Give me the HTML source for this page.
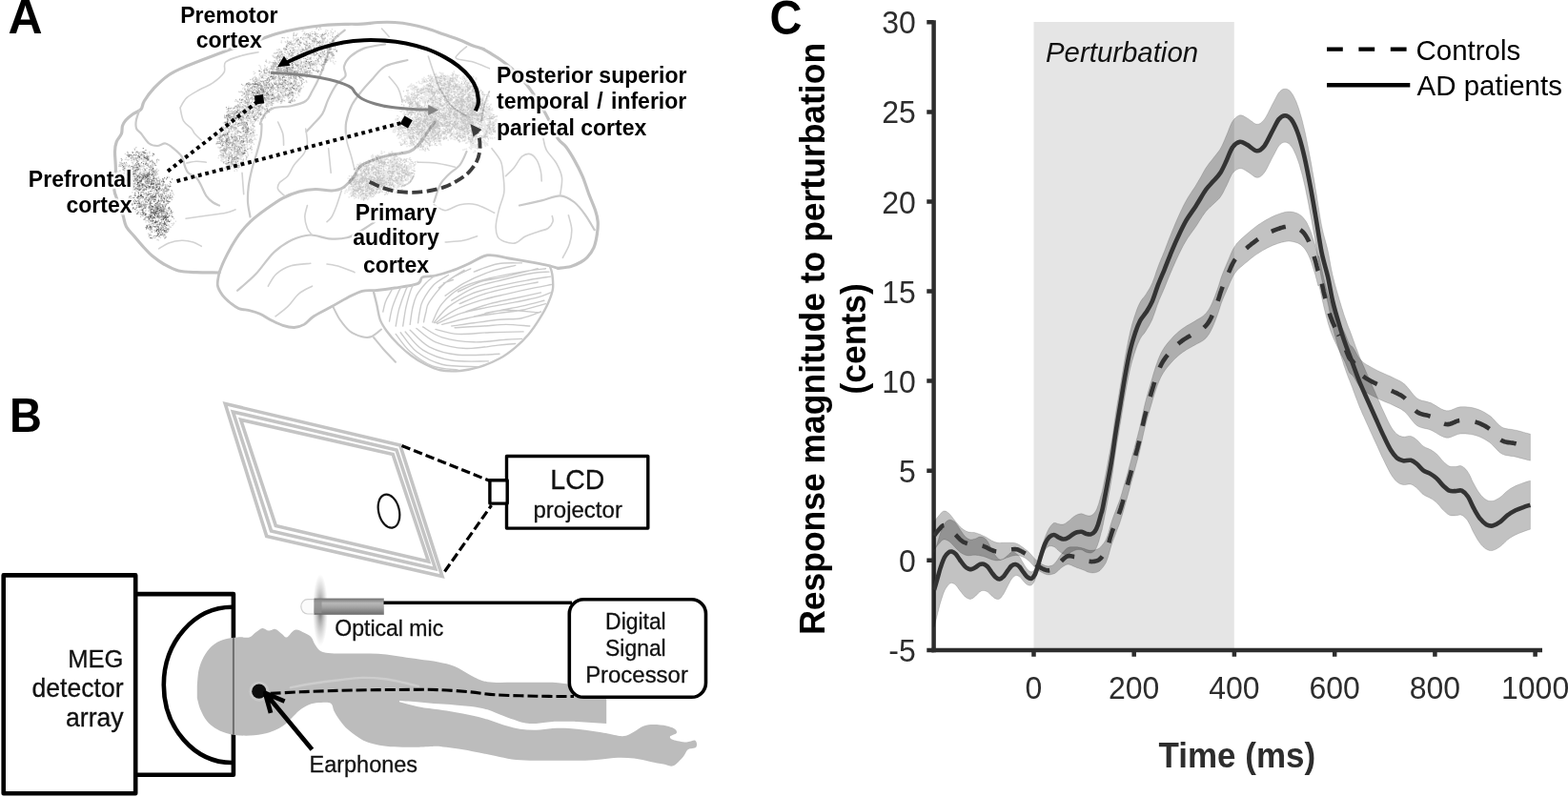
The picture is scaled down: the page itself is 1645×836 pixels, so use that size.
<!DOCTYPE html>
<html lang="en"><head><meta charset="utf-8"><title>Figure</title>
<style>html,body{margin:0;padding:0;background:#fff}body{width:1645px;height:836px;overflow:hidden}svg{display:block}</style></head>
<body>
<svg width="1645" height="836" viewBox="0 0 1645 836">
<rect width="1645" height="836" fill="#fff"/>
<g id="panelA">
<g fill="none" stroke-linecap="round" stroke-linejoin="round">
<path d="M230 286C226 285.9 213.1 286 206 285.7C198.9 285.4 192.9 285.4 187.2 284C181.5 282.6 176.4 279.6 171.8 277C167.2 274.4 163.3 271.4 159.9 268.6C156.5 265.8 154.5 263.4 151.3 260C148.2 256.6 144.1 251.7 141 248C137.9 244.3 134.5 241.5 132.5 237.8C130.5 234.1 130.4 230.1 129 225.8C127.6 221.5 125.5 216.6 124 212C122.5 207.4 120.1 204.1 119.7 198.4C119.3 192.7 121.3 184.6 121.4 178C121.5 171.4 120.4 163.9 120.5 159C120.6 154.1 121 151.9 122.2 148.8C123.4 145.7 126.4 143.1 127.4 140.3C128.5 137.5 127.7 134.4 128.5 132C129.3 129.6 130.2 128.1 132 126C133.8 124 136.7 121.6 139.3 119.7C142 117.8 145.9 116.9 147.9 114.6C149.9 112.3 149 109.7 151.3 106C153.6 102.3 157.3 97 161.6 92.4C165.9 87.9 171.3 82.6 177 78.7C182.7 74.8 188.7 72.4 195.8 69.3C202.9 66.2 211.4 63 219.7 59.9C228 56.8 236.8 53.5 245.4 50.5C254 47.5 263.3 44.5 271 41.9C278.7 39.3 284.5 37 291.6 35C298.7 33 305.8 31.4 313.8 30C321.8 28.6 331 27.3 339.5 26.5C348 25.7 358.2 25.5 365 25.3C371.8 25.1 374.7 25.5 380 25.2C385.3 24.9 391.3 23.8 397 23.5C402.7 23.2 408.3 23.1 414 23.5C419.7 23.9 425.3 24.6 431 25.7C436.7 26.8 442.6 28.3 448.4 30C454.1 31.7 459.8 34 465.5 36C471.2 38 477.5 40 482.6 42C487.7 44 492.3 46.5 496.3 48C500.3 49.5 503.2 49.8 506.6 51.3C510 52.8 513.4 55.2 516.8 57.3C520.2 59.4 522.7 60.7 527 64C531.3 67.3 537.8 72.3 542.5 77C547.2 81.7 550.9 86.5 555 92C559.1 97.5 563.3 104 567 110C570.7 116 574 122.1 577 128C580 133.9 582.5 141.1 585.3 145.4C588.1 149.7 590.9 150.3 593.8 154C596.6 157.7 599.5 162.5 602.4 167.6C605.3 172.7 608.4 178.7 611 184.7C613.6 190.7 615.5 197.6 617.8 203.6C620.1 209.6 623 215.9 624.6 220.7C626.2 225.5 626.9 228.3 627.2 232.6C627.5 236.9 627 241.8 626.3 246.3C625.6 250.9 624.6 255.9 622.9 259.9C621.2 263.8 618.3 267.5 616 270C613.7 272.5 612 273.4 609.2 275C606.4 276.6 603 278.4 599 279.5C595 280.6 587.6 281.1 585.3 281.4" stroke="#c1c1c1" stroke-width="3.2"/>
<path d="M585.3 281.4C583.9 281 581 279.8 576.7 278.8C572.4 277.8 566.7 276.7 559.6 275.4C552.5 274.1 542 272.3 534 271C526 269.7 518.9 266.7 511.7 267.7C504.5 268.7 497.3 274.3 491 277C484.7 279.7 479.7 282 474 284C468.3 286 462.1 287.9 457 289C451.9 290.1 446.5 289.4 443.3 290.8C440.1 292.2 442.9 295.7 438 297.6C433.1 299.5 421.3 300.9 414.2 302C407.1 303.1 401.1 303.9 395.4 304.5C389.7 305.1 385.1 304.1 380 305.3C374.9 306.6 370.3 309.3 365 312C359.7 314.7 354 318.3 348 321.6C342 324.9 334 328.7 329.2 331.8C324.4 334.9 322.4 338.4 319 340.4C315.6 342.3 312.4 343.4 308.7 343.5C305 343.6 300.7 342.6 296.7 341.3C292.7 340.1 288.7 338 284.7 336C280.7 334 276.5 331 272.8 329.3C269.1 327.6 266.2 326.8 262.5 325.9C258.8 324.9 253.9 324.9 250.5 323.6C247.1 322.3 244.8 320.3 242 318C239.2 315.7 235.7 312.7 233.4 309.6C231.1 306.5 228.9 303.2 228.3 299.3C227.7 295.4 229.7 288.2 230 286" stroke="#c2c2c2" stroke-width="2.8"/>
<path d="M230 286C230.8 283.9 233 278 235 273.7C237 269.4 239.4 264.6 242 260C244.6 255.4 247.1 250.9 250.5 246.3C253.9 241.7 257.6 237.2 262.5 232.6C267.4 228 273.9 223.1 279.6 219C285.3 214.9 291 210.8 296.7 207.8C302.4 204.8 308.1 202.6 313.8 201C319.5 199.4 325.3 198.6 331 198.4C336.7 198.2 343.2 200.3 348 200C352.8 199.7 356.3 199 360 196.7C363.7 194.4 367 190.3 370.3 186.4C373.6 182.5 374.1 176.8 380 173C385.9 169.2 397.4 165.7 405.7 163.4C414 161.1 423.9 161.2 429.6 159C435.3 156.8 436.8 153.9 439.9 150.5C443 147.1 445.7 142.3 448.4 138.6C451.1 134.8 454.7 129.8 456 128" stroke="#c2c2c2" stroke-width="3"/>
<path d="M392 306.2C392.6 308.5 394.3 315.1 395.4 320C396.5 324.9 397.1 330.8 398.8 335.3C400.5 339.8 402.6 342.9 405.7 347.2C408.8 351.5 413.3 356.7 417.6 361C421.9 365.3 426.7 369.6 431.3 373C435.9 376.4 439.9 378.9 445 381.5C450.1 384.1 455.7 387.1 462 388.3C468.3 389.6 475.7 389.6 482.6 389C489.5 388.4 496.3 387 503.2 384.9C510.1 382.8 517.4 379.7 523.7 376.3C530 372.9 535.7 368.6 540.8 364.3C545.9 360 550.2 355.8 554.5 350.7C558.8 345.6 563.1 339.1 566.5 333.6C569.9 328.2 572.8 323.1 575 318C577.2 312.9 579.3 307.9 580 302.8C580.7 297.7 579.8 291.4 579.3 287.4C578.8 283.4 577.1 280.2 576.7 278.8" stroke="#c6c6c6" stroke-width="2.4"/>
<path d="M349.7 322.4C350.9 324.5 353.8 331.2 356.6 335.3C359.5 339.4 362.9 344.2 366.8 347.2C370.7 350.2 376.1 352.2 380 353.2C383.9 354.2 386.7 354.3 390 353C393.3 351.7 398.3 346.8 400 345.5" stroke="#c8c8c8" stroke-width="2"/>
<path d="M392 354C393.7 356 398.2 361.7 402 366C405.8 370.3 412.8 377.4 415 379.7" stroke="#c8c8c8" stroke-width="2"/>
<path d="M274.5 130C274.4 132.3 274.5 138.6 273.6 143.7C272.7 148.8 270.9 155.1 269.3 160.8C267.7 166.5 265.6 172.2 264.2 177.9C262.8 183.6 261.5 189.3 260.8 195C260.1 200.7 259.7 206.6 260 212C260.3 217.4 262.1 224.9 262.5 227.5M272.8 130C273.7 128.3 275.5 122.5 278 119.7C280.5 116.9 283.4 114.4 288 113C292.6 111.6 299.9 112.4 305.3 111.2C310.8 110 317 108.6 320.7 106C324.4 103.4 324.9 100.3 327.5 95.8C330.1 91.2 333.4 84.7 336 78.7C338.6 72.7 340.7 65.9 343 59.9C345.3 53.9 346.6 47.5 349.7 42.8C352.8 38.1 359.7 33.5 361.7 31.6M489.5 159C488.4 161.3 485.7 168.8 482.6 172.8C479.5 176.8 474.1 179.6 470.7 183C467.3 186.4 464.6 188.5 462 193.3C459.4 198.1 456.4 208.9 455.3 212M545 215.5C548.9 214.7 561.1 212.1 568.2 210.4C575.3 208.7 582.1 205 587.8 205.3C593.5 205.6 598 208.6 602.4 212C606.8 215.4 610.8 220.9 614.3 225.8C617.8 230.7 622.1 238.6 623.7 241.2M249.1 304.8C252.3 301.9 261.9 294.3 268.3 287.6C274.7 280.9 281 270.6 287.4 264.6C293.8 258.6 300.2 254.6 306.6 251.6C313 248.6 319.3 246.7 325.7 246.5C332.1 246.3 338.4 249.8 344.8 250.3C351.2 250.8 358.2 250.7 364 249.3C369.8 247.9 374.5 244.4 379.3 241.7C384.1 239 390.5 234.4 392.7 233M146 116C145.5 117.8 143.3 123.4 142.8 126.6C142.3 129.8 142.3 132.8 143.2 135C144.1 137.2 145.8 137.4 148 140C150.2 142.6 153.6 148.3 156.4 150.5C159.2 152.7 162.1 153 165 153C167.9 153 170.8 150.1 173.6 150.5C176.4 150.9 179.2 153.4 182 155.7C184.8 158 188.7 161.1 190.7 164.2C192.7 167.3 192.9 171.7 194 174.5C195.1 177.3 195.5 179.3 197.5 181.3C199.5 183.3 203.7 184.1 206 186.4C208.3 188.7 209.5 191.8 211.2 195C212.9 198.2 214.3 202.5 216.3 205.3C218.3 208.1 220.7 210.3 223 212C225.3 213.7 228.8 214.9 230 215.5M404 46.3C400.4 47 388.2 48.4 382.1 50.6C376 52.8 371 56.2 367.5 59.4C364 62.6 361.9 66.2 361 69.6C360.1 73 363.7 76.6 362.4 79.8C361.1 83 356 84.5 353 88.6C350 92.7 346.6 99.5 344.2 104.6C341.8 109.7 341.1 114.8 338.4 119.2C335.7 123.6 330.9 127.8 328.1 130.9C325.3 134 322.6 136.8 321.5 138M427.4 63C423.5 64.1 410.1 66.3 404 69.6C397.9 72.9 395 78.3 390.9 82.7C386.8 87.1 382.8 91.3 379.2 95.9C375.6 100.5 371.7 105.2 369 110.5C366.3 115.8 364.2 123.1 363.2 128C362.2 132.9 362.9 138 362.8 140" stroke="#c9c9c9" stroke-width="2.2"/>
<path d="M189 113C190.1 111.3 192.4 105.8 195.8 102.6C199.2 99.4 205 96.6 209.5 94C214 91.4 218.8 90.2 223 87.2C227.2 84.2 232.7 79.7 235 76C237.3 72.3 233.6 68 236.8 65C240 62 248.3 59.9 254 58.2C259.7 56.5 268.2 55.3 271 54.7M189 113C189.6 115.3 190.4 122.9 192.4 126.6C194.4 130.3 199 132.7 201 135C203 137.3 202.6 138.3 204.3 140.3C206 142.3 210 145.9 211.2 147M291.6 128C292.5 130.1 295.7 136.3 296.7 140.3C297.7 144.3 297.5 150.2 297.6 152.2M195.8 171C197.5 170.7 202.6 169.4 206 169.3C209.4 169.2 214.6 170 216.3 170.2M195 229.2C199.1 228.6 212.7 226.8 219.7 225.8C226.7 224.8 232.2 224.2 236.8 223.2C241.4 222.2 245.3 220.4 247 219.8M166.7 260.9C168.4 259.9 173 256.3 177 254.9C181 253.5 186.4 252.5 190.7 252.3C195 252.2 199.2 253 202.6 254C206 255 209.8 257.6 211.2 258.3M254 181.3L255.7 203.6M344.6 155.7L347.2 181.3M320.7 135C321 137.6 322.7 146.2 322.4 150.5C322.1 154.8 321.3 157.1 319 160.8C316.7 164.5 311.6 168.8 308.7 172.8C305.8 176.8 304.4 181.6 301.8 184.7C299.2 187.8 295 189.3 293.3 191.6C291.6 193.9 290.8 196.1 291.6 198.4C292.5 200.7 297.3 204.2 298.4 205.3M362.8 140C363.1 141.7 363.3 146 364.3 150C365.3 154 367.3 159.5 368.6 164.2C369.9 168.9 371.4 175.7 372 178M322.4 215.5C322 217.5 319.8 223.5 319.8 227.5C319.8 231.5 321.2 236.4 322.4 239.5C323.6 242.6 326.2 244.9 327 246M358.3 200C357.4 202.6 354.9 210.9 353.2 215.5C351.5 220.1 349.7 224.7 348 227.5C346.3 230.3 343.8 231.8 343 232.6M400.5 30L408.2 38.5M408.2 80.4C409.8 82.4 415.3 88.1 417.6 92.4C419.9 96.7 421.3 103.7 422 106M449.3 59C450.3 62 453.2 71.2 455.3 77C457.4 82.8 459.1 88.6 462 94C464.9 99.4 469 105.5 472.4 109.5C475.8 113.5 479.2 115.7 482.6 118C486 120.3 491.3 122.3 493 123.2M489.5 48.8C488.1 50.1 482.7 54.3 481 56.4C479.3 58.5 476.6 60.2 479.2 61.6C481.8 63 490.6 63.3 496.3 65C502 66.7 510.5 70.7 513.4 71.8M513.4 95.8C512.5 98.1 509.7 104.4 508.3 109.5C506.9 114.6 505.5 123.8 504.9 126.6M438.2 170.2C441.3 170.3 450.4 170.2 457 171C463.6 171.8 474.1 174.6 477.5 175.3M516 155.7C517.6 158 523.4 164.5 525.4 169.3C527.4 174.1 527.4 179.3 528 184.7C528.6 190.1 529.5 196.1 528.8 201.8C528.1 207.5 525.1 213.3 523.7 219C522.3 224.7 520.6 231.2 520.3 236C520 240.8 520.6 245.1 522 248C523.4 250.9 525.7 252 528.8 253.2C531.9 254.3 537.1 255.8 540.8 254.9C544.5 254 547 250 551 248C555 246 560.7 244.3 564.7 242.9C568.7 241.5 572.5 241.2 575 239.5C577.5 237.8 579.3 234.8 580 232.6C580.7 230.4 579.4 227.6 579.3 226.6M530.5 184.7C531.9 183.3 536.1 179.6 539 176.2C541.9 172.8 544.7 166.6 547.6 164.2C550.5 161.8 553.6 161 556.2 161.6C558.8 162.2 561.1 164.6 563 167.6C564.9 170.6 566.4 175.9 567.3 179.6C568.2 183.3 568.1 188.3 568.2 190M570 145.4C570.5 147.4 571 153.1 573.3 157.4C575.6 161.7 580.9 166.2 583.6 171C586.3 175.8 588.8 181 589.5 186.4C590.2 191.8 588.1 200.7 587.8 203.6M596.4 225.8C597 228.4 599.7 236.1 599.8 241.2C599.9 246.3 598.8 251.8 597.2 256.6C595.6 261.5 591.5 268 590.4 270.3M455.3 214.7C457.3 215.7 462.6 220.7 467.2 220.7C471.8 220.7 477.2 215.7 482.6 214.7C488 213.7 493.7 213.3 499.7 214.7C505.7 216.1 515.5 221.8 518.6 223.2M467.2 254C470.3 253.7 480.4 253.4 486 252.3C491.6 251.2 498.2 248.5 500.6 247.7M422 195C423.3 194.4 427.6 193.3 429.6 191.6C431.6 189.9 433.3 185.8 434 184.7M281.3 300.2C282.7 298.1 285.9 291 289.9 287.4C293.9 283.8 299.3 280.6 305.3 278.8C311.3 277 322.4 276.7 325.8 276.3M289 331.8C291.1 330.1 297.7 325.6 301.8 321.6C305.9 317.6 309.5 311.5 313.8 307.9C318.1 304.3 325.2 301.5 327.5 300.2M343 277C345.3 277.4 351.8 278.2 356.6 279.7C361.4 281.1 369.4 284.7 372 285.7" stroke="#d2d2d2" stroke-width="1.6"/>
<clipPath id="cbc"><path d="M392 306.2C392.6 308.5 394.3 315.1 395.4 320C396.5 324.9 397.1 330.8 398.8 335.3C400.5 339.8 402.6 342.9 405.7 347.2C408.8 351.5 413.3 356.7 417.6 361C421.9 365.3 426.7 369.6 431.3 373C435.9 376.4 439.9 378.9 445 381.5C450.1 384.1 455.7 387.1 462 388.3C468.3 389.6 475.7 389.6 482.6 389C489.5 388.4 496.3 387 503.2 384.9C510.1 382.8 517.4 379.7 523.7 376.3C530 372.9 535.7 368.6 540.8 364.3C545.9 360 550.2 355.8 554.5 350.7C558.8 345.6 563.1 339.1 566.5 333.6C569.9 328.2 572.8 323.1 575 318C577.2 312.9 579.3 307.9 580 302.8C580.7 297.7 579.8 291.4 579.3 287.4C578.8 283.4 577.1 280.2 576.7 278.8L576.7 278.8C573.9 278.2 566.7 276.7 559.6 275.4C552.5 274.1 542 272.3 534 271C526 269.7 518.9 266.7 511.7 267.7C504.5 268.7 497.3 274.3 491 277C484.7 279.7 479.7 282 474 284C468.3 286 462.1 287.9 457 289C451.9 290.1 446.5 289.4 443.3 290.8C440.1 292.2 442.9 295.7 438 297.6C433.1 299.5 421.3 300.9 414.2 302C407.1 303.1 399.1 303.8 395.4 304.5C391.7 305.2 392.6 305.9 392 306.2Z"/></clipPath>
<path d="M401.8 327C402.2 325.3 403.2 320 404.3 316.9C405.4 313.9 406.9 311.3 408.5 308.6C410 305.8 412.6 301.6 413.5 300.2M408.5 337C409 334.5 410.1 327.2 411.8 321.9C413.5 316.6 416.6 309.4 418.5 305.2C420.5 301 422.7 298.2 423.5 296.8M415.2 342C415.8 339 417 330 418.8 323.6C420.7 317.2 423.9 308.6 426 303.5C428.2 298.5 430.9 295.2 431.9 293.5M422.7 342C423.3 338.7 424.5 328.6 426 321.9C427.6 315.2 429.8 306.9 431.9 301.9C434 296.8 437.5 293.5 438.6 291.8M430.2 340.4C430.6 337.6 431.6 328.6 432.7 323.6C433.9 318.6 434.6 314.7 436.9 310.2C439.3 305.8 443.6 300.5 447 296.8C450.3 293.2 455.3 289.9 457 288.5M438.6 338.7C438.9 336.7 439.4 330.9 440.3 327C441.1 323.1 441.1 320 443.6 315.2C446.1 310.5 450.9 303 455.3 298.5C459.8 294 467.9 290.1 470.4 288.5M444.5 337.9C444.9 336 446 330.5 447 327C447.9 323.5 447 321.9 450.3 316.9C453.7 311.9 460.9 302.4 467.1 296.8C473.2 291.3 483.8 285.7 487.1 283.4M453.7 337.9C455.3 334.6 458.7 324.6 463.7 318.6C468.7 312.6 475.4 306.3 483.8 301.9C492.2 297.4 503.3 294.6 513.9 291.8C524.5 289 537.7 286.8 547.4 285.1C557.2 283.4 568.3 282.3 572.5 281.8M455.3 338.4C457.9 335.6 464 326.9 470.4 321.9C476.8 317 485.2 312.2 493.8 308.6C502.5 304.9 512 302.7 522.3 300.2C532.6 297.7 546.6 295.2 555.8 293.5C565 291.8 573.9 290.7 577.6 290.1M457 338.7C460.4 336.5 469.3 329.2 477.1 325.3C484.9 321.4 495 318 503.9 315.2C512.8 312.5 521.2 310.8 530.7 308.6C540.2 306.3 552.9 303.5 560.8 301.9C568.8 300.2 575.5 299.1 578.4 298.5M458.7 339.5C462.9 337.7 474.6 331.6 483.8 328.6C493 325.7 504.4 323.9 513.9 321.9C523.4 320 532.4 318.6 540.7 316.9C549.1 315.2 558 313.6 564.2 311.9C570.3 310.2 575.3 307.7 577.6 306.9M463.7 340.4C468.2 339.2 480.7 335.6 490.5 333.7C500.3 331.7 512.8 330 522.3 328.6C531.8 327.2 539 327 547.4 325.3C555.8 323.6 568.3 319.7 572.5 318.6M473.8 342C477.7 341.5 488.8 339.8 497.2 338.7C505.6 337.6 515.6 336.2 524 335.3C532.4 334.5 540.2 335.1 547.4 333.7C554.7 332.3 564.2 328.1 567.5 327M477.1 343.7C482.1 343.4 498.3 342.6 507.2 342C516.2 341.5 522.6 340.4 530.7 340.4C538.8 340.4 551.6 341.8 555.8 342M465.4 296.8L475.4 293.5M480.5 306C484.6 304.2 497.2 297.8 505.6 295.2C513.9 292.5 520.9 292.4 530.7 290.1C540.4 287.9 558.6 283.2 564.2 281.8M508.9 328.6C512.5 328.1 521.5 325.4 530.7 325.3C539.9 325.2 558.6 327.4 564.2 327.8M497.2 285.1C501.4 283.7 513.9 278.3 522.3 276.7C530.7 275.2 543.2 276 547.4 275.9M467.1 310.2C470.4 308 479.3 301 487.1 296.8C495 292.6 505 288.2 513.9 285.1C522.9 282 536.3 279.5 540.7 278.4M473.8 315.2C477.7 313 488.3 305.5 497.2 301.9C506.1 298.2 517.3 296 527.3 293.5C537.4 291 549.4 288.2 557.5 286.8C565.6 285.4 572.8 285.4 575.9 285.1M482.1 318.6C486.3 316.9 498.6 311.3 507.2 308.6C515.9 305.8 524.5 303.9 534 301.9C543.5 299.8 559.1 297 564.2 296M488.8 327C493 325.6 505.3 321 513.9 318.6C522.6 316.2 531.8 314.7 540.7 312.7C549.7 310.8 563 307.9 567.5 306.9M497.2 332C501.4 331 513.9 327.9 522.3 326.1C530.7 324.3 539.3 322.9 547.4 321.1C555.5 319.3 567 316.2 570.9 315.2M460.4 301.9C462.6 300.2 468.2 295.2 473.8 291.8C479.3 288.5 490.5 283.4 493.8 281.8M457 345.4C460.9 346.2 471 349.8 480.5 350.4C489.9 351 502.5 349.2 513.9 348.7C525.4 348.3 543.2 348 549.1 347.9M443.6 342.9C447 344.7 454.8 351.1 463.7 353.8C472.6 356.4 486 358.4 497.2 358.8C508.4 359.2 522.3 356.8 530.7 356.3C539 355.7 544.6 355.6 547.4 355.4M436.9 344.5C440.3 346.9 448.4 355.3 457 358.8C465.7 362.3 477.9 364.9 488.8 365.5C499.7 366 513.7 363 522.3 362.1C531 361.3 537.7 360.7 540.7 360.5M430.2 346.2C433.6 349.2 441.9 359.5 450.3 363.8C458.7 368.1 468.2 370.9 480.5 372.2C492.7 373.4 516.7 371.5 524 371.3M425.2 347.9C428.3 351.1 435.5 362.1 443.6 367.1C451.7 372.2 462.3 376.1 473.8 378C485.2 380 505.8 378.7 512.3 378.9M420.2 348.7C423 352.1 429.7 363.2 436.9 368.8C444.2 374.4 453.1 379.6 463.7 382.2C474.3 384.9 494.4 384.3 500.5 384.7M415.2 350.4C417.7 353.5 423.8 363.2 430.2 368.8C436.6 374.4 445.3 380.7 453.7 383.9C462 387.1 476 387.4 480.5 388.1" stroke="#cbcbcb" stroke-width="1.4" clip-path="url(#cbc)"/>
</g>
<defs><filter id="sb" x="-5%" y="-5%" width="110%" height="110%"><feGaussianBlur stdDeviation="0.55"/></filter><filter id="sb2" x="-5%" y="-5%" width="110%" height="110%"><feGaussianBlur stdDeviation="0.4"/></filter></defs>
<g fill="none" stroke-linecap="round">
<g filter="url(#sb2)"><path d="M153 194.7h.1M153.5 193.7h.1M155.2 195h.1M135.1 188.4h.1M134.7 188.4h.1M135.4 190.2h.1M156.2 207.9h.1M153.4 206h.1M153.2 206.8h.1M142.1 180.9h.1M137.5 178.7h.1M138.5 180.7h.1M168 239.8h.1M169.9 238.6h.1M167 241.7h.1M169.6 227.5h.1M167 226.7h.1M166.5 228.5h.1M152.4 183.9h.1M152.2 182h.1M151.5 184.9h.1M143.7 197.5h.1M145.7 198h.1M145.2 197.9h.1M142.5 167.5h.1M141.1 167.5h.1M140.6 167.4h.1M148.3 194.9h.1M150.1 196.1h.1M148.2 195.3h.1M165.7 191.4h.1M165.4 190.8h.1M164.8 189.7h.1M150.3 198.1h.1M150.1 197.2h.1M149.6 196.2h.1M160.2 236.4h.1M162.4 235h.1M161.1 237.1h.1M147.4 206h.1M150.1 206.7h.1M148.6 204.1h.1M163.4 220.8h.1M163.7 219.8h.1M165.1 219.7h.1M160.7 219.8h.1M160.7 218.8h.1M161.7 218.8h.1M137.7 164.6h.1M138.9 166.6h.1M137.9 165.8h.1M164.2 213.8h.1M164.7 214.5h.1M166 216.1h.1M159 192.9h.1M160.8 192.3h.1M158.8 192.4h.1M169.7 239.9h.1M169.5 240.2h.1M171 240.7h.1M134.9 179.1h.1M136.7 177h.1M136.7 176.6h.1M172.1 208.2h.1M173.1 207.9h.1M170.9 206.7h.1M157.5 240.9h.1M158.6 239.2h.1M159.4 239.2h.1M163.6 208.4h.1M165.9 210.5h.1M163.9 207.2h.1M141.4 184.8h.1M141.5 185.3h.1M140.7 185.7h.1M147.1 177.5h.1M145.8 176.8h.1M147 176.1h.1M159.3 178.4h.1M158 179.8h.1M159.5 179.2h.1M157.9 214.4h.1M156.8 216.4h.1M157.8 214.9h.1M168.2 219.2h.1M168.9 220.2h.1M168.1 221.3h.1M156 233h.1M155.6 232.5h.1M156 231.4h.1M144.7 190.7h.1M145.9 189.8h.1M146.3 189.5h.1M149.1 173.9h.1M148.4 175.1h.1M150.9 176.5h.1M149.3 201h.1M151 200.2h.1M150.5 200.1h.1M148.1 212.5h.1M148.6 215.8h.1M150.2 214.1h.1M164.8 193h.1M166.5 193.6h.1M164.9 193.6h.1M147.5 202h.1M147.3 199.9h.1M147.8 202.3h.1M161.8 206.5h.1M163.9 206.2h.1M162.3 208.8h.1M142.8 167.3h.1M140.9 167.9h.1M140.1 165.6h.1M169.6 246.2h.1M167.8 244.1h.1M169 242.8h.1M139.4 170.4h.1M138.2 170.4h.1M139.5 170.1h.1M165 228.3h.1M164 226.9h.1M163.9 227.8h.1M164.1 215.2h.1M164.7 214.8h.1M166.4 214.6h.1M169.2 208.4h.1M169.1 207.3h.1M168.6 208.3h.1M146.1 189.5h.1M146.6 189.2h.1M148.1 188.5h.1M145.1 208.4h.1M146.4 209.5h.1M146.9 210.8h.1M143.8 199.1h.1M142.4 198h.1M142.5 200.2h.1M170.8 205.1h.1M170.4 208.8h.1M170.3 205.6h.1M160 234.1h.1M160.8 232.6h.1M159.4 234.5h.1M145.8 224.1h.1M147.3 222.9h.1M145.8 221.9h.1M148.4 163.6h.1M149.9 163.7h.1M146.4 165.2h.1M144.1 198.9h.1M143.2 197.9h.1M143.4 197.5h.1M135.9 180.8h.1M138.9 180h.1M137.9 180.1h.1M156 181.9h.1M157.1 180.1h.1M156.2 180.8h.1M178.6 194.3h.1M177.8 192.6h.1M178.4 193.7h.1M173.2 227.2h.1M174.8 228.6h.1M173.9 230.2h.1M130.2 175.1h.1M131.3 176h.1M130.6 176.6h.1M146.1 164h.1M145.7 162.2h.1M145.3 164h.1M130.4 182.8h.1M129.6 181.8h.1M129.9 184.5h.1M141.2 199.5h.1M139.5 199.1h.1M138.8 201.8h.1M181.9 228.7h.1M180.6 227.5h.1M182.5 229.4h.1M145.8 173.6h.1M145.6 173.2h.1M145.8 172.1h.1M139.3 181.3h.1M139.9 179.9h.1M140.5 182.3h.1M166.2 252h.1M165.4 251.4h.1M164.8 251.6h.1M163.5 217.9h.1M164.2 217.3h.1M162.9 216.2h.1M128.9 185.7h.1M127.2 186.3h.1M127.6 185h.1M171.1 215.2h.1M172.9 215.6h.1M172.8 216.9h.1M169.2 228.2h.1M171.1 227.4h.1M169.8 227.2h.1M146.6 196.8h.1M146.6 198.2h.1M148 197.3h.1M138.2 176.5h.1M137.7 174.5h.1M139.1 174.6h.1M150.9 182.4h.1M151.9 182.3h.1M150.9 185h.1M141.1 188h.1M141.3 184.6h.1M142.9 187.2h.1M159.1 175.9h.1M159.2 178.2h.1M158.9 178.2h.1M125.7 170.3h.1M129.5 172.5h.1M127.2 170.1h.1M171.2 190.2h.1M171.6 187.9h.1M171 189.3h.1M181.1 207.2h.1M180.2 207.2h.1M179.2 207.6h.1M161.6 211h.1M163 209.6h.1M161.3 208.7h.1M145.5 196.5h.1M145 197h.1M143.1 196.5h.1M143.1 187.5h.1M143.9 189.6h.1M142.5 186.8h.1M148.5 207.3h.1M149.8 206.3h.1M150.2 206.1h.1M133 179.7h.1M132.7 181.5h.1M131.9 179h.1M162.6 178.4h.1M160.7 177.8h.1M161.3 178.2h.1M161.3 180.8h.1M159.7 180.9h.1M156.7 181.5h.1M150.7 196.3h.1M149.7 195.3h.1M149.9 197.4h.1M133.9 163.3h.1M131.3 161.4h.1M134.3 161.9h.1M159.3 230.1h.1M162.3 229.4h.1M160 229.6h.1M148.1 180.6h.1M149.3 177.8h.1M150.2 179.3h.1M163.9 199.5h.1M164.4 196.4h.1M163.8 197h.1M158.6 203.1h.1M160.6 203.9h.1M158.2 206.4h.1M141.8 197.7h.1M142.9 198.4h.1M142.5 198h.1M148 196.6h.1M144.6 196.8h.1M144.9 196.1h.1M158.8 242.6h.1M158.3 243.1h.1M158.4 240.8h.1M146.7 185.3h.1M147.1 185h.1M146.4 186h.1M145 194.7h.1M146.7 197.8h.1M145.9 197.3h.1M146.5 183.1h.1M146.1 182h.1M145.3 182.8h.1M154 182.8h.1M153.4 181.3h.1M153 182.5h.1M140.2 204.9h.1M141.5 205.7h.1M141.7 203.4h.1M173.8 230.4h.1M175 228.6h.1M173.8 231.2h.1M165.4 234h.1M166 231.6h.1M165.6 232.4h.1M160.9 173.8h.1M161 171.3h.1M161.3 171.3h.1M125.7 179.3h.1M126.1 179.3h.1M123.9 180h.1M130.2 181.4h.1M130.7 181.9h.1M132.1 181.2h.1M141 189.1h.1M139.3 188h.1M140.4 189.6h.1M156.8 160.9h.1M156.5 159.9h.1M156.9 159.3h.1M176.7 221.1h.1M176.6 220.9h.1M177.4 220.8h.1M174.3 206.7h.1M173.9 205.8h.1M174.5 206.6h.1M153.6 220.1h.1M152.4 223.4h.1M150.6 222.7h.1M134.4 176.3h.1M132.7 176.4h.1M134.5 175.2h.1M160.1 173.2h.1M159.4 172.8h.1M159.9 173.3h.1M150.6 183.5h.1M148.7 182.8h.1M150.4 182.7h.1M161.2 189.8h.1M160.6 186.7h.1M161 189.4h.1M162.5 222h.1M163.7 222.7h.1M161.7 222.1h.1M133 186.3h.1M131.6 189.6h.1M134.1 188.6h.1M156 171.9h.1M152.8 172.5h.1M155.9 171.8h.1M167.8 200.5h.1M171.3 198.7h.1M170 200h.1M173.9 244.3h.1M174 243.9h.1M174 241.6h.1M156.1 187.6h.1M157.4 185.6h.1M158.4 186h.1M144.5 198.8h.1M144 197.4h.1M143.7 200.4h.1M154.4 212.1h.1M157.6 213.3h.1M155.7 211.2h.1M159.3 230.7h.1M161.8 234h.1M160 233.3h.1M182.4 234.2h.1M184.3 232.1h.1M181.9 235h.1M161 172.6h.1M161.1 170.8h.1M159.8 172.2h.1M165.4 182.7h.1M164.7 181.9h.1M163.6 184.4h.1M160.5 197.4h.1M161.2 199.5h.1M161.2 201.5h.1M138.4 168.1h.1M137.7 168.4h.1M138.1 168.6h.1M169 210.8h.1M164.8 212.5h.1M166.6 211.3h.1M143 217.5h.1M143 218.2h.1M143.3 218.1h.1M157.2 207.6h.1M156.9 208.7h.1M158.6 207.1h.1M157.4 221.8h.1M158.1 217.8h.1M156.7 219.6h.1M162.2 249.4h.1M163.5 249.3h.1M161 249.7h.1M139.3 213.4h.1M138.8 211.8h.1M138.1 212.9h.1M156.5 230h.1M158.8 231.7h.1M156.8 233.5h.1M152.9 188.3h.1M154.6 187.6h.1M155 187.2h.1M153.2 231.4h.1M151.1 229.9h.1M153 232.9h.1M170.3 221.7h.1M171 221.6h.1M171.9 219.5h.1M147 166.2h.1M146.4 165.4h.1M145.9 165.2h.1M149.6 181.6h.1M152.6 178.9h.1M151.6 177.9h.1M146 217h.1M149.1 220.5h.1M148.9 217.9h.1M138.6 185.6h.1M137.4 186.4h.1M138.4 185.8h.1M171.6 229.3h.1M172.8 231.8h.1M172.3 232.7h.1M150.2 165.1h.1M150.6 164.6h.1M152 165.4h.1M154.7 204.5h.1M152.1 204.9h.1M153.8 204.4h.1M165.6 235.8h.1M163.1 234.4h.1M165.7 231.9h.1M180.9 236.5h.1M179.2 238.2h.1M181 236.3h.1M166.2 245.1h.1M166.5 245.1h.1M166.1 243.2h.1M158.5 190.3h.1M156 192.4h.1M158.5 189h.1M169.8 207.9h.1M171.8 207h.1M171.3 206.7h.1M134.4 178.6h.1M134.5 179.4h.1M135 178.8h.1M176.4 200.3h.1M176.7 199.2h.1M175.8 198.1h.1M150.1 219.6h.1M150.7 218.4h.1M149 217.2h.1M176.2 221.6h.1M176.3 219h.1M175.7 220.7h.1M168.2 213h.1M169 211.7h.1M167.8 213.5h.1M142.4 160.5h.1M140.9 162.5h.1M142.6 161.2h.1M137.1 166.6h.1M134.2 168.1h.1M135.1 167.3h.1M151.5 179.2h.1M150.2 180.1h.1M153 179.2h.1M160.4 227.5h.1M157.8 227.5h.1M159.6 226.3h.1M159.2 230h.1M160.3 230.1h.1M159.4 229.4h.1M151.8 169.5h.1M152.4 171.3h.1M152 169.8h.1M146.4 211.1h.1M146.7 213.5h.1M147.9 214h.1M180.1 222.1h.1M179.8 220.4h.1M181.3 222.4h.1M148.6 183h.1M150.5 184.8h.1M147.6 185h.1M180.2 225h.1M178.6 224.5h.1M177.5 226.1h.1M166 228.1h.1M162.5 228.9h.1M162.3 228.8h.1M150.4 212.4h.1M148.4 213.4h.1M150.4 213.8h.1M147 185.8h.1M146.2 186.6h.1M145.8 187.6h.1M159.7 228h.1M159.5 228.5h.1M159.9 227.7h.1M163.4 227.4h.1M164.4 227.4h.1M164.1 228.4h.1M125.6 170.8h.1M125.8 170.6h.1M126.4 172.9h.1M132 174.3h.1M132.9 171.2h.1M130 173.3h.1M140.8 169.1h.1M144 168.8h.1M142.7 168.1h.1M152.1 218.2h.1M151.3 218.1h.1M153.1 217.8h.1M159.1 225.9h.1M158 225.6h.1M158.5 227.8h.1M160.1 191.6h.1M160.4 191.7h.1M160.1 192.4h.1M148 173.4h.1M146 176.8h.1M147.3 178.4h.1M168.4 207.2h.1M170.2 208.4h.1M170.7 208.4h.1M177.5 196.3h.1M176.9 195.1h.1M177.1 195.3h.1M145 201.4h.1M144.5 201.4h.1M145.1 199h.1M160.4 169.8h.1M159.5 170.7h.1M160.8 171h.1M182.4 204.1h.1M181.3 202.3h.1M181.2 203h.1M154.5 164.6h.1M157.5 163.4h.1M155.5 164.6h.1M137.2 184.2h.1M137.4 182h.1M137.9 183h.1M165.5 219.5h.1M166.5 218.5h.1M168.2 219.7h.1M162 203h.1M162.8 200h.1M162.6 200.5h.1M144.5 191.7h.1M145.4 195.5h.1M146.7 193h.1M142 210.6h.1M142.6 211.4h.1M143.4 211.3h.1M162.9 224.2h.1M162.5 223.6h.1M161.2 223.2h.1M137.6 179.7h.1M139.9 180.7h.1M139.9 181.3h.1M131.9 177.1h.1M130.3 176.9h.1M130.6 175.5h.1M161 199h.1M158.7 198.5h.1M160.6 195.8h.1M174.6 215.2h.1M174.7 214.4h.1M172.9 214.8h.1M173.4 215.9h.1M173.2 216.2h.1M171.5 215h.1M164.6 169.6h.1M164.4 169h.1M164.4 170.7h.1M164.1 241.8h.1M169 242.1h.1M164.5 242h.1M170.3 210.4h.1M172 212.9h.1M172.3 211.8h.1M155.5 173.7h.1M153.5 173.4h.1M154.7 173.2h.1M134.5 164.1h.1M133.6 163.4h.1M135.1 164.1h.1M175.4 232.8h.1M175.6 231.3h.1M174.1 230.2h.1M163.8 187.1h.1M163.8 186.9h.1M163.5 188h.1M173.7 207.2h.1M172.3 207.9h.1M172.7 209.4h.1M139.2 170.6h.1M139.1 171.7h.1M139.7 171.9h.1M173.6 197.5h.1M177 194.9h.1M173.8 195.1h.1M164.6 177.2h.1M164.2 178h.1M164.6 181h.1M153.8 209.9h.1M154.2 212.4h.1M152.4 212h.1M132.9 167.4h.1M131.3 167.2h.1M132.5 165.5h.1M154.7 180.9h.1M154.2 180.2h.1M152.2 181.3h.1M145.4 173.4h.1M145.1 174.4h.1M145.8 174.7h.1M153.1 189.8h.1M154.4 189.6h.1M152.5 192.1h.1M132.3 186.9h.1M131.5 186.4h.1M129.9 186.3h.1M168.2 238.2h.1M167.4 240.9h.1M169.4 238.1h.1M144 188.3h.1M141.7 189.3h.1M140.9 187.3h.1M157.3 225.8h.1M159.1 222.9h.1M159.4 224.6h.1M144.2 180.9h.1M144.2 179.8h.1M142.8 180.1h.1M152.7 192.7h.1M151.8 193.8h.1M152.5 191.5h.1M173.2 225.6h.1M172.1 224h.1M171.4 223.4h.1M148.2 189.7h.1M149 189.1h.1M147.4 189.3h.1M168.6 244.1h.1M168 246.6h.1M165.8 242.9h.1M171.9 220.3h.1M174.2 219.1h.1M173.6 219.4h.1M165.6 217.3h.1M165.3 217.9h.1M166.5 220.3h.1M150.6 194.9h.1M152.5 195.4h.1M153.7 195.2h.1M160.2 193.1h.1M157.5 195.8h.1M160.6 193.1h.1M145.7 173.4h.1M141.8 173.6h.1M143.3 173.9h.1M160.8 180h.1M159.9 180.6h.1M162.6 180.1h.1M165.9 192.6h.1M169.8 191h.1M167.3 189h.1M168.1 228.5h.1M171.2 226.8h.1M169.8 227.6h.1M148.2 174.1h.1M150.6 172.9h.1M149.3 174.7h.1M151.6 181h.1M150.4 182.3h.1M151.3 180.4h.1M152.3 215.1h.1M151.2 215.7h.1M153.8 215.8h.1M158.7 207.6h.1M156.1 211.1h.1M157.7 207.5h.1M132.9 191.8h.1M131.2 190.2h.1M133.3 190.2h.1M174.7 220.7h.1M174.3 219.2h.1M173.8 219h.1M132.4 183h.1M132.3 183.7h.1M135.3 182.1h.1M140.4 196.7h.1M140.7 195.5h.1M139.5 196.9h.1M169.7 226.6h.1M168.2 226.8h.1M169.9 225.9h.1M146.9 180.1h.1M144.2 178.4h.1M145 176.3h.1M142.5 167.6h.1M142.8 165.8h.1M141.2 166.4h.1M155 196h.1M153.4 198.7h.1M154.1 196.7h.1M144.8 212.2h.1M145.4 212.5h.1M146 211.6h.1M169.1 230h.1M170.6 228.7h.1M171.9 228.5h.1M145.2 185.6h.1M143.4 188.3h.1M145.9 187.9h.1M142.5 219.5h.1M143.2 220.5h.1M144.4 220.7h.1M149.9 161.5h.1M147.6 163.1h.1M148.6 161.2h.1M158.4 168.9h.1M156.3 166.5h.1M156.4 164.7h.1M143.1 165.8h.1M143.4 165.5h.1M140.2 165.1h.1M169.8 237.8h.1M169.4 239.9h.1M170.2 241.2h.1M133.7 173.2h.1M134.1 176.5h.1M133.2 173.9h.1M152.7 187.7h.1M150.7 187h.1M149.5 187.2h.1M161.2 176.8h.1M159.6 174.1h.1M159.9 176h.1M159.6 222.6h.1M161.1 224.6h.1M161.3 224.3h.1M136.8 181h.1M138.5 182.7h.1M138 183.2h.1M150.2 162.3h.1M151.2 163.2h.1M150.2 163.8h.1M140.3 207.3h.1M137.3 206.2h.1M141.1 207.4h.1M163.3 183.7h.1M162 182.5h.1M162 184.5h.1M152 193.7h.1M152.1 193.8h.1M152.1 190.5h.1M150.8 163h.1M150.3 162.8h.1M148.6 162.8h.1M145.8 208.4h.1M146 209.2h.1M145.5 209.6h.1M163.4 226.6h.1M165.1 224.3h.1M164 224.1h.1M176.8 241.2h.1M175.8 241.3h.1M174.8 241.7h.1M160 177h.1M159.9 178.8h.1M159.6 178.7h.1M144 223.8h.1M142.2 221.9h.1M143.9 223.7h.1M130.5 190.6h.1M128.6 189.1h.1M132 189.4h.1M149.5 197.3h.1M146.9 196.4h.1M147.8 198.4h.1M147.9 191.1h.1M145.4 189.4h.1M145.6 191.9h.1M146.6 177.2h.1M146.7 175.8h.1M146.4 176h.1M141 189.5h.1M142.8 186.5h.1M142.8 187.9h.1M152.2 190.5h.1M147.8 189.5h.1M152.8 187.9h.1M175.2 185.9h.1M177.6 186h.1M176 185.1h.1M180 234.4h.1M182.2 233.9h.1M179.2 231h.1M168.2 249.4h.1M166.9 248.4h.1M167.8 247.5h.1M147.9 166.3h.1M148.1 167.6h.1M147.7 166.3h.1M168.9 198.3h.1M167.7 200.1h.1M169 199.2h.1M173 226.8h.1M170.5 224.8h.1M170.6 226.6h.1M157.9 220.7h.1M158.6 219.3h.1M158.8 220.8h.1M161.4 183.2h.1M159.5 183.1h.1M159.7 181.4h.1M129.7 177.3h.1M130 176.8h.1M129 177.4h.1M166.9 229h.1M167.8 232.1h.1M167.3 229.4h.1M176.7 205h.1M174.8 202.9h.1M175.4 206.4h.1M174.9 196.5h.1M175.2 193.4h.1M173.5 194.1h.1M133.3 184.1h.1M134.7 183.7h.1M133.1 184.1h.1M171.3 224.2h.1M171.4 223.3h.1M172.5 221h.1M153.8 224.4h.1M153.2 225h.1M153.1 224.3h.1M172.1 214.8h.1M171.2 217h.1M171.1 216.3h.1M150.5 196.1h.1M150.9 193.3h.1M151.1 194.9h.1M176.5 236.2h.1M176.9 236.9h.1M176.8 235.8h.1M155 172.5h.1M153.8 172.1h.1M154.6 172.4h.1M173.5 222.7h.1M174.5 221.2h.1M173 223.1h.1M134.6 182.3h.1M134.5 183.1h.1M136.4 182.7h.1M162.3 181.6h.1M162.3 179.1h.1M162.9 180.8h.1M177.1 224.7h.1M177.8 223.4h.1M175.3 222.1h.1M157.5 239.7h.1M158 240h.1M157 238.4h.1M162.4 216.8h.1M162.4 217.8h.1M162.2 215h.1M145.2 173.6h.1M147.2 174.5h.1M145.3 175.3h.1M144.5 172.1h.1M143.4 175h.1M146.5 176.4h.1M151.8 195.6h.1M153.4 195.9h.1M152.9 195.7h.1M142.4 160.3h.1M143 159.4h.1M143.1 158.8h.1M176.8 226.6h.1M175 228.7h.1M175 230.7h.1M162.3 205.8h.1M163.4 204.1h.1M160.7 207.4h.1M167.3 194.9h.1M167.4 195.9h.1M168.6 198.4h.1M153.5 210.9h.1M153.1 210.5h.1M154.7 209.3h.1M153.3 186.4h.1M152.3 186.1h.1M152.8 188h.1M159.9 219h.1M161.7 222.1h.1M160.5 224h.1M151.3 225.1h.1M149.8 221.8h.1M151 226.1h.1M172.7 214.4h.1M173.3 214.1h.1M173.4 216.8h.1M175 195.3h.1M173.6 195.8h.1M174.9 194.7h.1M144.6 177.1h.1M144.5 177h.1M145.8 178.3h.1M168.9 194.3h.1M168.3 194.7h.1M169.7 195.1h.1M180.1 222.5h.1M178.2 224.6h.1M178.7 223.2h.1M150.6 161.9h.1M150.5 159.8h.1M150.9 160.4h.1M161.1 224.2h.1M160.3 224.4h.1M160.5 224h.1M138 206.1h.1M136.4 206.9h.1M137.5 207.7h.1M161.2 217h.1M159.9 216.1h.1M160.3 216.8h.1M166.8 223.9h.1M167.6 223.4h.1M165.7 222.3h.1M174.9 240.6h.1M176.9 240.4h.1M176.7 242.2h.1M151.1 198.4h.1M153.5 198.6h.1M152.2 198.1h.1M175.5 210.7h.1M176 212.7h.1M175.8 211.8h.1M150.4 185.4h.1M150.6 186.9h.1M149.5 186.9h.1M140.4 174.2h.1M141.4 174.9h.1M140.1 173.4h.1M132 187.8h.1M131.5 187.7h.1M130.3 188h.1M159.9 228h.1M158.8 227.8h.1M159.6 228.9h.1M169.3 204.5h.1M168.2 205.2h.1M170.3 203.7h.1M175.1 234.8h.1M174.4 233h.1M176.3 232.4h.1M157.4 168.9h.1M158.3 168.8h.1M157.1 170h.1M168.3 226.9h.1M168.5 227.9h.1M168.9 226.9h.1M178.9 205.9h.1M178 206.6h.1M179.4 207.9h.1M146.5 160h.1M148.1 159.5h.1M146.9 159.7h.1M165.3 215.7h.1M167.2 217h.1M165.9 215.4h.1M157.8 218.2h.1M156.4 215.9h.1M158.9 218.5h.1M151.6 174.5h.1M150.5 174.3h.1M150.4 174.7h.1M154.9 238.5h.1M155.1 236.8h.1M154.8 237.3h.1M158.7 221.5h.1M159.9 222.9h.1M157 219.9h.1M143.4 172.7h.1M147.4 171.9h.1M144.9 173h.1M164.1 198h.1M163.4 198.4h.1M166.2 197.7h.1M154.5 188.4h.1M155.3 189.1h.1M154.5 191.8h.1M171.1 243.9h.1M170.7 244.2h.1M172.7 243h.1M156.7 222h.1M157.2 220.2h.1M155.6 221.4h.1M164.2 237.9h.1M166.3 239.2h.1M167.8 240.5h.1M166.8 227.4h.1M165 226.7h.1M166.7 226.6h.1M168.2 207.4h.1M167.1 206.1h.1M166.2 208h.1M170.5 244.6h.1M172.5 246.2h.1M172.7 246h.1M162.5 228.4h.1M160.3 227.8h.1M160 228.5h.1M149.4 167h.1M146 168.1h.1M148.4 165.8h.1M166.7 211.7h.1M168.1 213.3h.1M166.7 211.5h.1M129.1 175.3h.1M129 177.3h.1M130.4 178.6h.1M167.5 211.7h.1M167.9 211.2h.1M168.3 213h.1M157.8 186.2h.1M161 187.3h.1M158.5 185.6h.1M171.2 219.8h.1M173.4 221.6h.1M171.4 220h.1M161.5 203h.1M163.8 203h.1M162 204.7h.1M172.8 243h.1M169.7 244.7h.1M172.7 242.7h.1M157.3 203.4h.1M156.4 202.9h.1M157.9 205h.1M155.8 231.6h.1M156.2 230.9h.1M154.7 231.4h.1M163.9 205.5h.1M163.9 204.3h.1M161.5 206.1h.1M153.1 183.1h.1M153.5 182.8h.1M153.4 182.2h.1M164.2 182.9h.1M166.4 178.8h.1M165.2 179.6h.1M168.7 205.5h.1M170.1 210.1h.1M169.2 209.1h.1M142.3 155h.1M143 154.5h.1M141 155.9h.1M131.4 177.1h.1M129.9 176.1h.1M130.2 177h.1M156.2 189.5h.1M156.2 188h.1M155.3 189.7h.1M161.6 228.3h.1M163.4 230h.1M162 228.2h.1M164.7 196.6h.1M164.9 196.5h.1M164.5 195.6h.1M158.6 238.6h.1M158.4 238.9h.1M156.9 237.3h.1M174.3 203h.1M174.4 200h.1M173.8 201.1h.1M152 215.4h.1M151.4 216.2h.1M150.4 215h.1M144.9 198.3h.1M145.7 197.2h.1M146.3 199.9h.1M176.4 212.3h.1M176.4 208.9h.1M175.8 211.2h.1M177.7 217.3h.1M178.9 219.1h.1M177.9 218.3h.1M155.3 190.1h.1M155.8 191.9h.1M154.1 190.3h.1M140.2 167.3h.1M138.6 167.9h.1M137.4 165.7h.1M161 170.7h.1M163.1 173.1h.1M162.4 171.5h.1M131.3 174.4h.1M131.1 171.7h.1M130.3 171h.1M144 184h.1M143.1 186.5h.1M145.2 185.4h.1M157.1 220.7h.1M156.2 220.4h.1M158.9 219.6h.1M154.3 163h.1M155.9 163.7h.1M153.9 162.7h.1M147.4 187.4h.1M147.8 188.2h.1M148.7 189.2h.1M157.9 219.4h.1M158.3 218.6h.1M158.2 220.4h.1M147.2 191.8h.1M146.8 194.5h.1M149.9 192.5h.1M171.8 205.7h.1M170.7 206.5h.1M172.2 206.4h.1M159.2 193.4h.1M157.7 194.6h.1M156.1 193.1h.1M178.6 238.2h.1M177.1 236.3h.1M177.9 238h.1M174.8 225h.1M173.3 223.8h.1M172.5 222.9h.1M166.4 186.6h.1M166.8 187.5h.1M166.4 185.7h.1M171.8 228.1h.1M170.1 226.9h.1M171.6 227h.1M158.4 243.5h.1M157.7 245.4h.1M159.7 242.1h.1M146.8 220.3h.1M148.8 219.3h.1M147.8 220.2h.1M156.2 236.7h.1M157.2 239.9h.1M157.8 238.5h.1M151.2 199.3h.1M151.6 199.8h.1M152.2 198.5h.1M166.7 201.3h.1M166.9 203.6h.1M165.7 202.6h.1M156.8 170.1h.1M159.5 168h.1M160.4 169.2h.1M175.1 206.5h.1M177.9 207.7h.1M178.2 206.3h.1M140.6 218.5h.1M140 218.2h.1M140.4 217.8h.1M174 204.3h.1M172.4 202.8h.1M175.1 200.7h.1M152.5 212.9h.1M153.6 207.3h.1M152.2 208.6h.1M156.8 236.8h.1M155.9 236.6h.1M156.8 237h.1M156.7 229.4h.1M158.1 228.7h.1M158.9 227.8h.1M159.1 174.9h.1M160.4 174.6h.1M158 173.8h.1M156.8 216.2h.1M153.5 215.2h.1M153.6 217.2h.1M162.7 222.9h.1M162.5 226h.1M162.3 225.5h.1M154.1 207.6h.1M154.4 206.6h.1M154.5 207.5h.1M156.6 188.6h.1M155.6 189.6h.1M157.6 186.7h.1M152.3 168h.1M153.8 165.8h.1M154.3 165.5h.1M152.6 193.9h.1M153 191.6h.1M151.7 190.8h.1M145.3 167.9h.1M144.6 169.2h.1M146.2 167.4h.1M148.8 184.1h.1M151.1 182.9h.1M151.2 185h.1" stroke="#000" stroke-opacity="0.16" stroke-width="1.4"/>
<path d="M150.8 203.9h.1M150.1 201.5h.1M152.9 202.3h.1M158.2 247h.1M158.3 246.9h.1M157 246.7h.1M159.3 240.7h.1M159.7 243.6h.1M157.4 241.1h.1M164.4 241.2h.1M164.8 240.4h.1M164.6 241.2h.1M170.3 218.1h.1M170.5 214.9h.1M168.7 217.1h.1M160.2 232.1h.1M159.1 232.4h.1M160.4 232h.1M135.2 183.7h.1M136.4 183.3h.1M135.4 181.3h.1M171.9 219.8h.1M172.5 219.5h.1M171.4 218.6h.1M163.1 182h.1M162.8 182.9h.1M163.9 180.3h.1M153.4 189.9h.1M152.6 191.2h.1M156 190.7h.1M161.7 227.1h.1M160.4 227.7h.1M158.6 228h.1M166.6 167.9h.1M164.4 167.8h.1M165.2 167.1h.1M176.4 240h.1M175.9 239.8h.1M176.6 240.2h.1M150.3 185h.1M150.9 186.8h.1M151.6 183.8h.1M147.6 227.3h.1M149.3 223.9h.1M148 225.4h.1M149.8 184.9h.1M147.9 182.9h.1M150.4 182.2h.1M164.4 225.2h.1M162.9 226.2h.1M163.3 224h.1M149.5 196.4h.1M151.7 197.9h.1M148.3 197.8h.1M155 182.7h.1M155.2 181.4h.1M154.8 181.6h.1M155.8 188.1h.1M156.7 187.7h.1M155 186.7h.1M127.6 168.3h.1M127.2 166.5h.1M128 167.3h.1M155.4 239.3h.1M156 240h.1M158.2 237.2h.1M151.7 165.2h.1M155.8 167.4h.1M154.5 164.2h.1M162.1 222.4h.1M163 222.6h.1M162.8 221h.1M145.7 215.4h.1M144.8 214.9h.1M148.9 214.6h.1M147.1 215.5h.1M146.6 214.5h.1M148.1 215.5h.1M174.4 198.4h.1M175.1 199.3h.1M172.7 197.2h.1M154.3 164.8h.1M152.1 165.1h.1M151.2 163.5h.1M159.4 209.1h.1M160.6 208.6h.1M157.9 208.1h.1M158.2 193.5h.1M159.1 192.8h.1M158.9 193.4h.1M146.6 165.4h.1M144.9 166h.1M146.1 164.4h.1M170.8 228.8h.1M169 230.4h.1M172.5 229.1h.1M164.7 193.7h.1M163.3 194h.1M162.1 190.9h.1M177 239.9h.1M174.1 239.5h.1M176.2 240.5h.1M178.5 204.5h.1M179.1 204.3h.1M178.2 205.9h.1M152.4 178.5h.1M151.8 177.1h.1M152.6 178h.1M171.9 222.3h.1M172.1 222.5h.1M171 222.9h.1M156.5 175.4h.1M157.9 174.7h.1M158 174.1h.1M172.9 246.3h.1M172.6 249.9h.1M173.6 249.5h.1M143.3 162.5h.1M145.4 164.5h.1M145.8 161.8h.1M146.5 213.1h.1M146.1 213.7h.1M145.6 211.4h.1M139.7 162.4h.1M139.5 163.8h.1M142.3 163.2h.1M151.9 229h.1M150.9 230.3h.1M152.2 230h.1M160.9 220.4h.1M160.7 220.4h.1M161.2 220.7h.1M160.9 248h.1M162.3 247.4h.1M163.6 247.7h.1M150.1 194.6h.1M150.2 193.3h.1M151.1 194.1h.1M173.1 227.5h.1M170.9 230.6h.1M171.1 229.7h.1M163.2 192.7h.1M161.7 194.9h.1M161 192.2h.1M166.7 225.9h.1M168 227.7h.1M169.2 224.1h.1M156.1 185.8h.1M156.7 184.7h.1M154.4 185h.1M167.1 218.5h.1M167.2 218.6h.1M164.8 216.7h.1M156.5 191.3h.1M154.2 192.6h.1M153.5 192.3h.1M157.5 228.4h.1M157.4 225.3h.1M157.6 226.9h.1M171.5 191.8h.1M170.5 193h.1M173.1 193.8h.1M164.9 195h.1M167.1 192.4h.1M165.7 192.4h.1M162.8 233.7h.1M163.4 232.1h.1M164.6 233h.1M159.9 180.1h.1M160 181.8h.1M161.6 179.6h.1M171.5 240.5h.1M171.2 240.9h.1M172 239.7h.1M167 239.8h.1M169.6 239.5h.1M169.7 239.4h.1M163.3 221.5h.1M163.9 219.4h.1M162.7 220.7h.1M166.8 199.2h.1M164.2 202.6h.1M166.4 204.5h.1M164.9 213.9h.1M165.9 214.8h.1M168.1 215.9h.1M127.2 172.1h.1M127 171.1h.1M128.5 171.4h.1M136.9 180h.1M137.7 178.5h.1M137.5 177.4h.1M149.3 214.8h.1M149 216.5h.1M147.6 214.2h.1M143.3 189.4h.1M143.1 189.5h.1M143.8 186.6h.1M162.2 171.3h.1M162.6 173h.1M163.6 173.6h.1M171.9 211.6h.1M172.6 208.9h.1M171.2 210.6h.1M146.1 184.6h.1M144.1 185.1h.1M145.1 184.7h.1M144.2 175.8h.1M143.3 175.4h.1M144.6 175.7h.1M180.2 209.3h.1M180.7 206h.1M178.6 207.6h.1M157.8 169.5h.1M160.7 170.2h.1M159.4 169h.1M167.1 234.9h.1M165.2 235.4h.1M167.6 235h.1M162.6 217.8h.1M163 218.9h.1M164 218.6h.1M140.6 184.3h.1M139 183.5h.1M138.6 183h.1M173.6 196.2h.1M174.6 197.5h.1M173.6 197.1h.1M152.3 185.4h.1M151.4 183.7h.1M150.7 186.3h.1M141.2 213h.1M140.6 211.7h.1M140.9 213.8h.1M140.6 178.7h.1M141.6 180h.1M140.7 179.9h.1M138.1 178.9h.1M138.1 177.6h.1M139.3 177.5h.1M162 190.9h.1M164.9 186.8h.1M163.4 187.3h.1M172.6 245.8h.1M172.9 247.8h.1M174.1 248.5h.1M156.6 184.9h.1M156.6 183.8h.1M156.5 182h.1M146.3 199.2h.1M145.4 202h.1M145.8 199.7h.1M170.8 241.5h.1M172.7 242.5h.1M169.6 241.3h.1M171.8 199.1h.1M170.5 198.2h.1M173.1 197.6h.1M163.8 221.6h.1M165.4 221.2h.1M163.2 222.3h.1M133.2 162.5h.1M133.8 159.4h.1M134.1 160.6h.1M153.5 203.6h.1M153.6 202.4h.1M151.9 203.2h.1M159.1 196.5h.1M162.3 197.1h.1M160.7 196.1h.1M163.7 223h.1M165 222.8h.1M164.8 224.2h.1M138.2 183.4h.1M137.5 182.8h.1M135.6 183h.1M144.2 171.9h.1M144.9 169.7h.1M142.4 171.5h.1M165.6 247.2h.1M166.4 242.8h.1M165.5 246.1h.1M138.6 163.9h.1M139.1 165.4h.1M140.1 162.6h.1M138.4 174.6h.1M137.5 174.9h.1M142.5 175.5h.1M155.5 191.8h.1M156.1 192.5h.1M154.8 194.5h.1M174.5 242.6h.1M175.6 243.5h.1M174.6 243.7h.1M167.5 228.2h.1M165.9 228.3h.1M165.8 227.7h.1M166.4 237.4h.1M163.5 238.1h.1M164.1 239.9h.1M141.4 162.4h.1M144.8 159.4h.1M143.3 159.5h.1M159.2 188.2h.1M159.3 188.3h.1M160.6 187.3h.1M178.5 232.1h.1M177.8 232.6h.1M177.7 232.7h.1M146.8 182h.1M147.1 180.9h.1M146.9 181.6h.1M160.2 204h.1M160.1 204.5h.1M159.5 205.9h.1M131 179.1h.1M129.2 178.3h.1M131.2 177h.1M147.3 190h.1M145.3 191.6h.1M145.8 193.4h.1M130.5 176.6h.1M130.9 176.6h.1M129.1 177.8h.1M150.7 202.1h.1M147.8 202.8h.1M148.7 201.5h.1M172.3 203h.1M169.3 199.4h.1M172.3 201h.1M151.9 218.2h.1M152.7 221.2h.1M149.4 224.2h.1M133.7 188.3h.1M136.4 189.1h.1M137.2 188.6h.1M160.2 179.4h.1M158.9 178.6h.1M163.3 179.1h.1M151.8 230.2h.1M153.1 228.3h.1M152.7 227.9h.1M162.5 205.6h.1M163.6 206.3h.1M163.2 204.1h.1M156.6 185.1h.1M155.9 184.3h.1M156.5 185.6h.1M146.7 217.6h.1M142.9 218.1h.1M147.2 217.2h.1M156.7 238.6h.1M154.5 238.4h.1M157.3 237.2h.1M171.4 238.8h.1M168.8 239h.1M171.5 241.8h.1M169.2 219.1h.1M167.3 218.6h.1M168.9 218.4h.1M148.5 193.6h.1M147.1 191.9h.1M148.5 192.6h.1M135.6 186.2h.1M135.6 188.7h.1M137.2 185h.1M169.3 208.5h.1M169.3 207h.1M169.1 208.6h.1M149.3 226h.1M147.4 224.1h.1M150.1 226.1h.1M171.7 210.6h.1M172.1 212.2h.1M172.8 211h.1M141.6 187.8h.1M142.7 187.6h.1M141.8 185.8h.1M173 196.5h.1M174.1 198.1h.1M170.5 197.9h.1M173.4 224.8h.1M171.4 222.8h.1M173 224.8h.1M133.6 187.9h.1M131.9 189.4h.1M132.6 188.4h.1M167.2 189.9h.1M164.4 188.1h.1M168.1 188.8h.1M149.2 192.7h.1M148.4 190.7h.1M149.6 193.7h.1M142.4 182h.1M142.4 181.6h.1M140.1 180.2h.1M171.3 194.3h.1M171.4 193.2h.1M170.5 194.5h.1M162 241.5h.1M163.5 242.4h.1M162.5 243.1h.1M170 215h.1M170.2 215h.1M168.4 214.2h.1M175.1 239.8h.1M175.4 240.4h.1M173.4 239.7h.1M149.7 220.2h.1M150.7 218.3h.1M148.8 220.4h.1M158.5 238.2h.1M158.4 239.7h.1M159 237.7h.1M164.6 220.9h.1M163.3 221.8h.1M161.3 223.2h.1M145.7 212.1h.1M143.4 211.6h.1M143.7 213.5h.1M173.2 217.8h.1M171.7 218.6h.1M172.1 221.7h.1M158.7 209.9h.1M158.4 210.8h.1M161.7 211.2h.1M163.7 216h.1M163.2 217.2h.1M163.4 218.3h.1M155.1 190.8h.1M154.5 192.1h.1M154.9 192.7h.1M169.4 221.3h.1M167.5 222.9h.1M168.6 222.6h.1M154 214.3h.1M155.2 214.1h.1M154.3 212.3h.1M144.5 206.3h.1M147.8 205.4h.1M147.8 207.8h.1M167.2 215h.1M166.8 216.6h.1M167.6 215.7h.1M125 174.6h.1M126.8 174.3h.1M125.1 173h.1M172.3 218.5h.1M170.6 220.4h.1M171.5 217.3h.1M155.5 210.6h.1M156.1 207.2h.1M155.1 209.4h.1M142.1 172.9h.1M141.5 173.2h.1M143.3 173.2h.1M143.4 184.2h.1M144.1 187.4h.1M144.3 184.4h.1M170.3 219.7h.1M169.4 218.8h.1M171.4 220h.1M163.6 210.8h.1M165.8 213.4h.1M165 212.7h.1M164.6 225.5h.1M162.7 224.5h.1M163.7 223.5h.1M135.3 207.3h.1M136.9 208.3h.1M138.8 208h.1M167.1 220.9h.1M167 222.1h.1M166.9 220.7h.1M164.1 221.9h.1M164.2 223h.1M164.3 222h.1M159 219.5h.1M158.5 219.7h.1M158.4 219.5h.1M159.3 231.4h.1M157.1 229.9h.1M158 231.2h.1M151.7 213.9h.1M151.2 216.6h.1M151.1 214.3h.1M157.9 192.1h.1M160.1 192.7h.1M158.1 191h.1M143.3 215.7h.1M144.1 217.1h.1M146.5 217h.1M163.8 193.4h.1M163.9 196.1h.1M162.7 196.1h.1M140.5 182.9h.1M140.8 178.9h.1M138 182.5h.1M158.7 217.6h.1M158.4 215.5h.1M158.4 216.5h.1M173.2 242.2h.1M173.6 243.5h.1M172 241.6h.1M146 204.8h.1M148.1 204.3h.1M147.5 205h.1M152.9 198.4h.1M153.8 198.2h.1M154.1 196.7h.1M142.6 197.1h.1M140.8 196h.1M142.4 196.8h.1M158.5 188.3h.1M161.5 189.8h.1M159.9 190.4h.1M134.8 163h.1M136.8 162.9h.1M134.5 163.9h.1M157.9 195.8h.1M156.3 197.2h.1M155.8 197h.1M153.3 199.1h.1M150.6 199.1h.1M149.4 199.4h.1M164.7 199.9h.1M164.8 199.7h.1M163.3 198.1h.1M166.6 235.2h.1M171.1 236.6h.1M167.3 236h.1M155.1 181.8h.1M156.9 182.4h.1M155.6 183.1h.1M151.5 218.2h.1M152.6 218.5h.1M152.4 218h.1M166.1 189.7h.1M164.8 189.7h.1M164.5 188.4h.1M156.8 177.7h.1M154 176.5h.1M156.5 178.6h.1M157.2 197.3h.1M156 195.7h.1M158.5 195.6h.1M174.9 200.8h.1M173.7 200.4h.1M175.8 199.5h.1M163.2 202.3h.1M164.8 202.5h.1M166.2 202.7h.1M145.4 210.3h.1M141.3 209.4h.1M144.4 210.4h.1M170.8 246.5h.1M171.4 247.8h.1M171.3 246.1h.1M162.1 219.8h.1M161.3 221.6h.1M162 220.2h.1M156.2 228.8h.1M156.7 227.4h.1M156.1 225.2h.1M164 235.9h.1M164.7 235.8h.1M164.4 235.3h.1M137 205.3h.1M136 206.7h.1M135.7 206.1h.1M144.6 160h.1M141.4 157h.1M144.1 159.1h.1M151.1 183.7h.1M151.4 186.1h.1M151.4 182.3h.1M147.5 192.2h.1M150.6 193.2h.1M151.4 194.3h.1M156.8 195.9h.1M157.2 196.2h.1M155.3 194.6h.1M165.8 224.8h.1M166.1 223.4h.1M165.6 226.7h.1M151.8 210.1h.1M149.9 211h.1M148.6 211.8h.1M168 221.7h.1M168.6 219.5h.1M165.2 219.7h.1M168.3 217.7h.1M168.3 219.2h.1M165.4 218.3h.1M141.9 179.3h.1M141.7 178.5h.1M141.2 178.2h.1M160.2 234.4h.1M160.9 235.2h.1M160.8 235h.1M164.7 218.8h.1M165.2 219.2h.1M165.2 218.5h.1M131.3 185.2h.1M130 185.4h.1M132.5 186.4h.1M164.1 203h.1M165.9 201.2h.1M165.4 203h.1M144.2 165.1h.1M141.5 162.6h.1M145.5 164.4h.1M157.1 188.3h.1M155.8 185.7h.1M157.2 186.9h.1M148.1 186.2h.1M148.6 186.8h.1M146 184.2h.1M148.5 183.4h.1M149.2 183.3h.1M148.1 185.6h.1M166.1 197.4h.1M165.7 195.3h.1M164.5 196h.1M156 218.6h.1M157.3 218.2h.1M157.7 220h.1M166.6 227h.1M167.5 227.8h.1M167.2 226h.1M170 236.9h.1M171 234.3h.1M169.7 233.8h.1M158.6 183.6h.1M156.6 181.2h.1M159 182.2h.1M147.6 207.6h.1M146.7 208.3h.1M149.7 208.2h.1M140.1 194.9h.1M141.3 192.4h.1M140.1 192.9h.1M162.6 198.7h.1M161.9 197.3h.1M162.8 196.1h.1M165.7 216.3h.1M167.4 213.6h.1M166.9 215.3h.1M160.6 185.1h.1M161.4 184.7h.1M158.8 183.5h.1M138.5 192.8h.1M140.6 193h.1M140.4 190.5h.1M166.2 240.8h.1M166.8 241.9h.1M168.2 241.3h.1M145.8 205h.1M145.7 205.3h.1M146.7 206.4h.1M156.1 198h.1M157.5 196.3h.1M157.3 196.8h.1M137.3 165.8h.1M135.5 164.3h.1M138.4 163.6h.1M155.8 174.7h.1M155.2 173.1h.1M154.9 173.5h.1M146.6 216.6h.1M146.2 215h.1M146 216.4h.1M170.9 202.1h.1M170.6 204.4h.1M171.7 201.9h.1M165.4 219.8h.1M167.7 222.1h.1M167 220.5h.1M164.3 217.6h.1M162.9 215.7h.1M164.2 216.4h.1M152.6 214.9h.1M151.5 214.9h.1M150.6 215h.1M143.9 168.8h.1M143.8 168.3h.1M143.3 166.9h.1M138.3 183.1h.1M138.7 185.2h.1M134.3 183.5h.1M134.6 187.3h.1M134.9 186.6h.1M136.5 187.1h.1M158.3 178h.1M156.5 180.2h.1M157 177.6h.1M157.7 175.9h.1M157.8 174h.1M158.6 175.8h.1M166.2 228.6h.1M166 231.9h.1M166.2 230.8h.1M144.2 194h.1M142.1 193.8h.1M144.4 193.2h.1M172.4 198.6h.1M171.2 200.2h.1M172.1 199.9h.1M153.5 211.7h.1M152.9 214.3h.1M152.5 211.7h.1M167.5 215.9h.1M166.8 218.1h.1M168.8 217.3h.1M174.3 238.7h.1M172.1 236.9h.1M172 239.6h.1M147.2 185.5h.1M146.7 182.4h.1M147.5 182.7h.1M173.7 235h.1M173.1 234h.1M173 237.3h.1M155.4 205.2h.1M156.9 203.7h.1M154.3 205h.1M156.9 226.9h.1M155.5 228.5h.1M155.3 226.9h.1M152.1 189.8h.1M151.7 188.2h.1M154.3 188.1h.1M179 207.7h.1M177.6 207.8h.1M177.9 208.2h.1M158.2 207.1h.1M161 206.1h.1M160.5 209.7h.1M155.6 165.1h.1M153.9 164.1h.1M155.1 163.9h.1M144.1 191.8h.1M143.9 190.2h.1M146.5 189.3h.1M134.1 188.9h.1M134.4 187.2h.1M133.9 188.4h.1M161.8 196.8h.1M158.9 196.7h.1M160.4 195.6h.1M162.4 189.3h.1M161 188.9h.1M163.7 191.1h.1M148.2 197.8h.1M146.9 195.6h.1M145.9 196.8h.1M132.3 170.3h.1M130.3 170.9h.1M131.9 172.9h.1M178.8 202.5h.1M180 199.6h.1M180.2 200.5h.1M152.6 160h.1M154.1 160.9h.1M151 160.5h.1M158.9 190.2h.1M157.2 190.4h.1M155.4 192h.1M180.4 227.6h.1M180 226.4h.1M181.4 227.3h.1M148.1 217h.1M150.2 219.1h.1M149.3 219.9h.1M135.7 178h.1M134.7 178.2h.1M132.6 178.4h.1M169.5 225.1h.1M169.4 225.4h.1M170 227.3h.1M177.1 199.1h.1M175.9 198.3h.1M176.9 198.3h.1M163.5 213.6h.1M164.8 214.2h.1M163.1 215h.1M142.3 190h.1M142.6 189.2h.1M142.9 189.3h.1M172.7 228.7h.1M173.7 226.7h.1M173.6 228.5h.1M175.2 232.5h.1M175 232.7h.1M174.2 231.2h.1M135.7 173.5h.1M135.1 174.7h.1M136.1 175.3h.1M167.7 215.7h.1M169 214.6h.1M167.1 216.8h.1M141 182h.1M142.6 183.6h.1M142.7 182.7h.1M172.5 235.5h.1M173.2 233.7h.1M172.1 236.6h.1M155.8 196.7h.1M156.8 197.4h.1M156.2 195.6h.1M142.9 166.6h.1M142 165.5h.1M140.3 167.1h.1M159.2 238.5h.1M158.2 235.2h.1M156.3 235.5h.1M163.8 192.1h.1M163.5 191.5h.1M165.9 193.3h.1M140.2 189.5h.1M141.9 192h.1M141.9 192.6h.1M152.2 217.5h.1M150.8 215.6h.1M152.9 216.5h.1M145.8 160.7h.1M148.1 161.7h.1M147.2 162.9h.1M156.3 247.9h.1M156.6 246.4h.1M155.8 245.1h.1M152.3 225.1h.1M152.4 223.9h.1M150.3 223.9h.1M166.8 222h.1M168.2 221h.1M166.6 222.8h.1M162.1 225.7h.1M161.7 222.4h.1M160 222.5h.1M166.5 205.4h.1M166.4 204.4h.1M166.2 205h.1M134.7 184.2h.1M133.2 182.9h.1M135.7 184h.1M139.9 176.3h.1M141.3 176h.1M140.3 176h.1M176.3 204.7h.1M175.9 206.9h.1M176.9 206.4h.1M141.6 213.3h.1M142 213.2h.1M139.9 210.5h.1M169.6 210.9h.1M168.3 210.2h.1M170.4 209.9h.1M148.8 162.5h.1M148.5 166.3h.1M151.3 163.4h.1M162.1 209.9h.1M162.3 206.3h.1M163.6 207.1h.1M173.6 238h.1M174.4 235.7h.1M175.3 236.6h.1M159.4 228.6h.1M159.9 229.7h.1M160.1 229.7h.1M159.6 200.2h.1M159.6 198h.1M158.3 200.4h.1M143.4 207.1h.1M144.6 207.9h.1M144.8 208.2h.1M149.9 185.4h.1M149.2 183.5h.1M150.2 184.5h.1M164.4 218.2h.1M165.8 218.5h.1M166.3 216.3h.1M160.7 219.9h.1M160.4 217.1h.1M160.4 217.7h.1M169.2 205.9h.1M169.7 203.6h.1M169.2 206.9h.1M149.4 187.7h.1M150.5 188.2h.1M150.1 185.9h.1M166.8 193.6h.1M170.3 194.9h.1M167.2 196h.1M158.5 220.7h.1M158.4 221.2h.1M159 222.7h.1M159.2 189.1h.1M159.3 190.4h.1M159.9 190h.1" stroke="#000" stroke-opacity="0.3" stroke-width="1.3"/>
<path d="M169.1 246.3h.1M168.3 246.2h.1M166.9 247.8h.1M135.4 162.4h.1M135.7 163.9h.1M137.1 162.3h.1M160 189.2h.1M161.8 187.7h.1M160.1 189.1h.1M152.9 157.5h.1M152.1 161h.1M151.9 160.5h.1M144 207.5h.1M147.5 205.2h.1M145 206.6h.1M132 190.2h.1M134.7 189.9h.1M133.7 189.4h.1M154.5 165.8h.1M155.2 166.7h.1M153.1 164.9h.1M175.9 228.4h.1M177.7 226.3h.1M176.2 227.4h.1M172.8 234.1h.1M173.3 235.1h.1M171.1 234.9h.1M159.1 191.3h.1M161.7 193.1h.1M161.3 192.4h.1M139.8 182.4h.1M140.9 182.3h.1M140.5 182.3h.1M148.7 188.4h.1M146.1 186.7h.1M148.4 189.7h.1M144.3 188.7h.1M142 187.9h.1M144.1 188.8h.1M146.1 194.3h.1M144.7 192.3h.1M144.2 195.3h.1M147.2 198.7h.1M146.1 199.1h.1M151 199.2h.1M154.3 184.4h.1M153.3 185.1h.1M154.1 183.6h.1M163.9 221.3h.1M165 221.3h.1M165.8 219.2h.1M157.7 226.2h.1M159.2 225.7h.1M158.3 226.8h.1M153.6 185.8h.1M152.6 185.3h.1M153 183.5h.1M151.1 164.9h.1M150.9 167h.1M151.9 165.6h.1M160.5 216.7h.1M159.7 216.8h.1M164.9 217.7h.1M154.3 183.4h.1M157.1 182.9h.1M155.1 184.1h.1M174 228.4h.1M173 228.2h.1M176.2 230.7h.1M158.2 193.1h.1M159 192.5h.1M158.4 193.7h.1M156.4 183.2h.1M155.5 184.5h.1M155.1 182.6h.1M144.9 163.5h.1M146.6 164.5h.1M145.1 163.5h.1M159.2 216.1h.1M160 216.6h.1M157.4 215h.1M161.3 206.7h.1M162.5 207h.1M163.4 204.8h.1M167.1 197.9h.1M165.9 198.8h.1M166.3 198.4h.1M149.8 159.4h.1M151.1 159.2h.1M150.2 155.6h.1M174.3 229.9h.1M174.3 229.4h.1M173.7 230.5h.1M150.1 222.1h.1M149.3 222.4h.1M149.7 220.4h.1M171.4 190.3h.1M171.1 188.9h.1M172.3 191h.1M143.8 193.5h.1M145.9 191.2h.1M144.4 191.5h.1M143 197.8h.1M141.1 198.3h.1M144.7 198.2h.1M166.4 245.3h.1M165.3 244.5h.1M167.3 243.9h.1M148.5 170.7h.1M150.1 169h.1M150.4 171.7h.1M163 237.7h.1M164.9 237.2h.1M162.3 237.9h.1M158.9 213.1h.1M157.8 211.9h.1M159.1 213.4h.1M156.4 208.9h.1M155.7 210.2h.1M159 207.8h.1M165.5 226.3h.1M165 227.2h.1M166.4 224.6h.1M163.2 213.3h.1M161.8 211.6h.1M165.2 212.2h.1M160.1 163.2h.1M161.6 161.9h.1M160.6 161.2h.1M169.7 232.1h.1M172.4 234.1h.1M172.2 235.1h.1M173.6 227.1h.1M174 227.4h.1M172.4 226.5h.1M162.6 209.3h.1M161.9 209.1h.1M163.1 209.5h.1M156.6 195.6h.1M156.6 195.8h.1M156.9 196.2h.1M147.7 204.3h.1M149.6 206.2h.1M148.4 205.8h.1M164.4 199.9h.1M164.9 200.8h.1M163.9 198.8h.1M147.9 190h.1M145 191.8h.1M146.8 190.4h.1M152.3 225.4h.1M152.4 225.7h.1M153.1 224.7h.1M142.6 179.2h.1M144 175.7h.1M145.2 177.4h.1M139.3 209.8h.1M137.4 208.7h.1M140 207.6h.1M157.1 214.6h.1M157.1 213.4h.1M156.3 216.9h.1M141.5 204.7h.1M141.8 202.4h.1M145.3 202.9h.1M161.9 224.1h.1M162.4 225.5h.1M161.8 224h.1M174.3 223.2h.1M175.4 223.4h.1M175.8 224.1h.1M160.9 197.2h.1M163.9 194.2h.1M164.5 196.4h.1M142.5 205h.1M145 205.7h.1M145.8 206.6h.1M158.6 205.9h.1M159.9 205.5h.1M157.8 205.9h.1M150.4 206.9h.1M148.3 204.6h.1M149.3 206.4h.1M129.6 189.1h.1M130.2 188h.1M127.9 186.7h.1M171.6 212.1h.1M172.2 208.5h.1M174.6 209.1h.1M177.1 217.6h.1M177.9 219.2h.1M176.8 218.6h.1M174.3 214h.1M173.4 216.1h.1M176 213.3h.1M156.1 217.7h.1M159.9 217h.1M157.1 217h.1M161 185h.1M161.9 186.3h.1M161.3 187h.1M170.9 238.1h.1M174.4 236.5h.1M169.4 236.1h.1M144.2 223.8h.1M145 222.6h.1M143.7 224.5h.1M147.7 189.9h.1M148.4 189.1h.1M148.3 188.8h.1M161.1 228.7h.1M161.5 227.9h.1M162.1 228.4h.1M156.3 229.3h.1M157.8 231.9h.1M155.9 230h.1M155.5 203.9h.1M155.8 201.4h.1M155.1 203.7h.1M146.3 213h.1M144.7 213.5h.1M146 213.3h.1M162.9 232.6h.1M160.4 231.5h.1M160.9 231.4h.1M141.5 219.6h.1M139.7 217.9h.1M139.5 219h.1M159.2 219.4h.1M159.8 216.9h.1M162 215h.1M143.8 170.3h.1M145.2 171.7h.1M145.7 172.1h.1M178 195.7h.1M178.8 195.5h.1M176.3 195h.1M158.2 203h.1M156.2 203.6h.1M157.8 200.7h.1M153 208.9h.1M153.1 207.4h.1M151.6 209h.1M171.6 227.4h.1M170.9 226.2h.1M169.3 227h.1M170.6 245.1h.1M168.7 245.9h.1M169.2 243.1h.1M161.6 180.6h.1M160.1 177.7h.1M160.5 176.4h.1M165.4 240.6h.1M165.6 238.1h.1M166.1 238.4h.1M177.1 211.6h.1M178 211.6h.1M175.9 211h.1M168.8 217.7h.1M170.6 216.2h.1M170.9 216.8h.1M153.7 227.1h.1M154.7 228h.1M155.6 227.6h.1M145.6 194.9h.1M146.8 194.3h.1M146.2 195.2h.1M152.3 195.2h.1M153.6 196.8h.1M153.4 196.1h.1M149.3 187h.1M151.9 184.4h.1M153.3 185.2h.1M136.9 178h.1M139.6 175.2h.1M138.9 177.2h.1M170.7 221.7h.1M171.7 221.1h.1M169.5 221.5h.1M153.8 239.3h.1M154.4 237.3h.1M154.1 236.3h.1M166.1 211.1h.1M166.6 210.7h.1M166.3 209.9h.1M153.7 171.6h.1M152.3 172.1h.1M153.8 171.5h.1M153.5 240h.1M154 237h.1M153.1 238.4h.1M167.7 191.1h.1M167.2 193h.1M168 193.2h.1M136.4 191h.1M137.4 192.7h.1M135.7 192h.1M159.1 183.8h.1M159.7 183.4h.1M160.5 182.6h.1M174 241.7h.1M172.3 241.5h.1M172.3 242.8h.1M149.1 193.9h.1M149.1 194.8h.1M149.5 193.5h.1M142.3 210.8h.1M141.5 213.4h.1M140.1 210.8h.1M172.1 190.7h.1M170.7 187.6h.1M169.7 190.2h.1M144.6 178.1h.1M142.6 178.6h.1M143.2 177.8h.1M160.6 197.5h.1M160.2 193.4h.1M160.4 195.9h.1M167.9 197.3h.1M167.4 196.8h.1M167.4 198.1h.1M136.4 180.2h.1M133.9 179h.1M136.6 177.1h.1M166.5 240h.1M165.3 240.8h.1M168.5 240.7h.1M176.3 227.8h.1M175.3 227.7h.1M174.6 226.8h.1M154.1 168.1h.1M153 166.4h.1M153.8 166.6h.1M163.5 233.4h.1M162.5 233.5h.1M163.8 232.2h.1M145 184.2h.1M146.3 185.9h.1M144.2 185.7h.1M169.1 221.9h.1M169.8 223.6h.1M169.3 222.1h.1M162.2 233.4h.1M164.9 232.8h.1M163.2 231.9h.1M157.5 249.6h.1M159.3 249.8h.1M158.6 249.6h.1M169.8 230.1h.1M172.1 228.7h.1M171.6 229.5h.1M157.4 227.6h.1M159.1 226.6h.1M158.1 226.8h.1M167.4 220.4h.1M169.1 220.1h.1M169.6 220.3h.1M153.5 170h.1M155.8 168.1h.1M154.9 167.6h.1M145.9 217.6h.1M147.1 216.6h.1M145.8 217.2h.1M165 219.2h.1M163.4 223.6h.1M165.1 218.9h.1M146.1 173.7h.1M143.1 177h.1M146.6 174.2h.1M171.9 207.5h.1M175.3 207.6h.1M173.9 205.7h.1M172.6 186.7h.1M175.6 186.4h.1M174.5 187.8h.1M164.5 247.3h.1M166.3 245.4h.1M165.5 246.2h.1M151.2 223.1h.1M150.3 224.3h.1M150.6 224.2h.1M168.7 233.9h.1M167.9 235.2h.1M167.8 233.7h.1M128.3 173.3h.1M129.8 174.5h.1M129.1 175h.1M160.2 206.4h.1M162.3 206h.1M160.1 207.4h.1M179.3 221.1h.1M180 223.2h.1M179.4 221.7h.1M174.1 225.5h.1M175.6 225h.1M174.3 227.2h.1M135.8 184.7h.1M135.6 182.7h.1M136.4 184.5h.1M167.2 206.2h.1M169.7 206.1h.1M168.2 203.9h.1M138.8 214.9h.1M138.7 214.1h.1M137.8 213.9h.1M174.6 210.8h.1M176.5 211.1h.1M175.2 210.9h.1M139.3 160.2h.1M139 159.6h.1M137.3 162.7h.1M161.3 224.1h.1M162.3 223h.1M163.2 223h.1M158.3 222.3h.1M158.9 223.7h.1M157.9 223.9h.1M157.6 213.2h.1M157 209.8h.1M157.3 211.8h.1M164.3 242.8h.1M164.4 241.7h.1M166.5 242.2h.1M150 184.8h.1M150.2 186.4h.1M152.7 187.1h.1M154.6 189h.1M154.2 190.3h.1M156.4 189.8h.1M173 235h.1M171.4 230.6h.1M172.4 232.8h.1M155.1 187.5h.1M153.3 186.5h.1M154.6 185.6h.1M161.2 220.9h.1M160 223.1h.1M160.6 222.8h.1M179.2 191.3h.1M178.6 190.4h.1M180.6 187.9h.1M176.8 231.9h.1M177.4 232.4h.1M176.1 230.8h.1M161.1 237.6h.1M157.6 237.6h.1M157.6 238.7h.1M134.4 191.1h.1M135.6 190.6h.1M133.6 189.4h.1" stroke="#000" stroke-opacity="0.52" stroke-width="1.2"/></g>
<g filter="url(#sb)"><path d="M261 106.7h.1M261.6 108.1h.1M260.7 107.8h.1M236.1 147h.1M235.7 148.5h.1M236.9 145.3h.1M236.7 135.2h.1M240.6 135h.1M237.1 132.9h.1M260.3 94.7h.1M258.7 96.1h.1M259.4 93.4h.1M251.8 111.6h.1M252 112.8h.1M248.5 112.8h.1M254.3 164.2h.1M251.8 162.6h.1M253 164.9h.1M292 83.2h.1M292 83.5h.1M293.2 82.9h.1M277.5 72.6h.1M277.7 71.6h.1M280.4 70.6h.1M288.1 69.2h.1M288 69.3h.1M288.4 70.6h.1M240.2 126.6h.1M240 125.7h.1M238 127.3h.1M344.2 37.4h.1M343.4 36.4h.1M343.6 37.9h.1M248.6 122.5h.1M249 122.1h.1M248.4 120.7h.1M286.5 65.8h.1M288.8 65.3h.1M286.2 66.1h.1M244.1 170.4h.1M242.1 172h.1M244.6 171.8h.1M278.3 123.6h.1M276.3 121.9h.1M276.5 124h.1M238.9 126.8h.1M239.3 127.5h.1M239.6 127.3h.1M251 123.5h.1M251 123.3h.1M250.6 124.2h.1M260.5 88.5h.1M262.8 88.4h.1M261.6 89.6h.1M257.8 139.5h.1M257.5 140h.1M257.5 138.6h.1M296.7 96.3h.1M298.1 95.9h.1M297.9 96.9h.1M296.7 95.1h.1M296.7 93.4h.1M299.7 94.7h.1M248.1 139.6h.1M247.9 137.9h.1M246.5 137.9h.1M322.8 55.1h.1M322 52.7h.1M322.2 53.7h.1M304.7 72.6h.1M303.4 75.2h.1M303.4 74.1h.1M311.8 92.9h.1M311.4 90.3h.1M312.5 94h.1M326.6 57.1h.1M328.1 57.1h.1M328 57h.1M298 77.2h.1M295.7 77.4h.1M298.3 79.6h.1M253.4 126.3h.1M253.7 125.3h.1M253.9 126.5h.1M234.2 145.8h.1M233.2 148.6h.1M233.1 148.5h.1M305.6 92.9h.1M305.6 92.4h.1M304.2 91.2h.1M333.2 61.9h.1M334.2 60.2h.1M334.9 60.7h.1M329.9 43h.1M330 40.6h.1M331 41.9h.1M327.1 37.4h.1M325.8 37.4h.1M324.8 37.3h.1M313.9 59.5h.1M311.2 59.9h.1M315.1 59h.1M267.7 116.1h.1M267.8 113.5h.1M266.8 114.5h.1M268.2 94h.1M269.9 94.6h.1M271.3 94.1h.1M255.1 162.4h.1M253.2 163.3h.1M255.3 161.9h.1M286 79.7h.1M285.8 80.8h.1M287.2 80.4h.1M267.5 116.5h.1M265.5 115.9h.1M269.6 114.9h.1M292.8 60.9h.1M290.5 60.5h.1M293.1 60.6h.1M283.4 108.6h.1M280.2 108.5h.1M283.2 108.7h.1M279.4 90.2h.1M279.8 88h.1M278.8 88.8h.1M254.8 133.5h.1M254.1 134h.1M255.5 132.7h.1M281 92.4h.1M280.2 92.7h.1M281.7 92.9h.1M259.2 145.6h.1M259.3 148.8h.1M259.1 144.9h.1M269.8 124.3h.1M270.5 122.1h.1M271.1 123.7h.1M257.3 130.3h.1M254 128.8h.1M256.5 128.4h.1M262.7 103.2h.1M260.5 102.6h.1M258 103.4h.1M257.1 137.5h.1M258.4 138.4h.1M257.7 138.8h.1M306.5 57.4h.1M305 60h.1M306.2 57.1h.1M265.2 129.7h.1M263.2 126.7h.1M264.7 131.6h.1M310.4 76.9h.1M309.3 79.9h.1M310.4 79.7h.1M278.4 96.6h.1M278.4 96.8h.1M276.2 97.7h.1M334.2 63.1h.1M332.5 66.4h.1M333.3 63.6h.1M232.6 164.4h.1M233.6 163.8h.1M231.6 164.7h.1M256 99.3h.1M256 98.5h.1M256.2 98.2h.1M320.8 51.6h.1M320.8 50.8h.1M321.3 52.4h.1M247.8 156.3h.1M246 153.8h.1M247.3 154.7h.1M265.4 127.2h.1M264.8 129.5h.1M268.1 125.9h.1M240.3 151.9h.1M240.2 152.2h.1M238.1 152.9h.1M262.3 126.9h.1M266.7 128.1h.1M262.4 129.8h.1M296.4 96.4h.1M296 94.6h.1M292.5 95.6h.1M257.2 132.6h.1M257.7 131.2h.1M259.3 129.2h.1M237.2 169.1h.1M237.9 172.2h.1M237.2 168.6h.1M323.4 67.4h.1M323.9 65.6h.1M323.5 67.9h.1M316.5 78.1h.1M313.4 78.2h.1M316.4 80h.1M262.3 145.5h.1M260.9 143.7h.1M260.3 144h.1M265.2 100.7h.1M264.5 102.3h.1M264 104.1h.1M295.9 54.1h.1M294.7 54.1h.1M294.4 54.8h.1M313.9 100.3h.1M312.4 97.8h.1M313 99.1h.1M312.5 74.8h.1M312.2 75.2h.1M312.4 75.6h.1M334.9 39.3h.1M332.1 40.4h.1M333.7 38.3h.1M295.9 66.3h.1M298.2 64.5h.1M296.6 64.5h.1M249.2 118.1h.1M249.1 116.1h.1M249.5 114.9h.1M307.2 61.4h.1M308 60.6h.1M305.4 59h.1M320.1 73.6h.1M318.3 70h.1M320.7 72.3h.1M310.8 76.4h.1M309.2 74.2h.1M311.9 74.7h.1M254.3 100.1h.1M255.1 98.6h.1M255.5 98.9h.1M286.5 104.5h.1M285 104.8h.1M285.6 105.1h.1M320 65.8h.1M319 64h.1M318 65.1h.1M295.2 62.3h.1M293.6 61.3h.1M293.7 61.8h.1M240.4 121.3h.1M242.2 119.4h.1M240.2 122.3h.1M303.4 82.4h.1M304.7 80.6h.1M302.8 81.6h.1M245.9 144.5h.1M243 146h.1M242.5 146.1h.1M295.5 92.1h.1M297 92.2h.1M295.3 91.9h.1M299.3 55.2h.1M304.3 55.5h.1M300.7 56.6h.1M244.4 154.2h.1M246.8 153.8h.1M246.1 154.3h.1M230.9 158.1h.1M233 158.6h.1M230.9 156h.1M303.9 56.4h.1M301.9 56h.1M302.9 56.7h.1M324.3 36.8h.1M324.3 36.9h.1M325.6 35.4h.1M272 83.2h.1M272.5 82.3h.1M274.1 81.4h.1M237.1 164.7h.1M235 165.8h.1M237 163.7h.1M253.5 107.4h.1M251.7 103.6h.1M251.3 104.9h.1M299.3 74.9h.1M299.4 72.7h.1M302 73.7h.1M292.6 60.5h.1M293 63.4h.1M293.4 61.5h.1M274.2 124.2h.1M273.4 125.1h.1M275.8 124.1h.1M302.2 48h.1M301.6 46.9h.1M301.3 49.6h.1M284.8 109.8h.1M284.8 109.4h.1M285.1 108.2h.1M309 53.3h.1M307.8 55.4h.1M306.3 56.5h.1M257.3 157h.1M256.9 158.1h.1M256.2 157.2h.1M293.1 87.4h.1M293.9 88.6h.1M294.1 88.9h.1M260.3 162.4h.1M258 163.4h.1M257.5 163.3h.1M308.6 82.1h.1M308.8 83.2h.1M308.6 82.7h.1M259.6 156.2h.1M260.5 156.1h.1M262.6 155.9h.1M271.6 120.2h.1M270.4 119h.1M272.1 119.3h.1M244.5 128.9h.1M244.1 129.3h.1M244.4 128h.1M287.5 104.8h.1M289 105.9h.1M291 105.4h.1M307.3 64.4h.1M306 66.8h.1M306.8 66h.1M242.7 158h.1M245.1 158.6h.1M243.3 158.3h.1M328 48.6h.1M332 46.4h.1M329.5 47.7h.1M234.9 137h.1M236.6 135.4h.1M234.8 136.1h.1M311.6 71.6h.1M310.8 75.3h.1M312.8 74.6h.1M329.7 43.3h.1M330.8 41.4h.1M328.9 42.9h.1M316 76.5h.1M314.9 75.2h.1M312.8 78.7h.1M309.4 86.6h.1M310.2 86.4h.1M307.7 86.9h.1M267 136.5h.1M266.5 139.4h.1M267.5 136.7h.1M255.1 116.5h.1M255.6 114.5h.1M254.3 114.2h.1M296.5 100.2h.1M297.7 101.7h.1M296.2 103.6h.1M265.9 90.2h.1M266.5 89.1h.1M268.3 88.8h.1M264.8 120.7h.1M264.4 120.4h.1M264.4 120h.1M279.8 74h.1M280.5 74.7h.1M282.1 75.5h.1M231.7 162.5h.1M229.5 163.4h.1M230.7 162.6h.1M337.8 36.8h.1M338.8 38h.1M336.8 38.2h.1M301.7 71h.1M300.9 71.2h.1M301.4 72.5h.1M310.9 93.9h.1M313.6 95.7h.1M313.1 95.2h.1M255.8 116.4h.1M257.3 117.3h.1M257.7 118.9h.1M290.5 72.6h.1M290.5 72.5h.1M291.1 73h.1M259.3 113.7h.1M257.5 111.6h.1M258.2 114.1h.1M316.1 81.5h.1M316.4 81.9h.1M316.7 79.5h.1M310.9 74.4h.1M313.2 74.6h.1M312.3 76.8h.1M306.2 90.8h.1M303.2 91h.1M305 91.9h.1M235.8 157.8h.1M235.7 156.3h.1M234.3 158.9h.1M321.7 36.8h.1M322.8 35.3h.1M323.2 37.3h.1M237.8 157.4h.1M237.5 157.8h.1M236.8 156.7h.1M233.3 152h.1M233.3 151.9h.1M233.1 149.4h.1M321.7 74.6h.1M320.1 76.6h.1M320.8 76h.1M262.4 141.7h.1M262.5 142.2h.1M261.4 143.8h.1M302.6 44h.1M301.8 44.9h.1M304.2 45.7h.1M300.1 99.9h.1M299.2 100.1h.1M299.3 100.2h.1M240.4 131.5h.1M239.2 131.2h.1M241.8 130.9h.1M284.3 77.9h.1M286.6 75.7h.1M286.5 78h.1M323.3 48.5h.1M322.5 47.3h.1M323.2 46h.1M324.7 49.9h.1M325.7 46.6h.1M325.5 48.6h.1M292 99.5h.1M291.4 98.6h.1M291.6 99.3h.1M329.1 44.8h.1M328.1 43.4h.1M330.3 42.8h.1M266.5 77.4h.1M266.1 75.3h.1M267.7 76.5h.1M248.7 140.5h.1M249.5 139.8h.1M247.2 141.3h.1M296.6 76.7h.1M298.1 75.2h.1M299 75.4h.1M270.7 126.8h.1M271.2 124.3h.1M270.6 126.7h.1M261.5 146.9h.1M262.4 148.5h.1M261.3 149h.1M240.5 160.3h.1M241.3 160.8h.1M240.3 161.9h.1M271.6 105.7h.1M270.2 105.2h.1M271.8 105h.1M313.1 94.2h.1M312.5 91.9h.1M314.5 94.2h.1M254.4 147.7h.1M255.3 148.7h.1M255 148.1h.1M321.1 64.1h.1M321.8 62.5h.1M320 64.2h.1M324.3 74.6h.1M325.4 73.2h.1M324 74.2h.1M263.2 117.3h.1M265.7 117.8h.1M266.1 118.3h.1M248.4 130.9h.1M249.5 131.8h.1M249.8 132.4h.1M279 98.9h.1M277.8 96.6h.1M278 96.3h.1M328 49.1h.1M327.9 48.4h.1M328.2 47.5h.1M299.8 48.4h.1M302.8 47.7h.1M302.8 51.4h.1M258.5 139.3h.1M257.4 140.9h.1M258.4 139.2h.1M268.1 83.4h.1M269 83.3h.1M269.8 82.9h.1M241.4 150.6h.1M240.3 146.8h.1M241.4 147.9h.1M288.6 81.8h.1M289.6 81h.1M289.5 80.2h.1M325.2 73.8h.1M325.1 75.6h.1M323.9 75.6h.1M335.7 43h.1M336.5 42.8h.1M335 43.4h.1M236 158.6h.1M234.8 157.8h.1M235.1 158.9h.1M336.6 30.6h.1M335.5 29.2h.1M335.9 28.6h.1M294.8 74h.1M296.2 75.6h.1M294.3 73.4h.1M238.3 148.3h.1M238.8 148.9h.1M236.2 148.7h.1M243.5 167.5h.1M241.1 166.5h.1M242.1 166.1h.1M246.2 154.4h.1M246.2 155.4h.1M247 154.3h.1M318.9 72.5h.1M320.8 73.3h.1M321.9 72h.1M271.5 112h.1M270.2 113.3h.1M270.4 111.7h.1M273 69.7h.1M273.4 71.2h.1M271.9 68.6h.1M260 141.1h.1M256.5 141.2h.1M259.9 141.7h.1M313.1 41.1h.1M313.1 40.1h.1M312.6 40h.1M264.1 127.7h.1M263.1 128.3h.1M262.6 128.1h.1M262.2 124.3h.1M263.6 125.7h.1M264.1 123.5h.1M231.1 139.7h.1M231.1 142.1h.1M231.1 140.2h.1M245.2 165.9h.1M245.4 169.5h.1M244.6 169.5h.1M240.7 147.4h.1M240.2 147.6h.1M239.2 149.7h.1M246.6 144h.1M247.5 143.7h.1M247.1 142.7h.1M322 68.2h.1M321.7 67.2h.1M321.6 69.9h.1M270.5 99.3h.1M271.1 100.6h.1M271.9 98.4h.1M305 87.8h.1M304.2 86h.1M305.2 86.9h.1M274.4 92.9h.1M274.3 95.7h.1M274.3 94.7h.1M312.9 86.4h.1M316.7 87.6h.1M313.1 86.6h.1M335.4 51.1h.1M335.1 51h.1M333.5 50.2h.1M294.8 96.1h.1M294.9 95.1h.1M295 97h.1M239.3 128.6h.1M238.6 126.1h.1M238.6 127.1h.1M337.2 65.9h.1M339.9 66h.1M337.8 67.6h.1M258.4 122.1h.1M259.8 121.4h.1M260.5 121h.1M279.3 82.8h.1M280.5 82.5h.1M283.8 80.4h.1M324.4 75.3h.1M323.5 73.3h.1M322.8 76.5h.1M257 90.4h.1M254.6 93.1h.1M256.1 92h.1M316.2 53.6h.1M318.5 54.1h.1M315.9 53h.1M247 167.3h.1M248.1 167.3h.1M247.5 167.1h.1M254.4 169.8h.1M255.2 169.3h.1M254.3 169.7h.1M284.1 98.7h.1M285.9 95.2h.1M283.3 96.7h.1M294.4 87.8h.1M294.6 90.8h.1M295.6 88.8h.1M235.8 153.2h.1M235.2 153.9h.1M235.5 153.5h.1M275 120.6h.1M274.7 119.8h.1M273.2 119.2h.1M341.8 44h.1M341.3 44.8h.1M343.4 42h.1M268.7 92.4h.1M268.5 93.1h.1M268.2 90.7h.1M267.7 80.2h.1M266.1 81.3h.1M266.9 81.4h.1M250.4 167.1h.1M247.4 167.4h.1M248.6 166.3h.1M281.3 111.4h.1M278.2 111.1h.1M279.3 110.7h.1M340.2 53.8h.1M338.3 51.5h.1M339.7 50.5h.1M271.5 95.5h.1M272.3 97.3h.1M272.3 95.5h.1M249.2 168.2h.1M248.8 169.7h.1M250.2 171.6h.1M291.4 81.4h.1M289.9 80.3h.1M292.1 79.6h.1M257.4 147.5h.1M259.1 147.7h.1M257.8 148.3h.1M254.5 105.3h.1M254.9 105.9h.1M257.5 106.5h.1M258.4 132.7h.1M255 130.7h.1M255.6 130.6h.1M284.5 109.9h.1M283.8 106.6h.1M283.4 108.7h.1M247.1 145.6h.1M246.6 145.3h.1M248.8 146.5h.1M321 40.1h.1M318.4 41.1h.1M320.5 39.4h.1M242.3 125.1h.1M241.7 123.9h.1M242.7 124h.1M237.6 150h.1M238 149.6h.1M237.3 150.9h.1M254.2 172.9h.1M256.2 173.6h.1M254.1 172.5h.1M236.5 140.5h.1M238.8 139.7h.1M238.2 141h.1M296.3 56.8h.1M298.3 57.4h.1M298.7 57.9h.1M237.9 146.3h.1M238 147.8h.1M238.9 145.9h.1M245.8 125.9h.1M246 125.1h.1M246.9 123.2h.1M298.2 87.7h.1M299.4 86.4h.1M297.9 84.5h.1M296.8 96.7h.1M296.2 97.7h.1M297.8 95.5h.1M311.8 65.7h.1M310.1 67.2h.1M312.6 67.3h.1M294.6 65.1h.1M294.4 65.8h.1M294.1 64.4h.1M326.4 62.6h.1M325.4 61.7h.1M324.8 61.1h.1M325.7 54.1h.1M323.2 54.7h.1M323.1 56.3h.1M267.2 114h.1M264.7 113.4h.1M265.1 116.1h.1M232.3 167.1h.1M234.7 165.4h.1M235.7 165.7h.1M341.4 33.2h.1M340.1 34.9h.1M343.6 32.4h.1M324.7 74.4h.1M323.5 73.4h.1M327.6 76.7h.1M307.1 89.2h.1M308.1 89.1h.1M306.9 88.1h.1M285.3 110.8h.1M284.7 112.9h.1M283.9 113.2h.1M340.9 56.7h.1M338 57.5h.1M340.2 56.7h.1M257.1 114.4h.1M254.9 115.4h.1M260.3 114.6h.1M298.4 75.6h.1M300.1 72.6h.1M297.3 72h.1M277.7 94.2h.1M278.6 93.7h.1M280.2 93.5h.1M290.3 72.7h.1M289.6 75.3h.1M290.3 73.6h.1M294.4 106.7h.1M294.1 106.3h.1M292.3 104.7h.1M277.2 120.1h.1M276.7 121.5h.1M278.1 122h.1M244.2 148.8h.1M247.9 148.2h.1M246.1 146.8h.1M244.1 162.2h.1M246.6 163.5h.1M243.4 162.8h.1M341.9 56.2h.1M341.3 58h.1M342.7 55.6h.1M337.4 72.7h.1M339.8 71.8h.1M339.4 73.5h.1M322.3 77.3h.1M321.1 75.6h.1M321.7 76.7h.1M254.1 156.9h.1M251.1 156.2h.1M249.1 157.7h.1M279.4 98.9h.1M275.8 97.8h.1M277.4 98.7h.1M312.8 49.8h.1M313.6 51.1h.1M312.1 48.5h.1M342 44.4h.1M343 44.1h.1M343.3 44.2h.1M245.3 131.1h.1M243.7 131.8h.1M243.2 132.3h.1M317.4 70.3h.1M318.5 70.1h.1M320.1 70h.1M300.8 73.2h.1M300 71.2h.1M301.1 73.2h.1M306.5 74.8h.1M307.4 72.3h.1M306.8 72.2h.1M319.2 68.2h.1M318.8 67.6h.1M319.5 69.4h.1M276.9 95.3h.1M276.4 97.7h.1M277.2 96.8h.1M314.1 82.6h.1M314.1 81.1h.1M314.6 83.7h.1M298.9 86.7h.1M297.6 83.9h.1M297.2 85.4h.1M255.5 123.3h.1M259.6 122.1h.1M259.3 123.8h.1M231.1 144.9h.1M232.2 146.1h.1M232.2 146.2h.1M271.6 105h.1M271.8 108.1h.1M271.2 105.3h.1M302.6 82.5h.1M302.5 79.8h.1M303.8 81.6h.1M299.3 71.4h.1M297.5 70.8h.1M300.1 73.1h.1M320.9 46h.1M318.7 45h.1M319.5 46.8h.1M274 114.9h.1M275.2 114.5h.1M273.5 114.9h.1M300.9 92.9h.1M301.8 92.8h.1M301.8 94.5h.1M327.9 64.7h.1M330.2 66.8h.1M326.4 67.3h.1M282.1 79.5h.1M279.5 80.3h.1M278.7 79.6h.1M306.1 72.3h.1M305.5 70.6h.1M304.1 70.2h.1M329.3 58.5h.1M330 57.8h.1M330.9 57.4h.1M237 172.4h.1M236.4 169.3h.1M237.4 169.9h.1M308.4 83.6h.1M309.5 82h.1M308.8 84.3h.1M329 64.5h.1M326.5 64.7h.1M327.7 64.1h.1M282.3 83.4h.1M282.9 84.4h.1M283.9 83.9h.1M303.2 46.1h.1M301.8 45.4h.1M304.2 46.2h.1M227.6 150.5h.1M229.2 150.6h.1M229 150.5h.1M303.7 81.6h.1M305.7 80.7h.1M305.2 82.2h.1M330.3 44h.1M329.1 44.1h.1M329.6 45.7h.1M323.6 52.3h.1M323.8 53.9h.1M326.1 50.6h.1M249.3 160h.1M247.9 163.1h.1M247.7 159h.1M277.5 91.7h.1M275.7 91.5h.1M276.3 94.4h.1M263.5 122.6h.1M264.9 118.6h.1M261.6 122.3h.1M248.2 117.2h.1M248.7 117.6h.1M247 116.1h.1M247.6 118.9h.1M247.9 117.2h.1M245.4 118.5h.1M237 143.2h.1M237.6 144.4h.1M237.8 141.9h.1M301.5 39.3h.1M302.3 39.8h.1M301.5 42.5h.1M306.4 57h.1M303.9 57.7h.1M304.5 58.7h.1M257.7 155.8h.1M256.8 154.2h.1M255.9 153.5h.1M265.9 118.8h.1M264.7 120h.1M266.3 119.3h.1M266.7 115.6h.1M266.3 114.6h.1M265.2 115h.1M267.2 125.2h.1M267.4 127.6h.1M269.3 124.9h.1M326.1 61.3h.1M329.3 60.9h.1M326.4 60.5h.1M341.2 62.3h.1M340.1 62.7h.1M340.9 61.8h.1M273.2 118.6h.1M278.2 118.5h.1M273.8 117.5h.1M238 121h.1M237.9 122.2h.1M238 120.4h.1M262 155.9h.1M262.8 153.9h.1M259.4 154h.1M238.8 147.2h.1M236.9 148.3h.1M238.7 149.2h.1M234.7 155.3h.1M236.2 158.4h.1M232.9 157.1h.1M247 123.6h.1M247.1 121.7h.1M245.2 122.7h.1M314.7 68.7h.1M316.3 67.1h.1M315.7 69h.1M239.7 160h.1M241.2 162.6h.1M240.2 161.8h.1M252.4 143.3h.1M251.2 143.6h.1M255.2 145h.1M327.6 68.9h.1M329 70.9h.1M324.2 71.5h.1M285 90.6h.1M286.2 90.8h.1M285.9 90.7h.1M314.6 96.6h.1M315.1 94.4h.1M315 95.8h.1M317.9 51.1h.1M313.7 52.3h.1M317.2 51.6h.1M254.7 150.7h.1M253.4 152h.1M256.9 151.7h.1M260 161.2h.1M264 160.1h.1M259.6 160.1h.1M259.5 108.6h.1M258.7 108.1h.1M259.4 108.4h.1M308.7 63.2h.1M309 63.8h.1M309.4 61.8h.1M341.4 65h.1M340.7 67.6h.1M343.6 63.7h.1M349.1 39.8h.1M350.1 40.1h.1M348.7 38.2h.1M248.3 165.5h.1M247.3 166.5h.1M247.2 166.2h.1M246.5 158.1h.1M247.3 158.9h.1M246.6 157.4h.1M278.4 90.2h.1M279.3 92.4h.1M277.4 90.4h.1M246.1 143.3h.1M243.4 143.4h.1M244.4 145.8h.1M303.4 59h.1M304.6 61h.1M305 58.1h.1M236.4 129.7h.1M237.2 129h.1M237.3 129.1h.1M261.7 122.8h.1M261.4 121.6h.1M263.2 121.7h.1M250 153.8h.1M248.9 153.7h.1M251.8 153.2h.1M302.9 73.1h.1M303.4 72.7h.1M303.6 73.1h.1M238.8 125.2h.1M237.9 128.7h.1M239 124.8h.1M305.2 78.3h.1M309.5 77.5h.1M307.6 80.5h.1M304.4 95.7h.1M306.7 97.6h.1M306.7 96h.1M232.5 158.2h.1M233.1 156.7h.1M232.9 157.8h.1M280.5 98.5h.1M279.8 98.8h.1M280.6 98h.1M304.2 77.7h.1M304.3 77.9h.1M302 77.9h.1M348.2 46.8h.1M347.6 46.2h.1M348.6 46.7h.1M293.6 87.2h.1M294.9 86.9h.1M297.6 86.9h.1M292.4 105h.1M292.6 103.9h.1M291.9 103.6h.1M310.3 87.9h.1M309.1 88h.1M310.9 89.2h.1M305.3 43.1h.1M305.8 43.7h.1M304.9 44.5h.1M262.8 133h.1M264.8 131.6h.1M263.9 129h.1M237.1 133.1h.1M237.3 134.1h.1M238.8 133h.1M347.8 43.9h.1M348.2 42.9h.1M348.6 46.7h.1M236.5 149.2h.1M237.2 148.9h.1M237.4 150.4h.1M329.8 73.7h.1M328.9 73.4h.1M328.5 72.2h.1M236.8 124.1h.1M238.7 125.2h.1M238.4 123.5h.1M249.4 146.6h.1M247.6 145.1h.1M249.3 148.7h.1M237.5 129.1h.1M239.2 129.9h.1M237.5 129.1h.1M247.7 119.5h.1M245.8 119.7h.1M247.4 119.2h.1M281.7 100h.1M281.2 100.5h.1M281.6 99.3h.1M275.5 100.2h.1M276.6 101.6h.1M274.2 101.1h.1M267.4 121.4h.1M266.9 124h.1M266.3 122.4h.1M294.1 89.2h.1M296.5 91.6h.1M294.6 90.4h.1M285.9 71.9h.1M287.4 70.7h.1M285.5 71h.1M301 46.9h.1M304.3 45.8h.1M303 47.9h.1M315.1 66.5h.1M314.7 67.2h.1M315.5 66.5h.1M255.6 146.9h.1M255.7 145.4h.1M256.3 148.2h.1M289.9 73.8h.1M291.9 72.8h.1M290.8 74.1h.1M246.1 126.3h.1M246.3 125.6h.1M247 126.6h.1M257.8 154.2h.1M258.1 151.5h.1M256.2 151.2h.1M285.3 92h.1M285.5 91.6h.1M284.8 92.7h.1M242.4 172.9h.1M240.1 172.3h.1M242.1 172.8h.1M281.7 92.9h.1M280.4 93.4h.1M281.6 96h.1M284.1 104.2h.1M282.6 104.1h.1M284 103.8h.1M305.9 98.2h.1M307.6 97.3h.1M307.8 98.6h.1M310.5 79.3h.1M311.4 79.1h.1M309.7 78.4h.1M272.7 107.7h.1M272.8 103.4h.1M271.8 105.4h.1M265.6 88.1h.1M266.6 91.5h.1M265.7 89.5h.1M290.5 72.9h.1M289.3 73.1h.1M290.9 74.7h.1M242.8 169h.1M242.9 170.5h.1M240.3 169.5h.1M309.5 90.1h.1M307.2 89.6h.1M307.2 89.4h.1M270.7 84.1h.1M271.2 84.5h.1M270.4 84.3h.1M244.4 119.5h.1M245.1 121.6h.1M244.6 122.6h.1M247.7 111.8h.1M246.2 112.7h.1M247.6 112.8h.1M279.8 101.9h.1M280.7 101.8h.1M280 104h.1M267.1 111.2h.1M266 109.4h.1M264.6 110.3h.1M292.7 67.1h.1M292.3 67.4h.1M291.7 65.3h.1M259.7 117.2h.1M257.6 116.1h.1M259.1 120.1h.1M253.3 134.7h.1M255.1 136.6h.1M255.7 134.7h.1M231.9 138.6h.1M231.2 139.9h.1M231.2 138h.1M307.6 60.3h.1M308 60.9h.1M308 61.2h.1M278.1 89.5h.1M279.4 91.2h.1M277.5 89.3h.1M303.3 50.5h.1M305.2 50.6h.1M303.4 50.4h.1M248.7 147.8h.1M249.2 148.5h.1M248.8 149.4h.1M337.4 40.5h.1M339.8 42h.1M338.9 43h.1M299.7 78.2h.1M297.2 77h.1M296.1 79.6h.1M338.1 38.5h.1M336.8 38.6h.1M337.1 38.5h.1M257 117.9h.1M256.9 116.3h.1M258.7 117.8h.1M335.8 55.7h.1M336.6 56h.1M337.3 56.7h.1M255.4 126.6h.1M256 127.5h.1M256.6 130.4h.1M296.9 98h.1M295.3 97h.1M297.9 95.9h.1M269.8 85.2h.1M267.8 86.9h.1M271.9 86.6h.1M264.2 135.7h.1M265.7 138.5h.1M265.7 136.5h.1M292.5 92.7h.1M291.5 90.8h.1M290.9 89h.1M289.8 87h.1M289.8 88.4h.1M288.4 86.8h.1M330.3 43.4h.1M330.5 42.7h.1M330.7 40.3h.1M243.1 133.3h.1M242.7 132h.1M243.5 132.3h.1M291.7 91.7h.1M295.4 92.1h.1M292.3 93.7h.1M271.6 86.3h.1M271.4 88.6h.1M272.7 89.2h.1M244.8 114.6h.1M249.7 118.2h.1M248.1 114h.1M277.2 79.3h.1M276.3 79h.1M276.4 78.4h.1M295.4 101.4h.1M296 102.8h.1M293.6 101.4h.1M244.1 127.8h.1M246.2 126h.1M246.2 124.2h.1M273.8 75.2h.1M272.6 75.2h.1M271.9 73.5h.1M294.5 67.8h.1M294.5 67.7h.1M295.1 67.3h.1M243 113.1h.1M244.3 114h.1M241.9 114.1h.1M257.7 132.7h.1M256.4 134.6h.1M255.5 133.6h.1M280 75.9h.1M277.7 73.2h.1M276.7 73.8h.1M254.5 149.4h.1M253.7 148.5h.1M253.4 148.2h.1M268.8 115h.1M269.8 115.4h.1M266.8 116.5h.1M239.8 170.6h.1M238.7 170.6h.1M239.3 170.7h.1M337.7 59.7h.1M338.1 58.1h.1M335.5 60.2h.1M229.1 165.7h.1M234 167.4h.1M233 165.4h.1M338.7 56.8h.1M336.9 55.6h.1M339.6 57.4h.1M294.5 69.2h.1M292.3 72.1h.1M294.5 70.3h.1M291.9 71.2h.1M292 68h.1M294.9 69h.1M250 122.9h.1M251 123.6h.1M249.9 124.3h.1M316.2 84.3h.1M316.7 82.5h.1M315.2 84.3h.1M337.8 58.3h.1M335.7 57.6h.1M335.2 58.5h.1M251.6 148.5h.1M251.4 149.2h.1M253 149.7h.1M248.7 163.8h.1M250 162h.1M248.6 161.4h.1M247.8 170.1h.1M248.9 169.8h.1M247.3 168.7h.1M290.5 73.2h.1M291.3 71.5h.1M290.7 74.5h.1M312.9 42.6h.1M310.7 43.7h.1M310.3 44.2h.1M243.2 113.5h.1M243.9 113.8h.1M245.4 112.9h.1M353.7 37h.1M354.5 35h.1M355.1 38.4h.1M255.3 152.3h.1M254.4 152.4h.1M252.5 149.3h.1M269 97.8h.1M271.5 98.4h.1M271.2 99.8h.1M251.2 161.1h.1M252.7 159.1h.1M249.9 161.6h.1M338.5 64.3h.1M337.1 62.9h.1M337.2 61.9h.1M302.2 72.2h.1M302.3 72h.1M303.2 73.4h.1M269.6 91.1h.1M271.7 91.3h.1M268.1 92.5h.1M254.1 154.1h.1M256.7 152.4h.1M256 153.4h.1M239 173.5h.1M237 174.8h.1M236.8 176h.1M299.3 71.5h.1M300.1 71.6h.1M299.6 70.1h.1M252.8 124.8h.1M249.7 125.7h.1M251.6 128.2h.1M276.5 113.6h.1M277.4 113.6h.1M274.6 113.4h.1M240 134.8h.1M242.8 134.6h.1M239.6 134.8h.1M309.7 89.5h.1M310.6 89.2h.1M309.7 90.8h.1M287.8 92.3h.1M286.9 91.6h.1M283.8 91.6h.1M259.5 107.3h.1M259.2 104.6h.1M257.1 106.2h.1M283.4 96.2h.1M286.5 96.4h.1M285.1 97.4h.1M240.1 150.3h.1M242 149.4h.1M241.9 150.7h.1M250.5 165.9h.1M251.7 166.3h.1M251.6 163.3h.1M247.9 137.5h.1M248.5 136.9h.1M248.7 138.4h.1M247.2 127.6h.1M247.8 128.5h.1M249 129h.1M297.4 91.2h.1M297.6 89.4h.1M297.6 88.6h.1M258.5 135.3h.1M254.9 137.8h.1M255.2 134.6h.1M307.9 70.7h.1M307.7 67.8h.1M308 69.2h.1M257.3 116.8h.1M257.2 113.8h.1M258.5 114.1h.1M228.5 144h.1M232.3 146.4h.1M229.8 145.2h.1M253.9 148.1h.1M254.2 145.6h.1M253.6 148.5h.1M315.6 45.3h.1M316.3 44.3h.1M315.4 45.4h.1M304.7 67.8h.1M302.8 70.6h.1M301.3 70.5h.1M291.1 106.9h.1M290 104.4h.1M291.7 106.9h.1M294.7 73.7h.1M293.3 74.8h.1M295.9 74.4h.1M259 164.5h.1M258.5 165.8h.1M260.2 163.2h.1M279.3 97.3h.1M280.1 94.6h.1M277.6 95.2h.1M290.6 70.5h.1M289.8 70.3h.1M287.3 70.8h.1M263.2 150.4h.1M263.3 149h.1M262.5 149.4h.1M244.3 143.6h.1M244.4 143.9h.1M243.6 144.9h.1M266.7 101.6h.1M264.5 100.3h.1M265 102.5h.1M278.8 78.9h.1M279.6 80.2h.1M277.9 81.9h.1M264.2 92.4h.1M266.3 92h.1M265.6 95.2h.1M325.7 48.1h.1M326.2 50.8h.1M326 49.3h.1M247.7 168.4h.1M247.4 167.9h.1M246.8 169.2h.1M346.1 61.3h.1M345.5 59.8h.1M344.8 61.7h.1M229.5 144.9h.1M230.4 146.8h.1M231.7 145.3h.1M228.4 142.7h.1M229.8 142.4h.1M230.2 140.9h.1M237.2 155.6h.1M235.2 155.9h.1M234.8 156.9h.1M311.4 53.9h.1M307.9 54h.1M306.8 51.1h.1M285.5 70.7h.1M285.6 71.3h.1M284.7 70.7h.1M300.9 61h.1M298.7 63h.1M297.1 61.7h.1M267.7 87.8h.1M267.4 83.6h.1M266.1 84.4h.1M244.4 173.1h.1M241.4 172.8h.1M241 174.1h.1M243.1 172.4h.1M240.5 175.3h.1M244 173.5h.1M238.8 141.7h.1M235.9 142.1h.1M238.8 143h.1M270 106.4h.1M270.7 105.9h.1M268.5 106.4h.1M317.1 32.7h.1M318.1 32.1h.1M317.8 31.9h.1M268.4 81.4h.1M266.7 84.2h.1M265.4 82.2h.1M271.5 93.3h.1M271.8 92.9h.1M269.8 93.8h.1M272.7 98.2h.1M273.9 98.5h.1M272 98.5h.1M284.1 90.6h.1M280.6 92.5h.1M285.4 90.6h.1M307.7 45.8h.1M307.8 42.9h.1M308.3 42.1h.1M340.9 46.3h.1M341.5 44.7h.1M338.2 44.1h.1M262 98.3h.1M260.6 98.3h.1M261.6 97.1h.1M312.4 56.4h.1M309.5 53.9h.1M312.8 56.5h.1M307.9 53.2h.1M309.1 51.4h.1M309.6 52.5h.1M249.4 131.3h.1M250.5 130.9h.1M249.4 132.4h.1M327.2 53.5h.1M330.6 53.7h.1M328.4 52.9h.1M343.8 31.9h.1M342 31.5h.1M342 33.8h.1M314.3 63.6h.1M315.8 62.7h.1M315.8 64.6h.1M291.8 74.8h.1M293 73.3h.1M292 72.4h.1M336.7 47.6h.1M338.3 49.5h.1M336.2 47.5h.1M265.7 96.4h.1M265.1 96.9h.1M265.9 94.1h.1M238.7 154.6h.1M237.4 154.1h.1M237.9 153.7h.1M302.1 90.4h.1M302.4 90.9h.1M302 88.8h.1M237.3 121.4h.1M239.3 119.9h.1M237.6 121.4h.1M248.6 179h.1M246 179.2h.1M247.7 177.2h.1M346.9 64.4h.1M346.3 62.7h.1M346.9 63.7h.1M289.4 61.5h.1M290.2 61.2h.1M290.2 62.9h.1M271.3 112.9h.1M269.9 114.9h.1M270.8 113.6h.1M333.1 65.4h.1M330.7 66.3h.1M330.9 64.1h.1M300 79.2h.1M301.9 76.1h.1M299.8 77h.1M307.8 86.9h.1M308.8 85.1h.1M308.3 84.2h.1M296.7 96.3h.1M297.2 92.8h.1M298.4 93.5h.1M249.8 153.8h.1M249.9 152.3h.1M248.4 151.7h.1M317.6 79.6h.1M315.6 80.8h.1M315.5 78.3h.1M246.2 124.7h.1M245.4 125.5h.1M245.6 126.2h.1M290.8 70.3h.1M291 70h.1M290.8 67.2h.1M261.2 123.5h.1M260.4 122.4h.1M262.1 123.6h.1M294.5 82.6h.1M293 81h.1M295 80.3h.1M307.6 89.1h.1M307.1 91.7h.1M306.8 92.2h.1M233.3 151.5h.1M233.3 152.3h.1M234.1 149.7h.1M306.2 49.8h.1M306.5 51h.1M307.4 50.6h.1M246.7 130.9h.1M245.8 131h.1M247.2 130.5h.1M297.5 88.1h.1M296.9 88.5h.1M299.7 87.9h.1M318.3 90.9h.1M316.5 92.6h.1M315.4 92.2h.1M292.2 56.3h.1M293.1 55.4h.1M291.2 55.1h.1M268.1 120.4h.1M270.4 117.9h.1M268.7 117.9h.1M322.8 37.4h.1M323.1 35.6h.1M324.4 36.5h.1M239.4 123.6h.1M242 123.3h.1M242.3 123.3h.1M349.4 49.3h.1M348.8 48.1h.1M348.1 49.1h.1M331.2 37.9h.1M331 36.6h.1M331.1 35.6h.1M321.4 48.3h.1M323.1 48.2h.1M323.6 49.7h.1M257.6 131.2h.1M257.4 132.7h.1M257.2 133.1h.1M310.2 41.8h.1M309.2 41.6h.1M310.7 41h.1M325.8 60.2h.1M324.9 60.5h.1M326.3 60.1h.1M236.2 176.2h.1M234.8 176.4h.1M238.1 179.3h.1M276.6 96.9h.1M277.1 97h.1M275 97.6h.1M250.4 117.1h.1M249.3 117.6h.1M250 116h.1M325.3 68.9h.1M325.8 68.8h.1M325.8 67.9h.1M269.1 112.7h.1M266.4 112.6h.1M268.7 113.2h.1M304.1 94h.1M306.8 92.7h.1M303.7 96.5h.1M288.3 83h.1M287.7 83.2h.1M287.4 84.2h.1M260.5 119.8h.1M260.9 120.8h.1M260.7 122.2h.1M284.3 108.6h.1M284 109.2h.1M283 108.8h.1M282.1 88.6h.1M282.1 88.8h.1M285 87.8h.1M285.4 73.1h.1M285.4 73h.1M288 72.2h.1M245.2 135.7h.1M244.2 134.6h.1M245.3 135.7h.1M266.3 142.3h.1M264.5 142.1h.1M264.1 142h.1M328.8 67.5h.1M325.3 68.7h.1M329.7 68.7h.1M301.2 67.7h.1M302.9 66.2h.1M300.6 64.5h.1M280.5 105.9h.1M279.7 102h.1M278.2 105h.1M246 156h.1M244.3 155.2h.1M245.6 158.2h.1M229.7 142.3h.1M228.6 146.2h.1M227.9 145.4h.1M335.3 57.8h.1M333.6 56.6h.1M334.4 58.6h.1M344.1 52.4h.1M343.8 51.7h.1M344.2 51.8h.1M250 136.1h.1M248.9 137.4h.1M248.3 136.5h.1M270.7 101.2h.1M272.7 102.7h.1M270.1 101.9h.1M256.5 140.6h.1M253.2 139.4h.1M255.7 140.6h.1M272 122.5h.1M270.8 123h.1M270.3 122.4h.1M248.5 174.6h.1M250.2 175.3h.1M249.8 175.4h.1M260.6 113.9h.1M261.5 116.7h.1M262.7 116.5h.1M264.7 135.3h.1M264.7 137.1h.1M265.4 136.1h.1M264.5 109.4h.1M267.1 111h.1M267.6 110h.1M271.4 94.4h.1M271.3 94h.1M271.8 92.3h.1M247.4 151.4h.1M245.8 153h.1M247.2 149.7h.1M268.4 105.8h.1M266.2 107.2h.1M265.8 105h.1M232.4 163.6h.1M232.4 165.1h.1M232 165h.1M243.4 165.4h.1M244.6 163.1h.1M240.6 162.3h.1M264.1 140.1h.1M262.4 141.3h.1M263.8 142.6h.1M259.6 143.9h.1M261 141.7h.1M261.6 143.2h.1M237 136.8h.1M236 138h.1M234.8 135.6h.1M284.2 68.9h.1M282.6 72.2h.1M285.7 73.5h.1M327.8 38.2h.1M326 37.8h.1M327.2 38.2h.1M280.7 105.1h.1M281.8 104h.1M280.8 103.2h.1M329.4 43.2h.1M328.2 42.4h.1M328.8 42h.1M298 63.2h.1M299.4 61h.1M298.4 61.4h.1M234.5 171.1h.1M238.6 171.6h.1M236.3 171.5h.1M340.5 60.5h.1M342 63.2h.1M342 62.7h.1M303.9 62.8h.1M301.9 63.2h.1M302.3 63.1h.1M296.9 78.3h.1M295.7 78.5h.1M295.9 77h.1M321.5 74.1h.1M319.8 74.6h.1M321.1 74.4h.1M278 76.6h.1M277.2 75h.1M279.8 76.3h.1M348.4 30.8h.1M346.9 32.5h.1M347.7 33.3h.1M233.1 143.7h.1M233.3 142.6h.1M235.3 142.2h.1M331 65.3h.1M330.8 65.2h.1M331 65.6h.1M290.6 67.1h.1M288.9 66.5h.1M290.9 65.2h.1M300.3 95.1h.1M301 93.8h.1M299.3 93.4h.1M264.8 149.8h.1M263.8 148h.1M263 148.6h.1M241.9 122.8h.1M242 123.2h.1M243 121.3h.1M261.5 113.7h.1M260.3 112.4h.1M259.9 112.5h.1M264.4 139.5h.1M265.8 137.1h.1M265.4 136.4h.1M318.4 67.4h.1M317.2 69.3h.1M319.3 67.1h.1M268.2 99.3h.1M265.9 100.6h.1M265.3 99h.1M321.4 69.3h.1M321.5 66.7h.1M322.4 69.3h.1M284.9 98.2h.1M285.3 97.2h.1M284.3 99.1h.1M242.4 152.8h.1M244.3 151.7h.1M240.8 150.4h.1M256 142.7h.1M258 143.8h.1M257.3 143.5h.1M240.4 122.6h.1M241.7 123.6h.1M243.8 124h.1M315.8 84.9h.1M313.9 86.9h.1M311.9 86.9h.1M250 119.1h.1M247.9 119.6h.1M247.9 118.8h.1M295.5 107.8h.1M294.8 108.5h.1M294.4 108.6h.1M247.7 160.9h.1M247.8 163.4h.1M247.1 162h.1M270.7 83.5h.1M270.9 82.9h.1M272 83.7h.1M290.1 82.3h.1M288.9 79.8h.1M289.1 83h.1M279.2 106.7h.1M276.1 106h.1M278.1 104.3h.1M266.4 103.5h.1M266.1 103.4h.1M264.9 103.3h.1M240.7 147.2h.1M239.5 145h.1M240.5 147.5h.1M272 112.5h.1M272.4 108.7h.1M270.8 113h.1M274.1 110.3h.1M272.4 113.9h.1M272.8 111.2h.1M280.9 105.1h.1M280.2 106.8h.1M281.7 107.3h.1M272.7 103.9h.1M272.9 103h.1M271.7 102.2h.1M308.3 75.5h.1M305 73.6h.1M306.3 73.2h.1M317.8 76.2h.1M315.8 76.1h.1M314.1 75.6h.1M250.3 116.5h.1M249.3 114.2h.1M248 115.9h.1M270.7 106.3h.1M271.1 107.3h.1M271 106.9h.1M314 70.6h.1M313.4 71.7h.1M312.8 71.2h.1M278 69.5h.1M278 69.4h.1M278.7 72h.1M264 91.4h.1M263.6 89.3h.1M263.3 91.8h.1M299.3 85.7h.1M302.1 85.7h.1M301.1 86.6h.1M268.9 96.1h.1M270.9 98.8h.1M271 97h.1M266 123.5h.1M265.7 122.8h.1M265.2 121.8h.1M328.6 53.8h.1M332 56.4h.1M332.2 56.9h.1M243.6 141.4h.1M242.8 144.1h.1M241.9 142.9h.1M238.9 154.1h.1M237.3 151.2h.1M237.9 153.7h.1M259.2 126.7h.1M257.8 125.2h.1M256.3 124.6h.1M236.3 144.5h.1M236.9 143.5h.1M238.5 143.4h.1M315.6 90h.1M316.2 89.3h.1M314.4 89.3h.1M268.4 84.9h.1M266.5 84.7h.1M268.3 85.6h.1M256.4 115.1h.1M255.6 117h.1M254.9 115.9h.1M323 51h.1M321.9 50.7h.1M320.8 49h.1M260.8 112.1h.1M259.6 109.5h.1M259.4 111.5h.1M248.5 151.1h.1M251.3 151.2h.1M250.1 150.3h.1M254.6 115.1h.1M255.6 116.7h.1M253.2 116.9h.1M255.6 134.8h.1M253.6 134.4h.1M251.8 138.4h.1M287.3 56.1h.1M287.2 60.1h.1M286.4 59.2h.1M277.7 89.4h.1M276.7 88.9h.1M278.5 89h.1M320.9 80.4h.1M323.4 75.1h.1M321.7 75.6h.1M259.3 137.6h.1M258 138.4h.1M259.7 136.4h.1M283.1 74.2h.1M285.5 74.2h.1M285.3 75.7h.1M250.4 119.9h.1M252 117.7h.1M252.5 117.7h.1M258.3 149.1h.1M257.3 148.6h.1M260.1 149.1h.1M294.5 53.2h.1M294.7 53.1h.1M294.2 54h.1M286.7 103.5h.1M284.6 104.5h.1M285 101.8h.1M332.1 72.9h.1M331.9 71.1h.1M332.5 70.3h.1M276.4 104.1h.1M278.7 106h.1M275.3 105.4h.1M254.2 121.6h.1M255.3 120.9h.1M256.1 120.9h.1M280.6 87.6h.1M282.1 84.4h.1M282 87.3h.1M338.3 48.9h.1M337.1 49h.1M335.6 45.7h.1M257.9 118.2h.1M256.2 117.5h.1M257.2 117.5h.1M280.2 88.5h.1M278.1 86.3h.1M281.6 86.2h.1M287 58.4h.1M285.9 58.3h.1M287.3 59.6h.1M289.5 87.5h.1M289.3 88.6h.1M290.5 88.4h.1M343.8 46.9h.1M344.6 47.3h.1M345 49.2h.1M245.9 150.9h.1M249 148.9h.1M247.1 150.5h.1M305.5 107.9h.1M304.8 107.6h.1M305.7 106.3h.1M244.6 131.3h.1M244.6 130.3h.1M244.7 130.8h.1M290.9 102.6h.1M289.2 102.1h.1M292.1 99.6h.1M326.6 68.8h.1M331.2 69h.1M329.1 68h.1M259.8 123.8h.1M259 124.3h.1M258.3 123.3h.1M345.8 55.4h.1M347.1 52.3h.1M347.4 54.6h.1M304.2 100.8h.1M304.5 102.2h.1M306.3 99.4h.1M271.7 98.3h.1M274 96.8h.1M274.6 99.6h.1M325.1 56.7h.1M326.4 56.2h.1M324.7 57.3h.1M253.6 171.5h.1M252.9 170.7h.1M250.4 172.7h.1M322.8 60.2h.1M325.7 60.6h.1M324.7 60.7h.1M341.3 62.4h.1M341 62.5h.1M341.5 63h.1M301.5 85.5h.1M302.2 83.9h.1M298.3 85.6h.1M277.8 105.5h.1M278 105.7h.1M277.7 103.8h.1M293.9 56.1h.1M292.1 53.2h.1M292.2 55.7h.1M277.2 73.4h.1M276.8 74h.1M274.2 73h.1M236.9 154.4h.1M237.1 153.3h.1M236.1 151.7h.1M287 93.7h.1M286.2 93.5h.1M286 94.5h.1M321.2 47.3h.1M321.8 46.8h.1M321.8 46.6h.1M346.1 51.4h.1M345.8 48.7h.1M345.6 48.9h.1M245.7 147.8h.1M245.6 147.6h.1M246.6 146.1h.1M240.9 159.1h.1M241.8 161.2h.1M242.6 161.1h.1M260.1 144h.1M259.4 145.7h.1M258.7 145.6h.1M253.3 143.3h.1M251.1 142.2h.1M252 143.2h.1M289.9 77.5h.1M289.3 76.6h.1M289 76.7h.1M265.8 134.5h.1M263.1 133.7h.1M263.6 135.3h.1M297.6 72.9h.1M299.6 73.5h.1M297.5 70.5h.1M238.6 173.6h.1M237.5 175.1h.1M239.1 174.3h.1M275 78.1h.1M276.3 79h.1M276.9 78h.1M246.1 154.6h.1M247 153.3h.1M247 153.9h.1M243.6 151.9h.1M246.7 153.5h.1M244.3 150.7h.1M298.6 71.1h.1M299.8 70.5h.1M300.3 68.6h.1M299.7 68.6h.1M298.4 69.4h.1M299.6 71h.1M326.8 68.5h.1M324.4 67.9h.1M325.3 70.8h.1M269.7 114h.1M266.3 111.2h.1M270 115.7h.1M270.5 116.5h.1M270.5 117.3h.1M271.9 115.6h.1M245.5 131h.1M243.2 132h.1M245.9 132h.1M248.2 135.9h.1M250 138.1h.1M251.2 137.7h.1M247.7 142.8h.1M248.7 143.9h.1M247.7 142.8h.1M324.5 41.3h.1M322.3 41.1h.1M322.4 43.2h.1M239.4 133.6h.1M240.4 132.4h.1M240.5 132.7h.1M277.7 107.2h.1M275.7 108.1h.1M277.1 107.6h.1M338.1 68.5h.1M337.7 69.5h.1M338.3 70.1h.1M291.4 93.3h.1M290.4 94.7h.1M293 96h.1M276 94.5h.1M272.9 93.2h.1M275.5 93.6h.1M235.6 176.5h.1M236.4 177.8h.1M236.6 175.4h.1M251.1 166.9h.1M250.1 165.6h.1M250 166.7h.1M300.4 61.4h.1M302.4 63h.1M302.3 62.2h.1M337.9 50.5h.1M337.1 50.7h.1M337.3 51.1h.1M308.8 60.6h.1M307.8 60.8h.1M304.7 61.6h.1M265.9 98.8h.1M264.1 101h.1M265.4 101.8h.1M301.1 71.8h.1M301 72h.1M301.4 71.4h.1M302 82.9h.1M304.1 81.7h.1M303.6 81.3h.1M253.7 155.1h.1M252 154.3h.1M251.3 155.2h.1M319 41.9h.1M320 40.3h.1M321 42.5h.1M291.2 64.9h.1M289.5 66.2h.1M291 65.6h.1M255.3 135.8h.1M254.1 138h.1M256.1 136.2h.1M248.2 168.5h.1M249.9 168.2h.1M248.5 167.7h.1M341.3 61.4h.1M341 62.2h.1M338.7 59.7h.1M265.2 121.3h.1M265.4 122.1h.1M264.4 120.9h.1M314.7 80.1h.1M315.3 81.5h.1M316 79.9h.1M311.4 71.3h.1M311 71h.1M313.2 70h.1M318 37.1h.1M320.2 35.9h.1M322.1 39.3h.1M273.9 105.9h.1M274.7 104.9h.1M274.4 105.4h.1M250 129.5h.1M250.7 129.8h.1M251 130.4h.1M308.4 83.9h.1M309.3 86.1h.1M311 83h.1M264.4 156.7h.1M263.3 155.2h.1M263.2 155.2h.1M287.7 86.3h.1M288.3 88h.1M287 86.3h.1M296.5 102.6h.1M297.5 100.7h.1M298.5 101h.1M278.4 115.1h.1M277.6 116.9h.1M278.6 116.1h.1M277.4 74.6h.1M277 73.6h.1M277.2 76h.1M264.2 120.3h.1M263.8 121.3h.1M262.7 119.1h.1M350.6 58h.1M349.8 58.7h.1M349 58.1h.1M283.1 79h.1M282.9 83.5h.1M284 80.5h.1M267.8 116.1h.1M266.5 117.1h.1M267.9 116.1h.1M327.3 67.6h.1M328.5 66.8h.1M330.1 66.6h.1M297.4 73.7h.1M298.1 71.9h.1M297.7 72.8h.1M245.3 156.9h.1M243.8 155.9h.1M244.6 156.7h.1M282.2 99h.1M281.7 99h.1M283 101.2h.1M234.4 163.6h.1M236.3 160.8h.1M235.6 159.7h.1M299.2 43.7h.1M299.8 44.6h.1M299.2 43.7h.1M300.3 100.8h.1M297.4 102.1h.1M298.8 102.8h.1M298.5 99.7h.1M297.4 99.2h.1M297.3 96.1h.1M281 72.8h.1M278.1 71.5h.1M277.7 68.4h.1M246.4 145h.1M244.1 145.7h.1M246.6 146.8h.1M286.5 79.9h.1M283.9 80.6h.1M286.1 79.8h.1M300.7 72.9h.1M300.1 74.1h.1M299.8 72h.1M253.8 104.4h.1M254.1 104.8h.1M254.6 104.2h.1M257.7 116.3h.1M260.2 118.5h.1M259.2 115.8h.1M276.2 112.6h.1M274.4 110h.1M275.9 112.1h.1M249.8 160h.1M250.4 161.5h.1M249.7 159.5h.1M265.5 89.3h.1M265 88.3h.1M266.4 87.9h.1M313.5 87.2h.1M312.6 87.3h.1M313 86.8h.1M311 74.4h.1M313.1 73.9h.1M311.1 74.2h.1M248.5 149h.1M248.1 150h.1M248.6 148.9h.1M259.8 136.2h.1M263.9 135h.1M262 135.8h.1M254 117.2h.1M256.2 118.6h.1M256.4 117.2h.1M268.5 92.8h.1M267.5 90.5h.1M268.6 92h.1M252.1 120.4h.1M251.7 121h.1M254.1 122.8h.1M249.6 125.9h.1M249.2 126.1h.1M249.7 125.3h.1M288.1 98.8h.1M288.8 101.2h.1M286.2 100.9h.1M256.1 130.2h.1M255.5 130.9h.1M257.9 129.4h.1M298.4 64.6h.1M300.3 63.5h.1M302.4 65.3h.1M322.8 80.2h.1M321.8 81.2h.1M321.4 80.2h.1M283.9 94.5h.1M282.7 91.4h.1M283 92.7h.1M295.7 55.4h.1M293.8 57.3h.1M296.8 56.9h.1M302.6 84.1h.1M302.3 83.4h.1M304.3 84.7h.1M295.2 64.3h.1M292.3 65.1h.1M295.1 66.4h.1M347.3 61h.1M348.4 59.4h.1M347.6 60.4h.1M292.5 80.9h.1M292.2 79.9h.1M292.6 79.8h.1M256.9 132.3h.1M258 131.7h.1M255.9 131.4h.1M301.8 102.1h.1M303.4 99.6h.1M302.8 100.3h.1M322.1 71h.1M321.6 70h.1M321.7 70h.1M248.6 156h.1M249.6 154.7h.1M248.2 154.2h.1M324.3 55.5h.1M324.6 56.8h.1M324.3 57h.1M295.2 64.4h.1M298.7 66.6h.1M293.6 66.4h.1M315.2 67.7h.1M316.2 65.5h.1M314.2 68.7h.1M316.1 71.8h.1M315.7 70.8h.1M317.5 70h.1M330.1 68.6h.1M329.4 65.6h.1M331 68.7h.1M313.5 58h.1M311.1 57.4h.1M311.6 56.2h.1M283.2 96.3h.1M284.2 96.1h.1M284.2 97.8h.1M252.5 111.1h.1M252.4 111.1h.1M250.4 111.2h.1M348.5 57.7h.1M348.3 58.7h.1M348.3 59.7h.1M343.5 51h.1M343.3 50.7h.1M342 52.2h.1M266.6 111.1h.1M269.3 111.3h.1M267.8 110.4h.1M241.6 129.6h.1M240.3 129.1h.1M240.8 129h.1M337.5 49.6h.1M337.2 49.9h.1M337.6 48.2h.1M260.6 135.2h.1M259.2 134.7h.1M260.3 132.7h.1M328.4 43.4h.1M328 42.5h.1M328.6 42.7h.1M292.9 59.5h.1M291.9 57.9h.1M290.5 62.2h.1M248.3 134.5h.1M246.7 134.1h.1M248 135.4h.1M288.9 73.3h.1M288.8 73.4h.1M289.6 73.3h.1M227.7 140.1h.1M231 142.1h.1M230.1 139.2h.1M260.4 140.9h.1M259.8 140.1h.1M258.5 139.4h.1M294.3 90.2h.1M292.2 89h.1M291.9 90.9h.1M265.5 142.1h.1M266.1 143h.1M266.1 141h.1M311.7 41.2h.1M311.2 39.7h.1M309.8 40.8h.1M307 53.5h.1M309.7 53.8h.1M309.5 54h.1M288.1 97.7h.1M290.7 96.8h.1M289.8 97.3h.1M280.3 86.8h.1M282 84.1h.1M282.2 85.8h.1M309.4 72.4h.1M311.9 71.7h.1M312.5 70.9h.1M254.6 121.3h.1M255 120.3h.1M257.3 119.7h.1M256.4 161.6h.1M255.8 160.1h.1M256 161.4h.1M300.4 59.1h.1M302.5 58.7h.1M302.7 59.7h.1M332.3 55.5h.1M332.2 57.1h.1M331.7 55.3h.1M303.6 98.8h.1M307.1 97.6h.1M307.1 98.8h.1M239.8 155.6h.1M239.8 157.9h.1M240.1 153.6h.1M348.8 57.6h.1M349.8 60.7h.1M349.5 57.1h.1M328.3 47.3h.1M325.3 45.8h.1M327.6 45.7h.1M291.6 63.6h.1M293.3 63.3h.1M293.5 63.6h.1M269.1 116h.1M271.7 114.4h.1M273.5 115.5h.1M318.7 70.1h.1M319.7 69.3h.1M317.2 70.4h.1M261 112.9h.1M260.5 110.5h.1M262.3 109.1h.1M292.6 93.5h.1M293.5 93.2h.1M292.9 93.2h.1M267.2 121.7h.1M265.6 122.9h.1M266.6 121.1h.1M274.3 104.4h.1M276.6 104.4h.1M278 103.1h.1M266.2 129.5h.1M265.8 131.4h.1M266.9 133.1h.1M240.8 114h.1M237.8 114.2h.1M239.9 111.8h.1M301.4 73.7h.1M300.2 72.6h.1M299.8 72.8h.1M338.2 51.7h.1M339.4 49.8h.1M338.2 51.1h.1M299 92.7h.1M297 92.9h.1M296.8 91.9h.1M264.9 102.9h.1M263.1 102.6h.1M264.4 103.6h.1M244.8 126.4h.1M243 126.3h.1M241.5 126h.1M233.3 164.2h.1M233.4 161.9h.1M235.9 165.4h.1M253.6 113.8h.1M252.4 117.3h.1M251.1 116.1h.1M251.9 166.5h.1M251.9 164.1h.1M251.9 166h.1M316.2 81.5h.1M315 82h.1M316.4 81.6h.1M312.3 42.6h.1M312.2 42.8h.1M310.9 44.7h.1M282 78.9h.1M282 79.1h.1M282.5 77.9h.1M332.5 72.7h.1M331.6 74.6h.1M334.3 73.7h.1M280.9 110.1h.1M281.6 110.4h.1M281 109h.1M254.6 118.2h.1M252.6 117.3h.1M255.9 119.3h.1M296.6 58.4h.1M295.6 56h.1M300.6 56.5h.1M274.8 85.6h.1M277.5 85.6h.1M276.4 86.5h.1M323.3 76.2h.1M322.6 75.2h.1M323.3 74.9h.1M314.9 62.3h.1M313.6 63.7h.1M314.8 63.3h.1M326.5 56.8h.1M326.7 57.8h.1M327.2 56.3h.1M340.7 39h.1M339.6 40.9h.1M339.2 39.9h.1M308.6 76.4h.1M310.9 76.8h.1M309.5 77.3h.1M251.9 96.7h.1M254.3 97.3h.1M255 97h.1M243.2 172.2h.1M241.7 173.3h.1M242.1 170.3h.1M237.2 167.2h.1M237 166.3h.1M236.8 165.4h.1M256.2 130.5h.1M256.9 131.2h.1M259.4 130.7h.1M271.1 93.7h.1M273.7 93h.1M270.6 93.9h.1M303.5 63.8h.1M303.8 65.5h.1M302.8 66.8h.1M343.9 59.3h.1M343.5 57.8h.1M341.4 59.9h.1M283.4 102.6h.1M283.6 103.9h.1M283.6 103.9h.1M266.2 136.8h.1M265 137h.1M266.8 138.6h.1M277.3 97.5h.1M275.8 98.3h.1M277.7 98.8h.1M278.8 115.1h.1M282.5 114.7h.1M280.2 114.8h.1M295.3 44.8h.1M295 44.6h.1M295.2 43.1h.1M267.3 145h.1M268.5 146.2h.1M266.6 146.2h.1M243.6 165.7h.1M240.4 167.6h.1M242.2 164.8h.1M305.1 80h.1M302.2 79.7h.1M303.7 78.9h.1M311 66.6h.1M313 63.9h.1M313.7 65.5h.1M311 36.8h.1M311.4 36.1h.1M311.8 35.3h.1M232.3 158.5h.1M234.3 158.8h.1M230.7 158.6h.1M253.3 160h.1M254.9 160.3h.1M251.8 159.7h.1M262.5 126h.1M263.3 126.9h.1M264.7 127.8h.1M297.6 68.5h.1M296.9 67.5h.1M297.7 68.9h.1M323.3 35.5h.1M324.9 39.7h.1M324 37.5h.1M239.4 116.3h.1M240.4 117.8h.1M239.8 116.7h.1M263.3 135.1h.1M264 135.9h.1M263.1 135.4h.1M328.2 44.3h.1M325.6 47.2h.1M326.9 46.1h.1M243.7 118.2h.1M242 117.5h.1M245.5 118.8h.1M246.6 161.9h.1M248.5 163.6h.1M245.8 162h.1M270.5 97.5h.1M270.5 95.8h.1M273.2 96.3h.1M273.7 92.2h.1M274.3 90.7h.1M274.3 91.7h.1M315.7 70.7h.1M318.1 71.4h.1M319.1 68.7h.1M287.7 105.9h.1M286.6 105.6h.1M289.5 105.9h.1M272.9 100.2h.1M274.8 100.5h.1M274.6 101.4h.1M267.3 88.1h.1M267.9 86.1h.1M267.9 86h.1M308 78.3h.1M306.8 78.9h.1M305.7 77.8h.1M315.3 54.7h.1M315.9 54h.1M313.3 55.9h.1M297.1 88.9h.1M296.3 87.9h.1M298.7 89.3h.1M310 98.5h.1M309.3 96.9h.1M309.8 97.6h.1M347.1 34.6h.1M348.8 36.4h.1M346.7 37.1h.1M284.3 65.4h.1M286.4 67h.1M286.2 65.9h.1M281.6 99.1h.1M285.9 102.8h.1M283.2 102.2h.1M325.7 66.9h.1M324.5 66.6h.1M325.6 65.9h.1M275.2 84.5h.1M276.3 86.2h.1M276.9 85h.1M285.4 79.7h.1M284.9 80.4h.1M285.3 82.4h.1M256.4 155h.1M254.9 154.6h.1M256.5 154h.1M312.1 52.5h.1M312.8 54.6h.1M311.5 52.2h.1M266.2 139.1h.1M269.5 141.4h.1M267.5 141.9h.1M255.8 119.1h.1M256.4 117.3h.1M256 119h.1M257.9 136.4h.1M259.9 133.4h.1M257.7 134h.1M325.7 57.5h.1M325.9 57.6h.1M327.8 57.5h.1M292.8 70.7h.1M291.9 71.2h.1M292.7 71.5h.1M231.5 135.5h.1M233 135.2h.1M234.4 133.6h.1M260.2 122.8h.1M259.1 123.6h.1M259.8 121.4h.1M244.8 157.4h.1M244.5 157.7h.1M246.6 156.6h.1M279.8 90.7h.1M281.2 89.5h.1M282 87.8h.1M267.3 104.6h.1M267.4 105.4h.1M265.3 104.1h.1M314.4 53.1h.1M311.7 53.3h.1M315.7 53h.1M250 162.1h.1M251.5 162.7h.1M251.4 163.5h.1M300.2 61h.1M298.4 61h.1M302.3 59.8h.1M281.1 110.8h.1M280.1 111.9h.1M281.7 111.7h.1M261.4 151.7h.1M259.2 149.9h.1M259.3 151.9h.1M334 43.4h.1M333 43.4h.1M333.3 45.3h.1M352 64.5h.1M350.9 67h.1M349.7 65.7h.1M275.7 80.5h.1M271.9 81.2h.1M275.4 81.4h.1M296.4 106.2h.1M294.7 106.3h.1M298.7 106.1h.1M285 103.4h.1M284.6 103.4h.1M284.6 105h.1M237.4 139.6h.1M237.4 138.1h.1M236.6 141.1h.1M319.7 34h.1M319.3 35.1h.1M321.7 35.7h.1M233.1 169.2h.1M231.9 168.5h.1M233.7 167.2h.1M249.2 124.2h.1M248.6 123.3h.1M248.1 123.4h.1M299.4 99.2h.1M299.1 100.3h.1M297.5 99.6h.1M314.3 90.4h.1M313.6 89.7h.1M314.6 91.7h.1M262.7 111.4h.1M264.4 111.4h.1M263 112h.1M233.4 160.4h.1M235 157.6h.1M234.7 158.5h.1M301 73.7h.1M302.6 73.6h.1M300.3 73h.1M240.3 160.5h.1M241.3 161.3h.1M239.5 160.9h.1M287 93.3h.1M287.7 92h.1M286.7 91.6h.1M312.6 79.7h.1M312.6 80.5h.1M310.6 80.9h.1M328.5 66.5h.1M326.1 65.4h.1M327.5 67.6h.1M236.1 131h.1M234.2 129h.1M236.8 131.5h.1M264.6 96.7h.1M261.9 96.1h.1M261.6 95.3h.1M275.2 106.8h.1M276.2 104.9h.1M277.2 104.9h.1M339.6 59.2h.1M339.2 58.4h.1M338.9 58.1h.1M277.4 103.3h.1M277.1 104.5h.1M276.7 102.5h.1M259.3 115.3h.1M257.8 112.9h.1M260.8 114.9h.1M325.4 34.6h.1M327.2 33.2h.1M325.7 35.9h.1M273.9 118.1h.1M273.4 120.1h.1M275 116.3h.1M349.1 63.9h.1M349.2 61.1h.1M350.5 61.1h.1M278.3 86.1h.1M279 85.9h.1M279.2 85.2h.1M282.4 78.9h.1M278.9 79.4h.1M281.2 78.4h.1M281.1 110.1h.1M283.7 106.9h.1M283.7 110.6h.1M299.2 87.4h.1M297 86.9h.1M299.5 85h.1M240.9 134.9h.1M242.6 135h.1M244.6 137.4h.1M302.8 77.3h.1M301.8 77.7h.1M302.7 78.5h.1M304.5 74.1h.1M305.6 75.5h.1M303.6 77h.1M287.7 78.2h.1M288.8 77.6h.1M287.2 79.9h.1M305.3 49.3h.1M304.8 49.3h.1M309.2 49.2h.1M303.1 91.3h.1M305.1 89.4h.1M306.2 91.1h.1M248.7 159.4h.1M249.6 157.8h.1M250 158.8h.1M289.2 91.6h.1M286 91h.1M290.8 90.6h.1M293.3 86h.1M294.1 82.3h.1M294.7 82.4h.1M246.7 140.6h.1M244.2 140.2h.1M247.7 141h.1M256.6 141.7h.1M258 141.8h.1M256.5 143.3h.1M263.5 120.9h.1M262.1 121.5h.1M264.5 122.1h.1M285.5 89.4h.1M282.7 91.9h.1M283.3 92.1h.1M229.2 146h.1M228.8 148.4h.1M231 147.6h.1M319.5 74.5h.1M320.9 75.5h.1M321.1 73.5h.1M257.5 95.2h.1M255.3 96.9h.1M256.9 94.2h.1M263.6 123.4h.1M261 123.8h.1M263.2 123.2h.1M289 76.7h.1M287.7 76.5h.1M289.6 76.2h.1M244.2 173.3h.1M245.8 172.6h.1M244.8 174.3h.1M313.1 96.4h.1M314.3 95h.1M313.1 94.2h.1M277.1 84.8h.1M279.2 85h.1M278.4 85h.1M247.4 148.2h.1M247.3 146.3h.1M246.3 147.5h.1M342.5 62h.1M342.9 58.3h.1M344.7 60.2h.1M308.2 60.5h.1M309.1 60.4h.1M311.4 62.1h.1M320 76.2h.1M319.8 77.2h.1M319.4 77.7h.1M323.4 39.5h.1M325.7 38.3h.1M324 38.6h.1M315.3 39.9h.1M317.3 40h.1M316.1 38.9h.1M345.6 47.7h.1M344.3 49.1h.1M343.2 47.2h.1M314.9 77.1h.1M313.5 73.2h.1M313.4 74.8h.1M251.6 150.6h.1M249.2 148.1h.1M252.1 149.1h.1M252 160.7h.1M251.6 159.5h.1M254.1 156.2h.1M233.6 158.1h.1M231.5 159.8h.1M232.3 160.4h.1M236.9 128.8h.1M235.9 128.9h.1M238.5 128.8h.1M300.8 67.9h.1M303.6 65.2h.1M300.8 67.8h.1M250.2 166.4h.1M246.9 168h.1M248.5 169.5h.1M291.2 78.4h.1M293.6 76.8h.1M291.7 79.9h.1M303.4 77.8h.1M307.1 75.4h.1M304.9 76.7h.1M310.8 84.7h.1M310.4 82h.1M311.1 82.6h.1M341.7 49.6h.1M343.6 48.5h.1M341.9 50h.1M291.1 100.1h.1M292.3 100.9h.1M291.7 100.3h.1M262.1 145.8h.1M263.6 145h.1M262.7 145.2h.1M238.4 119.8h.1M239.2 119.3h.1M240.7 119h.1M281.5 106.9h.1M279.9 105.1h.1M280.2 104.7h.1M250 138.9h.1M247.9 139.1h.1M247.9 137.8h.1M314.6 48.2h.1M315.3 44.9h.1M314.6 47.1h.1M275.7 94.1h.1M274.2 95.1h.1M276.6 97.4h.1M314.6 49.1h.1M316 51.4h.1M316.7 49.4h.1M338.5 42.9h.1M337.7 43.4h.1M336.8 44.4h.1M306.8 72.9h.1M305 72.2h.1M305.3 72.5h.1M238.8 149.9h.1M241.2 148.7h.1M241.7 148.7h.1M334.4 66.9h.1M336.4 68.5h.1M335.6 67.5h.1M279.9 99.8h.1M279 99.6h.1M281.9 101.3h.1M286.3 73.5h.1M286.9 72.8h.1M286 73.7h.1M281.3 88.7h.1M282.2 90h.1M279.5 86.6h.1M245.9 159h.1M246.1 160.1h.1M246.4 159.8h.1M255.1 111.8h.1M254.2 114.4h.1M254.5 111.8h.1M296.8 56.8h.1M294.1 58.2h.1M296.6 58.6h.1M245.1 154.2h.1M246.2 152.9h.1M246.8 153.2h.1M328.9 40.3h.1M329.3 40.6h.1M327.8 42.7h.1M282.8 65.3h.1M282.1 66.3h.1M282.9 64.4h.1M312.7 90.3h.1M313.9 92.1h.1M312.2 91.3h.1M307.6 69.2h.1M304.7 70.9h.1M306.8 71.8h.1M252.5 121.1h.1M250.9 119.2h.1M254.7 119.4h.1M300.8 74.3h.1M301.5 76.8h.1M300.5 75.6h.1M228.9 154.2h.1M230.6 154.9h.1M229.2 155h.1M322.4 76.1h.1M321 75.2h.1M320.3 73.9h.1M263.8 143.3h.1M262.8 146h.1M264.4 143.7h.1M293.6 103.2h.1M294.3 102.5h.1M295.8 103.9h.1M333.6 35.4h.1M336.8 37.3h.1M335.9 36.8h.1M295.2 96.4h.1M293.5 94.9h.1M296.2 94.8h.1M274.9 108.8h.1M273.6 109.1h.1M273.8 108.6h.1M266.4 151.2h.1M265.1 149.7h.1M264.2 154.6h.1M345.8 41h.1M347.2 40.7h.1M349.9 42.7h.1M265.6 87.8h.1M265 88.4h.1M266.9 88.1h.1M258.4 141.9h.1M255.3 140.8h.1M254.6 140.9h.1M255.2 143.1h.1M254.7 145.5h.1M255.3 142.7h.1M284.3 109.2h.1M281.4 110.1h.1M284.6 107.2h.1M293.9 92h.1M294.5 94.6h.1M295.9 93.2h.1M253.1 162h.1M254.7 164.1h.1M252.7 162.7h.1M289.6 103.2h.1M288.1 102h.1M288.4 104h.1M272.7 85h.1M271.2 89.1h.1M272.7 87.9h.1M289 67.7h.1M290.1 72h.1M287.7 67.7h.1M304.5 74.9h.1M301.6 74.6h.1M300.8 76.5h.1M343.9 43.1h.1M340.4 42.7h.1M339.3 43.5h.1M287.2 73.8h.1M287.3 72.7h.1M283.9 72.1h.1M321.2 61.5h.1M320.8 63.9h.1M320.1 66h.1M260.5 113.8h.1M259.1 115h.1M258.3 113h.1" stroke="#000" stroke-opacity="0.13" stroke-width="1.5"/>
<path d="M294.3 96.6h.1M296.1 99.6h.1M295.4 98h.1M245.5 133.4h.1M247 135.2h.1M250 132.4h.1M246.8 106.1h.1M248.7 106h.1M247.5 104.6h.1M233.7 152.6h.1M233.4 153.2h.1M235.4 155.6h.1M280.3 95.9h.1M279.8 97.1h.1M281.3 96.6h.1M257.4 107.3h.1M257.9 106.8h.1M258.7 107.7h.1M243.4 149.3h.1M243 150.7h.1M244.4 149.3h.1M247.5 125h.1M245.4 126.2h.1M245.6 125h.1M253 167.2h.1M254.9 168.1h.1M253.8 169.6h.1M306 96.8h.1M304.9 94.2h.1M305.1 96.2h.1M253 112.3h.1M254.9 112.6h.1M254.7 109.7h.1M261 135.1h.1M259.5 134.4h.1M260.4 134h.1M241.1 128.4h.1M236.1 127.9h.1M236.7 128.8h.1M257.2 93.4h.1M259.5 94.4h.1M256.8 93.5h.1M259.9 100.8h.1M259.5 101.1h.1M260.5 100.9h.1M304.6 81.8h.1M307 82.7h.1M305.4 82.1h.1M265.8 97.1h.1M267.1 97.3h.1M265.8 97.6h.1M291.3 101.2h.1M290.7 100.9h.1M291.7 102.5h.1M297.4 65h.1M297.6 66.2h.1M297.7 67.5h.1M299.7 87.3h.1M301.4 89h.1M302 88.3h.1M292.2 100.9h.1M293.9 104.1h.1M293.8 101.2h.1M329.6 54.1h.1M329 57.3h.1M328.9 54.1h.1M325.4 71.4h.1M323.7 71.6h.1M325.5 68.6h.1M282.7 89.5h.1M281.6 91.9h.1M282.8 90h.1M314.6 47.5h.1M315.5 44.7h.1M315.8 45h.1M231.9 154.4h.1M231 154.8h.1M232.9 157.4h.1M308.5 92.7h.1M309.3 93.9h.1M310.1 92.6h.1M317.8 70.5h.1M316.5 72.6h.1M316.4 72.1h.1M266.9 87.9h.1M267.8 87.4h.1M269.2 85.6h.1M260.7 96.5h.1M258.7 96.2h.1M260.3 95h.1M272.3 108h.1M272.5 105.1h.1M275.5 108.4h.1M243.7 144.4h.1M243.9 144.4h.1M245.1 146.4h.1M242.8 162.9h.1M242 159.9h.1M242.1 160.5h.1M251.9 161.8h.1M254 162.3h.1M253.3 159.8h.1M300.4 71.6h.1M298.7 74.1h.1M297.5 73.5h.1M275 96.6h.1M274.8 98.1h.1M276.8 100.1h.1M327.6 42.5h.1M327.7 43.4h.1M326.1 41.6h.1M251.6 138.3h.1M252.4 139.2h.1M252.2 138.4h.1M297 80.5h.1M293.7 83.4h.1M296.8 81h.1M259.7 106.8h.1M257.5 108.3h.1M256.6 105.6h.1M260.4 102.3h.1M260.4 102.5h.1M259.1 101.2h.1M263 118.3h.1M260.8 118h.1M261.4 118.4h.1M272.2 78.8h.1M276.4 82.1h.1M274.6 81.7h.1M284.7 69.9h.1M286.6 68.7h.1M285.3 69.5h.1M308.1 64.7h.1M307.7 65.2h.1M306.2 66.5h.1M258.6 143.8h.1M257.2 144.8h.1M255.7 145.3h.1M335.3 48.8h.1M333.9 50.3h.1M336.6 49.6h.1M236.9 147.4h.1M241 146.6h.1M237.4 145.3h.1M266.2 122.6h.1M265.9 123.1h.1M267 124.8h.1M278.3 105.1h.1M277.2 103.6h.1M279.4 104.9h.1M303.3 70.2h.1M303.9 71.6h.1M302.6 72.2h.1M242 163.9h.1M239.2 164.8h.1M238.6 163.8h.1M332.2 67.7h.1M330.7 67h.1M329.1 67.6h.1M301.8 98.1h.1M301.4 99.7h.1M302.2 101.2h.1M333.1 63.9h.1M334.4 64.8h.1M334.6 64.4h.1M272.6 110.4h.1M274.2 109.1h.1M276.4 107.9h.1M347.6 51.5h.1M349.8 51.8h.1M347.2 50.9h.1M253.9 96.2h.1M252.9 95.9h.1M250.8 96.2h.1M301.2 71.9h.1M300.6 69.9h.1M300.6 71.4h.1M288.1 67.7h.1M286.2 69.7h.1M286.1 68h.1M329.5 42.6h.1M330.9 41.6h.1M330.5 40.2h.1M241.9 124h.1M242 124h.1M240.9 123.8h.1M288.1 66.4h.1M289.5 69.3h.1M287 66.2h.1M273.4 79.8h.1M275.1 79.6h.1M274.2 80.1h.1M337.6 46.2h.1M338.4 46.8h.1M338.1 46.7h.1M275.5 113.3h.1M277.1 114.8h.1M277.8 114.7h.1M325 40.5h.1M324.2 37.1h.1M325.5 37h.1M305.9 67.7h.1M307.5 70.3h.1M306.5 68.9h.1M243.3 126.6h.1M245.6 124.8h.1M243.6 125.1h.1M269.6 99.1h.1M268.6 101h.1M270.4 101.7h.1M280 97.1h.1M280.3 96.7h.1M280.4 98h.1M315.2 59.8h.1M313.5 61.3h.1M313.5 59.2h.1M261.3 88.7h.1M261.1 90.4h.1M259.3 89.1h.1M237.9 156.1h.1M237.4 157.7h.1M237.9 156.4h.1M268.9 118.6h.1M269.2 120.2h.1M267.7 119.8h.1M333.6 75.9h.1M333.5 75.1h.1M331.4 74.4h.1M287.5 69.4h.1M287.5 66h.1M289.1 68.1h.1M273 112.8h.1M272 111h.1M272.3 111.9h.1M255.7 123.2h.1M257 119.5h.1M257.1 120.9h.1M317.1 79.6h.1M316.9 79.8h.1M317 78.2h.1M326.5 76.6h.1M325.3 74.7h.1M324.4 75.9h.1M246.3 165.7h.1M247 167h.1M245 165.1h.1M294.2 84.3h.1M294 84.4h.1M292.2 84.4h.1M252.3 170.2h.1M252.6 171.1h.1M253.9 170.5h.1M309.8 76.2h.1M308.6 77.6h.1M310.1 75.9h.1M324.6 65.6h.1M325.2 68.3h.1M325.1 67.4h.1M266.4 107.4h.1M269.1 108.2h.1M267.4 108.1h.1M252.9 131.7h.1M253.1 131.6h.1M254.4 134.6h.1M265 91.9h.1M264.7 91h.1M265.7 90.4h.1M251.1 156.7h.1M252.2 158h.1M252.8 154.3h.1M310 82.9h.1M308.3 85.3h.1M310.3 85.6h.1M289 65.5h.1M288 63.6h.1M286.2 65.3h.1M234.5 161.7h.1M232 162.5h.1M235 163.4h.1M331.3 34.9h.1M332.6 35.8h.1M331.9 37.9h.1M275.4 107.8h.1M273.9 106.5h.1M276.1 107.3h.1M276.2 93.9h.1M275.2 92.3h.1M273.9 91.6h.1M348.3 43.2h.1M349.1 46.3h.1M349.1 43.2h.1M244.3 152.5h.1M243.6 151.7h.1M245.4 150.4h.1M310.9 78.1h.1M311.7 77.8h.1M311.4 79.4h.1M262.7 146.8h.1M263.9 146.4h.1M264.9 147.4h.1M259.9 112.5h.1M261.7 116h.1M260.7 115.8h.1M277.5 92h.1M274.5 93.2h.1M274.2 91.9h.1M262.7 83.5h.1M264.9 83.5h.1M264.9 82.9h.1M309.6 67.3h.1M309.1 65.3h.1M308.4 65.1h.1M306.5 92h.1M307.8 90h.1M309.6 94.1h.1M294.4 97.3h.1M292.3 98.4h.1M293.9 99.9h.1M293.8 76.3h.1M293.4 75.4h.1M290.6 75.5h.1M246.7 130.6h.1M247.3 128.8h.1M247.1 129.7h.1M306.7 100.5h.1M303.4 102.5h.1M301.9 100.1h.1M263.2 95.8h.1M261 94.1h.1M262.3 93.6h.1M259.2 136.7h.1M261.6 137.8h.1M260.3 136.7h.1M308.9 79.8h.1M307.4 80.8h.1M309.8 82.3h.1M311.3 76.5h.1M310.9 75h.1M310.2 74.3h.1M268.6 109.9h.1M269.9 114.3h.1M268.9 110.7h.1M258 143.7h.1M258.4 143h.1M259.2 146.3h.1M281.7 103.2h.1M282.2 103.2h.1M282.1 104.3h.1M248.1 144.1h.1M245.3 143.3h.1M245.9 144.8h.1M288.9 93.8h.1M287.9 92.8h.1M286.4 94.1h.1M343.8 48.1h.1M345.1 49.5h.1M345.2 47.2h.1M249.2 159.8h.1M250.4 159.6h.1M248.7 158.9h.1M331.8 30.1h.1M332.3 29.6h.1M334.4 31.2h.1M259.6 107.5h.1M255.9 107.1h.1M257.1 108.4h.1M237.8 171.8h.1M237.1 171.5h.1M239.2 171.7h.1M259 137.8h.1M259.5 138.3h.1M257.7 136.7h.1M282.3 117.7h.1M280.5 115.3h.1M280.2 116.4h.1M252.7 148h.1M253.1 148.7h.1M251.4 146.7h.1M274.9 90.3h.1M276 92.6h.1M275.9 90.3h.1M291.5 95.9h.1M291.4 94.9h.1M289.3 94.6h.1M263.2 100h.1M263.6 98.3h.1M264.3 97.7h.1M296.8 80.4h.1M296.5 81.3h.1M296.4 82h.1M234.8 157.8h.1M238.5 156h.1M234.6 156.2h.1M253 130.2h.1M253.7 129.1h.1M253.8 128.7h.1M331.2 63.5h.1M332.1 61.1h.1M331.4 63.6h.1M328.8 41h.1M330.1 39.6h.1M328.5 40.1h.1M265.5 90.9h.1M262.4 88.2h.1M262.1 92.2h.1M306.8 65.9h.1M309.4 66.2h.1M306.9 64.4h.1M284.5 100.3h.1M283.4 99.5h.1M285 99.7h.1M242.2 149.3h.1M241.2 150.2h.1M240.4 149.2h.1M275.7 94.4h.1M275 91.7h.1M275.9 95.2h.1M286.6 82.6h.1M287.1 79h.1M286.3 80.9h.1M269.1 124.4h.1M270.5 123.2h.1M269.2 122.3h.1M252.6 149.1h.1M249.9 147.9h.1M250.1 147.6h.1M332.6 45.3h.1M332.7 44.7h.1M332.1 47.4h.1M255 117.2h.1M255.8 115.4h.1M253.6 116.4h.1M271.8 116.5h.1M270.6 118h.1M272.2 115.5h.1M248 158.5h.1M248.5 156.8h.1M249.5 157.4h.1M315.3 72h.1M316 74.3h.1M315.8 73.3h.1M288.6 88.3h.1M290.2 87.4h.1M286.4 90.3h.1M305.6 96.2h.1M303.5 98.3h.1M303.1 95.5h.1M299.9 95.3h.1M298.8 95.6h.1M299.4 95.2h.1M317 53.9h.1M316 54.8h.1M315.7 54.2h.1M305.4 81.2h.1M303 81.6h.1M303.8 83.3h.1M239.7 115.6h.1M239.9 116.2h.1M238.7 117.1h.1M299.4 99.7h.1M301.1 99.6h.1M299.2 97.5h.1M334.6 61.4h.1M333.3 62.5h.1M333.4 64.2h.1M358.4 45.4h.1M358.7 46.4h.1M358.6 47.1h.1M243 162.5h.1M240.1 162.5h.1M240.4 163.7h.1M348.6 56.9h.1M349 58.6h.1M350.2 58.1h.1M267.1 103.6h.1M266.3 103.7h.1M267.7 104.7h.1M320.3 49.2h.1M319.6 53.1h.1M318.8 52.2h.1M334.3 47.9h.1M335.4 47.4h.1M335.6 47.8h.1M304.8 44.4h.1M305.3 46.8h.1M303.6 46.4h.1M260.6 126.6h.1M260.1 126.5h.1M261.8 124.5h.1M268.9 125.8h.1M267.9 124.6h.1M268.1 126.5h.1M327.9 67.5h.1M325.5 69.4h.1M326.3 71.1h.1M283.5 89.2h.1M284.4 87h.1M285.3 88.3h.1M270.8 97.8h.1M269.2 97h.1M270 96.9h.1M234.7 170.4h.1M234.9 169.5h.1M234.5 170.5h.1M306.2 55.3h.1M302.2 54.9h.1M305.7 55.4h.1M248.8 120.9h.1M251.2 119.5h.1M251.8 116.9h.1M292.7 89h.1M292.7 87.1h.1M293.6 88h.1M306.1 46.7h.1M305.7 45.7h.1M304.1 44.8h.1M348.9 57.2h.1M349.3 56.4h.1M348.6 56.6h.1M326.7 66.7h.1M328.3 66.8h.1M328 68.1h.1M307.1 105.3h.1M302.6 103.6h.1M305.6 104.7h.1M240.8 113.7h.1M241.9 113.6h.1M242.1 116.4h.1M271.5 119.1h.1M271.7 113.7h.1M270.9 115.3h.1M276.2 107.5h.1M276.2 103h.1M275.7 105.2h.1M262 114.5h.1M260.7 115.8h.1M261.1 116.3h.1M301.8 70.1h.1M302.3 70.2h.1M303.1 70.8h.1M284.6 71.6h.1M284 72.2h.1M285.8 72.4h.1M272.6 89.2h.1M272.5 89.5h.1M272 87.9h.1M257.5 100.8h.1M256.7 97.5h.1M257.9 99.1h.1M243.7 133.1h.1M245 133.8h.1M242.7 133.1h.1M282.7 100.4h.1M281.3 102.9h.1M281.7 102.1h.1M263 139.3h.1M265.7 139.8h.1M262.2 140.4h.1M305.3 74.1h.1M305.2 72.8h.1M306 75.4h.1M337.2 52.4h.1M335 51.2h.1M336.3 52.1h.1M270.7 88.5h.1M273.4 87.4h.1M273.9 89h.1M261 107.1h.1M263.3 107.6h.1M260.7 108h.1M303.2 57.5h.1M301.6 53.9h.1M303.5 56.2h.1M247.6 121.4h.1M246.2 123h.1M248.5 123.6h.1M242.9 168.5h.1M242.8 170.9h.1M243.7 169.7h.1M310.9 68h.1M311 69.6h.1M311.3 68.8h.1M316.3 73.5h.1M316.2 72.8h.1M314.6 72.6h.1M293 102.2h.1M292.5 100h.1M297 100.9h.1M248.1 117.4h.1M246.5 118.1h.1M246.4 118.9h.1M303 68h.1M302.6 67.1h.1M301.9 68.1h.1M298.7 86.2h.1M299.3 87h.1M298.3 85.8h.1M243.1 143.2h.1M245.9 142.2h.1M243.2 143.1h.1M307.8 40h.1M307.7 37.8h.1M307.8 36.1h.1M250.5 157.5h.1M251.2 158.3h.1M249.7 155.9h.1M340 41h.1M341.4 40h.1M340.8 40.5h.1M298.6 64.7h.1M298.6 67.2h.1M297.8 64.5h.1M302 79.7h.1M300.6 79.1h.1M299.4 79.3h.1M234.8 164.2h.1M233.9 163.2h.1M234.4 160.8h.1M277.4 76.8h.1M278.6 77h.1M279.7 77h.1M336.1 48.5h.1M336.2 49.6h.1M335.6 49.8h.1M302 75.2h.1M303.5 76.2h.1M300 73.9h.1M265 116.7h.1M262.9 114h.1M261.7 115.3h.1M249.7 109.7h.1M249 110.8h.1M247.6 111.3h.1M267.7 101.3h.1M269.2 103.4h.1M269.3 100.1h.1M320.9 75.8h.1M322.1 76.5h.1M322.1 78.1h.1M347.9 55h.1M348.1 55.9h.1M346.4 55.5h.1M307 55.4h.1M307.3 57.1h.1M309.1 55.2h.1M257.3 134h.1M258.3 134.2h.1M258.2 136.5h.1M333 56.2h.1M336.2 55.7h.1M334.2 52.4h.1M306.4 74.4h.1M306.9 73.4h.1M309.4 75.5h.1M258.9 97.9h.1M256.3 98.5h.1M257.7 95.8h.1M291.4 72.8h.1M294.1 74.8h.1M291.5 74.1h.1M309.6 62.3h.1M309.6 60.8h.1M308.1 62h.1M295.2 74.3h.1M297 77.6h.1M298 74.6h.1M243.8 172.5h.1M242.5 174.7h.1M241.5 174.8h.1M232.9 152.9h.1M232.5 152.6h.1M232.9 153.2h.1M273.1 87.2h.1M273.4 89h.1M272.4 88.7h.1M276.7 93.5h.1M275.9 95h.1M276.3 95.9h.1M258.7 129.4h.1M257.5 128.2h.1M255 128.7h.1M280.3 87.1h.1M282.2 85.3h.1M282.7 87.8h.1M259.9 87.5h.1M262.3 89.2h.1M261.7 87h.1M253.7 144.9h.1M252.4 143.7h.1M253.5 143.1h.1M241.8 132.4h.1M243.9 132.5h.1M242.4 132.5h.1M312.4 75.4h.1M314.9 75.8h.1M312.5 73.3h.1M292.8 51.6h.1M293.3 54.3h.1M290.5 55.1h.1M261.9 115.8h.1M260.9 113.4h.1M262.4 115.7h.1M254.8 89.3h.1M257.3 89.2h.1M253.5 88.5h.1M314.7 42.9h.1M312.9 42h.1M312.8 42.3h.1M296.5 68.2h.1M296.4 67.3h.1M296.4 68h.1M255 122.2h.1M253.7 125.5h.1M253.2 124.9h.1M313.6 80.4h.1M313.7 79.2h.1M314.5 78.4h.1M260.7 134.7h.1M259.3 136.6h.1M259.2 135.6h.1M291 72.4h.1M290.8 71h.1M290 73h.1M267.4 112.9h.1M265.2 113h.1M268.5 113.3h.1M258.3 133.2h.1M257.7 132.3h.1M257.8 133.4h.1M270.9 95.6h.1M272.2 96.2h.1M272.1 95.5h.1M235.1 157.4h.1M236.3 156.5h.1M235.2 158h.1M251.6 131.5h.1M252.6 129.4h.1M249.4 130.4h.1M276.3 99h.1M276.4 99.8h.1M275.7 100.3h.1M311.7 89h.1M313.7 89.9h.1M312.8 90.5h.1M282.1 108.1h.1M282.1 106.1h.1M282.1 106.6h.1M311.7 83.6h.1M309.1 84.4h.1M310 82.4h.1M309.3 105.5h.1M308.8 106.1h.1M306.5 103.6h.1M293.4 60.3h.1M292.7 59.6h.1M294.4 62.8h.1M249.3 158.5h.1M249.7 160.5h.1M248.9 159.4h.1M291.9 57.6h.1M295.1 59.7h.1M291.9 58.6h.1M297.6 90.3h.1M299.2 93h.1M297.2 92.7h.1M232.5 143h.1M230.5 145.8h.1M233.7 145.3h.1M245.7 150.8h.1M244.6 149.5h.1M244.3 149.9h.1M334.9 44.4h.1M334.9 45.5h.1M334.1 45.2h.1M322.3 74.7h.1M322 75.3h.1M321.6 75.3h.1M287.8 77.5h.1M289.2 76.6h.1M289.2 76.7h.1M244.1 119.2h.1M242.2 118.8h.1M244.4 117.7h.1M343.1 51.3h.1M343.7 50.7h.1M341.6 50h.1M254 162.1h.1M255.9 161.5h.1M254 162.2h.1M245.7 148.2h.1M246.6 147h.1M245.9 147.9h.1M298 80.4h.1M297 81.3h.1M294.7 79.1h.1M262 104.2h.1M260.8 103.6h.1M260.9 104h.1M272.5 119.1h.1M273.3 118.2h.1M271.9 120.7h.1M306.9 99.7h.1M311 102.1h.1M307.9 101h.1M351.7 51.7h.1M351.5 49.3h.1M351.7 48h.1M295 71.9h.1M294.8 72h.1M294.3 71h.1M231.8 150h.1M233.4 151.7h.1M231.3 149.3h.1M251.3 112.5h.1M250.4 111.3h.1M254.1 111.9h.1M266.2 112.4h.1M268.5 113.1h.1M266.9 112.3h.1M279.9 103h.1M278.6 104.6h.1M278.9 104.7h.1M259.5 116.8h.1M258.1 118.3h.1M257.3 115.2h.1M288 82.8h.1M286.8 83h.1M287.4 81.5h.1M246.2 158.9h.1M245.4 160.6h.1M246.3 156.7h.1M301.3 61.4h.1M300.3 63.1h.1M299.9 61.1h.1M321.7 35.6h.1M318.9 35.3h.1M320.2 36.9h.1M263.3 92.3h.1M264.4 93.6h.1M263.8 92.5h.1M300.4 88.3h.1M301.9 85.7h.1M303 87.5h.1M349 38.6h.1M351.5 38.5h.1M353.1 37.3h.1M254.4 130.8h.1M255.8 131.6h.1M255.3 129.3h.1M294.1 73.7h.1M295.1 72.3h.1M296.1 71.4h.1M236.2 157.3h.1M235.5 158.5h.1M236.4 160h.1M240.5 146.9h.1M238.6 146.2h.1M241.1 149.4h.1M292 104.7h.1M290 101.9h.1M288.8 102.5h.1M330.7 52.9h.1M331.6 49.8h.1M330.9 53.4h.1M272.4 102.2h.1M270.5 100.9h.1M273 102.8h.1M260.5 109.7h.1M260.7 112.9h.1M259.3 109.1h.1M240 137.2h.1M239.7 137.7h.1M241 138h.1M297.3 66.3h.1M298.5 68.1h.1M299.9 66.5h.1M258.3 102.4h.1M258.7 103.2h.1M259.5 105.1h.1M307.4 58.6h.1M306.9 62.9h.1M305.2 58.6h.1M289.9 75.5h.1M289.1 77h.1M290.6 77.7h.1M284.1 76.1h.1M285.3 75.1h.1M286.8 75h.1M278.9 99.5h.1M275.6 98.2h.1M278.5 100.1h.1M312.9 44.1h.1M315.2 44.9h.1M314.8 45.1h.1M305.3 87.5h.1M306.4 87.9h.1M303.8 86.9h.1M264.2 148.9h.1M262.4 147h.1M259.5 149h.1M330.6 41.3h.1M330.6 43.8h.1M329.3 43.6h.1M313.3 68h.1M312.2 69h.1M313.4 71.1h.1M255.2 161.2h.1M254.8 160.6h.1M254.6 160h.1M290.6 76.5h.1M292.2 76.2h.1M293 76.6h.1M316.7 85.2h.1M316.4 85.3h.1M316 84.6h.1M277.5 89.3h.1M279.5 88.9h.1M278 87.6h.1M285.3 108h.1M284.3 107.2h.1M285.7 106.4h.1M249.5 137.2h.1M250.4 137.7h.1M249.2 138.8h.1M257.3 111.2h.1M255.9 110.5h.1M258.7 112.7h.1M298.1 52h.1M299.2 52.5h.1M298.8 54.7h.1M305.9 62.9h.1M303.7 61.9h.1M306.6 63.8h.1M331.6 42.8h.1M332.6 43.5h.1M331.9 41.2h.1M302.1 94h.1M301.1 92.5h.1M299.4 93.1h.1M306.7 47.1h.1M306.8 46.2h.1M308.1 47.3h.1M264.7 104.1h.1M264 102.5h.1M263 103.1h.1M277.1 75.8h.1M277.6 75.6h.1M276.7 74h.1M280.2 114.8h.1M280.5 114h.1M281.1 116.1h.1M262.7 114.6h.1M262.8 118.2h.1M262.1 117.6h.1M305.4 70.9h.1M306.3 71.1h.1M307 70.7h.1M309.3 71.5h.1M308.9 74.6h.1M310.5 75h.1M252.2 107.3h.1M253.5 107.7h.1M251.9 109.3h.1M239 176.6h.1M239 177.2h.1M238.9 177.1h.1M271.1 89.9h.1M270.1 90.4h.1M269.2 91.1h.1M284 95.5h.1M286.6 92h.1M284 96.2h.1M286.6 106.1h.1M285.4 110.1h.1M286.7 108.7h.1M270.5 101.1h.1M268.9 102.7h.1M268.9 102.9h.1M232.8 142.7h.1M233.1 142.7h.1M231.7 142.2h.1M289.6 76.6h.1M290.5 72.3h.1M291.8 74.3h.1M306.8 106.4h.1M306.3 104.5h.1M305.8 105.5h.1M321.1 84.9h.1M319 86.3h.1M321.8 86.1h.1M243.9 171.4h.1M246.6 170.1h.1M244.3 169.1h.1M277.1 103.6h.1M274 108.3h.1M274.1 105.1h.1M259.2 119.4h.1M261.4 119.3h.1M258.7 119.3h.1M232.9 141.9h.1M235.8 143.4h.1M233.9 141.4h.1M310.7 64.8h.1M311.1 63.3h.1M312.2 64.8h.1M305.1 78.1h.1M305 79.5h.1M304.3 78.9h.1M337.7 37.4h.1M337.9 36.8h.1M338.2 35.3h.1M246.1 167.3h.1M244.2 166.5h.1M242.6 164.1h.1M266.2 95.6h.1M266.7 94.4h.1M266.9 93.5h.1M304.1 74.9h.1M303.8 73.1h.1M302.9 77.1h.1M317.9 78.2h.1M317.7 76.9h.1M317.8 76.8h.1M279.4 111.5h.1M279.1 109.2h.1M279.9 109.2h.1M274.4 106.3h.1M274.2 105.4h.1M274.8 106h.1M310.3 87.2h.1M309.5 88.6h.1M310.5 85.7h.1M258.7 136.6h.1M259.2 135.6h.1M257.7 133.4h.1M288.4 81.9h.1M288.8 81.1h.1M289 80.8h.1M252.5 123.3h.1M253.9 121.7h.1M253.4 122.7h.1M350.1 42.8h.1M352.8 45.8h.1M350.4 44.7h.1M281.2 99.6h.1M281.4 98.7h.1M281.1 99.7h.1M260.9 94.6h.1M264.3 94.8h.1M263.8 95.3h.1M270.1 95.9h.1M269.7 92.4h.1M269.5 96.2h.1M254.9 104.2h.1M257.3 105.3h.1M256 102.1h.1M285 77.3h.1M285.6 80.2h.1M284.7 80.4h.1M233.8 157.5h.1M231.6 157.8h.1M231.4 154.6h.1M278.5 89.1h.1M278.4 91.6h.1M277 87.5h.1M340.5 54.7h.1M343.7 55h.1M343.4 53.1h.1M275 112h.1M271.3 111.2h.1M274.7 112.6h.1M337.7 39.4h.1M338.4 40.6h.1M336.9 38.6h.1M236.8 129.5h.1M238.6 129.3h.1M236.9 129.3h.1M276.7 102.3h.1M276.7 102.7h.1M276.8 103.8h.1M338.3 41.8h.1M338.7 44.2h.1M339.1 45.2h.1M260.6 99.4h.1M259.7 99.4h.1M258.8 99.5h.1M335.4 59.3h.1M336.6 61h.1M336.8 59.5h.1M304.5 72.2h.1M304.1 72.5h.1M302 74.3h.1M291.2 76.1h.1M292.4 74.1h.1M290.8 73.6h.1M317.6 68.8h.1M315.2 69.4h.1M315.6 69.4h.1M247.9 170.9h.1M246.9 171.7h.1M247.7 170.5h.1M306 105.7h.1M308.8 104.6h.1M307.1 102.7h.1M272 86.6h.1M270.5 86.7h.1M267.7 85.7h.1M302 78.5h.1M305.3 79.7h.1M302.8 77.8h.1M264.2 87.6h.1M261.6 88.6h.1M263.8 88.4h.1M254.8 158.1h.1M256.2 155.7h.1M257.4 158.4h.1M294 83.3h.1M291.9 84.2h.1M294.9 83.7h.1M287.1 80.7h.1M289.4 80.4h.1M288.7 81.2h.1M244.6 151.9h.1M244.3 147.8h.1M244.9 150.6h.1M329.6 50.4h.1M327.1 52.5h.1M326 51.6h.1M271.7 100.7h.1M271.8 97.1h.1M272.8 97.2h.1M254.5 123.3h.1M255.3 123.4h.1M254.3 122.9h.1M281.9 75.6h.1M281.9 76.1h.1M284.3 76.9h.1M337.8 73.8h.1M335.8 75.1h.1M334.5 74.5h.1M259 97.5h.1M260.4 99.1h.1M258.3 97.2h.1M239.9 130.2h.1M238.5 132.3h.1M238.4 134.6h.1M256.1 152h.1M252.8 151.1h.1M252.9 151.1h.1M316.5 86.3h.1M317.3 87.7h.1M316.4 88.6h.1M237.1 161.1h.1M236.8 159.2h.1M238.4 162h.1M304.2 99.1h.1M304.6 98.6h.1M302.6 101.1h.1M324.5 48.7h.1M324.5 47.7h.1M322.1 47.7h.1M230.1 145h.1M230.9 146.5h.1M230.5 146.3h.1M262.4 155.3h.1M263.5 153.1h.1M263.8 157.1h.1M237.4 155.7h.1M236.9 158.1h.1M237.8 156.7h.1M318.8 65.6h.1M316 66.1h.1M316.2 64.9h.1M239.1 154.9h.1M241.1 156h.1M240.1 154.6h.1M248.8 111h.1M250 109.8h.1M248.9 112.3h.1M277.3 99.6h.1M277.5 100.3h.1M276.5 101.8h.1M240.2 135.9h.1M243.2 137.9h.1M242.4 136.1h.1M282.4 83.7h.1M282.9 84.7h.1M280.4 83.1h.1M232.5 146.7h.1M232.1 147.4h.1M232.8 147.7h.1M321.4 44h.1M318.7 45.9h.1M319.7 46.4h.1M261.7 94.4h.1M261.7 94.5h.1M260.8 95.6h.1M268.6 103.2h.1M268.5 102.1h.1M268.3 101.4h.1M246.2 151.2h.1M246.4 155.9h.1M246.9 152.4h.1M245.5 120.7h.1M246.4 120.2h.1M243.5 118.8h.1M270.2 103.6h.1M268.1 101.9h.1M272.4 101.5h.1M267.4 86.5h.1M265.7 85.3h.1M265.9 84.9h.1M292.6 85.8h.1M292.4 88.5h.1M292.2 87.3h.1M309.3 77.4h.1M311.5 78.2h.1M312.2 76.4h.1M284.5 104.3h.1M285.7 103.4h.1M284.7 103.4h.1M260.3 96.7h.1M258.8 98.7h.1M260.3 96.5h.1M269.3 102.9h.1M271 102.3h.1M272.6 102.3h.1M230.9 143.8h.1M231.2 144h.1M232.4 144.2h.1M242.2 134.9h.1M242.6 133.7h.1M241.8 133.9h.1M301.4 75.4h.1M304.1 75.9h.1M303 77.6h.1M249.9 106.6h.1M249.9 107.1h.1M251.7 108h.1M255 128.7h.1M256 130h.1M256.8 128.2h.1M307.5 97.3h.1M307 96.7h.1M306.7 96.5h.1M298.4 83.8h.1M299.2 84.1h.1M297.4 86h.1M325.7 61h.1M325.1 61.6h.1M325.8 60.9h.1M233.8 133.1h.1M231.3 135.4h.1M233.1 134.1h.1M254 122.7h.1M253.5 121.8h.1M252.1 123.9h.1M289.1 85.9h.1M289.8 84.7h.1M289.2 88.5h.1M274.7 102.5h.1M277.5 103.9h.1M276.1 103h.1M242.2 171.2h.1M242.7 169.5h.1M242.3 170.2h.1M258.5 158.3h.1M257.2 157.6h.1M258.5 158.5h.1M325.6 54.5h.1M322.1 54h.1M324.3 55.1h.1M309.8 78.9h.1M311.1 77.3h.1M312.2 78.4h.1M247.7 133.4h.1M247.7 134.4h.1M245.7 134.5h.1M277.7 73.6h.1M279.7 73.5h.1M277.4 73.9h.1M239.1 139.6h.1M236.6 140.1h.1M239.7 141.7h.1M270.4 93.3h.1M274.6 93.1h.1M271.5 92.4h.1M273.4 111.5h.1M271.6 112h.1M273.6 110h.1M268.1 83h.1M268.9 81.8h.1M269.4 84.2h.1M352.3 44.6h.1M354.8 44.5h.1M351.3 45.4h.1M278.5 95.5h.1M280.5 97.7h.1M277.4 96.9h.1M343.9 62.3h.1M343.7 63.3h.1M343.6 59.9h.1M347.6 55.9h.1M347.7 57h.1M348.9 54.6h.1M251.7 114.2h.1M249.8 113.6h.1M250.8 115.4h.1M296 57h.1M295.2 54.5h.1M297 59.1h.1M258.4 135.7h.1M260.6 137.5h.1M260.7 138h.1M245.7 141.9h.1M246.9 143.5h.1M246.5 140h.1M253.7 155.7h.1M251.6 155.7h.1M251.1 157.3h.1M238.7 145.8h.1M239.1 144.8h.1M237.4 147.2h.1M239.1 145.9h.1M238 146.1h.1M236.9 147.6h.1M299.7 83.4h.1M300.6 81.6h.1M299 81.6h.1M339.4 36.8h.1M342.2 35.1h.1M344.7 35h.1M324.6 52.5h.1M322.6 51.5h.1M324.8 48.7h.1M254.9 124.2h.1M255.1 125.3h.1M252.4 124.7h.1M228 148.6h.1M227.8 150.7h.1M227.2 150.2h.1M310.3 80.8h.1M310.8 81h.1M309.1 79.8h.1M250.2 154.2h.1M248.4 153.3h.1M251.8 155.3h.1M245.9 154.4h.1M248.2 153.4h.1M246.8 153h.1M294.1 72.8h.1M292.9 70.9h.1M292.4 71.8h.1M344.4 48.9h.1M345.8 51.1h.1M345 50.5h.1M270.2 91.4h.1M269.1 88.8h.1M267.8 88.6h.1M240.8 144.9h.1M240.1 143.8h.1M240 145.7h.1M265.9 122.1h.1M267.7 121.4h.1M266.7 122.6h.1M280.4 98.9h.1M279.4 98.4h.1M280.4 97.7h.1M250.4 125.4h.1M251.8 126.3h.1M253.3 126.6h.1M260.9 123.9h.1M258 123.9h.1M259.7 125.1h.1M300.6 74.5h.1M299.9 74.2h.1M301.2 73.5h.1M241.3 155.3h.1M240.7 156.3h.1M237.8 154h.1M292.9 79.5h.1M292.2 78.3h.1M292.3 76.9h.1M312 46.2h.1M312.9 46.1h.1M310.2 49.1h.1M314.1 93.9h.1M314.7 94h.1M315.8 93h.1M280.3 73.6h.1M279.7 71.8h.1M279.5 73h.1M235.6 122.5h.1M236.4 123.3h.1M235.5 123.7h.1M285.2 92.5h.1M283.1 94.5h.1M282.4 94.6h.1M254.3 128.2h.1M253.9 127.9h.1M254.6 128.6h.1M258.8 146.8h.1M258.9 145.6h.1M258.9 147.4h.1M341.8 65.7h.1M342.6 65.2h.1M341 63.8h.1M331.9 51.9h.1M329.9 49.7h.1M329.5 51.6h.1M238.6 130h.1M238 128.4h.1M239.2 126.8h.1M273.7 93.9h.1M272.9 92h.1M273.9 94h.1M288.5 65.1h.1M289.1 67h.1M289.1 69.3h.1M293.7 60.1h.1M295.8 56.8h.1M295.1 57.7h.1M234.3 161.4h.1M234.5 162.2h.1M234.4 161.3h.1M262.3 95.1h.1M258.8 95.8h.1M260.7 94.2h.1M296.7 92.3h.1M294.1 91.8h.1M291.3 92.8h.1M323.6 64.5h.1M322.1 65h.1M324.9 62.3h.1M325.3 76.9h.1M324.8 78.5h.1M324.5 77.9h.1M248.5 145.4h.1M245.3 146.6h.1M248.8 145.8h.1M338.8 55.1h.1M340.3 57.4h.1M339.4 55.9h.1M317.4 74.9h.1M318.9 73.2h.1M319.1 75.2h.1M278.5 93.5h.1M279.9 90.9h.1M279.7 92.3h.1M285.9 99.8h.1M285.7 98.4h.1M286 98.6h.1M248.2 145.9h.1M248.7 144.7h.1M248 145.6h.1M261.6 105.9h.1M263.4 108.1h.1M261 105.2h.1M243.7 152.3h.1M245.9 155.4h.1M246.2 155.5h.1M253.7 100.3h.1M257.2 101.4h.1M256.7 101.9h.1M252.2 150.6h.1M253.8 152.3h.1M254.3 152.8h.1M310.4 82.3h.1M311.7 83.3h.1M310.6 80.4h.1M322.8 59.7h.1M322.5 62.4h.1M323.1 62.2h.1M260.7 86.6h.1M258.8 88.9h.1M261.1 87.8h.1M261.1 105.3h.1M264.5 106.2h.1M260.9 105h.1M286.8 70.6h.1M287 71.3h.1M286.4 70.1h.1M244.6 127.2h.1M244.2 127.1h.1M245 125.5h.1M312.3 67.9h.1M311.8 67.8h.1M311.9 68.1h.1M249.5 142.3h.1M251 142.4h.1M249.2 145.6h.1M263.7 111.5h.1M264.8 113.3h.1M264.4 113.1h.1M296.6 104.9h.1M295.3 104.8h.1M298 105.3h.1M313.3 95.4h.1M313.9 96.2h.1M310.3 94.6h.1M253.8 160.7h.1M257.4 160.5h.1M256.4 160.1h.1M296.8 39.3h.1M298.3 39.8h.1M296 39.6h.1M309.9 77.6h.1M308.5 76.3h.1M309 79h.1M247.4 169.8h.1M246 166.6h.1M245 168.1h.1M289.1 59.9h.1M288.2 60.3h.1M290.4 59.3h.1M235.1 141.6h.1M235.2 140.9h.1M233.9 141h.1M294.1 81.9h.1M292.7 82.4h.1M295.2 83.4h.1M269.6 97.4h.1M270.9 96.6h.1M272.2 98.7h.1M324.3 66.5h.1M325.8 64.5h.1M322.9 66.2h.1M331.3 57.3h.1M332 55.5h.1M330.2 58.3h.1M296.9 69h.1M297 69.9h.1M298.5 70.2h.1M320.8 67.7h.1M324.2 66h.1M320.7 66.4h.1M346.4 44.5h.1M347 46.5h.1M345.7 44.5h.1M303.1 105.9h.1M302.7 107.4h.1M304 107h.1M340.1 65h.1M341.1 62.4h.1M343.2 62.7h.1M237.1 162h.1M237.1 164.9h.1M240 165.6h.1M276.8 88.3h.1M276.1 87.3h.1M276.3 86.3h.1M318.7 39.3h.1M317.5 41.1h.1M315.5 39.5h.1M295.4 106.1h.1M295.1 106.5h.1M295 106.5h.1M258.5 140.9h.1M257 138.9h.1M259.2 140.4h.1M261.5 99.2h.1M258 100.1h.1M259.8 98.9h.1M258.2 138.6h.1M259.9 136.4h.1M260.3 138.9h.1M305.7 97h.1M305.8 99.9h.1M307.6 100h.1M325 49.8h.1M320.9 47.4h.1M324.3 50.2h.1M287.9 67.8h.1M287.6 66.4h.1M288 66.3h.1M291.4 102.9h.1M292.5 104.3h.1M292 103.4h.1M339.4 67.5h.1M337.6 68.6h.1M338.4 67.4h.1M277.8 114.3h.1M279.7 116.8h.1M279.8 113.6h.1M247.1 111.1h.1M246.3 111.8h.1M247.1 111.3h.1M257.5 110.9h.1M257 111.2h.1M259 111.1h.1M300.7 76.8h.1M302.5 79.2h.1M302.2 78.1h.1M258.5 104.5h.1M257.2 106.2h.1M258.1 107.8h.1M349.1 34.8h.1M351.5 32.8h.1M349.5 34.6h.1M332.1 37.4h.1M333.4 38.4h.1M330.6 36.2h.1M252.8 171.9h.1M254.6 172.3h.1M254.8 172.8h.1M254.9 147.4h.1M255 148.2h.1M254.1 149.2h.1M303.6 44h.1M302.3 45.4h.1M301.5 43.6h.1M259.3 130.7h.1M259.4 131.1h.1M257.1 130.8h.1M284.2 83.2h.1M285.4 83.1h.1M285.5 82.7h.1M242.2 122.3h.1M245.4 121.8h.1M246.4 124h.1M342.1 64.3h.1M342 62.9h.1M342.8 62.8h.1M340.3 53.2h.1M337.7 52.7h.1M338.6 54.2h.1M234.1 148.6h.1M233.7 146.9h.1M237 147.3h.1M245 119.8h.1M244.8 123h.1M244.6 123.7h.1M255.6 147.3h.1M255.1 147.1h.1M255.9 148.3h.1M346.7 54.6h.1M347 55.1h.1M347.1 57.1h.1M248.4 164h.1M250.3 161.9h.1M248.8 162h.1M324.5 54.6h.1M326 53.6h.1M324.9 54.5h.1M290.7 60.2h.1M291.1 58.9h.1M291.1 61.5h.1M259.4 129.1h.1M257.4 130.8h.1M258.2 129.4h.1M239.3 120.5h.1M238 117.8h.1M240 119.7h.1M251.6 143.1h.1M253.8 144.3h.1M251.2 144.5h.1M261.7 148.8h.1M263 146.5h.1M261.2 147.5h.1M287.2 100.2h.1M287.4 101.5h.1M286.5 98h.1M288.1 102.5h.1M288.2 102.4h.1M287.7 103.6h.1M228.3 149.9h.1M226.8 150.9h.1M229.9 150.1h.1M303.1 89.2h.1M303 88.9h.1M302.7 87.1h.1M307.3 56h.1M306.5 59h.1M305.9 57.6h.1M250.8 110.9h.1M249.6 112.4h.1M249.8 110.2h.1M325.1 48.8h.1M326.3 51.5h.1M323.2 49.6h.1M274.3 75.7h.1M275.4 81h.1M274.2 80.2h.1M257.5 130.9h.1M256 132.3h.1M253.9 130.1h.1M271.5 97.9h.1M272.7 97.7h.1M273.1 99.7h.1M240.4 138.9h.1M238.5 140.2h.1M239.2 139.9h.1M305.7 86.7h.1M309.8 82.5h.1M308.7 85.8h.1M253.7 144.1h.1M256.1 141.7h.1M254.7 142.7h.1M292.8 80.5h.1M293.1 82.5h.1M292.9 81h.1M247.5 134.8h.1M245 133.6h.1M244.8 133.4h.1M255.4 128.1h.1M256.6 128.6h.1M254.9 128.5h.1M236.7 133.9h.1M237.6 133h.1M238.9 134.3h.1M251.1 175.2h.1M250.9 173.4h.1M249.9 176.1h.1M248.4 146h.1M247.3 143.7h.1M247.3 147.8h.1M352.5 46.1h.1M352.3 46.9h.1M352.3 46.5h.1M237.2 148.5h.1M238.1 147.5h.1M237.9 147.4h.1M311.1 92.4h.1M310.6 95h.1M310.9 94h.1M246.2 136.2h.1M246.5 136.1h.1M246.3 133.7h.1M293.3 51.8h.1M290.9 52.1h.1M293 51.9h.1M344 55.8h.1M345.3 55.3h.1M343.5 53.9h.1M348.8 41.9h.1M349.5 42h.1M349.1 41.5h.1M279.7 65.1h.1M279.2 63.1h.1M278.8 64.4h.1M320.4 75.3h.1M319.2 77.1h.1M320 76.6h.1M338.2 54.8h.1M338 54h.1M338.7 55.6h.1M298.8 73h.1M296 73.8h.1M295.7 73.3h.1M278.4 103.4h.1M278.8 102.3h.1M280.4 102.9h.1M269.7 88h.1M269.5 87.6h.1M270.8 88h.1M351 52h.1M352 51.7h.1M353.5 52.8h.1M301.5 100.6h.1M299.6 99.9h.1M301.4 100.6h.1M298.9 75.2h.1M298.5 77.2h.1M297 78.6h.1M290.1 105.8h.1M294.5 106.4h.1M292.6 104.6h.1M308.8 81.7h.1M308.5 81.4h.1M308.6 80.7h.1M256.6 116h.1M258.5 115.9h.1M255.9 113.2h.1M253.7 126.8h.1M255.7 128.8h.1M253.2 128.1h.1M240.2 121.2h.1M241.7 119.9h.1M241.7 124h.1M303 63.3h.1M302.1 64.8h.1M300.6 65.9h.1M301 49h.1M301 47.2h.1M300.7 48.5h.1M320.9 64.7h.1M318.5 61.4h.1M321.2 63.1h.1M266.7 132.5h.1M265.1 132.1h.1M264.9 130.8h.1M290 55.6h.1M289.6 55.9h.1M288.3 55.9h.1M290.5 66.8h.1M290.9 67.2h.1M292.5 65.3h.1M324.6 38.9h.1M323.6 36h.1M323.2 39.2h.1" stroke="#000" stroke-opacity="0.24" stroke-width="1.3"/>
<path d="M290.8 75.5h.1M291.6 76.7h.1M289.6 76.2h.1M307.8 52.5h.1M307.7 50.1h.1M307.9 52h.1M239.1 114.5h.1M237.4 112.6h.1M239.5 113.6h.1M240 120.8h.1M239.6 122.5h.1M240 120.9h.1M322.2 45h.1M324.5 45.2h.1M321.1 43.8h.1M308 74.7h.1M307.9 79.1h.1M308.8 75.6h.1M259.3 130.7h.1M258.5 128.8h.1M258.6 128.4h.1M298.4 61.3h.1M300.5 65.1h.1M299 65.1h.1M317.2 51.7h.1M317.7 52.9h.1M318.1 52h.1M248.5 165.9h.1M245.1 167.5h.1M246.1 164.8h.1M312.9 58.4h.1M312.6 56.7h.1M312.5 58.8h.1M259.2 87.5h.1M258.7 88.6h.1M258.4 87.9h.1M310.3 37.1h.1M308.2 34.7h.1M308.5 37h.1M308.1 89.6h.1M306.2 91.5h.1M307.9 90.2h.1M266.2 123.1h.1M267.7 125.6h.1M266.3 125.3h.1M239.8 166.4h.1M240 165.6h.1M240.9 164.4h.1M320.2 61.4h.1M317.4 58.6h.1M321.4 64.4h.1M248.8 116.9h.1M249.5 115.6h.1M248.3 117.4h.1M302.4 99.4h.1M299.9 98.7h.1M303.2 97.8h.1M239.1 168.1h.1M240.2 166.5h.1M239.7 168.4h.1M232.8 148.1h.1M232.3 148.3h.1M235.1 148.7h.1M251.6 104.3h.1M253.7 104.4h.1M253.1 105.6h.1M253.2 118.5h.1M252.1 118.1h.1M251.3 118.3h.1M305.1 97.7h.1M304 97.3h.1M306.6 97.2h.1M304.6 105.8h.1M304.2 107h.1M304.1 107.7h.1M255.8 137.2h.1M257.8 138.9h.1M255.2 138.1h.1M250.1 129.5h.1M250.6 129.4h.1M251.1 129.3h.1M246.7 116.2h.1M243.8 116.2h.1M245.7 113.4h.1M279.6 86.7h.1M282.1 88.2h.1M281.2 86.2h.1M333 74.7h.1M333.2 75.3h.1M333.1 74.1h.1M242.6 140.9h.1M243.4 144.7h.1M242.8 143.1h.1M247.9 123.1h.1M247.8 124.7h.1M248.4 123.5h.1M285.7 100.1h.1M285.4 99.6h.1M286.2 99.4h.1M273.7 93.7h.1M273.5 93.4h.1M275.2 93.8h.1M270.9 109.3h.1M269.9 110h.1M271 111.2h.1M280.1 83.2h.1M281 82.1h.1M282.2 82.8h.1M238.1 151.5h.1M237.6 152h.1M238.8 151.3h.1M336.2 44.6h.1M334.2 44.5h.1M335.3 43.2h.1M247.2 164.7h.1M247 164.4h.1M245.2 165.7h.1M238.3 127.4h.1M236 128.4h.1M238.5 125.7h.1M267.3 97.3h.1M269.5 97.7h.1M267.4 97.8h.1M321.5 52h.1M320.8 50.6h.1M320.2 52.3h.1M307 70.6h.1M307.2 71.3h.1M307.2 71.6h.1M277.5 102.5h.1M279.9 100.7h.1M279.7 100.5h.1M252.3 117.3h.1M248.9 118.7h.1M250.5 118.7h.1M240.7 151h.1M237.5 148.1h.1M239.2 149.6h.1M304.5 52.9h.1M304.5 53.4h.1M305.9 54.8h.1M268.6 95.4h.1M264.5 96.4h.1M266.9 97.5h.1M332.9 53h.1M331.2 51.9h.1M333.8 51.5h.1M274.2 94.9h.1M275.9 96.3h.1M276.2 94.4h.1M231.1 143.8h.1M231 143.1h.1M229.9 144.4h.1M243.4 164.1h.1M243.7 165.8h.1M243.4 167.3h.1M240.9 123.3h.1M240.5 123.2h.1M237.8 121.4h.1M298.6 84h.1M300.1 84.6h.1M299.5 84.4h.1M263.1 140.1h.1M265.2 138.6h.1M263.3 136.8h.1M243.5 124.2h.1M241.3 121.4h.1M243.1 122.5h.1M300.5 93.3h.1M299.2 89.8h.1M301 92.4h.1M240.6 129.6h.1M241.4 129.9h.1M243.8 128h.1M297.2 80h.1M296.4 81.6h.1M298.1 81.1h.1M250.5 174h.1M249.5 173.7h.1M248.2 172.4h.1M285.9 81.5h.1M286.6 82.4h.1M284.9 80.2h.1M266.1 88.6h.1M265.4 87.8h.1M267.6 88.4h.1M237.6 121.1h.1M239.1 121h.1M238.7 121.3h.1M318.3 83.6h.1M317.7 82.8h.1M317.8 83h.1M297.2 59.5h.1M293.9 58.7h.1M291.5 59h.1M265.1 117.9h.1M264.5 118.7h.1M265.2 116.7h.1M304.6 65.2h.1M305.3 63.3h.1M304.4 63.2h.1M240.3 170.3h.1M239.4 170.5h.1M240.7 170.6h.1M239.6 152.5h.1M241.2 154.5h.1M243.5 153h.1M310.6 62.1h.1M311.4 60.3h.1M312.9 61.2h.1M239.2 125.1h.1M238.4 127.8h.1M238.4 124.2h.1M283.4 80.9h.1M281.7 81.4h.1M284.3 79.9h.1M234 150.2h.1M234.1 150.3h.1M234 152.6h.1M301.6 74.6h.1M301.2 72.4h.1M300.9 71.3h.1M341.1 35.4h.1M340.1 36.5h.1M338.3 36.3h.1M237.4 121.8h.1M238 123.1h.1M235.6 121h.1M329.5 53.1h.1M329.6 50.4h.1M331.2 50.9h.1M296.6 83.9h.1M296 86.2h.1M296.4 84.3h.1M295.1 88.2h.1M295.8 88.9h.1M296.4 87.9h.1M308.2 93.6h.1M307.5 92.2h.1M308.4 92.7h.1M330 35.7h.1M327.9 35.4h.1M330.1 33.8h.1M258.8 165h.1M255.3 167h.1M258.2 167h.1M303.4 94.2h.1M305.1 93.9h.1M304.1 92.4h.1M243 154.6h.1M243 157.2h.1M242.6 156.6h.1M292 91.3h.1M294.2 88.2h.1M291.4 89.7h.1M352.7 53.5h.1M353.3 53.7h.1M353.2 54.1h.1M312.9 41.5h.1M314.5 44.1h.1M313.5 46.2h.1M314.6 81.4h.1M315.9 81.7h.1M314 80.5h.1M284.2 75.4h.1M282.3 74.7h.1M282.7 76.4h.1M292.8 73.2h.1M292 71.8h.1M290.7 70.8h.1M236.5 141.2h.1M238.5 140.9h.1M237.7 141.8h.1M255.4 134.7h.1M254.1 135.3h.1M254.9 133.4h.1M267.4 110h.1M269.6 108.4h.1M270.6 107.5h.1M237.7 146.8h.1M239 147.9h.1M238.4 145.7h.1M290.6 91h.1M290.3 89h.1M292.1 91.7h.1M280.6 84.2h.1M279.7 84.7h.1M278.2 84.5h.1M329.2 55.6h.1M329.5 56.4h.1M328.1 55.5h.1M273.9 89.7h.1M274.7 89.7h.1M273.7 90.6h.1M270.2 96.7h.1M270.4 97.3h.1M271.1 94.8h.1M305.7 87.7h.1M304.5 88.3h.1M304.9 87.8h.1M253.1 154.7h.1M250.8 154.1h.1M251.8 156.2h.1M307.3 67.7h.1M306.6 68.7h.1M306.4 66.5h.1M284.1 91.4h.1M284.1 93.4h.1M284.9 91.9h.1M332.6 49.8h.1M333.7 52.4h.1M333.3 51.2h.1M297.7 50.9h.1M300.4 52.1h.1M299.8 51.6h.1M256.2 158.7h.1M259.8 156.5h.1M256.8 157.5h.1M247.1 123.8h.1M243.6 125.3h.1M247.5 124.2h.1M312.3 69h.1M310.4 68.3h.1M312.1 68.8h.1M231.5 151h.1M230.1 150.4h.1M230.1 148.5h.1M276.6 96.6h.1M276.9 95.5h.1M275.7 95.8h.1M259.5 136.5h.1M260.3 134.9h.1M259.7 138.3h.1M281.6 98.9h.1M280.3 97.8h.1M279.9 97.7h.1M271.8 74.6h.1M272.8 77.5h.1M272.5 74.2h.1M260.4 121.5h.1M259.6 121.4h.1M258.7 122.9h.1M269.8 108.4h.1M268.5 109h.1M268.4 109.2h.1M232.3 133.2h.1M235 134.3h.1M232.4 134.8h.1M238.2 148.1h.1M237.6 150h.1M236.3 149.9h.1M249.5 169.3h.1M249.9 166.5h.1M249.7 165.6h.1M252.6 125.6h.1M250.8 124.7h.1M251.4 124.2h.1M268.3 99.1h.1M266.7 99.5h.1M266.6 100.2h.1M250.9 119.5h.1M251.3 119.2h.1M251.6 120h.1M297.2 90.8h.1M296.4 90.2h.1M298.6 91.3h.1M300.5 49.1h.1M299 50.5h.1M300.8 51.2h.1M288.2 88.2h.1M287.9 87.2h.1M287.8 87.4h.1M260.2 92h.1M259.4 90.8h.1M260.7 88.5h.1M309.3 45.9h.1M311.3 43h.1M311.3 42.5h.1M286 103.6h.1M285.7 103.4h.1M287.1 102.9h.1M255.3 160.7h.1M256.5 160.4h.1M254.9 161.6h.1M265.3 97.5h.1M265.4 97.4h.1M265.4 99.6h.1M268.6 87.8h.1M268.7 88.2h.1M268.5 87.7h.1M249.1 117.2h.1M245.4 117h.1M246.9 118.4h.1M286.8 89.2h.1M286 89.1h.1M285.9 90.8h.1M245.3 173.4h.1M246.2 174.5h.1M246.2 172.2h.1M320.2 70.1h.1M320.4 69.3h.1M323.6 71.5h.1M324.7 65.3h.1M326.4 64.5h.1M324.7 65.2h.1M255.2 149.5h.1M253.5 147.5h.1M255.5 148.5h.1M273.4 85.1h.1M274.4 85.8h.1M276 85.4h.1M235.5 142.1h.1M235.7 142h.1M234.4 141.7h.1M280.9 91.5h.1M281.4 92.3h.1M279.6 89.2h.1M249.9 148h.1M247.7 147.1h.1M251.6 145.4h.1M239.1 138.8h.1M239.6 143.8h.1M238.5 140h.1M273.3 104.1h.1M274.8 105.4h.1M272.5 104.3h.1M247.9 174h.1M248.9 173.4h.1M247.2 175.4h.1M328.2 73.5h.1M329.2 74h.1M327.4 72h.1M234.9 139.7h.1M233.8 142h.1M234.3 141.3h.1M335 58.7h.1M336.2 59.6h.1M334.5 58h.1M270.6 89.3h.1M271.1 89.8h.1M269.9 88.4h.1M273.6 120.6h.1M273.4 120.7h.1M273.8 119.8h.1M267.4 91.4h.1M268.5 88h.1M267.1 90.6h.1M293.4 62.9h.1M295.9 63.2h.1M296 60.2h.1" stroke="#000" stroke-opacity="0.4" stroke-width="1.1"/></g>
<g filter="url(#sb)"><path d="M462.4 126.3h.1M466 125.1h.1M465.4 127.1h.1M435.6 139.7h.1M433.6 139.6h.1M435.2 139.7h.1M496.1 108.7h.1M496.2 107.6h.1M498.5 108.2h.1M490.1 102.3h.1M491.5 102.4h.1M490.3 99.6h.1M444.7 125.2h.1M446.5 123.2h.1M445.6 124.5h.1M448.6 95.6h.1M448.3 94.6h.1M449.8 93.7h.1M494.8 119.3h.1M495.4 124.2h.1M494.1 122.5h.1M481.7 88.7h.1M480.4 88.6h.1M477.9 89.3h.1M475.5 90.6h.1M477.9 89.7h.1M478.6 91h.1M485.3 95.7h.1M485.7 96.5h.1M485.4 96.8h.1M491.1 114h.1M492.4 113.8h.1M492 115.5h.1M444.2 104.7h.1M442.5 102.8h.1M444 105.5h.1M490.6 127.4h.1M493 125.9h.1M492.1 127.6h.1M446 121.1h.1M446.2 119.4h.1M444.9 122.3h.1M427.9 130.8h.1M425.6 129.9h.1M426.8 129.3h.1M465.9 121.2h.1M465.2 120.4h.1M463.5 120.6h.1M503.4 127.1h.1M504.6 126.7h.1M503.7 125.7h.1M458 108h.1M457.6 109.1h.1M459.5 109.3h.1M486.2 138.9h.1M486.8 139.8h.1M485.8 139.5h.1M470.2 120.1h.1M472 120.2h.1M470.5 120.2h.1M468.3 101.3h.1M470 102.7h.1M469.9 101.8h.1M513.3 132.7h.1M512 131.8h.1M513.7 134h.1M506 126.5h.1M506.4 125.1h.1M504.4 128.4h.1M473.6 120h.1M475.9 118.9h.1M475.8 119.6h.1M459.1 132.6h.1M460.7 130.4h.1M461.5 132.6h.1M444.2 94h.1M447.8 93.7h.1M445 91.2h.1M470.7 116.7h.1M470.2 118.4h.1M471.4 116.1h.1M447.2 117.9h.1M443.2 119.3h.1M445.7 118.1h.1M455.1 99.6h.1M455.5 98.8h.1M454.9 99.2h.1M486.9 107.2h.1M487.5 103.6h.1M486 105.3h.1M479.5 91.1h.1M479.6 89.3h.1M480 87.9h.1M491.3 100.5h.1M493.2 97.1h.1M493.8 97.8h.1M483.8 106.1h.1M485.9 107.5h.1M484.1 106.9h.1M503.4 122.2h.1M504.8 124.1h.1M506.5 124.1h.1M451.9 94h.1M452.5 92.7h.1M454.3 94h.1M509.9 137.8h.1M511.1 138.5h.1M510.1 137.7h.1M482.2 140h.1M480.6 138.1h.1M479.8 139.8h.1M434.7 91.4h.1M437.7 91.4h.1M437.2 91.2h.1M439.5 138.6h.1M440.1 138.9h.1M440.9 138.2h.1M475.9 87.4h.1M476.8 91.7h.1M475.2 89.2h.1M491.5 104.8h.1M489.3 109.2h.1M490.9 107.9h.1M493.6 84.1h.1M496.3 81.8h.1M496.6 80.4h.1M504.8 118.9h.1M505.2 121.4h.1M503.7 118.8h.1M442 152.3h.1M442.8 152.7h.1M441.3 154.1h.1M450.1 124.4h.1M451.7 121.2h.1M453.2 123.7h.1M481.1 118.6h.1M479.4 116.7h.1M482.9 116.3h.1M504.3 104.6h.1M502 103.5h.1M502.6 108h.1M431.3 135.2h.1M432.1 134.4h.1M429.7 132.3h.1M465.3 114h.1M463.8 111.6h.1M464.2 111.3h.1M458.3 108.6h.1M459.4 108.6h.1M457.7 107.7h.1M511.5 113h.1M509.7 113.5h.1M512.4 112.6h.1M494.3 122.5h.1M492.4 122.6h.1M491.7 120.4h.1M470.3 96.2h.1M467.7 98.6h.1M468.9 98h.1M420.9 135h.1M421.9 134h.1M423.4 134.4h.1M466.1 116.8h.1M465.7 115.9h.1M467.2 113.2h.1M453.8 136.8h.1M452.5 138.2h.1M454.6 135.9h.1M497.6 117.4h.1M497.2 117.3h.1M497.3 118.5h.1M477.1 126.2h.1M477.3 128.2h.1M476.7 128.1h.1M415.8 125.4h.1M415.1 125.2h.1M415.1 125.9h.1M453.4 120.7h.1M452.5 121.6h.1M450.8 121.3h.1M453.2 83.8h.1M454.1 82.5h.1M455.3 83.2h.1M446.3 122.6h.1M446.3 123.2h.1M447.7 124.6h.1M463.3 79.8h.1M463.2 78.2h.1M464.2 79h.1M503.7 99.6h.1M503.2 101h.1M502.6 99h.1M494.7 137.4h.1M491.4 138h.1M492.9 138.4h.1M481.6 138.6h.1M480.6 139h.1M480.7 139.2h.1M510 139.2h.1M508.8 135.2h.1M508.9 139.4h.1M482.4 125.8h.1M480.2 124.4h.1M481.2 125.2h.1M509.9 118.5h.1M509.5 120.2h.1M509.8 121.3h.1M450.8 121.1h.1M448.7 122.9h.1M449.6 121.8h.1M502.8 118.1h.1M503.4 118.2h.1M503.6 117.6h.1M448.4 112.7h.1M450.3 113.7h.1M448.4 113.5h.1M438.1 99.9h.1M437.2 96.7h.1M439.2 99h.1M472.5 94h.1M474.2 93.3h.1M473.8 92.1h.1M423.3 129.8h.1M420.8 128.1h.1M422.7 128.6h.1M459.4 91.6h.1M459.2 89.7h.1M458.7 89.4h.1M483.7 133.5h.1M480.5 132.3h.1M481.2 132.1h.1M448.5 127.4h.1M446.1 126.1h.1M449.9 126.6h.1M471 115.8h.1M473.3 118.3h.1M473.8 118.2h.1M475.4 123.8h.1M477.1 125.4h.1M475.4 124.4h.1M458.3 108h.1M457.3 107h.1M456.8 108.5h.1M444.9 107.7h.1M443.7 107.7h.1M443.1 105.2h.1M438.7 132h.1M442.1 133.5h.1M435.4 134.5h.1M477.8 131h.1M480.2 129.6h.1M479.8 128.2h.1M473.4 134.8h.1M471 133.7h.1M472.7 133.3h.1M488.1 114.4h.1M490.9 117.4h.1M490.3 116.3h.1M497 128h.1M498.6 126.6h.1M498.4 129h.1M498.1 146.3h.1M497.8 147.4h.1M497.2 148.8h.1M450.1 100.9h.1M449.8 103.3h.1M447.3 102.8h.1M436.5 121.8h.1M435.8 123.8h.1M436.9 124.4h.1M463.2 92.9h.1M462.8 92.1h.1M463.4 92.1h.1M426.9 142.5h.1M425 141.2h.1M426.5 142.3h.1M501.3 107.3h.1M503.6 110.3h.1M501.6 108h.1M482.1 141.8h.1M481.1 140.5h.1M481.7 141.2h.1M497.7 131.7h.1M498.9 132.2h.1M496.5 129.7h.1M498.6 120.7h.1M497 120.7h.1M498.8 119h.1M461.8 132.8h.1M461.5 134h.1M459.9 130.4h.1M456 116h.1M456.8 116.6h.1M455.7 117.4h.1M456.7 126.9h.1M456.3 127.2h.1M457.8 128.1h.1M452.6 85.3h.1M453.7 86.2h.1M451.6 84.3h.1M501.6 138.2h.1M501.9 137.7h.1M502.5 139h.1M448.9 125.8h.1M447 127.4h.1M448.1 128.5h.1M431.4 114.5h.1M431.8 114.9h.1M431.3 116.1h.1M482.3 127.1h.1M483.3 129h.1M482.5 128h.1M444.6 152.6h.1M448.1 153.9h.1M443.8 153.3h.1M486.3 106.4h.1M487.1 106.6h.1M486.9 106.5h.1M479 129.1h.1M479.8 128.2h.1M479.8 130.6h.1M503.9 119.9h.1M504.3 122.2h.1M503.5 121.6h.1M414 134.1h.1M413.4 132.7h.1M412.1 132.1h.1M433.3 135.7h.1M432.6 135.5h.1M434.3 135.2h.1M465.7 130.9h.1M464.2 129.1h.1M463.4 131.7h.1M437.2 137.2h.1M438.1 135.3h.1M438.1 136.7h.1M478.2 88h.1M478.1 91.4h.1M477.5 90.6h.1M500.6 143.1h.1M501.4 143.9h.1M499.5 143.7h.1M498.6 152.9h.1M500.2 153.3h.1M500.2 153.2h.1M465.8 87.7h.1M463.7 89.2h.1M464.9 88.1h.1M483.5 116.2h.1M483.1 118.4h.1M482.9 117.1h.1M476.4 123.5h.1M475.2 122.5h.1M476.8 122.8h.1M454.3 127h.1M454.9 127.8h.1M454.6 127.9h.1M443.1 82.9h.1M445.6 85.2h.1M444.9 81.3h.1M494.9 113.5h.1M495.5 115.4h.1M495.9 115.2h.1M429.5 141.4h.1M429.2 140.6h.1M428.3 141.9h.1M496.9 106.9h.1M495.4 105.7h.1M498.4 106.4h.1M487.9 87.1h.1M485.3 88.7h.1M488 85.5h.1M518.3 131.1h.1M517.7 132.3h.1M516.9 131.2h.1M442.2 136.9h.1M443.2 138.8h.1M445.7 137.5h.1M471.6 123.3h.1M468.9 122.8h.1M471.2 122.1h.1M501.9 124.9h.1M502.3 123h.1M502.7 121.4h.1M460.4 109.5h.1M458.6 109.1h.1M458 111h.1M479.3 116.2h.1M481.4 115.4h.1M482.3 116.4h.1M468.7 144.4h.1M468.2 144.8h.1M466.2 145.3h.1M481 141.5h.1M482.2 140.5h.1M480.9 142.6h.1M485.9 114.8h.1M485.1 116.5h.1M484.3 116.1h.1M511 141.3h.1M510.2 143.4h.1M509.2 140.4h.1M432.9 150.3h.1M431 147.7h.1M432.2 148.4h.1M481.3 134h.1M482.3 135.8h.1M483.6 133.6h.1M453 121.4h.1M452.2 119.1h.1M452.7 120.1h.1M486 122.3h.1M485.9 125.2h.1M486.4 125.8h.1M466.6 114.1h.1M466.1 110h.1M466.3 113.2h.1M428.3 140.9h.1M429.1 141h.1M429.4 143.5h.1M459.5 147.5h.1M461.6 148.8h.1M459.4 148.4h.1M461 113.2h.1M459.8 111.4h.1M461.7 109.8h.1M436.5 122h.1M436.2 123.3h.1M436.3 123.1h.1M498.4 154.8h.1M498.2 152.9h.1M498.4 153.4h.1M452.8 125.8h.1M454.1 125.2h.1M453 125.2h.1M482.8 98.2h.1M483.5 96.7h.1M485.3 98h.1M474.2 101.3h.1M475.6 102.7h.1M476.5 102.4h.1M492.6 108.3h.1M492.7 108.4h.1M491.8 109.3h.1M467.4 95.9h.1M466.8 95.2h.1M467.7 95.7h.1M438.5 137.6h.1M435.9 139h.1M436.9 138.3h.1M444.2 107.7h.1M445 106.1h.1M445.9 105.3h.1M450.5 107.2h.1M451.3 105.1h.1M449.2 106.4h.1M507.3 129h.1M509.3 130.3h.1M507.2 131.1h.1M442.7 105.1h.1M443.4 106.4h.1M441.5 102.9h.1M497 143h.1M495 141.9h.1M496 141h.1M486.9 137.4h.1M487 140h.1M488.2 140.5h.1M485.8 137h.1M485 135.5h.1M485.6 136.2h.1M489.7 133.7h.1M491.6 130.6h.1M489.3 131.5h.1M457.5 134h.1M458.3 133.1h.1M459.8 134.2h.1M495.5 125h.1M496.3 124.5h.1M495.1 125.1h.1M477 109.7h.1M477.2 110.1h.1M475.6 110h.1M456 113.4h.1M457.4 113.6h.1M457 114.7h.1M475 114.3h.1M475.9 113.9h.1M475.2 113.4h.1M469.4 110.2h.1M467.9 110h.1M471 108.8h.1M446.8 123.7h.1M446.3 122h.1M445.5 123.8h.1M450 93.8h.1M451.4 93.6h.1M449.9 93.7h.1M495.6 118.5h.1M495.1 119.6h.1M495.5 117.2h.1M464.3 94.5h.1M463.9 95.7h.1M462.6 94.8h.1M502.1 126.6h.1M501.3 125.2h.1M503 127h.1M421.8 140.5h.1M421.1 141.4h.1M420.6 141.2h.1M505.6 122.5h.1M503.4 120.7h.1M505.1 123.7h.1M498.9 104.3h.1M499.7 103.8h.1M499.4 103.6h.1M494 106.5h.1M493.2 106.7h.1M493.7 108.3h.1M518.6 128.8h.1M519.6 130.2h.1M517.8 129.4h.1M474.8 94.3h.1M474.4 93.6h.1M473.5 92.6h.1M496.7 123.2h.1M496.6 123.6h.1M498.5 124.4h.1M507.3 110.4h.1M507.3 111.8h.1M509 111.5h.1M487 131.3h.1M488.4 132.6h.1M487.7 132.4h.1M439.3 120.3h.1M440.2 124.3h.1M440.2 122.8h.1M463.7 124.2h.1M461.4 122.9h.1M461.8 124.3h.1M479.3 123.7h.1M480.5 125.6h.1M479.1 124.5h.1M443.6 128.7h.1M445.4 126.9h.1M444.1 128.5h.1M432.2 94h.1M432.3 97.1h.1M433 94.3h.1M432.6 149.9h.1M432.9 150h.1M433.9 149.3h.1M505 106.2h.1M501.9 105h.1M502.8 105.5h.1M438.9 113.5h.1M439.9 113.5h.1M437.2 112.4h.1M464.8 130.5h.1M465.6 129.7h.1M465.4 128.4h.1M449.1 96.1h.1M450.2 95.7h.1M449 95.8h.1M441.9 150.9h.1M443.4 146.4h.1M444.2 147.9h.1M432.2 114.4h.1M431.4 111.2h.1M431.1 113h.1M444 133.4h.1M441.7 131.4h.1M443.9 131.7h.1M500.1 114h.1M499 115.4h.1M502.7 113.6h.1M451.8 142.9h.1M452.1 142.8h.1M452 140.5h.1M477.9 105.2h.1M477.5 107.7h.1M476.4 106.7h.1M468.1 115.1h.1M466 112.7h.1M468.1 112.1h.1M504.9 121.9h.1M509.1 122.6h.1M510.6 122.2h.1M431.5 98.3h.1M431.5 98.9h.1M431.2 98.7h.1M428.6 129.1h.1M427.6 129h.1M427.7 128.8h.1M461.9 120.8h.1M462.7 121.9h.1M462.4 119.8h.1M446.3 135.3h.1M447.1 133.2h.1M447.5 130.7h.1M473.4 106.7h.1M472.6 106h.1M471.6 105.9h.1M505.6 143h.1M505.8 145.3h.1M503.6 145.8h.1M455.6 105.4h.1M456 104.6h.1M455.2 104.6h.1M458.4 129.6h.1M459.4 130.2h.1M459 129.5h.1M432.2 118.4h.1M430.1 118.2h.1M431 118.4h.1M457.4 137.9h.1M454.7 139.3h.1M456.5 137.1h.1M458.3 100.8h.1M458.2 101.5h.1M457.6 100.8h.1M486.5 128.3h.1M487.3 128.2h.1M487.5 129.6h.1M472.7 82.3h.1M469.8 80.3h.1M470.6 83.9h.1M510 120.5h.1M510.7 119.5h.1M514.5 119.8h.1M488.2 111.6h.1M488.2 112h.1M489.6 111.3h.1M442 136.3h.1M442.7 139.3h.1M444 137.8h.1M499.6 110.4h.1M500.9 111.3h.1M501.6 110.4h.1M504.8 129.9h.1M505.9 130h.1M504.4 131h.1M492 117.9h.1M490.9 117.3h.1M491.7 118.6h.1M427.6 136.1h.1M430.7 135.6h.1M431.4 136.4h.1M480.1 100.3h.1M482.1 99.3h.1M479.7 100.9h.1M500.2 137.8h.1M500.7 136.7h.1M498.6 138.1h.1M453.4 152.2h.1M451.7 152.3h.1M450.6 152.5h.1M444.3 137.7h.1M446 138.1h.1M443.9 140.7h.1M478.7 138.7h.1M475.9 139h.1M479.3 138.4h.1M460.6 82.6h.1M460.4 84h.1M458.7 85.1h.1M463.7 119h.1M463.6 120.6h.1M465.1 121h.1M418 133.6h.1M418.6 133.4h.1M420.1 133.9h.1M451.4 118.3h.1M454.2 119.7h.1M451.8 119.3h.1M429.4 127.7h.1M428 125.5h.1M427.2 128h.1M506.8 105.5h.1M506.3 102.2h.1M505.7 103.5h.1M461.9 130.9h.1M463.3 130.4h.1M461.9 130.2h.1M436.5 125.9h.1M438.2 126.6h.1M438.2 125.5h.1M470.2 137.6h.1M471.1 138.2h.1M469.4 137.9h.1M478.2 118.4h.1M476.2 117.8h.1M477.6 117.1h.1M436.2 99.8h.1M437.5 102h.1M437 101.3h.1M516.1 129h.1M516.5 130.1h.1M516.4 127.8h.1M430.4 89.7h.1M428.8 90.8h.1M427.9 91.3h.1M509.3 142.6h.1M508.5 140.5h.1M509 141.5h.1M473.7 97.4h.1M471 96.5h.1M473.2 94.8h.1M440.9 143h.1M442.4 146.2h.1M441.1 145.5h.1M482.1 92h.1M483.1 89.9h.1M482 92.8h.1M452.6 127.1h.1M453 129.1h.1M452.5 130.2h.1M447.6 119.4h.1M451 118.8h.1M448.7 118h.1M426.7 113.3h.1M428.9 115.3h.1M428.7 113.6h.1M483.6 107h.1M485.9 106.7h.1M485.9 106.5h.1M516.6 123.9h.1M515 123.3h.1M516.9 124.1h.1M501.9 109.9h.1M504.5 109.2h.1M504.8 109h.1M438.8 129.6h.1M438.8 131.4h.1M438.8 128.8h.1M497.4 120.4h.1M494.7 118.7h.1M495.4 118h.1M492.6 128.9h.1M492.3 127.1h.1M493.4 128.5h.1M480.3 125.8h.1M482.7 124.2h.1M483.4 124h.1M481.1 94.2h.1M480.8 93.3h.1M480 95.7h.1M492.9 109.8h.1M496.5 110.1h.1M493.6 111.7h.1M450.4 98.5h.1M450.2 99.5h.1M451.1 99.5h.1M476.1 137.3h.1M479.7 136.6h.1M475.4 134.7h.1M502.8 113h.1M501.7 113.2h.1M502.7 113.4h.1M459.5 128.1h.1M460.2 128.9h.1M459.9 130.2h.1M448 127h.1M447.6 130.2h.1M447.4 128.2h.1M498.3 116.8h.1M497.7 119.5h.1M499.3 120.1h.1M487.7 136.8h.1M487.2 138.6h.1M486.5 137.7h.1M487.4 107.4h.1M487.3 107.5h.1M486.9 105.5h.1M468.3 115.8h.1M469.4 117h.1M468.3 115.6h.1M452.8 129.5h.1M451.8 131.1h.1M452.4 130.2h.1M433.1 111.4h.1M434.6 113.7h.1M435.2 113.1h.1M459.8 137h.1M461.1 139.9h.1M459.5 139.8h.1M501.1 95.1h.1M499.6 96.3h.1M500.3 93.4h.1M503.2 123.2h.1M502.9 121.4h.1M503.4 122.3h.1M456.2 144.7h.1M455.3 144.5h.1M455.7 142.4h.1M492.5 114.2h.1M492.3 113.9h.1M491.3 114.5h.1M506.9 136.4h.1M508 135.3h.1M506.6 135.9h.1M501.8 121.3h.1M502 122.6h.1M502.5 122.2h.1M467.9 128.4h.1M470.1 128.9h.1M469.6 128.2h.1M449.8 139.2h.1M452.1 137.8h.1M449.6 139.8h.1M511 124.8h.1M512.7 126.2h.1M510 123.6h.1M444.9 85.8h.1M443.5 84.5h.1M444.6 83.2h.1M453.4 130.7h.1M452.4 128.3h.1M456.3 129.6h.1M450.3 92.6h.1M450.9 92.9h.1M451.7 91.2h.1M480.6 112h.1M480.6 112.5h.1M479 112.9h.1M431.4 140.1h.1M431.6 139.6h.1M430.3 139.6h.1M486.3 119.4h.1M484.9 118.4h.1M486.5 120.9h.1M509.5 118.7h.1M509.5 116.3h.1M511 118.9h.1M458.9 109.4h.1M458.8 112.3h.1M458.3 109.1h.1M499.2 119h.1M497.6 119.5h.1M498.6 118.1h.1M438.5 109.1h.1M439.6 107.9h.1M436.8 110.9h.1M470.3 137.5h.1M469.7 138.2h.1M470.1 138.3h.1M448.7 91.1h.1M449.7 92.2h.1M449.4 91.4h.1M485.7 128.9h.1M485.7 129.8h.1M486 129.9h.1M482 102.7h.1M480.8 101.6h.1M480.4 102h.1M432.3 145h.1M430.4 145.7h.1M430.5 145.2h.1M502.9 102.6h.1M500.7 103.4h.1M501.1 102.9h.1M436.9 127.7h.1M438.4 129.3h.1M440.5 126.4h.1M451.6 123.4h.1M450.4 126.1h.1M448.7 121.9h.1M445 125.6h.1M444.3 126.3h.1M445.5 126.8h.1M509.2 150.7h.1M509.5 149.4h.1M510.3 151.7h.1M450.3 101.5h.1M451.1 101.8h.1M451.4 102.4h.1M491.1 130.5h.1M494.2 130.8h.1M492.7 129.4h.1M444.7 132.2h.1M443 137.1h.1M443.2 134.4h.1M490.7 125.7h.1M488.4 125.5h.1M492.6 125.6h.1M450.9 132.9h.1M450.4 131.4h.1M451.6 134.6h.1M482.8 132.9h.1M482.1 131.7h.1M480.8 131.2h.1M443 116.5h.1M441.9 115.5h.1M442.5 117.5h.1M488.1 114.2h.1M488.2 111.4h.1M490 112.3h.1M469.9 125.6h.1M470.6 129.3h.1M470.9 127.9h.1M472.2 106.2h.1M473.4 106.9h.1M472.2 103.4h.1M454.7 114.4h.1M457.3 115h.1M455.8 115h.1M498.1 158.1h.1M499 159h.1M497 159.8h.1M458.8 114.9h.1M461.9 115h.1M460.6 115.1h.1M443.8 95.4h.1M442 98.5h.1M443.4 97h.1M438.3 145.4h.1M439.8 143.4h.1M439.6 143.6h.1M439.9 127.4h.1M441 127.4h.1M441.6 126.6h.1M489.9 93.8h.1M492.2 91.4h.1M490.5 95.4h.1M512.5 131.7h.1M508.4 133.9h.1M511 131.8h.1M485.7 120h.1M485.2 120.5h.1M483.5 121.3h.1M490.2 123h.1M492.4 123.1h.1M492.1 121.8h.1M446.5 147.6h.1M448 147.6h.1M449 149.7h.1M447.9 135.3h.1M449.7 137.9h.1M450.5 136.6h.1M497.3 114.7h.1M497 116.3h.1M497.9 115.2h.1M508.8 114.5h.1M509.4 114.3h.1M509 116.1h.1M488.5 128.7h.1M487.2 129.1h.1M487 128.6h.1M506.7 102.1h.1M504.3 102.5h.1M507.8 101.2h.1M417.7 134.9h.1M415.7 135.6h.1M417 134.4h.1M432.9 124.9h.1M434.4 126.9h.1M432.7 128.4h.1M459.1 88.8h.1M457.8 86h.1M457.4 88.1h.1M498.5 108.9h.1M499.7 108.4h.1M499 106.6h.1M502.6 106.8h.1M499.4 106.1h.1M500.8 107.1h.1M432.7 99.1h.1M432.7 100.4h.1M432.8 99.9h.1M496.8 150.1h.1M495.6 150.5h.1M495.9 147.7h.1M515.1 109.3h.1M514.7 109.8h.1M513.5 112h.1M462.7 130.8h.1M465.6 130.8h.1M464.1 129.6h.1M492.6 148.3h.1M493.4 146.8h.1M492 146.5h.1M498.8 99.7h.1M499.2 97.9h.1M500.5 100.1h.1M488.6 128.2h.1M488.7 127.9h.1M488.1 128.2h.1M514.6 145.1h.1M516.3 144.4h.1M514.2 144.2h.1M446.9 113h.1M447.5 114.6h.1M448.5 112.5h.1M458.7 131.6h.1M457 132.3h.1M458.4 129.8h.1M485.8 107.2h.1M486.7 104.6h.1M485.6 107h.1M456.5 102.2h.1M458.5 104.6h.1M459.8 102.2h.1M491.6 112.4h.1M490.2 112.2h.1M490.6 114.4h.1M480.2 128.7h.1M481.4 127.4h.1M480.4 127.8h.1M421.7 116.1h.1M420.9 117.3h.1M422.8 116h.1M479.8 100.3h.1M480 102.5h.1M477.9 97h.1M444.8 121.1h.1M445.5 123.6h.1M445.5 122.1h.1M440.8 144.9h.1M442.3 142.8h.1M442.1 142.9h.1M450 147.3h.1M451 149.9h.1M451.3 147.8h.1M487.4 121.6h.1M487 122.3h.1M487.1 122.6h.1M476.3 74.9h.1M476.3 77h.1M474.7 76.5h.1M414.9 137.8h.1M413.9 138.7h.1M412.4 138.4h.1M496.4 144.5h.1M497.6 143.7h.1M498.7 144.3h.1M463.2 122.2h.1M462.4 121.2h.1M465.4 120.8h.1M475.7 116.1h.1M478.2 118.5h.1M476.8 117.7h.1M495.2 110h.1M494.5 111.3h.1M495.5 109.8h.1M454.4 120h.1M454.4 119.3h.1M452.9 117.8h.1M479.7 127.3h.1M480.4 127.6h.1M478 126.7h.1M420.9 133.2h.1M418.8 134.3h.1M420.1 132.9h.1M457.9 135.2h.1M458.3 135.8h.1M458.8 134.5h.1M471.1 124.7h.1M470.3 124.9h.1M468.2 125.2h.1M460.5 139.7h.1M461 135.6h.1M461 137.3h.1M504.9 134h.1M503 133.5h.1M506 132.3h.1M486.3 120h.1M488.1 119.3h.1M486.1 120.2h.1M424.1 117.7h.1M423.3 119.7h.1M419.8 116.4h.1M450.1 135.1h.1M448.4 133.5h.1M450 134.7h.1M417.5 140.3h.1M419.8 137.8h.1M419.1 137.8h.1M471.5 129.8h.1M472.7 132.6h.1M471.9 132h.1M492.1 115.8h.1M494.9 116.2h.1M495 114.2h.1M421.6 139.7h.1M421.8 136.8h.1M423.3 137.3h.1M455.5 136.1h.1M454 135.2h.1M453.1 134.2h.1M497.5 95.4h.1M498.8 96.5h.1M495.3 97.7h.1M472.8 115.4h.1M472.4 116.5h.1M471.8 117.4h.1M469.7 129.1h.1M471.6 130.4h.1M470.8 129h.1M450 120.9h.1M450.2 121.2h.1M450 122.5h.1M459.5 107h.1M460.5 107.3h.1M460.3 105.4h.1M453.6 106.1h.1M455.4 104.4h.1M453.2 104.4h.1M465.3 120.1h.1M465.6 119.6h.1M465.1 119.1h.1M465.1 91.4h.1M463.7 91.8h.1M464.9 90.4h.1M443.7 124.8h.1M440.2 125.2h.1M441.9 123.7h.1M413.8 130.8h.1M412.6 130h.1M413.5 129.5h.1M479.3 127.1h.1M479.5 130.1h.1M481.1 130.6h.1M447.7 149h.1M446.3 149.5h.1M444.5 151.2h.1M450.4 134h.1M451.3 133.6h.1M454.7 133.1h.1M465.1 86.4h.1M465.6 87.7h.1M464.7 88.1h.1M416.4 142.6h.1M417 141.4h.1M418.2 139.3h.1M434 130.5h.1M433.7 130.8h.1M435.4 130.4h.1M487.4 135.5h.1M485.5 134.9h.1M485.6 135h.1M431.2 112.3h.1M431.3 112.5h.1M430.9 113.8h.1M494.5 124h.1M494.3 125.2h.1M495 126.8h.1M487.1 128.7h.1M489.4 130.3h.1M489.1 126.7h.1M462.1 93.8h.1M460.6 91.1h.1M459.1 93.4h.1M454 122.8h.1M453.3 121.7h.1M456 124.5h.1M426.7 140.6h.1M427.7 137.3h.1M424.8 137.2h.1M458.2 124h.1M459.4 124h.1M457.9 125.4h.1M476.7 92.4h.1M475.3 92.8h.1M475.4 92.5h.1M445.7 121.8h.1M445.7 122.1h.1M446.8 121.5h.1M468.5 136.9h.1M470.2 136.9h.1M469.3 136.6h.1M495.5 127.8h.1M495.9 130h.1M496.5 129.1h.1M492.7 124.8h.1M492.1 125h.1M491.9 125h.1M485.3 129.2h.1M487.4 129.9h.1M486.4 130.7h.1M445.4 98.1h.1M444.9 98.8h.1M445.8 98.3h.1M466.9 121.5h.1M468.7 121.6h.1M467.6 120.3h.1M492.5 94.5h.1M492.9 91.9h.1M495 90.4h.1M478.9 117.5h.1M479.2 118h.1M478 117.6h.1M512.7 116.3h.1M513.3 116.9h.1M513.8 114.9h.1M437.8 112.1h.1M434.7 111.3h.1M436.1 112.6h.1M436.1 137.2h.1M439.7 138.4h.1M436.6 140.1h.1M443.3 133.6h.1M444.8 134.3h.1M445.9 135.5h.1M512.4 120.8h.1M509.8 121.7h.1M509.4 120.5h.1M489.3 96.4h.1M489.5 94.3h.1M489.7 95h.1M470.6 132.3h.1M473.7 134.2h.1M472.1 133.2h.1M448.8 135.3h.1M449.6 134.6h.1M448.3 135.4h.1M496.8 102.8h.1M496.5 103.9h.1M497.3 103.7h.1M495 130.6h.1M492.8 128.3h.1M495.8 129.4h.1M456.8 130.8h.1M457 131.3h.1M457.8 132.4h.1M511.3 151.3h.1M508 151.9h.1M511.1 151.5h.1M466 131.2h.1M466.2 131h.1M464.9 130.5h.1M427.4 133.3h.1M428.1 132.2h.1M427.3 134.4h.1M483.6 98.1h.1M482.6 95.6h.1M484 97.5h.1M499.1 107.2h.1M498.7 108.1h.1M495.4 107.6h.1M497.7 133.4h.1M497.6 133.5h.1M499.6 133.9h.1M453.8 102.3h.1M450.8 103.9h.1M452.1 105.9h.1M454.7 101.2h.1M452.6 102.4h.1M455.6 101.4h.1M489.2 133.5h.1M488.3 134.8h.1M491.3 135.7h.1M486.6 95.3h.1M485.5 93.6h.1M483.9 96.3h.1M424.2 133.1h.1M426.1 131.8h.1M424.6 134.4h.1M456.1 108.3h.1M455.7 108h.1M459.1 110.8h.1M438.2 112.9h.1M437 112.5h.1M438.4 112.7h.1M485.2 97.3h.1M483.6 97.1h.1M484.1 95.7h.1M454.9 116.6h.1M453 114.9h.1M456.2 113.7h.1M435.5 154.4h.1M435.5 155h.1M435.1 153.2h.1M511.5 150.8h.1M511.7 152.5h.1M509.3 153.2h.1M414.1 136.2h.1M412.6 136.7h.1M414.1 136.1h.1M453.1 102h.1M453 103.2h.1M452.1 103.4h.1M428.4 140h.1M430.1 140.6h.1M428.9 139.7h.1M438.5 111.8h.1M442.5 112.8h.1M439.6 112.9h.1M456 92.8h.1M455.8 95.1h.1M455.2 91.9h.1M439.9 108.6h.1M440 108.6h.1M438.8 108.7h.1M498.5 119.8h.1M497.6 121.6h.1M496.2 117.9h.1M497.2 131.4h.1M497.1 131.6h.1M496.5 130h.1M447.7 106.2h.1M448 111.6h.1M445.7 109.7h.1M442.4 130.2h.1M439.6 129.7h.1M440.7 129.8h.1M503 116.1h.1M500.3 118.6h.1M499.5 116.4h.1M455 99.1h.1M450.9 100.3h.1M453.1 98.8h.1M460.1 122.9h.1M459.9 123.7h.1M461.2 125h.1M503.7 146.1h.1M503.2 145.9h.1M503.1 146.7h.1M459.9 110.3h.1M462.2 109.4h.1M459.2 109.6h.1M455.5 84.1h.1M455.8 84.1h.1M454.3 84h.1M449.1 124h.1M446.7 124h.1M446.6 124.6h.1M440 106.9h.1M440.7 105.9h.1M441.1 106.1h.1M453.2 105.5h.1M453.3 104.6h.1M453 104.6h.1M470.4 101.4h.1M470.3 102.2h.1M469.8 101.5h.1M513.7 133.4h.1M517.3 135.4h.1M516.6 136h.1M503.9 131.3h.1M506.9 130.2h.1M506.6 131.6h.1M492.5 100.8h.1M491.8 99.4h.1M494.6 98.1h.1M492.2 146.1h.1M492.2 146.3h.1M491.4 144.9h.1M496.8 108.2h.1M496.9 105h.1M496.6 107.4h.1M444.6 136h.1M445 138.7h.1M445.4 134.2h.1M471.4 134.9h.1M470.7 132h.1M470.4 134.1h.1M435.4 109.8h.1M434.7 109.7h.1M435.3 109.9h.1M455.8 140.4h.1M457.8 139.7h.1M458.4 140.4h.1M498.8 131.1h.1M499.4 131.1h.1M500.5 132.4h.1M470.5 135.6h.1M473.6 135h.1M473.3 134.3h.1M446.5 130.5h.1M446.1 133.7h.1M445.9 132.6h.1M434.2 134.6h.1M433.1 133.1h.1M430.9 134.3h.1M439.5 132.9h.1M439.7 131.9h.1M437.3 134.1h.1M478.4 123.4h.1M475.5 120.1h.1M476.8 120.3h.1M469.6 102.3h.1M469.7 101.9h.1M470.7 101.9h.1M450.7 107.2h.1M450.3 106h.1M449.7 106.1h.1M487.3 130.6h.1M486.8 128.5h.1M486.5 129.6h.1M478.4 108.5h.1M477.6 107.4h.1M477.8 106.9h.1M507 124.2h.1M508.6 122.6h.1M506.5 126.2h.1M445.2 124.9h.1M446.6 126.9h.1M446 124h.1M486.4 96.6h.1M485.3 95.2h.1M487.2 96.7h.1M502.2 133.8h.1M502.3 132.3h.1M503.4 132.9h.1M456.7 129.5h.1M459.2 129.1h.1M457.3 129.5h.1M447 122.4h.1M448.9 123.4h.1M449.8 123.6h.1M459.3 95h.1M460.5 95.9h.1M459.5 96h.1M451.6 118.3h.1M449.7 118.5h.1M450.3 119.5h.1M463.5 84.4h.1M462 86.7h.1M461.9 82.5h.1M505.2 115.7h.1M505.8 113.2h.1M504 115h.1M485.6 111.6h.1M486.8 112.9h.1M486.5 111.3h.1M439.3 108.6h.1M439.8 107h.1M440.5 108.2h.1M425.1 129.8h.1M425.2 126.1h.1M427.6 128h.1M469.7 100.9h.1M468.3 103.1h.1M467.2 104h.1M460.5 146.8h.1M460.8 144.7h.1M461.3 142.6h.1M423.9 125.7h.1M424.3 125h.1M424.2 124h.1M474.9 126.4h.1M473.3 126.4h.1M474.6 127h.1M452.5 140.8h.1M454.3 141.3h.1M453.1 142.3h.1M440.3 140.8h.1M439.6 142.6h.1M441.4 141.3h.1M477.9 111.6h.1M477.8 111.5h.1M478.3 110.7h.1M469.8 84.5h.1M468.5 83.3h.1M468.6 82.3h.1M446.7 99.5h.1M446.3 100.2h.1M448.5 98.8h.1M446.4 118.4h.1M445.7 117.7h.1M448.1 120.6h.1M441.4 124.6h.1M440.3 124.9h.1M440.1 123.6h.1M438.8 119.8h.1M438.1 118.5h.1M437.7 121.7h.1M469.8 91h.1M467.7 91.9h.1M466.5 90.3h.1M438.4 119.4h.1M439.7 118.6h.1M440.7 119.3h.1M462.1 131.2h.1M462.5 130.7h.1M463.5 131.6h.1M491.2 121.3h.1M492.5 121.3h.1M492.1 121h.1M458.1 117.4h.1M460.6 114h.1M458 114.9h.1M469.6 87.5h.1M471.1 87.1h.1M471.6 86.9h.1M432.6 126.2h.1M431.4 128.2h.1M432.4 127.8h.1M472.4 103.8h.1M474.2 102.4h.1M471.3 102.7h.1M493 115h.1M489.5 115h.1M491.7 113.6h.1M472.7 92.4h.1M472.2 90.5h.1M473.6 93.1h.1M455.8 121.1h.1M452.2 121.5h.1M455 121h.1M483.8 117h.1M484.7 116.5h.1M486.5 115.9h.1M445.3 106.7h.1M445.6 105.2h.1M446.1 105.3h.1M462.7 130.2h.1M465.7 130.5h.1M462.2 131.7h.1M488.5 113.9h.1M490.6 115.3h.1M489.5 115.1h.1M487.7 135.7h.1M487.9 134.1h.1M490.6 135.7h.1M425.4 134.8h.1M425.8 133.2h.1M426.2 133.5h.1M481.9 123.5h.1M482.4 125.1h.1M483.6 125.9h.1M457.3 132h.1M458.4 132.7h.1M457.7 134.8h.1M479.8 140.4h.1M480 139h.1M480 139.2h.1M500.3 125.3h.1M500.1 128.1h.1M501 125.9h.1M456.5 133.9h.1M455.9 134.1h.1M456.6 134.1h.1M449.1 122.2h.1M446.2 120.1h.1M449 120.7h.1M431.4 135.1h.1M428.7 135.4h.1M431 136.5h.1M503.8 104.5h.1M501.6 103.7h.1M501.3 103.7h.1M479.6 126.2h.1M476.2 126.3h.1M477.8 127h.1M423.8 123.1h.1M423.7 123.6h.1M425.3 123h.1M438.1 98.7h.1M437.4 98h.1M438.4 97.5h.1M507.4 138.3h.1M506.9 138h.1M509.1 139.5h.1M453.5 108.6h.1M450.8 111.1h.1M453.1 109.3h.1M470.4 83.7h.1M471.3 83.3h.1M470.3 82.6h.1M445.4 118.7h.1M445.4 119.8h.1M447.7 118.6h.1M481.3 89.1h.1M483.9 91h.1M482.5 89.4h.1M488.6 107.7h.1M488.4 107.7h.1M488.6 108.8h.1M476.3 122.3h.1M473 124.2h.1M474.6 121.6h.1M482.5 137.9h.1M484.6 135.1h.1M484.1 136.4h.1M450.9 141.6h.1M450.5 143h.1M451.2 143h.1M435.2 116.8h.1M437.1 117h.1M436 117.7h.1M497.7 138.3h.1M498.8 136.7h.1M498.3 137.3h.1M467.2 95.9h.1M467.2 95.7h.1M467.8 94.6h.1M480.9 132.1h.1M480.8 132.6h.1M478 129.9h.1M483.9 118.9h.1M484.8 119.1h.1M485.9 121.2h.1M449 123.4h.1M450 121.9h.1M451.1 122.3h.1M494.1 114.8h.1M495 113.6h.1M494.6 113.5h.1M453.3 94.8h.1M451 94h.1M451.2 95h.1M462.3 123.9h.1M462.3 124.6h.1M463.1 122.2h.1M456.4 97.6h.1M452.9 95.8h.1M453.8 97.4h.1M455.1 88.1h.1M454.6 89.2h.1M452.8 90.2h.1M463.7 96.6h.1M462.7 97.4h.1M465 96.9h.1M487.5 137h.1M485.3 138.7h.1M485.4 136.4h.1M487.8 127.8h.1M486.1 126.6h.1M486.4 127.6h.1M453.5 95.9h.1M451.5 98.4h.1M453.2 97.6h.1M495.3 136.8h.1M496.9 133.8h.1M496.2 135.3h.1M446.4 155.6h.1M448.5 156h.1M446 155.2h.1M511.1 126.1h.1M512.2 126h.1M513.4 127.1h.1M487.9 118.8h.1M490.5 119.4h.1M490.5 121.2h.1M453.5 128.5h.1M453.6 131.8h.1M454.4 130h.1M497.3 96.6h.1M495.7 93.8h.1M496.2 94.1h.1M478.4 113.1h.1M481.6 112.4h.1M476.6 111.1h.1M444.2 85.2h.1M442.9 87.4h.1M442.9 85.6h.1M436.5 136.3h.1M438.9 136.1h.1M437.5 134.2h.1M487.3 123.6h.1M488.9 123.3h.1M487.8 125.4h.1M459.2 106.4h.1M462.1 106.1h.1M461.4 107.9h.1M488.7 113.2h.1M488.1 113.9h.1M486.3 113.8h.1M439.9 124.3h.1M441.3 123.9h.1M439.6 123.6h.1M447.4 137.5h.1M447.6 137.3h.1M447.1 137.2h.1M431 93h.1M433 93.9h.1M432.7 93h.1M469.2 82.8h.1M469.7 82.4h.1M468.8 81.9h.1M465.5 84.4h.1M465.3 86.7h.1M466.8 86.7h.1M431.9 120.2h.1M431.6 119.9h.1M434.6 118.5h.1M491.2 128.6h.1M490.9 129.4h.1M493.2 127.7h.1M499.4 122.2h.1M501.2 124.7h.1M502 123.6h.1M484.4 113.3h.1M486.5 115.2h.1M485.7 113.2h.1M456.3 127.8h.1M458 128.4h.1M456.2 128.4h.1M477.8 80.6h.1M474.8 80.6h.1M475.1 79h.1M489.3 116.2h.1M489.5 115.4h.1M486.3 116.4h.1M458.1 139.8h.1M457.2 141.3h.1M455.5 140.1h.1M424.1 147.5h.1M425.4 146.1h.1M424.8 147.4h.1M452.2 103.4h.1M453.4 104.6h.1M452.2 103.3h.1M514.2 127.8h.1M515 129.7h.1M512.8 129.7h.1M439.4 128.5h.1M441.3 127.2h.1M439.7 131.9h.1M470.7 97.8h.1M470.3 98.1h.1M470.6 97.9h.1M481.6 126.3h.1M481.6 125.1h.1M481.6 125.7h.1M514.6 121.2h.1M513 122.1h.1M515 119.7h.1M425.6 105.8h.1M426.6 105.3h.1M426 106.5h.1M457.6 131.4h.1M461.1 132h.1M455.2 132.8h.1M439.4 118.9h.1M441 120.1h.1M441.6 121h.1M499.7 146.2h.1M501.1 145.1h.1M499.1 146.6h.1M492.2 102.5h.1M490.4 102.4h.1M491.7 101.7h.1M466 140h.1M465.1 140.3h.1M463.1 140.6h.1M430.6 137.7h.1M429.3 141.4h.1M429.6 139.4h.1M496.5 152.2h.1M495 154.8h.1M496.4 154.1h.1M454.7 130.2h.1M455.5 129.6h.1M457.5 129.4h.1M439.7 86.7h.1M437 86.7h.1M439.2 85.3h.1M457.4 117.2h.1M456.7 115.9h.1M459.7 114.3h.1M431 106.9h.1M428.8 105.5h.1M429.8 104.8h.1M466.7 117.9h.1M467.5 116.6h.1M467.8 117.5h.1M481.6 112.3h.1M482.1 112.1h.1M480.9 111.6h.1M476.9 129.3h.1M474.3 130h.1M476 129.6h.1M470.2 126h.1M471.1 124.5h.1M470.2 125.9h.1M452.3 115.9h.1M451.5 118.1h.1M451.6 115.8h.1M475.9 89.2h.1M477.2 92.1h.1M476.9 92h.1M501.2 113h.1M501.6 113.1h.1M501 112.2h.1M426.9 126.8h.1M425 125.6h.1M425.9 129.7h.1M462 113.5h.1M460.8 114.2h.1M460.3 115.1h.1M500.2 142.1h.1M500.2 140.9h.1M499 139.7h.1M511.3 142.6h.1M511.5 144.3h.1M508.4 143.2h.1M506.1 97.1h.1M506.6 96.9h.1M507.7 98.7h.1M488.3 124.2h.1M488.2 123.5h.1M490.2 123.9h.1M504.9 120.3h.1M503.4 123h.1M504.3 121.3h.1M484.7 102.5h.1M484.4 101.7h.1M483.8 104.7h.1M500.6 125.2h.1M501.4 123.2h.1M502.3 128.1h.1M465.3 95.5h.1M465.1 93.4h.1M465.9 95.3h.1M501.2 129.2h.1M503.9 128.5h.1M502.7 127.2h.1M488.1 124.1h.1M488.5 125.3h.1M488.6 123.8h.1M471.1 88.9h.1M471.2 88.2h.1M472.4 88.9h.1M443.7 136.9h.1M443.7 136.1h.1M443.4 136.6h.1M467.1 124.8h.1M466.4 124.6h.1M466.8 123.3h.1M490.6 95.5h.1M490.1 94.1h.1M488.5 95.2h.1M461.3 108h.1M462.9 110.3h.1M462.9 108.5h.1M498.8 111.9h.1M500.7 111.3h.1M501.7 110.5h.1M441.8 136.9h.1M439.9 136.1h.1M439.3 137.3h.1M443.9 95.1h.1M441.7 97.5h.1M443 96.5h.1M443.8 91.9h.1M445.6 90.9h.1M444.5 90.9h.1M428.7 126.6h.1M430.9 129h.1M429.5 126.4h.1M491.3 130.6h.1M490.6 132.2h.1M489.9 130.2h.1M438 124.4h.1M437.8 122.1h.1M438.9 123.7h.1M497.2 132.3h.1M496.8 131.7h.1M494.1 132h.1M449.5 139.3h.1M451.5 140.1h.1M450.1 141.1h.1M440.4 98.3h.1M439.9 99.6h.1M439.9 100h.1M458.2 94.5h.1M458.8 98.4h.1M459.5 96.5h.1M483.4 108.8h.1M483.6 110.3h.1M485.5 110.4h.1M498.9 153h.1M501.2 152.6h.1M500.2 151.6h.1M431.2 150.3h.1M429.9 153.5h.1M429 152.6h.1M514.7 118.5h.1M512.2 118.2h.1M509.9 119.9h.1M432.8 106.3h.1M432.1 108.3h.1M432.5 109.6h.1M457.7 90.1h.1M457.7 90h.1M456.5 90h.1M496.3 127h.1M498.4 128.3h.1M496.7 128.2h.1M496.2 136.3h.1M495.5 138h.1M494.7 136h.1M488.2 132h.1M489.4 132.7h.1M487.1 134.2h.1M502.3 104.9h.1M498.6 105.8h.1M498.8 106.9h.1M455 84.7h.1M452 84.5h.1M452.9 82.5h.1M447.2 132.7h.1M448.3 132.2h.1M446.4 136.3h.1M478.8 104.6h.1M479.4 104.3h.1M480.3 105.7h.1M515.5 115.1h.1M514.6 115.6h.1M515.7 115h.1M493.4 106.5h.1M491.6 106.5h.1M492.5 104.2h.1M452.7 129.7h.1M454 130.3h.1M453.1 132.6h.1M470.1 119h.1M469.4 120.1h.1M470.3 117.8h.1M435.9 92.8h.1M435.2 93.1h.1M438.7 94.4h.1M427.4 134.5h.1M424.7 133.9h.1M424.3 131.7h.1M465.1 132.2h.1M468.1 132.9h.1M468.7 131.8h.1M486.2 130.9h.1M486.7 131.5h.1M485.2 132.9h.1M465.8 125.1h.1M467.8 128.9h.1M467.6 126.8h.1M447.6 137h.1M450.3 137.6h.1M448 139.4h.1M490.6 88.9h.1M490.3 86.5h.1M492.8 85.9h.1M469 91h.1M469.4 89.6h.1M468 89.9h.1M458.5 86.5h.1M459.2 85.3h.1M456.7 83.4h.1M484.1 118.7h.1M483.8 115.7h.1M484.2 118.7h.1M467.2 94.1h.1M467.4 93.2h.1M469.3 93.8h.1M451.5 114.4h.1M453.6 113.7h.1M453.4 115.8h.1M511.5 143.9h.1M511.6 139.2h.1M509.5 142.7h.1M425 128.4h.1M426.4 130h.1M424.2 128.7h.1M490.5 104h.1M491.3 103.9h.1M490.2 103.1h.1M473 107.2h.1M474 105h.1M474.3 105.6h.1M469.9 137.4h.1M470 136.6h.1M468.8 134.1h.1M448.8 119h.1M447 119.6h.1M450.7 119.1h.1M494.4 121.8h.1M494.6 119.5h.1M493.8 120.3h.1M480.2 138.3h.1M480 141.3h.1M482.6 140.6h.1M492.1 105.2h.1M491.9 105.5h.1M491.3 106.1h.1M507.6 116.4h.1M505.9 116.5h.1M507.4 115.5h.1M489.2 107.9h.1M488.9 108h.1M489.3 106.9h.1M496.4 99.8h.1M493.3 99.2h.1M494.9 97.8h.1M469.2 107.2h.1M468.1 106.8h.1M467.5 106.2h.1M424.7 144.9h.1M421.7 146.2h.1M423 147.5h.1M484 141.9h.1M481.6 139.7h.1M483.1 140.6h.1M483.4 113.4h.1M482 113h.1M483.3 113.2h.1M445.9 110.2h.1M445.7 108.7h.1M447 110.5h.1M461.3 84.4h.1M460.9 83h.1M459.4 82.8h.1M431 104.6h.1M431.8 102.8h.1M431.9 103.8h.1M456 96.6h.1M458.4 96.6h.1M454.9 97.3h.1M470.9 121.5h.1M469.5 118.8h.1M470.5 120.4h.1M453.4 99.1h.1M452.6 98h.1M454.7 99.1h.1M467.9 101.5h.1M466 99.9h.1M468.2 102.3h.1M424.8 125.6h.1M425.9 126.5h.1M426.7 127.4h.1M480.9 139.9h.1M482.8 139.1h.1M480.8 138.8h.1M432.6 102.4h.1M434.2 102.9h.1M434.4 104.2h.1M464.5 77.2h.1M464.2 78.1h.1M464.8 76.9h.1M434.4 143h.1M433.6 141.9h.1M434.7 143.3h.1M434.8 118.1h.1M436.7 114.7h.1M435.4 115.3h.1M508 99.8h.1M507.4 99.1h.1M507 98.6h.1M476.9 123h.1M476.6 123.8h.1M476.9 123.4h.1M455.5 135.5h.1M455.5 133.5h.1M453 132.8h.1M482.7 128.4h.1M482.5 130.7h.1M485.7 132.2h.1M474.4 129.5h.1M475.2 130.9h.1M475.9 130.3h.1M448 98h.1M449.8 101h.1M447 100.6h.1M477 107.2h.1M476.7 107.5h.1M475.8 107h.1M427.9 144.5h.1M427.6 143.3h.1M426.7 144.7h.1M459.1 81.5h.1M456.9 81h.1M457.2 81.6h.1M508.9 129.1h.1M507.7 128h.1M508.3 127.7h.1M491.5 124.8h.1M492.8 124.7h.1M493.1 123.6h.1M503 106.7h.1M503.1 109.1h.1M503.6 108h.1M495.2 150.8h.1M493.5 149.4h.1M496.1 148.8h.1M505 115.6h.1M507.3 118.8h.1M505.8 116.1h.1M488.6 141.1h.1M485 143.1h.1M487.2 142.3h.1M483.7 102.1h.1M483.3 104.3h.1M483.9 103.2h.1M489.3 107.9h.1M488.3 107.9h.1M489 106.9h.1M498 123.2h.1M498.8 123h.1M498.9 122h.1M479.9 122.9h.1M481.6 122.9h.1M481.6 123.5h.1M470.7 82h.1M470.3 82.8h.1M470.4 83h.1M461.8 84.2h.1M460.3 84.5h.1M464.1 83.1h.1M460.5 86.2h.1M458.2 84h.1M459.3 85.3h.1M477.5 113.2h.1M477.8 114.2h.1M476.6 113.8h.1M426.9 131.2h.1M427.1 133.3h.1M428.3 130.6h.1M508.6 115h.1M508.6 116.1h.1M506 117.6h.1M481.1 85.4h.1M479.5 88.3h.1M481.6 86.2h.1M460.2 109.9h.1M459.9 109.2h.1M460.6 111.3h.1M442.1 141.5h.1M442.5 141.2h.1M440.3 141.5h.1M423.5 112.2h.1M423.1 113.2h.1M425 113.5h.1M435.3 139.8h.1M435.6 139h.1M435.3 136.7h.1M450.2 147h.1M453.2 148.2h.1M450.7 148.9h.1M462.5 105.6h.1M461.5 107.1h.1M463.5 104.9h.1M430.9 109.5h.1M432.7 110h.1M431.9 108.6h.1M481.2 100.4h.1M484 98.3h.1M483.5 98.7h.1M417.1 125.3h.1M416.6 124.4h.1M417.2 125.2h.1M492.6 87.2h.1M492.6 85.7h.1M493 85.9h.1M456.1 131.1h.1M454.8 130.1h.1M456.5 132.7h.1M501.2 101.6h.1M500.6 100.6h.1M501.4 102.7h.1M478.4 135h.1M478.4 134.4h.1M477.7 134.9h.1M467.4 125.3h.1M469.1 125.7h.1M469 126.4h.1M502.8 110.9h.1M501.3 111h.1M502.2 112.7h.1M441.2 93.2h.1M441.6 93.9h.1M442.2 92.7h.1M460.8 88.9h.1M461.5 88.2h.1M463.5 84.7h.1M451.3 93.8h.1M451.4 96h.1M452.7 94.4h.1M419.2 142.9h.1M420.7 142.6h.1M421.2 143.4h.1M460.1 141.9h.1M461.9 142h.1M460.3 142.5h.1M443.5 129.2h.1M446.9 131.2h.1M445.7 128.5h.1M442.9 118h.1M438.8 118h.1M441.3 118h.1M430.6 133.1h.1M430.5 136.3h.1M431.2 136.3h.1M519.9 137h.1M520.1 136.4h.1M519 136.7h.1M489.6 95.5h.1M488.2 95.5h.1M487.2 95.2h.1M486.3 135.9h.1M486.8 135.7h.1M487.1 135.2h.1M485.8 92.6h.1M484.8 91.2h.1M487.3 91.5h.1M431.3 117.3h.1M433 116.9h.1M432.1 115.9h.1M454.6 133.7h.1M454 131.9h.1M453.3 133.6h.1M427.2 142.2h.1M430.6 142.4h.1M429.1 142.6h.1M447.2 127.6h.1M447.1 127.7h.1M448 127.3h.1M479.3 109.3h.1M479.7 108.8h.1M481.7 108.4h.1M446.8 140.6h.1M446.4 141.7h.1M445.7 140h.1M484 90.2h.1M485.2 91.1h.1M484.2 87.8h.1M453.8 124.1h.1M454.6 124.8h.1M452.9 122.5h.1M495.8 152h.1M494.5 151.8h.1M494.3 153.6h.1M471.5 94.5h.1M470.1 94.1h.1M470.7 95.6h.1M449.5 133.4h.1M451.9 136.3h.1M451.3 135.2h.1M485.3 120.9h.1M484.7 122.9h.1M485.6 120.4h.1M499.6 122h.1M500 121.4h.1M500.6 120.4h.1M424.8 129.4h.1M427.3 130.4h.1M425.4 129.8h.1M477.6 129.9h.1M476.6 131.4h.1M478.1 130.3h.1M456.8 115.4h.1M458 116.1h.1M459.4 117.5h.1M454.4 129.7h.1M453.1 128.5h.1M451.2 131.6h.1M441.9 103.2h.1M443.2 103.8h.1M443.9 102.7h.1M437.2 126.2h.1M434.4 125.6h.1M433.4 124.9h.1M446.4 129.7h.1M443.6 128.8h.1M443.5 125.6h.1M495.6 117.7h.1M496.6 119.4h.1M496.4 117.9h.1M427.7 150h.1M426.9 153.6h.1M426.9 151.2h.1M472 116.5h.1M472.2 118.4h.1M471.5 120.1h.1M446.2 118.6h.1M446 118.1h.1M446.5 119.2h.1M501.7 129.5h.1M503.2 130.7h.1M502.5 127.8h.1M457.1 107.2h.1M456.7 108.7h.1M457.6 106.4h.1M460 92.5h.1M457 96.2h.1M458.6 92.5h.1M491.3 119.5h.1M490.9 120.4h.1M489.9 119.4h.1M438.1 110.2h.1M440.3 110h.1M438.2 109.1h.1M462.8 130.4h.1M461.9 131.7h.1M460.7 131.2h.1M433.1 142.5h.1M429.8 144.2h.1M431.5 145.4h.1M518.3 127.2h.1M519.5 125.9h.1M519.4 126.9h.1M444.5 127.1h.1M443.8 126.6h.1M444.7 128.7h.1M500.5 122.3h.1M501.6 120.9h.1M499.4 122.2h.1M464.3 123h.1M461.4 121.8h.1M464.4 124.1h.1M425.8 123h.1M427.3 124.7h.1M425.1 123.4h.1M477.5 146.4h.1M476.2 146.2h.1M479.5 145.5h.1M497.6 96.2h.1M499.4 97.7h.1M498.6 95.4h.1M458.4 120.9h.1M459.9 122.2h.1M457.1 121.5h.1M478.4 119.9h.1M480.6 119.9h.1M479.2 117.5h.1M439.5 148h.1M436 149.2h.1M436.6 150.4h.1M472.2 122.4h.1M473.3 119.3h.1M474.3 122.1h.1M464 93.2h.1M465.4 94.9h.1M465.1 95h.1M494 119.4h.1M493.2 121.1h.1M492.5 117.9h.1M485.9 109.5h.1M484.4 110.3h.1M488.4 111h.1M475.3 80.5h.1M473.3 78.9h.1M475.2 78.1h.1M446.6 115.1h.1M451 114.5h.1M448.6 114.1h.1M450.4 137.3h.1M451.6 139.7h.1M451.9 138.2h.1M489.4 82h.1M486 80.2h.1M490.4 83.9h.1M477.1 122.7h.1M479.7 123.6h.1M480.5 124.2h.1M495.7 110.8h.1M495.6 110.4h.1M493.6 109.9h.1M465.6 91.7h.1M466.3 91.5h.1M467.5 93.3h.1M448 133.1h.1M449.2 135.9h.1M447.6 133.2h.1M425.6 104.6h.1M424.5 106h.1M424 105.9h.1M511.4 120.3h.1M511.2 119.6h.1M512.6 119.2h.1M513.9 124.2h.1M512.6 125h.1M510.2 125h.1M467.4 79.3h.1M469.3 79.3h.1M468.1 80.1h.1M507.9 132.2h.1M508.5 130.8h.1M508.5 132.1h.1M484.1 106h.1M483.9 106.1h.1M482.4 104.4h.1M499.5 127.5h.1M502.9 126.2h.1M499.3 127.3h.1M470.6 102.1h.1M471 103.9h.1M472.8 102.9h.1M472.2 142.7h.1M471.8 142.6h.1M471.7 143.8h.1M481 123.8h.1M479.5 126.2h.1M479.4 124.2h.1M435 104.1h.1M432.3 104.9h.1M433.2 103.7h.1M467 93.5h.1M468.3 91h.1M470 92.4h.1M487.3 112.8h.1M485.9 113.2h.1M486.9 111.9h.1M451 128h.1M447.9 128.4h.1M450 128.2h.1M474.4 123.7h.1M475.4 124.9h.1M475.8 125.5h.1M472.2 94.2h.1M475.1 94.2h.1M471.8 96.9h.1M419.3 149.3h.1M420.4 150.2h.1M420.4 152h.1M465.5 135.5h.1M465.6 135.8h.1M465.1 134.4h.1M496.7 123.9h.1M496.4 125h.1M496.3 126.1h.1M438.5 155.4h.1M439.1 153.5h.1M440.7 157.1h.1M500.3 111.3h.1M500.6 109.2h.1M500.3 109.6h.1M513.1 126.8h.1M516.1 128.4h.1M514.5 129.3h.1M480.9 113.5h.1M482.2 115h.1M482.7 115.6h.1M436.1 137.3h.1M438.2 134.9h.1M435.4 137.3h.1M469.4 87h.1M470.2 87.3h.1M471.1 88.2h.1M434.7 99.9h.1M434.3 99.1h.1M433.2 101.5h.1M455.5 84.7h.1M454.1 83.7h.1M455.5 85.4h.1M494.4 110.3h.1M492.4 109.6h.1M492 109.6h.1M473.8 122.3h.1M473 122.7h.1M473.9 123.2h.1M477.6 103.3h.1M475.7 101.3h.1M477.1 102.5h.1M456.9 132.9h.1M459.5 134.1h.1M458.6 134h.1M444.3 135.1h.1M443.6 136.2h.1M442.5 136h.1M466.9 101.5h.1M465.4 101.2h.1M468 99.4h.1M484.5 104.7h.1M484.9 103.9h.1M485.4 105.5h.1M436.3 126.2h.1M433 128.1h.1M434.9 127.1h.1M493 130h.1M493.3 131.9h.1M491.9 131.9h.1M426.5 126.3h.1M426.5 126.7h.1M426.4 127.7h.1M466.3 87.1h.1M469.3 85.4h.1M467.7 85.9h.1M467.1 88h.1M465.6 90.9h.1M464.5 88.2h.1M443.8 101.5h.1M444.6 101.8h.1M445.4 103.4h.1M434.5 145.8h.1M436.6 144.3h.1M436.9 146.6h.1M492.3 119.7h.1M490.2 120.2h.1M491.5 120h.1M448.8 100.1h.1M448.2 98.4h.1M446.7 97.4h.1M463.2 138.8h.1M464.8 137.6h.1M464.6 139.8h.1M432.2 118.9h.1M433.3 117.8h.1M432.6 116.5h.1M489.6 111.4h.1M489.7 112.2h.1M488.8 111.1h.1M460.8 107.5h.1M460 106.9h.1M459.6 108h.1M446.7 122.2h.1M443.9 122.4h.1M446.8 120.9h.1M472.3 136.8h.1M473.3 136h.1M473.4 133.2h.1M515.7 119.9h.1M515.8 119h.1M518.1 120.6h.1M431.2 125.7h.1M431.5 129h.1M432.9 125.7h.1M472.9 99.8h.1M473.2 100.2h.1M473.7 99.7h.1M456.1 122.3h.1M456.4 122.2h.1M457.6 119.8h.1M447.9 119h.1M446.7 116.4h.1M446.9 116.4h.1M500.5 112.2h.1M499.6 110.4h.1M499.3 112.1h.1M485.7 100.2h.1M484.2 99.5h.1M485.9 100.3h.1M458.2 108.4h.1M459.4 107.5h.1M458.5 108.6h.1M440.3 126.7h.1M440.6 130.8h.1M440.9 127.2h.1M477 140.2h.1M477.7 140.2h.1M475.4 139h.1M454.1 106.8h.1M454.1 107.4h.1M454.2 105.7h.1M439.5 118.7h.1M440 119.4h.1M439.3 119.3h.1M449.3 88.3h.1M448.9 89.8h.1M447.4 86.2h.1M447.3 100h.1M445 99.2h.1M445.9 101.3h.1M446.6 93h.1M448.1 92.9h.1M447.4 95.5h.1M438.3 99.3h.1M438.4 98.2h.1M437.8 97.2h.1M476.9 119.3h.1M478.6 117.1h.1M477.8 118h.1M449.2 127.1h.1M445.8 125.7h.1M448.6 125.4h.1M490 90.4h.1M491.1 92h.1M490.4 91.6h.1M493.5 149.2h.1M493.8 148.8h.1M492.4 146.1h.1M467 96.5h.1M464.5 96.4h.1M465.5 94.6h.1M432.2 146.3h.1M431.8 147.4h.1M434.5 147.2h.1M465.3 89.9h.1M467.8 89.8h.1M466.9 88.4h.1M448.7 90.2h.1M449.5 91.6h.1M451.4 93.6h.1M513.3 140.1h.1M515.2 141.5h.1M514.9 138.9h.1M492.4 154.6h.1M494.3 156.4h.1M493.2 155.5h.1M434.4 102.7h.1M435.5 102.3h.1M435.1 103.3h.1M449.9 127.2h.1M451 126.4h.1M451.6 125.1h.1M450.7 90.5h.1M450.9 87.5h.1M451.2 89h.1M470.4 87.3h.1M472.1 84.2h.1M474.6 86.5h.1M438.4 106.6h.1M439.4 108.9h.1M438.7 107.9h.1M489.8 86.5h.1M491.4 88.6h.1M490.8 86.4h.1M470.9 136h.1M471.9 135.3h.1M470.8 137h.1M483.3 140.2h.1M482.3 142.8h.1M486.7 140.8h.1M479.5 105.3h.1M480.6 103.9h.1M479.8 104.6h.1M442.5 95.3h.1M445 97.2h.1M442 95.2h.1M495.5 127.3h.1M496 127.5h.1M493.7 128h.1M479.6 141.6h.1M478.4 141.6h.1M481.3 140.4h.1M455.6 139.1h.1M457.1 139.9h.1M456.5 140.1h.1M434.5 129.9h.1M435.5 131.5h.1M434.4 130.9h.1M455.1 131.6h.1M454.7 130.1h.1M456 129h.1M471.5 129h.1M472.5 127.5h.1M471.6 128.1h.1M495.1 146h.1M493.2 147.2h.1M494.7 148.1h.1M510.1 103.5h.1M510.9 103.6h.1M511.7 105.4h.1M431.5 142.3h.1M431.7 142.7h.1M433.1 144.1h.1M462.2 128.7h.1M457.8 132.5h.1M461.1 129.6h.1M491.4 125.1h.1M492.9 124.2h.1M492.7 124.4h.1M479.2 145.6h.1M476.4 144h.1M478.2 145h.1M487.7 123.8h.1M488.4 121.8h.1M487.9 121.6h.1M507.1 110.3h.1M507.6 109.4h.1M509.8 107.8h.1M441.9 138.3h.1M442.5 140.7h.1M445 138.2h.1M462.2 82.1h.1M461 83.8h.1M464.3 82h.1M449.9 110.6h.1M452.6 108.9h.1M450.2 111.1h.1M451.4 96.9h.1M454.2 97.7h.1M451.9 98.7h.1M488.7 123.6h.1M488.4 120.2h.1M488.8 121.1h.1M426.9 123.7h.1M426 124.9h.1M427.1 125h.1M471.3 98.7h.1M472.4 99.1h.1M473.2 97.2h.1M446.8 125.8h.1M446.3 123.7h.1M445.6 125.1h.1M441.1 143.1h.1M440.1 143.1h.1M440.2 143.7h.1M513.2 126h.1M513 125.6h.1M512 126h.1M466.6 144.3h.1M466.7 144.6h.1M466.4 145h.1M436.2 110.8h.1M438 109.8h.1M436.9 112.1h.1M433.7 89.4h.1M432.6 91.8h.1M434.5 89.7h.1M475.5 96.3h.1M477.1 96.9h.1M480.3 96.5h.1M500.8 102.4h.1M501.4 101.8h.1M502.2 101.2h.1M439.5 146.4h.1M438.7 143.9h.1M437.6 144h.1M435.9 108.5h.1M435.2 108.9h.1M435.6 107.2h.1M505.6 104.9h.1M507 105.5h.1M506.9 102.8h.1M423.3 104h.1M422 104.6h.1M423.6 105.9h.1M481.2 110h.1M481.2 107.2h.1M481.6 107.8h.1M463 121.7h.1M463.7 122.6h.1M461.6 121.1h.1M480.5 121h.1M478.1 120.4h.1M479.6 120.9h.1M493.7 132.5h.1M491 133.6h.1M493.1 133.2h.1M484.4 124.5h.1M485.1 124.7h.1M485.5 123.8h.1M489.3 156.3h.1M485.9 157.2h.1M487.6 156.6h.1M439.6 95h.1M439.2 93h.1M437.7 94.9h.1M480.8 147.7h.1M482.2 147.8h.1M482.1 146.8h.1M462.7 94.3h.1M461.5 95h.1M463.2 96.4h.1M496.3 139.8h.1M494.1 141.7h.1M494.9 140h.1M449.3 129.1h.1M447.9 128.4h.1M448.6 130.1h.1M499.8 123.7h.1M498.8 126.1h.1M496 124.9h.1M490.2 139.5h.1M490.1 140.3h.1M492.4 138.3h.1M484.1 132.6h.1M485.1 133.4h.1M484.8 134.7h.1M493.4 121.8h.1M493.8 123.4h.1M496 120.7h.1M435.1 126.6h.1M436.7 125.2h.1M435.7 125.2h.1M486.4 128.6h.1M488.6 125.2h.1M488.6 127.8h.1M487.1 97h.1M487.7 97h.1M487.6 99.3h.1M497.7 110.8h.1M497.2 110.8h.1M497.8 112.8h.1M478.5 112h.1M476.1 112h.1M477.1 111.4h.1M428.8 97.5h.1M427.6 97.3h.1M427.2 95.2h.1M433 151.4h.1M435.9 153.7h.1M433.8 152.2h.1M425 120.2h.1M426.5 117h.1M424.3 119.7h.1M447.3 142.9h.1M446.3 141.3h.1M446 140.1h.1M503.8 109.4h.1M504.7 109.8h.1M503.2 111.8h.1M469 121h.1M468.7 120.3h.1M469.8 118.7h.1M445.1 120.4h.1M448.3 123.4h.1M445.4 120.7h.1M445 112.2h.1M446 113.6h.1M446 112.9h.1M498.8 137.9h.1M499.1 137h.1M500 135.8h.1M426.8 127.7h.1M428.3 126.4h.1M429.7 128.5h.1M421.8 125.2h.1M421.7 126.1h.1M422.3 127.3h.1M448.2 144.4h.1M449.4 146h.1M448.6 145.6h.1M441.2 102h.1M442.8 101.3h.1M442.1 101h.1M475.4 132.6h.1M476.5 130h.1M475.1 131.7h.1M455.8 130.3h.1M455.4 130.8h.1M454.9 129h.1M460.6 128.3h.1M463.7 126.1h.1M462.4 125.2h.1M520.5 127.8h.1M520.9 126.9h.1M520.9 125.3h.1M509.1 133.8h.1M509.6 135.1h.1M511.1 132.5h.1M430.5 149.3h.1M430.5 147.8h.1M430.4 147.4h.1M418.6 144.7h.1M419.8 144.5h.1M418.1 145.1h.1M445.7 150.4h.1M445.2 146.2h.1M446 149h.1M447.8 130h.1M447.9 133.4h.1M446.1 130.6h.1M453.1 95.6h.1M454 96.1h.1M452.1 95h.1M463.5 123.9h.1M462 125.5h.1M463.5 125.7h.1M502.7 124.6h.1M503.8 123.8h.1M502.3 125h.1M453.6 133.9h.1M453.4 133.8h.1M453.9 136.7h.1M426.1 114.9h.1M427.1 115h.1M427.6 115.2h.1M447.2 149.4h.1M446.6 151.4h.1M448.6 150.9h.1M480.2 136h.1M480.2 137.4h.1M481.7 135h.1M456.4 104.3h.1M454 104.8h.1M454.7 102.7h.1M465.4 145.1h.1M465.9 144.1h.1M465.7 144h.1M481.2 117.3h.1M483.9 118.3h.1M481.4 116.8h.1M458.1 123.3h.1M457.5 122.4h.1M455.4 122.5h.1M445.8 123.4h.1M447.6 124.1h.1M448 123.1h.1M459.8 96h.1M462.5 96h.1M459.9 97.6h.1M458.1 89.3h.1M460.1 85.9h.1M458.7 86.8h.1M452.4 125.4h.1M452.9 128.2h.1M453.2 126.6h.1M467.3 123.9h.1M468.2 123.1h.1M468.2 122.2h.1M445.9 131.7h.1M445.4 130.9h.1M449 131.1h.1M467.9 132h.1M469.9 130.4h.1M468.8 132.2h.1M464 144.7h.1M462.7 143.1h.1M463 144.5h.1M503.2 96.6h.1M502.2 101.3h.1M501.5 99.9h.1M430.6 139.2h.1M432.9 140h.1M430.7 139.2h.1M507.6 115h.1M508.3 114.5h.1M510.8 114.3h.1M487.9 114.7h.1M488.5 115h.1M487.9 116.3h.1M431.6 98.9h.1M433.3 100.1h.1M432.7 98.3h.1M432.1 127.7h.1M430.9 128.1h.1M431.9 128.2h.1M483.9 128.5h.1M485.3 132h.1M484.2 132.1h.1M449 103h.1M449.3 102.6h.1M450.9 100.9h.1M428 118.9h.1M428.1 120.6h.1M426.9 119.5h.1M462.1 109.1h.1M460.3 109.6h.1M462 109.5h.1M476.9 124.2h.1M477.3 126.1h.1M476 123.2h.1M461.2 145.2h.1M466.9 145.7h.1M464.3 145.5h.1M436.8 131.3h.1M436 132.9h.1M435.1 131.5h.1M488.9 140.5h.1M487.7 142.2h.1M488.7 138.5h.1M481.5 91.3h.1M481.7 91.7h.1M481.9 88.7h.1M477.2 133.9h.1M476.6 133.1h.1M477.5 133.8h.1M479.9 114.8h.1M480.1 115.9h.1M480.8 114.2h.1M434.8 131.5h.1M433.9 133.7h.1M437.4 132.7h.1M483.3 120.8h.1M481.1 120.3h.1M481.4 121.7h.1M468.9 93.9h.1M470.2 92.8h.1M470.8 93.7h.1M495.7 109.8h.1M496.2 108.9h.1M496.1 110h.1M431 140.5h.1M431.4 142.9h.1M429.9 140.9h.1M500.5 143.1h.1M501.1 143.7h.1M502.6 143.1h.1M485.2 80.9h.1M486.2 82.3h.1M485.3 83.3h.1M480.7 124.3h.1M482.3 124.1h.1M480.9 124h.1M472.1 126.7h.1M472.5 129.5h.1M469.5 130.9h.1M429.8 109.9h.1M429.8 111.2h.1M429.3 111.5h.1M439.4 116.7h.1M439.6 116.7h.1M441 117.8h.1M469.2 114h.1M468.8 114.1h.1M468.8 114h.1M506 116.2h.1M506.5 119h.1M507.4 115.1h.1M508.2 147.4h.1M506.4 149.2h.1M505.8 148.3h.1M472.8 133.7h.1M471.5 131.7h.1M470.7 133.8h.1M461 135.9h.1M460 137.4h.1M457.3 136.7h.1M462.4 95.5h.1M461.5 96.8h.1M461.6 95.3h.1M494.2 148.9h.1M491.8 146.3h.1M491.7 146.7h.1M445.9 127.3h.1M446 126.2h.1M446.7 126.5h.1M492.9 126.5h.1M494.5 126h.1M493.6 124.8h.1M486.8 141.3h.1M485.1 141h.1M485.6 139.2h.1M503 124h.1M503.1 124.7h.1M501.9 123.9h.1M473.5 95.8h.1M471.3 94.8h.1M472.6 94.4h.1M466.4 130.7h.1M467.8 129.8h.1M464.9 129.5h.1M456.2 124.3h.1M457.4 124h.1M456.5 124.4h.1M449.2 106.2h.1M448.4 107h.1M449.3 105.4h.1M420.3 132.6h.1M420 133.8h.1M421.3 134h.1M508.2 149.2h.1M506.9 146.8h.1M508.9 149.1h.1M428.1 124.6h.1M429.3 125h.1M429.4 124.8h.1M506.7 113.4h.1M506.2 114h.1M506.6 115.9h.1M479.2 136.7h.1M478.7 138.2h.1M479.1 137.8h.1M506.9 126.1h.1M508.5 125.6h.1M509.4 125h.1M477 91.9h.1M474.3 92.1h.1M476.2 92.2h.1M436.4 146.8h.1M432.7 145.7h.1M435 147.6h.1M494 142.9h.1M494.5 143.2h.1M492.6 141.8h.1M502.3 123.4h.1M503.1 122.1h.1M502.4 123.7h.1M485.3 95.9h.1M488 96.2h.1M486.6 98.2h.1M503.7 108.7h.1M502.7 108.5h.1M502.8 110.4h.1M488.1 145.7h.1M488.7 144.9h.1M491.1 148.6h.1M494.4 122.3h.1M492.9 123.2h.1M494.3 124h.1M480.7 114.2h.1M483.6 112.4h.1M483.7 114.7h.1M510.5 109.5h.1M510.2 105.8h.1M508.3 107.1h.1M502.3 110.1h.1M501.5 109h.1M501.3 110.3h.1M483.1 129h.1M485.2 130.4h.1M483.8 131.2h.1M487.5 118.8h.1M487.4 117.1h.1M484.7 117.4h.1M489.6 77.1h.1M486.8 78.3h.1M488.9 77h.1M463.5 81.9h.1M466.1 82.7h.1M463.9 80.9h.1M468.9 124.3h.1M468 122.8h.1M468.8 124.5h.1M488.7 146.4h.1M488.7 146.2h.1M487.6 145.9h.1M441.5 132.3h.1M440.6 135h.1M439.6 134.4h.1M505.1 108.5h.1M506.7 108.6h.1M506.5 107.8h.1M466.9 137.7h.1M467.5 135.8h.1M469.1 136.3h.1M471.2 99.8h.1M472.6 99.5h.1M471.6 99.9h.1M511 117.2h.1M511.2 118.6h.1M511.8 117.6h.1M454.4 143.5h.1M455.5 144.9h.1M455.7 146h.1M502.4 111.3h.1M501.8 110.1h.1M502.2 111.5h.1M460.5 116.5h.1M460.4 116.4h.1M463.9 116.3h.1M432.4 90.1h.1M429.4 90.6h.1M431.6 88h.1M443.5 149.3h.1M441.5 151.1h.1M441.9 150h.1M438.6 108.4h.1M440.6 110.9h.1M439.9 111.2h.1M413.7 135.8h.1M416.1 134.6h.1M416 134.9h.1M434 141.2h.1M432.9 142.8h.1M433.6 144.1h.1M452.9 122.9h.1M451.3 121.1h.1M451.1 121.6h.1M443.2 117.8h.1M443.1 119.3h.1M444.6 118.3h.1M474.2 85h.1M476.7 86.1h.1M474.9 86.4h.1M436.4 135h.1M436.6 137.1h.1M435.9 134.5h.1M437.1 108.7h.1M437.2 109.8h.1M436.7 108.7h.1M434.5 117.4h.1M435.1 119.2h.1M434.1 118.8h.1M484.4 140.9h.1M486.2 143.6h.1M486.2 142.7h.1M427.7 122.7h.1M427.2 124.5h.1M427.4 122.4h.1M463.2 136.4h.1M465.4 138.2h.1M466 140h.1M500.2 114.1h.1M499 115.3h.1M497.7 117h.1M433.8 128.3h.1M432.6 126.5h.1M433.6 126.4h.1M477.2 130.1h.1M477.2 128.3h.1M476 129.4h.1M486.5 129.6h.1M485.7 130.7h.1M486 129.1h.1M462.4 128.8h.1M461.3 132.8h.1M463.1 131.8h.1M468.1 132.9h.1M465.4 131.1h.1M466.1 131.1h.1M440.7 131.4h.1M442 132.5h.1M439.4 130.7h.1M452.4 115.1h.1M450.3 113.8h.1M451 113.6h.1M508.5 142.7h.1M508.2 144h.1M511.3 143.1h.1M493.2 145.8h.1M492.7 145.2h.1M491.6 144.7h.1M445.4 135.7h.1M446.6 135.8h.1M445.2 134.1h.1M431.2 114.3h.1M429.6 117.2h.1M430.6 118.2h.1M443.9 130.8h.1M443.7 131.1h.1M444.8 129.1h.1M471.8 125.7h.1M472.2 126.5h.1M471.1 127.8h.1M497.9 131h.1M498.1 129.6h.1M494.8 131.5h.1M502.6 100.5h.1M501.4 99.2h.1M501.1 101.5h.1M472.8 141.2h.1M474 141.8h.1M471.5 143.4h.1M431.8 136.7h.1M431.7 136.6h.1M432.1 139.2h.1M476.2 116.9h.1M474.4 114.1h.1M473.7 114.2h.1M487 132.6h.1M486.7 135.2h.1M485.4 133.8h.1M493.1 98.1h.1M494.1 98.5h.1M492.9 98.6h.1M510.9 134.4h.1M509.4 133.1h.1M509.2 131.3h.1M487.3 92h.1M485.1 92.8h.1M486.1 92.3h.1M454.9 128.6h.1M457.2 128.1h.1M456 127.8h.1M437.6 111.1h.1M439.6 112.7h.1M438.7 113.8h.1M438.6 110.8h.1M439.1 115.4h.1M437.1 113.7h.1M459.7 104.3h.1M457.7 102.8h.1M459 102.4h.1M444 124.9h.1M444.8 125h.1M444.6 125.1h.1M447.3 131.7h.1M445 130.3h.1M445.6 131h.1M456 151.9h.1M456.8 150.6h.1M455.2 149.5h.1M473.7 144.7h.1M473.9 145.5h.1M472.8 145.6h.1M471.9 116.5h.1M474.2 115.9h.1M473.1 114.6h.1M473.2 121.6h.1M474.9 124.2h.1M474.8 123.8h.1M482.5 134.9h.1M481.5 134.3h.1M481.5 133h.1M497.6 122.5h.1M499.2 123.9h.1M498.6 121.9h.1M498.4 110.6h.1M501.1 112h.1M499.3 113.6h.1M450.4 147h.1M452.8 146.9h.1M451.3 150.5h.1M460.7 147.3h.1M461.6 146.8h.1M459.6 147.4h.1M488.4 129.6h.1M488.9 130.3h.1M488.7 132h.1M480.1 132h.1M479.7 133.3h.1M480.9 134h.1M517.3 136.2h.1M516.1 135.4h.1M517.1 135.7h.1M484 89.2h.1M482.8 91.8h.1M482.9 91.2h.1M454.8 138.9h.1M457.1 137.3h.1M454.9 136.9h.1M465.1 110.7h.1M467.5 112h.1M465.3 113.1h.1M467.7 99.2h.1M466.9 100.3h.1M467.6 100.6h.1M512 108.8h.1M510.7 106.1h.1M511.3 109.3h.1M512.5 137.1h.1M513.6 133.2h.1M513.6 135.5h.1M502 137.4h.1M502.6 138.5h.1M505.5 137.5h.1M443 128h.1M443.9 127.1h.1M443.7 128.8h.1M451.5 128.6h.1M452.6 128.5h.1M454.8 128.1h.1M450.5 80.3h.1M449.2 79.5h.1M449.5 79.8h.1M500.9 135.2h.1M498.7 135.8h.1M501.6 136.2h.1M457.8 145.7h.1M460.2 145.2h.1M459 146.1h.1M433 141.2h.1M434 143.9h.1M434.6 142.7h.1M455 137.2h.1M453.6 133.5h.1M452.8 135.6h.1M459.8 123h.1M458.9 123.1h.1M456.9 124.7h.1M444.4 128.7h.1M443.2 126h.1M443 127.5h.1M467.8 141.9h.1M467.3 144.8h.1M466.3 143h.1M486.7 95h.1M485.8 100.1h.1M486.1 98.8h.1M448 120.8h.1M447.5 122.7h.1M445.3 123.1h.1M455.1 139.5h.1M455 139.6h.1M455.2 139.6h.1M427.8 129.6h.1M431.5 130.8h.1M430.7 130.1h.1M453.9 120.7h.1M454.5 121.4h.1M452.5 120.7h.1M495.1 112.1h.1M496.9 111.8h.1M493.7 112.5h.1M516.6 145.5h.1M518.8 144.6h.1M518.8 144.6h.1M466.6 84.7h.1M466.8 83.9h.1M466.2 83.1h.1M455.4 126.3h.1M455.6 129.2h.1M455.3 129.7h.1M486.9 99.4h.1M484.7 97.6h.1M485 96h.1M486.5 138.5h.1M486.1 138.3h.1M485.9 138.2h.1M427.4 135.8h.1M427.9 137h.1M427.7 137.7h.1M451.4 139.3h.1M449.1 137.5h.1M451 137h.1M459.1 127.4h.1M459.1 127.4h.1M459.7 127.7h.1M487.5 108.5h.1M488.4 107.8h.1M486.6 108.3h.1M451.4 92.7h.1M453.8 91.1h.1M449.9 89.8h.1M449.2 116.4h.1M451.1 114.6h.1M452.1 112.1h.1M475.9 143.7h.1M476 142.1h.1M477 143.6h.1M479.5 115h.1M478.9 112.5h.1M477.5 115.1h.1M476.6 122.2h.1M474.8 125.7h.1M475.2 122.3h.1M499.7 97.4h.1M497.5 98.9h.1M498.2 99.1h.1M455.9 93.9h.1M453.7 97.4h.1M453.6 97h.1M443.3 138.1h.1M447.3 138.2h.1M443.2 136.1h.1M446.1 105.6h.1M448.6 107.1h.1M446.4 109.7h.1M465.1 135.2h.1M462.6 136.5h.1M463.1 137.4h.1M475.2 141.1h.1M475.1 140.8h.1M474.1 139.8h.1M498.2 94.5h.1M498.8 95.6h.1M496 93.7h.1M444 122.7h.1M447.4 121.9h.1M446.4 121.7h.1M506.1 118.4h.1M504.8 120.4h.1M505.8 120.2h.1M469.4 86h.1M468.9 86h.1M469.9 86.8h.1M493.2 106.6h.1M494.1 108.1h.1M493.7 106.7h.1M440.2 137.4h.1M438.9 137.1h.1M437.9 137.4h.1M494.9 121.2h.1M495 121.5h.1M495.6 122.1h.1M502.2 106.3h.1M502.7 106h.1M502.1 106.7h.1M485.2 135.5h.1M484 137.2h.1M484.3 136.6h.1M475.9 98.8h.1M478.3 97.5h.1M477.2 97.8h.1M448.1 118.9h.1M449.2 117.8h.1M447.3 118.8h.1M444.4 86.3h.1M442.4 87.6h.1M444.6 85.6h.1M427.7 134.1h.1M428 134.9h.1M429.6 133.2h.1M514.1 118.2h.1M514.1 120.4h.1M514.2 121.1h.1M460.8 102.3h.1M459.4 103.7h.1M461.1 104.7h.1M510.4 135.4h.1M511.6 136.4h.1M510.4 136.8h.1M470.8 108.5h.1M470.9 108.6h.1M470.7 106.8h.1M451.1 134.9h.1M452.6 134.4h.1M450.8 132.9h.1M482 132h.1M484.2 129.6h.1M486.6 130.3h.1M495.5 113.5h.1M495.4 113.5h.1M494.6 112.6h.1M497.7 118.2h.1M497.4 119.9h.1M497.8 118.1h.1M483 128.7h.1M481.4 130.1h.1M483.3 129.1h.1M443.8 134.3h.1M444.6 134.8h.1M446.2 134h.1M505.2 126.1h.1M502.5 125.6h.1M503.6 127.7h.1M465.4 127h.1M465 126.8h.1M465.8 127.3h.1M463.3 93.4h.1M462 93.3h.1M463 93.6h.1M454.2 132.4h.1M455.2 129.4h.1M456.2 131h.1M471.9 117h.1M472.6 117.1h.1M469.8 117.3h.1M470.8 114.4h.1M470.2 113.5h.1M471.2 115.8h.1M456.9 118.3h.1M454.9 115.6h.1M456.8 118.1h.1M437.8 140.8h.1M439.6 141.5h.1M437.1 141.4h.1M449.4 129.5h.1M447.8 133.3h.1M448.3 132.7h.1M446.2 105.5h.1M448.8 106h.1M444.2 106.8h.1M450 111.5h.1M453.2 113.6h.1M453.2 110h.1M496.4 112.9h.1M496.4 113.5h.1M497.1 111h.1M470.5 113.5h.1M472.6 114.3h.1M475.9 116.4h.1M444.7 120h.1M445.2 123h.1M445.4 120.3h.1M487.8 123.1h.1M483.8 120.4h.1M486.8 123.8h.1M466.9 100.2h.1M467.3 100.2h.1M465.8 98.1h.1M441.7 145.7h.1M443.5 148.3h.1M440.6 148.6h.1M486.7 131.5h.1M485.2 132.2h.1M485.9 132.1h.1M428.8 126.2h.1M425.5 125.6h.1M424.7 124.6h.1M453 129.1h.1M451.5 126.9h.1M451.9 128.5h.1M487.6 114h.1M486.1 114.8h.1M487 113.5h.1M481.9 132h.1M482.5 131.7h.1M480.4 134.7h.1M465.6 128.1h.1M466.2 128.4h.1M465.1 128.4h.1M435.5 116.3h.1M436.2 115.7h.1M436.1 115.5h.1M471.2 127.3h.1M471.6 127.4h.1M469.9 126h.1M500.8 91.3h.1M502.5 92h.1M499.2 92.8h.1M485.1 134h.1M485.5 134.5h.1M485.8 133.1h.1M463.5 122.6h.1M463.2 123.2h.1M465.1 124h.1M496.6 97.1h.1M498 95.5h.1M495.5 96.4h.1M451.8 119.1h.1M452.1 119h.1M450.3 118.4h.1M459 109.5h.1M456.1 110h.1M459 108.9h.1M426.2 125.4h.1M425.4 124.7h.1M424.8 125.7h.1M458.1 127.2h.1M457.1 127.5h.1M457.2 127.3h.1M496.5 106.1h.1M499.9 106.2h.1M496.6 106.8h.1M475.1 82.9h.1M477 82.7h.1M476.9 83.2h.1M483.2 142h.1M484.7 142.3h.1M483.8 142.2h.1M463.5 94.3h.1M462.9 97.1h.1M461.9 95h.1M455.8 123.2h.1M457.2 125.3h.1M457.2 125.9h.1M493.1 141.6h.1M491.4 139.8h.1M491.1 142.9h.1M477.4 126.1h.1M475.7 130.4h.1M475.2 129.1h.1M499.6 83.4h.1M498.9 82.3h.1M499.7 81.9h.1M462 103.9h.1M461.8 107h.1M460.4 105h.1M426.4 116.7h.1M426.3 114.9h.1M427.2 115.6h.1M479.1 106.1h.1M478.9 108.3h.1M481.1 105h.1M497.5 91.8h.1M498.2 92.3h.1M499.1 90.1h.1M452.2 89.3h.1M454.9 89.6h.1M454.1 91.1h.1M491.3 121.2h.1M489.9 122.5h.1M491.4 121.6h.1M424.9 149.2h.1M427.4 145.3h.1M425 145.2h.1M481.4 141.6h.1M479.6 141.6h.1M480.3 140.3h.1M451.1 149.6h.1M450.3 147h.1M448.4 147.6h.1M450.5 127.4h.1M453.4 125.8h.1M453.9 125.1h.1M495.3 110.6h.1M493.7 109.8h.1M492.8 108.7h.1M450.4 101.3h.1M450.8 98.2h.1M451.6 100.8h.1M451.1 143.8h.1M448.3 143h.1M448.6 145.4h.1M510.6 150.3h.1M507.7 150.1h.1M511.9 148h.1M434.4 127.6h.1M435.3 130.4h.1M432.3 129.5h.1M476.7 115.9h.1M476 113.8h.1M474.2 111.7h.1M454.9 111.7h.1M458.2 112.7h.1M454 112.1h.1M457.2 147.4h.1M457.7 148.4h.1M459 146.9h.1M439.9 124h.1M439.9 125.2h.1M441.2 124.5h.1M491.1 138.7h.1M491 139.1h.1M490.4 137.7h.1M460 127.9h.1M459 128.2h.1M461.1 129.6h.1M497 150.1h.1M499 149.1h.1M498 151.5h.1M468.2 127.9h.1M464.6 131.6h.1M467.1 128h.1M496.1 118.1h.1M497.8 119.7h.1M497.7 119h.1M515.4 124.6h.1M514.8 123.9h.1M515.2 122.8h.1M462.8 76.7h.1M462.7 77.2h.1M461.2 76.2h.1M423.3 123.4h.1M424.7 125.6h.1M424.6 125.5h.1M428.8 117.2h.1M428.9 118h.1M430.4 118h.1M458.1 103.1h.1M457.8 103.1h.1M454.7 101.7h.1M477.6 125.4h.1M480.7 125h.1M479 127.5h.1M435.3 129.9h.1M433.9 128.7h.1M434.2 130.1h.1M494.5 108.7h.1M495.5 104.8h.1M493.4 105.6h.1M462.9 97.4h.1M462.6 94.4h.1M463.5 98.4h.1M442.3 112.9h.1M442.4 113.4h.1M440.3 113.2h.1M417.4 126.2h.1M417.2 126.1h.1M418.1 129.1h.1M485.1 132.7h.1M487.5 133.1h.1M486.7 131.6h.1M489.4 136.2h.1M489.2 138.6h.1M489.2 136h.1M488.3 147.1h.1M487.2 148h.1M487.4 147h.1M452.5 104.7h.1M449.8 103.2h.1M450.8 103.7h.1M450.7 116.4h.1M448.6 119.5h.1M452.2 118.3h.1M453.1 106.8h.1M452.6 105.5h.1M453.5 108.3h.1M423.1 146.8h.1M422.9 148h.1M425.3 146.5h.1M498.2 133.9h.1M497.9 135.2h.1M499 133.5h.1M501.3 120h.1M501.6 118.7h.1M500.8 119.4h.1M448.7 121.8h.1M446.7 119.9h.1M445 121.6h.1M459.8 131.9h.1M462 129.3h.1M460 130.9h.1M441.8 131.2h.1M444.7 130.7h.1M444.6 132.8h.1M439.5 96.1h.1M439.3 97.6h.1M438.9 96.9h.1M514 135.4h.1M514 133.4h.1M513.7 136.9h.1M453.6 94.4h.1M453 93.1h.1M452.6 92.8h.1M435.8 140.3h.1M437.8 138.8h.1M436.8 137.4h.1M415.4 132.9h.1M416.6 131.5h.1M415.8 132.7h.1M450 130.2h.1M449.5 131.3h.1M450.1 130.4h.1M450.3 120h.1M451.5 119.9h.1M453 120.7h.1M452.6 118.4h.1M450.5 118.9h.1M449.2 116.1h.1M442.7 117.6h.1M444.2 117.4h.1M443.7 118.1h.1M507.6 141.2h.1M507.9 142.3h.1M508.3 139.7h.1M490.3 132.2h.1M490.2 133.5h.1M489.8 131.4h.1M490.8 106.6h.1M491.4 109.9h.1M491.4 108.2h.1M433.9 141.8h.1M433.4 140.5h.1M435.7 139.4h.1M474.9 134.3h.1M474.1 133.5h.1M474.2 133.5h.1M442.1 147.7h.1M443.3 146.6h.1M443 147.6h.1M487 90.9h.1M488.7 93.5h.1M488.1 93h.1M453.3 121.8h.1M453.3 121.8h.1M453.7 120.3h.1M482.3 125.4h.1M480.3 126.1h.1M482.1 125.5h.1M512 128.6h.1M512.5 128.5h.1M512.1 129.1h.1M451 145.4h.1M450.3 144h.1M448.3 143.8h.1M446.8 94.3h.1M445.9 94.1h.1M446 95.2h.1M451.6 133.2h.1M456.7 133.3h.1M452.9 133.6h.1M481.3 115.1h.1M483.1 115.8h.1M483.4 113.5h.1M425.7 139.9h.1M426.9 140h.1M429.8 138.5h.1M498.7 100.4h.1M497.7 103.7h.1M497.4 103.3h.1M427.1 118.2h.1M426.3 120h.1M425.3 120.2h.1M446.2 131.8h.1M446.5 131h.1M446.4 130.9h.1M493.9 115.7h.1M491.3 118.8h.1M492.4 116.1h.1M451.8 131.7h.1M450.6 134.1h.1M451.7 130.7h.1M494.5 129.4h.1M494.2 128.6h.1M493.6 129.9h.1M486.3 128.9h.1M487.5 130.2h.1M487.1 128.2h.1M473.7 141h.1M474 139.8h.1M473.3 140.8h.1M471.1 80.1h.1M469.7 79.7h.1M471.5 81.6h.1M426.9 151.4h.1M424.9 150.9h.1M425.6 151.2h.1M470.3 98.9h.1M468.1 98.5h.1M471.2 98.8h.1M498.9 148.9h.1M500.6 146.3h.1M501.5 147.8h.1M462.3 102.4h.1M462.8 102.6h.1M461.2 102.4h.1M513.6 138.4h.1M512.5 138h.1M513.6 138.2h.1M430.9 90.7h.1M430.7 89.3h.1M432.5 89.8h.1M444 145.7h.1M446 146.6h.1M446.3 146.5h.1M476.5 94.1h.1M476 93h.1M475.8 95.2h.1M498.8 101.4h.1M497.9 100.2h.1M498.8 98.9h.1M454.9 122.1h.1M455.7 121.5h.1M454.7 118.4h.1M434.5 135.4h.1M434.4 136.2h.1M437.8 136.3h.1M490.2 112.4h.1M491.6 111.6h.1M492 111.8h.1M460.4 108.3h.1M458.4 106.5h.1M460.9 108.9h.1M446.2 94.8h.1M445.6 97.5h.1M443 93.5h.1M497.9 138h.1M497.8 138.1h.1M497 137.8h.1M440.4 124h.1M438.3 125.1h.1M438.3 124.2h.1M458.5 125h.1M458.2 125.8h.1M458.6 126.9h.1M459.3 95.8h.1M462.1 95.7h.1M458.1 96.6h.1M429 100.8h.1M427.9 99.3h.1M427.9 101h.1M423 129.3h.1M421.1 126.7h.1M422.2 128.6h.1M505.6 120.3h.1M505.4 118.5h.1M507.2 119.7h.1M485.6 141.1h.1M487.2 140.9h.1M485.2 142.4h.1M479.2 79.2h.1M477.8 79h.1M477.5 81h.1M429.7 122.5h.1M430.4 124h.1M429.2 122.9h.1M454 143.2h.1M457 142.5h.1M454.4 142.3h.1M502.3 104.9h.1M504 103.1h.1M503.7 104.6h.1M497.8 124.3h.1M496.7 125.2h.1M497.1 125.5h.1M446.9 119.5h.1M446.9 119.5h.1M447.6 119.7h.1M500.9 116.2h.1M503.9 114.4h.1M499.4 115.2h.1M510 117.5h.1M510.2 118.1h.1M509.7 119.1h.1M461.3 119.6h.1M460.8 119.7h.1M460.9 118.5h.1M436.5 123h.1M437 124.4h.1M435.7 123.8h.1M513.7 123.7h.1M518.1 123.1h.1M514.4 122.9h.1M437 91.9h.1M436.5 91.6h.1M437.3 90.7h.1M454.6 130.8h.1M456.4 130h.1M453.5 130.4h.1M439.1 119.6h.1M438.1 118.5h.1M438.1 118.7h.1M495.8 103.1h.1M493.9 103.4h.1M497.8 104.1h.1M448.5 113.1h.1M447.7 113h.1M449.7 113.4h.1M437.8 120.7h.1M438.9 119.2h.1M437.4 120.5h.1M447.4 117.7h.1M445.4 118.4h.1M448.2 118.4h.1M458.8 143.6h.1M454 141.9h.1M456.1 140.8h.1M425.4 133.9h.1M425.5 133.9h.1M425.3 132.9h.1M441.5 117.1h.1M441.1 117.4h.1M438.9 118.1h.1M491 123.6h.1M491.4 122.5h.1M492.4 121h.1M450.9 96.7h.1M451.1 94.5h.1M453.2 96.7h.1M442.3 135.5h.1M441.1 137.3h.1M440.6 135.1h.1M478.5 103.5h.1M478.3 101.6h.1M476.1 102.6h.1M461.2 138.6h.1M460 138h.1M460.6 136.8h.1M419.8 138.6h.1M417.4 137.8h.1M419.2 137h.1M456.4 140h.1M456.2 138.9h.1M455.7 138.4h.1M434.6 96.2h.1M435 94.2h.1M433.5 93.6h.1M474.3 85.1h.1M477.3 86.7h.1M474.7 85.8h.1M461.2 117h.1M461.2 117.9h.1M463.4 118.1h.1M439.3 148.6h.1M440.9 146.4h.1M440.9 145h.1M450.7 129.7h.1M447.8 129.6h.1M450.1 127.1h.1M430.4 108.1h.1M433.2 109.7h.1M430.8 107.9h.1M467.5 82.6h.1M466.9 79.7h.1M469.6 82.5h.1M486.1 81.3h.1M486.3 81.1h.1M486.9 82h.1M431.7 139.4h.1M431.8 139.4h.1M433.2 139.6h.1M507.2 125.4h.1M507.6 125.7h.1M504.6 123.3h.1M498.5 112.6h.1M496.5 112.2h.1M499.3 113.8h.1M488 142.6h.1M486.2 142.1h.1M487.9 140.8h.1M483.5 136.3h.1M480 136.1h.1M483.3 136.7h.1M479.6 121.7h.1M478.9 119.8h.1M479.6 120.5h.1M485 140.3h.1M481.9 140.3h.1M483.6 142.1h.1M490 115.5h.1M487.8 114h.1M487.2 113.5h.1M478.9 109.6h.1M479.5 109.2h.1M480 112.5h.1M439.3 129.8h.1M440.1 129.2h.1M438.2 130.4h.1M496.6 126.7h.1M496.2 127.8h.1M499.3 127h.1M444.3 127.8h.1M443.7 128.7h.1M444.8 129.4h.1M493.8 124.7h.1M493.4 124.7h.1M493.4 124.5h.1M489.9 135.1h.1M488.8 136.5h.1M491.6 133.3h.1M510.3 124.7h.1M507.6 124.9h.1M509.5 125.1h.1M460.1 136.2h.1M461.1 137.9h.1M458.1 137h.1M495.9 139.1h.1M495.1 138.1h.1M496.8 138.4h.1M471.7 134.9h.1M471 136.8h.1M471.8 135.2h.1M465.7 79.2h.1M464.9 81.1h.1M465.6 79.6h.1M487.3 116.7h.1M486.9 114.9h.1M487 118.1h.1M492.4 89.9h.1M493.7 91.2h.1M493.2 87.6h.1M517.1 136.9h.1M518.3 135.9h.1M517.8 137.4h.1M470.1 100h.1M467.8 101.8h.1M469.9 100.7h.1M486.3 108.5h.1M484.4 106.9h.1M485.7 107.9h.1M463.8 122.5h.1M464.1 121.6h.1M464.9 122.3h.1M498.6 112h.1M495.6 113.3h.1M499 114h.1M497.5 134.8h.1M495.1 132.7h.1M496.5 134.6h.1M471.9 101.9h.1M471.4 100.2h.1M470.8 102.7h.1M470.9 106.5h.1M469.8 104h.1M473.2 106.6h.1M514.4 112.8h.1M511.6 115h.1M513.5 114.4h.1M475.2 110.8h.1M475.7 113.3h.1M474.1 110.2h.1M461.8 100.5h.1M462.3 99.3h.1M462.2 100h.1M492.3 132.3h.1M492 134.4h.1M493 133.4h.1M484.2 128h.1M485.6 128.3h.1M483.8 128.6h.1M516.7 115.6h.1M516.5 113.8h.1M515.7 115.6h.1M505.4 128.4h.1M506.3 131.1h.1M505 128.1h.1M453.1 130.2h.1M454.1 130.2h.1M454.6 130.8h.1M514.2 123.2h.1M517 124.7h.1M517.1 122.3h.1M498.5 98.5h.1M495.1 99.6h.1M494.9 99.9h.1M454.1 106.3h.1M454.9 103.9h.1M453.4 103.7h.1M473.5 117h.1M472.6 117.3h.1M471.4 118.3h.1M504.3 134.3h.1M504.1 133.5h.1M500.8 133.9h.1M427.2 139.4h.1M423.6 139.4h.1M424.8 142h.1M462.1 106.7h.1M459.7 109.2h.1M459 106.5h.1M500 117.8h.1M500.9 120.7h.1M499.2 118h.1M457.5 116.8h.1M459.1 116.3h.1M457.8 115.3h.1M490.8 122.9h.1M491.9 123.6h.1M490.5 123.1h.1M450.5 144.8h.1M448.7 144.2h.1M452.7 145.7h.1M503.2 111.5h.1M502.3 110.1h.1M503.5 110.9h.1M462.2 150.9h.1M462.7 152.1h.1M460.7 150.8h.1M448.7 138.2h.1M449.1 139.7h.1M449.1 139.6h.1M484.5 122h.1M484.4 123.8h.1M483.2 121.8h.1M468.9 90.8h.1M473.3 90.3h.1M470.5 91.6h.1M463.6 88.9h.1M463.5 90.1h.1M463.8 87.9h.1M444.5 105.9h.1M443.8 105.8h.1M445.9 106h.1M510.5 139h.1M511.7 142.2h.1M507.4 140.8h.1M478.2 92.8h.1M476.4 93.9h.1M473.9 92.7h.1M476.8 141.4h.1M480.5 140.3h.1M478.7 141.2h.1M476.4 118h.1M474 120.2h.1M475.1 117.9h.1M503.3 122.6h.1M504.2 121.8h.1M503.8 119.7h.1M466.9 118.5h.1M468.2 117h.1M468.9 121.7h.1M452.4 127.8h.1M452.4 127.2h.1M453.4 127.4h.1M460.8 135h.1M460.8 134.5h.1M460 135h.1M495.3 136.3h.1M497.2 134.7h.1M494.2 136.1h.1M456.7 117.3h.1M458.8 117.6h.1M458.2 118.9h.1M440.4 124.1h.1M439.9 127.1h.1M440.1 126.9h.1M504.9 112.7h.1M504.2 111.2h.1M506.8 114.1h.1M447.9 124h.1M447.5 123.5h.1M446 125.3h.1M493.7 112.3h.1M493.9 112.2h.1M494.9 112h.1M479.9 91h.1M482.1 90.7h.1M483.4 91h.1M505.7 104.3h.1M504.1 102.2h.1M504 103.8h.1M452.2 143.9h.1M451.9 145.2h.1M450.7 144.4h.1M467.9 91h.1M471.4 92.1h.1M471.1 89.4h.1M444.2 125.7h.1M443.6 124.5h.1M442.1 125.9h.1M462.4 130.1h.1M461.7 128.7h.1M460.4 127.7h.1M486.2 110h.1M484.5 111.4h.1M486.2 110.4h.1M449.3 116h.1M448 117.9h.1M447.7 118.1h.1M457.5 145.3h.1M457.3 145.8h.1M456.3 145.7h.1M455.8 91.8h.1M454.6 91.5h.1M455.4 89.3h.1M518.7 138.5h.1M519.8 138.7h.1M520.9 138h.1M480.7 95.5h.1M480.7 97.4h.1M479.1 93.4h.1M465.9 118.9h.1M466.5 121.2h.1M464.9 120.6h.1M433.9 128.7h.1M435.8 127.7h.1M435.9 126.9h.1M447.6 104.5h.1M449.6 105.9h.1M449.3 105.9h.1M432 150.4h.1M432.8 149.8h.1M431.4 150.5h.1M503.8 150.4h.1M502.8 152.5h.1M503.9 151.1h.1M482.1 106.8h.1M483.8 105.4h.1M482.9 106.7h.1M489.1 132.6h.1M491 132.6h.1M489.9 131.9h.1M482.7 81.8h.1M479.6 84h.1M483.5 82.5h.1M467.8 97.4h.1M469 95.4h.1M469 96.9h.1M473.6 113.4h.1M472.7 112.8h.1M471.9 112.3h.1M442.2 87.8h.1M440.5 87.5h.1M439.6 86.3h.1M474.6 108.3h.1M474.6 107.5h.1M472.1 108h.1M491.5 92.9h.1M491.1 94.7h.1M489.7 90.7h.1M477.6 81.7h.1M478 80.1h.1M478.8 82.7h.1M497.4 128.8h.1M497.5 126h.1M498 127.2h.1M497.2 94.2h.1M496.2 95.9h.1M495.1 94.4h.1M498.3 128.6h.1M497.7 126.4h.1M496.4 126.9h.1M494.2 126h.1M493 125.8h.1M491.8 128.6h.1M469.1 90.2h.1M467.3 92h.1M467.9 90.1h.1M499 102.6h.1M500.3 101.5h.1M499.7 102.7h.1M466.7 104.5h.1M468.9 104.2h.1M468.8 105.9h.1M439.8 133.8h.1M440.5 131.8h.1M439.3 130.6h.1M510.8 120.3h.1M511.9 117.2h.1M511.7 118.9h.1M497.4 98.2h.1M498.3 100.4h.1M498.2 99.5h.1M423.7 142.4h.1M425 145.9h.1M424.7 146h.1M464.3 123.5h.1M465.3 123.7h.1M465.5 125.9h.1M498.9 127.1h.1M496.2 129.3h.1M497.5 127.7h.1M484.5 103.6h.1M486.2 103.2h.1M483.5 102.8h.1M436.9 92.5h.1M435 97h.1M436.4 93.9h.1M451.9 130.3h.1M451.7 131.3h.1M452.7 130.8h.1M453.3 140.1h.1M453.5 140h.1M453.8 138.1h.1M493.9 153h.1M493.6 150.9h.1M495 152.8h.1M484.5 118.8h.1M488 118h.1M486.8 118.4h.1M476.7 121.5h.1M476.5 124h.1M474.7 120.6h.1M481.3 78.9h.1M480.1 80.8h.1M480.4 80.1h.1M427 124.6h.1M428.1 123.7h.1M425.7 124.3h.1M458 95.6h.1M456.9 94.9h.1M456.7 94.9h.1M446.6 104.9h.1M445.8 106.5h.1M446.3 105h.1M519.5 134h.1M518.7 133.7h.1M517.4 132.5h.1M448.6 143.5h.1M447.6 143.6h.1M449.6 142.6h.1M509.7 113.6h.1M512 115.7h.1M510.9 115.1h.1M474 104.1h.1M470.3 104.6h.1M474 104.8h.1M490.2 115.5h.1M490 114.5h.1M488.4 115.8h.1M463.4 124.4h.1M463.2 123.5h.1M462.6 123.5h.1M444.1 102.5h.1M443.4 101.7h.1M442.9 104.2h.1M484.6 97.5h.1M485.1 96.3h.1M483.5 95.5h.1M459.4 140.7h.1M462.8 142.1h.1M459.7 141.4h.1M454.8 96h.1M456 99.8h.1M454.6 97h.1M443.3 115.7h.1M441.5 115h.1M443.4 115.3h.1M450.4 135.2h.1M450.6 134.1h.1M451.4 135h.1M430 125.7h.1M428.7 124.4h.1M430.3 124.8h.1M441.1 137.9h.1M439.8 136.5h.1M440.8 136.7h.1M453.7 140.3h.1M454.7 141.1h.1M455.6 142.3h.1M460.2 141.9h.1M461.6 142h.1M461.4 140.9h.1M462.8 106.6h.1M462 109.2h.1M461 108.5h.1M455.8 86.1h.1M459 85h.1M457 84h.1M465.1 135.2h.1M463.8 139.5h.1M463.2 137.5h.1M432.1 107.4h.1M430.5 106.9h.1M433.2 105.9h.1M447 93h.1M447 91.8h.1M444.6 90h.1M473.4 100.3h.1M474.4 101.3h.1M473.2 99.9h.1M481.7 90.1h.1M483.5 88.3h.1M484.1 89h.1M481 107.4h.1M479.7 106.5h.1M482.8 108.1h.1M441.5 113.6h.1M442.1 111.5h.1M441 113.1h.1M501.9 97h.1M498.4 95.9h.1M501.5 97.3h.1M485.2 113.6h.1M485.2 113.2h.1M484.3 113.1h.1M448.2 116.5h.1M448.6 116.4h.1M447.4 116.6h.1M462 92.9h.1M460.7 93.4h.1M460.5 93h.1M438.8 140.7h.1M440.8 143.1h.1M439.9 140.2h.1M479.7 144h.1M483.1 144.2h.1M484.4 143.6h.1M466.5 127.1h.1M464.6 127.6h.1M465.9 128.1h.1M470.8 88.8h.1M469.5 89.2h.1M469.1 88.9h.1M489.5 81.9h.1M489.7 81.2h.1M487.6 80.7h.1M467.2 88.3h.1M467.7 90.3h.1M466.5 91h.1M460.7 137.8h.1M460 138.2h.1M459.9 135.8h.1M495.6 124h.1M495.4 124.7h.1M497.2 122.4h.1M491.2 130.5h.1M492.6 130.4h.1M491.8 129.1h.1M487.9 140h.1M485.6 139.7h.1M490.3 141.2h.1M495.6 107.4h.1M494.5 106.9h.1M494 104.6h.1M455 134.5h.1M454.1 133.7h.1M453.5 135.8h.1M468.1 106.2h.1M466.7 106.5h.1M466.5 104.2h.1M492.4 108h.1M493.8 105.5h.1M490.1 107.4h.1M422.6 135.8h.1M420.4 137.5h.1M421.8 133.8h.1M420.7 138.3h.1M421.5 138.8h.1M418.5 137.8h.1M457.3 93.1h.1M458.3 94.6h.1M461.4 93.6h.1M426.5 128.7h.1M430.1 129.8h.1M429.3 126.9h.1M471.3 105.7h.1M470.1 105.6h.1M470.2 105.7h.1M449.3 129.9h.1M446.8 129.9h.1M447.3 129h.1M464.5 107.8h.1M467.1 105.9h.1M465.8 104.8h.1M458.4 106.3h.1M460.8 102.8h.1M459.7 102.8h.1M502 127.1h.1M502 129.1h.1M500.3 126.6h.1M446.4 115.7h.1M446.7 117.3h.1M448.5 115.2h.1M506.7 107.4h.1M506.7 104.8h.1M506.8 106h.1M438.6 131.4h.1M438.4 131.3h.1M436.1 131.7h.1M487.6 135.6h.1M488.8 134.5h.1M488.6 133.4h.1M469.9 117.3h.1M471.9 116.8h.1M471.5 116h.1M490.2 136.1h.1M491.9 136.4h.1M490.8 136.8h.1M439.3 115.1h.1M438.5 114.9h.1M440.9 114.9h.1M441.3 136.2h.1M439.3 134.4h.1M440.7 135.7h.1M447.2 139.5h.1M446.1 140.2h.1M448 141.8h.1M445.1 105.5h.1M444.8 107.7h.1M445.7 107.4h.1M454.1 97.4h.1M453.1 96.7h.1M453.1 94.1h.1M481.1 98.5h.1M482.5 96.5h.1M477.8 98.3h.1M457.2 127.1h.1M457.5 129.9h.1M459.4 127.4h.1M489.1 94.4h.1M490.6 94.9h.1M489 96.7h.1M475.2 142.1h.1M475.9 138.7h.1M476.6 140.2h.1M482.7 109.9h.1M484.2 111.4h.1M483.2 112.7h.1M431.9 151.7h.1M432.2 152.8h.1M431.5 149.1h.1M422.2 124.3h.1M422.5 124.8h.1M422.6 124.5h.1M482.3 131.6h.1M481.1 133.2h.1M480.8 130.3h.1M438.3 120.9h.1M442.3 121.6h.1M440.5 118.3h.1M483.4 94.2h.1M484.2 96.7h.1M480.8 94h.1M459 91.7h.1M460.7 91.3h.1M458 89.6h.1M457.7 119.8h.1M455.3 117h.1M458.3 117.5h.1M471.2 136.9h.1M471.4 135.4h.1M472 137.9h.1M501 117.9h.1M499.3 117.9h.1M499.4 118.8h.1M428.2 136h.1M429.9 134.7h.1M428.7 136.1h.1M438.3 126.7h.1M437.5 126.6h.1M435.6 127.1h.1M453.3 126.6h.1M454.9 127.2h.1M451.9 125.3h.1M517.4 134.4h.1M516.1 134.4h.1M519.5 133.1h.1M468.5 120.9h.1M469.9 123.5h.1M470 123.5h.1M423.5 140.3h.1M423.8 139.4h.1M425.1 140.6h.1M485.3 131.5h.1M485.4 130.6h.1M484.9 128h.1M428.5 124.2h.1M428.9 125.1h.1M426.8 124.5h.1M482.6 119.2h.1M482 119.3h.1M484.9 119.9h.1M456.1 133h.1M456.7 132.4h.1M455.3 133.8h.1M495.8 91.8h.1M495.6 95.8h.1M495.2 94.6h.1M453.3 122.4h.1M453.6 123h.1M455 122.2h.1M491.1 88.3h.1M492.7 90.4h.1M495.1 92.8h.1M485 112h.1M485.8 115.7h.1M484.1 115.9h.1M487.8 95.8h.1M488.2 95.7h.1M487.8 96.2h.1M464.6 90.7h.1M466.4 91.4h.1M463.5 92.2h.1M484.5 124.5h.1M485 126.2h.1M485.6 123.9h.1M488.7 115.6h.1M489.2 117.1h.1M489.8 118.2h.1M452.6 145.4h.1M450.5 145.7h.1M452.5 146.3h.1M483.4 141.9h.1M485.5 141.2h.1M486.8 143.7h.1M450 91.1h.1M449.9 91.3h.1M450.8 94.5h.1M459.1 135.6h.1M461.8 136.1h.1M459.2 137.1h.1M489.5 93.5h.1M492.9 92.9h.1M491.8 92.5h.1M429.5 128.7h.1M429.8 128h.1M430.8 127.6h.1M452.7 111.6h.1M449.7 111h.1M448.9 112.7h.1M441 142.3h.1M443.9 139.5h.1M443.8 139.7h.1M430.8 107.7h.1M430.3 108.7h.1M429.4 108.2h.1M470.5 91.7h.1M471.7 89.4h.1M469.8 92.2h.1M450.7 111.6h.1M447.9 110.9h.1M450.3 112.5h.1M504.7 119.7h.1M504.6 118.9h.1M504.7 118.8h.1M461.1 83h.1M460.6 83.3h.1M460.5 81.9h.1M492.2 103h.1M491.1 104.7h.1M491.9 103.7h.1M455.2 112.6h.1M455.4 112h.1M456 112.3h.1M471.4 118.2h.1M472.3 116.1h.1M474.1 115.5h.1M510 138h.1M511.6 139.8h.1M511.6 137.7h.1M512.2 134.3h.1M511.1 135.2h.1M512.5 136.6h.1M497.6 143.6h.1M497.2 142.6h.1M499.4 143.9h.1M484.1 115.7h.1M483.3 114.1h.1M481.8 114.6h.1M448.9 123h.1M450.4 119.8h.1M448.4 121.2h.1M483.1 94.6h.1M482.3 94.5h.1M484.7 94.2h.1M497.5 132.8h.1M499.5 131h.1M501.5 130.6h.1M429.5 125.1h.1M430.6 123.2h.1M430.2 126.8h.1M450.3 147h.1M448.8 149.3h.1M449.2 151.7h.1M453 86.7h.1M454.7 87.3h.1M455.3 85.2h.1M469.6 110h.1M471.7 110.5h.1M471.2 109.1h.1M476.3 123.3h.1M477.3 122.1h.1M476.4 123.2h.1M446.1 137.5h.1M446.8 136.4h.1M445.2 136h.1M482.9 121.4h.1M480.4 119.6h.1M481.6 121.1h.1M468.7 115.2h.1M473.2 117.5h.1M470.9 117.1h.1M461.9 143.7h.1M460.1 143.8h.1M462.2 143.8h.1M459.9 134.1h.1M459.7 133.2h.1M460.5 134h.1M492.1 118.9h.1M494.4 119.6h.1M494.1 120h.1M476.7 109.2h.1M474.8 109h.1M476.2 108.8h.1M484.7 93.2h.1M485.4 93.6h.1M483.4 93.7h.1M457.3 77.4h.1M457.9 78.9h.1M455.8 78.1h.1M506 119.2h.1M503.6 119.1h.1M501.9 119.7h.1M492.3 113.1h.1M491.8 114.4h.1M493.2 112h.1M486.4 113.7h.1M485.4 113.1h.1M485.3 112.9h.1M447.1 98.4h.1M447.1 98h.1M446.1 97h.1M500.1 133.2h.1M498.3 132.3h.1M497.4 133.5h.1M486.8 113.7h.1M487.2 113.6h.1M487.8 116.9h.1M471.7 102.1h.1M471.4 100.7h.1M471.6 102.1h.1M479.1 137h.1M479.8 134.7h.1M480.9 136.2h.1M492.2 89.7h.1M491.7 87.7h.1M493.3 91.2h.1M463.6 111.2h.1M463.7 111.9h.1M462.7 110h.1M486.9 136.7h.1M488.4 137.2h.1M488.5 136h.1M450.7 123.4h.1M451.3 122.1h.1M449.9 121.9h.1" stroke="#000" stroke-opacity="0.09" stroke-width="1.7"/>
<path d="M428.9 142.9h.1M430 143.2h.1M430.4 144.8h.1M437.9 129h.1M436.3 130.4h.1M440.1 130.1h.1M493.9 116.1h.1M495.2 112.4h.1M495.3 112.3h.1M477.2 131.8h.1M474.4 133.5h.1M477.6 132.9h.1M453.2 114.6h.1M453.5 115.8h.1M454.2 116.1h.1M483.6 127.8h.1M485.2 127h.1M483.4 128h.1M498.8 135.4h.1M501.6 134.5h.1M499.9 134.3h.1M454.9 139.8h.1M454.4 139.2h.1M457.5 141.4h.1M495 118.3h.1M496.4 116.3h.1M496.5 117.4h.1M447.9 145.3h.1M450.5 145.1h.1M449.3 145.8h.1M454.2 91.3h.1M453.7 90.4h.1M453.3 93.4h.1M516.7 133.6h.1M517.5 135.5h.1M515.9 133.8h.1M501.8 150.6h.1M501.4 151.4h.1M502.3 151.8h.1M463.2 121.2h.1M464.5 123h.1M462.4 118.9h.1M493.9 132.9h.1M493.1 130.8h.1M494.5 132.5h.1M494.6 137h.1M495.5 136.4h.1M496.7 136.9h.1M503.8 120.6h.1M502.9 120.6h.1M504.3 120.8h.1M513.2 113.9h.1M513.4 114.7h.1M512.6 114.5h.1M485.2 122.8h.1M483.2 120.8h.1M485.9 122.1h.1M496.9 143h.1M495.8 143.1h.1M494.8 142.3h.1M498.1 119h.1M498.1 118.3h.1M496.3 117.2h.1M438.1 135.9h.1M438.6 133.9h.1M437.2 133.2h.1M476.5 117.6h.1M477.4 116.4h.1M477.3 118.2h.1M490.8 113h.1M493.5 112.1h.1M494.7 113.2h.1M470.8 111.8h.1M466.9 109.7h.1M468.8 110.1h.1M506.4 124.3h.1M505.4 126h.1M506 126.1h.1M507.7 120.4h.1M505.9 119.3h.1M506.1 118.6h.1M477.5 129.4h.1M477.6 131h.1M477 127.6h.1M468.6 128.6h.1M468.2 127.6h.1M468.9 128.5h.1M491 104.9h.1M489 104.1h.1M490.4 103.9h.1M513.7 124h.1M511.2 124.2h.1M513.2 124.5h.1M494.2 113.4h.1M496 112.7h.1M494.8 113.7h.1M434.2 122.9h.1M430.9 121.6h.1M432.6 123.7h.1M452.2 140h.1M454.9 137.9h.1M452.8 140.1h.1M439.3 139.6h.1M440.7 138.8h.1M440.4 138.5h.1M515 136.2h.1M515.1 137.3h.1M517.3 136.4h.1M486.5 143.7h.1M486.6 144.4h.1M488.6 143.8h.1M467.8 134.3h.1M469 131.8h.1M469.1 131.7h.1M461.7 81.9h.1M460.5 81.2h.1M462.4 82.4h.1M438.1 138h.1M440 138.9h.1M439.1 141.7h.1M497.8 110.4h.1M499.4 107.6h.1M499.7 109.6h.1M424 110.6h.1M423.4 110.2h.1M423.4 113.1h.1M437.4 138.3h.1M437.9 138.3h.1M438 139.2h.1M453.6 116.2h.1M452.8 115.8h.1M451.1 115.8h.1M512.5 124.4h.1M513.3 121.9h.1M514.7 124.2h.1M425.4 123.5h.1M426.6 123.4h.1M425.9 125.6h.1M468.1 92h.1M470.4 91.8h.1M470.5 90h.1M477.2 87.8h.1M474.2 84.6h.1M473.2 84h.1M472.8 137.5h.1M473.3 137.8h.1M472.2 136.8h.1M484.7 120.4h.1M483 120.2h.1M485.7 119.2h.1M427.2 131.6h.1M428.1 133.9h.1M428.2 135.4h.1M423.3 95.8h.1M428.3 95h.1M426.6 95h.1M433.4 113.6h.1M433.9 113.8h.1M435.7 113.9h.1M484.3 87.6h.1M487.3 86.7h.1M486.4 84.9h.1M469.2 128.9h.1M469.4 127.8h.1M467.9 125.2h.1M447.2 90.1h.1M447.3 89.2h.1M448.1 88.4h.1M442.3 112h.1M442.8 112.3h.1M443.1 112h.1M458.8 126.7h.1M459.5 128.2h.1M461.4 128.1h.1M460 117.4h.1M459.5 119.2h.1M460.1 119.4h.1M479.6 108.4h.1M481.1 106.3h.1M480.3 105.2h.1M490.3 126.8h.1M491.1 124.8h.1M490.3 128.9h.1M452 80.5h.1M453.5 81.8h.1M453.9 80.4h.1M465.4 92.4h.1M467 93h.1M466.1 88.8h.1M484.6 110.5h.1M484.5 110.9h.1M482.8 109.2h.1M511.7 131.9h.1M513.8 131.6h.1M512.7 130.7h.1M497.7 91.5h.1M498.6 91.7h.1M495 90.5h.1M472.3 88.1h.1M471.1 89.8h.1M473.2 88.4h.1M439.9 111.9h.1M440.6 110.4h.1M438.5 110h.1M439.9 125.8h.1M439.4 124.3h.1M437.8 125.2h.1M491.1 138.3h.1M490.5 137.7h.1M487.7 138.5h.1M490.3 135.2h.1M489.5 133.2h.1M490.2 135.2h.1M502.6 106.5h.1M503.7 106.2h.1M503 106.7h.1M487.2 111h.1M484.4 108.5h.1M485.2 109.1h.1M449.8 96.9h.1M449.5 95.8h.1M448.9 96h.1M458.8 131.6h.1M459.1 130.6h.1M458.5 133.2h.1M480.4 104.6h.1M478.9 104.1h.1M480.4 102.6h.1M478.4 132.9h.1M477.5 131.8h.1M477.8 134.9h.1M433.2 118h.1M432.6 117.5h.1M431.3 120.6h.1M456.7 150.8h.1M457.8 152.5h.1M458.4 152.6h.1M436.7 109.3h.1M438.1 108.2h.1M438.7 109.1h.1M484.5 86h.1M486.7 88.2h.1M487.2 87.8h.1M453.2 135.7h.1M454.2 136.6h.1M453.5 138.7h.1M466.6 108.7h.1M468.1 105.3h.1M468 107.1h.1M465.1 123.8h.1M466.6 123.1h.1M465.3 122.2h.1M472.2 85.2h.1M471.8 86.2h.1M471.6 85.8h.1M501.2 96.8h.1M500.9 98.3h.1M501 98.2h.1M409.6 130.5h.1M410 132h.1M412.9 131.2h.1M418.3 132.9h.1M420.2 133.1h.1M419.5 135.2h.1M457.1 86.1h.1M457.8 87.6h.1M459.1 87h.1M507 121.5h.1M508.4 123h.1M508.4 123.1h.1M470.8 139.7h.1M469.7 138.8h.1M469.5 139.6h.1M494.9 125.7h.1M495.3 123.2h.1M497.7 124.3h.1M499 145.8h.1M497.2 143.6h.1M496 143.8h.1M472.2 83.3h.1M472 84.7h.1M471.6 85h.1M478.5 104.9h.1M478.7 107.4h.1M476.9 108.2h.1M450.8 103.6h.1M453.1 104.7h.1M449.3 105.3h.1M442 125.9h.1M440.5 123.6h.1M445 124.6h.1M455.4 132.2h.1M454.4 133.9h.1M456 132.1h.1M465 118.3h.1M464.5 115.3h.1M463.5 115.7h.1M478.7 121.5h.1M478.8 119h.1M477.2 119h.1M484.7 122.9h.1M487.7 120.5h.1M488.4 120.7h.1M493.7 105.8h.1M491.4 104.9h.1M491.4 106.8h.1M446.7 140.8h.1M446 143.6h.1M447.1 139.6h.1M506.3 110.2h.1M508.1 112.5h.1M510.6 111.1h.1M434 133.2h.1M435.6 133.8h.1M432.1 134h.1M467.1 140.2h.1M465.5 139.7h.1M464 140.1h.1M446.9 119.8h.1M445.5 122.6h.1M447.3 121.4h.1M481.7 91h.1M482.6 91.7h.1M481.4 90.9h.1M467.2 139.7h.1M468.6 141.2h.1M466.7 140.1h.1M432.3 147.7h.1M430.7 148.1h.1M429.4 144.3h.1M449.9 133.1h.1M447.6 130.9h.1M448.7 132h.1M452.5 96.2h.1M452.3 96h.1M453.8 96.1h.1M482.8 137.1h.1M484.4 135.9h.1M484.5 134.5h.1M433.8 148.7h.1M431.8 149.9h.1M434.3 148.5h.1M496.4 116.5h.1M497.2 115.9h.1M496.7 115.3h.1M473.2 105.1h.1M474.2 104.4h.1M475.4 107.6h.1M480.7 124.6h.1M477.4 122.6h.1M478.5 124.6h.1M460.3 103.4h.1M462 104.2h.1M461.4 103.4h.1M440.5 135.7h.1M439.3 135.6h.1M438.1 135.3h.1M491.1 91.8h.1M490 88.8h.1M488.6 90.1h.1M457.3 125.3h.1M457.1 127.5h.1M456.1 125.3h.1M505 109.7h.1M504.5 109.7h.1M506.3 109.7h.1M487.5 121.7h.1M487.9 125.5h.1M486.2 122.8h.1M450.8 111h.1M449 109.1h.1M449.7 111.1h.1M515.4 138.2h.1M517.1 138.2h.1M513.2 139.4h.1M464.2 121.3h.1M464.7 122.4h.1M466.3 123.7h.1M507.5 123.3h.1M508.6 122.1h.1M507.2 121.5h.1M493 110.4h.1M495.2 107h.1M493.2 111h.1M463.3 128.9h.1M464.6 132.1h.1M464 130.6h.1M517 133.2h.1M517 131.8h.1M518.4 134.9h.1M477.8 120.3h.1M479.1 118.8h.1M475.6 119.1h.1M483.1 103.7h.1M483.6 105.7h.1M482.2 102.9h.1M443.8 132h.1M442.8 133.9h.1M443.7 132h.1M456.7 103.5h.1M453.9 101.4h.1M456.2 103.1h.1M500.7 104.9h.1M501.4 107.2h.1M500.5 105.6h.1M456.1 98.6h.1M456.3 97.8h.1M455.7 99h.1M503.1 133.5h.1M502.8 135.1h.1M503.3 134.6h.1M517.1 124.5h.1M514.4 127.3h.1M515.9 124.4h.1M505.8 113.1h.1M505.7 112h.1M504.4 113.3h.1M446.6 115.9h.1M448.2 114.4h.1M448.6 118.2h.1M446.6 147.1h.1M447.2 148.8h.1M446.7 148.2h.1M471.3 91.2h.1M473.9 90.8h.1M474.6 90.5h.1M434.9 120.6h.1M435.7 120.7h.1M435.3 122.8h.1M461.7 94.2h.1M461 93.4h.1M461 93.7h.1M477.8 143.8h.1M477.5 143.6h.1M479.1 144.7h.1M495.3 144.8h.1M495.6 144.5h.1M495.1 146.7h.1M491.4 132.4h.1M490.8 131h.1M489.4 130.9h.1M510.5 137.2h.1M508.9 136.4h.1M509 138.1h.1M452.5 125.7h.1M451.4 125.6h.1M452.1 128.4h.1M514.1 140.3h.1M514.1 140.1h.1M514.1 140.2h.1M431 145.4h.1M432.8 143.9h.1M429.7 145.2h.1M494.1 96.6h.1M493 99.8h.1M491.2 101.3h.1M510.7 131.3h.1M514.3 130.7h.1M511.9 130.6h.1M491.8 100.2h.1M493.7 101.4h.1M492.4 99.9h.1M436.6 125.7h.1M437.9 122.3h.1M436.6 123.6h.1M483.9 101.1h.1M485.6 101.9h.1M485.3 101.4h.1M456.1 105.3h.1M457.4 107.1h.1M454.5 105.4h.1M489.6 134.4h.1M488.4 134h.1M490.9 134.3h.1M450.1 130.3h.1M449.7 133h.1M451.6 131.7h.1M496.7 107.3h.1M496.2 110.5h.1M497.4 109.6h.1M466 102.6h.1M462.7 101.9h.1M466.2 103.4h.1M504.7 111.2h.1M506.4 108.2h.1M503.6 110.3h.1M482.8 124.1h.1M484.3 125.4h.1M483.8 125.5h.1M445.8 124.9h.1M445.2 127h.1M444 126.6h.1M503 107.6h.1M502 106h.1M501.6 108.2h.1M513.3 132.9h.1M513.7 132.2h.1M513.1 133.6h.1M478 91h.1M479 90.6h.1M479.7 90h.1M440.3 129.2h.1M440.7 129.1h.1M441.3 128.7h.1M491.3 106.8h.1M490.2 105.5h.1M489.2 104.8h.1M493.2 92.3h.1M492.3 93.2h.1M492.2 90.1h.1M486.3 114.8h.1M484.9 115.4h.1M483.9 115.8h.1M434.6 130.9h.1M435.8 131.1h.1M436.7 132.6h.1M473.4 127.3h.1M474.4 127.1h.1M476.5 128.1h.1M450.3 93.2h.1M450.2 93.7h.1M452 94.2h.1M472.7 125.1h.1M471 125.1h.1M472.7 123.5h.1M448.8 93.6h.1M444.6 93.3h.1M444.7 93h.1M496 96h.1M496.3 95.4h.1M497.4 96h.1M499.8 112.9h.1M500.3 111.2h.1M498.5 114.3h.1M458.8 132.5h.1M456.8 132.6h.1M455 132.7h.1M476.4 120.4h.1M477.4 120.4h.1M479.2 119.8h.1M499.2 141.5h.1M500.5 138.9h.1M500 139.9h.1M442.4 94h.1M443.9 94.3h.1M442.9 93.9h.1M470.2 88h.1M471.7 87.3h.1M472.7 86.6h.1M458.2 94.8h.1M457.8 95.8h.1M459.3 96.3h.1M472.7 114.7h.1M475.2 113h.1M473.6 111.3h.1M466.6 81.9h.1M465.8 79.5h.1M467.4 80.4h.1M434 151.6h.1M433.9 150.6h.1M434.5 151.5h.1M504.1 152.2h.1M505.6 154.5h.1M502.3 154.1h.1M466 145.5h.1M470.1 147h.1M468.5 145.2h.1M473.9 130.7h.1M475.4 130.2h.1M474.6 130.1h.1M446.9 127.8h.1M446.3 125.9h.1M448.6 129.3h.1M476.4 96.4h.1M477.6 96h.1M476.7 98.6h.1M468.7 129.2h.1M466.6 129.3h.1M466.2 126.4h.1M502.7 107.1h.1M505.1 107.1h.1M503.5 107.2h.1M433.8 142.3h.1M432.6 142.7h.1M433.6 143.5h.1M456 109.7h.1M453.8 107.6h.1M454.3 107.6h.1M464.9 120.9h.1M466.9 122.2h.1M467.1 122.7h.1M457.4 80.8h.1M458.6 80.8h.1M458.5 81.9h.1M426.9 103.5h.1M424.1 105.2h.1M426.6 102.6h.1M473.3 140.2h.1M472.6 142.7h.1M473.6 141.8h.1M497.6 111.8h.1M496.3 111.5h.1M498.3 110.3h.1M468.7 112.2h.1M471.2 112.9h.1M471.6 112.3h.1M453.4 127.8h.1M454.5 124h.1M452.4 125.1h.1M504.4 121.9h.1M504.4 121.9h.1M504.2 121.6h.1M458.7 138.4h.1M458.3 140.8h.1M459.1 141.2h.1M465.8 108.7h.1M465 110h.1M464.8 111h.1M453.4 138.5h.1M456.6 138.8h.1M453.9 137.5h.1M490.2 103h.1M490.5 104.5h.1M491.4 102.6h.1M441.9 125.8h.1M441.9 124.3h.1M441.3 126.9h.1M504.7 106.2h.1M504.2 104.4h.1M505.9 105.4h.1M440.8 138.3h.1M442.1 139.9h.1M442.8 138.8h.1M461.2 132.3h.1M460 131.3h.1M459.3 132.8h.1M483.4 133.4h.1M484.5 134.5h.1M483.4 135.4h.1M459.4 132.8h.1M457.7 133h.1M458.9 131.5h.1M445.2 85.7h.1M445.1 84.1h.1M446.1 85.9h.1M491.6 110.1h.1M492.6 109.8h.1M493.1 109h.1M492.6 97.2h.1M490.7 94.4h.1M491.6 98.2h.1M481.8 142.1h.1M483.4 144.7h.1M480.2 143.5h.1M481.1 106.7h.1M478.6 107.9h.1M482 107.3h.1M500.9 111.8h.1M498.4 111.6h.1M501.1 109.6h.1M475.3 89.6h.1M477 91.5h.1M476 90.7h.1M420.2 134.8h.1M421 135.2h.1M420.5 133.3h.1M491 106.8h.1M492.2 106h.1M492 106.5h.1M484.7 94.2h.1M484.8 94h.1M485.6 94h.1M471.8 104.9h.1M472.2 105.6h.1M472.5 104h.1M500.7 121.2h.1M501.1 121.8h.1M502.6 120.6h.1M430 108h.1M431.5 108.1h.1M429.8 107.4h.1M482.6 114.3h.1M484.1 113.8h.1M484.6 113.2h.1M442.7 142.2h.1M444.6 139.9h.1M443.2 141.5h.1M457.3 114.5h.1M459 114.9h.1M456.3 114h.1M467 101h.1M463.7 100.3h.1M469.7 100h.1M503.5 114.3h.1M500.6 113h.1M501 113.3h.1M518.3 131.4h.1M517 129.9h.1M517.6 128.5h.1M464.1 111.5h.1M462.1 111.5h.1M463.7 110.2h.1M479.4 116.4h.1M478.7 116.4h.1M476.9 114.7h.1M468.3 131.8h.1M467.9 131.9h.1M466.4 130.5h.1M504.5 103.7h.1M505.6 105h.1M506.6 103.9h.1M508.4 99.6h.1M510.5 101.6h.1M510.1 99.5h.1M437.6 131.6h.1M436.3 129.6h.1M437.1 130.8h.1M480 117.9h.1M480.6 115.9h.1M479.5 115.5h.1M437.5 94.5h.1M438.4 93.4h.1M438.9 96.4h.1M484.2 105.1h.1M484.5 104.7h.1M484.4 106.5h.1M491.9 128.2h.1M491.3 126.9h.1M493.3 126.8h.1M444.3 92.7h.1M441.7 95.8h.1M443.3 94.1h.1M506.9 126h.1M503.9 127.3h.1M505.1 124.3h.1M468.2 97.3h.1M467.5 97.8h.1M468.6 98h.1M428.3 104.7h.1M429.3 102.1h.1M428.3 103.3h.1M455.2 147.5h.1M454.3 145.6h.1M455.7 148.5h.1M429.6 119.1h.1M428.8 119.1h.1M429.6 118h.1M436.2 102.3h.1M435.7 103.2h.1M437.5 103.7h.1M487.1 117.7h.1M486.9 119.4h.1M485.4 116.8h.1M512.2 133.2h.1M515.3 130.9h.1M513.6 133.7h.1M495 128.7h.1M493.6 127.1h.1M491.8 129.4h.1M447.7 123h.1M447.5 125.3h.1M447.4 124.1h.1M437.6 116.4h.1M437.1 116.6h.1M437.2 116h.1M501.8 95.1h.1M500.4 94.6h.1M498.5 94.6h.1M461.1 98h.1M460.8 96.9h.1M458.3 94.6h.1M517.7 120.5h.1M518.1 122.6h.1M519.7 122.2h.1M486.2 140.1h.1M487.5 140.5h.1M488 143.2h.1M435 105h.1M433.3 104.2h.1M435.1 104.9h.1M495 119.8h.1M495.5 119h.1M496.4 120.7h.1M446.7 125.2h.1M445 125.5h.1M444.3 126.9h.1M472.7 115.9h.1M474 114.6h.1M473.7 113.3h.1M445.4 114.6h.1M444.6 114.7h.1M444.2 114.3h.1M450.7 152.4h.1M451 152.8h.1M449.9 150.4h.1M451.5 137.7h.1M451 136.9h.1M451.1 136.9h.1M455.8 129.4h.1M457.3 128.2h.1M459.4 130.1h.1M496.1 150.4h.1M494.2 149h.1M494.9 148.9h.1M439.8 139.9h.1M438.2 140.7h.1M438.4 141.4h.1M490.2 90.3h.1M488.6 88.8h.1M491.2 87.3h.1M504.2 108h.1M503 106.8h.1M502.3 109h.1M491 138.8h.1M491.1 138.1h.1M492.2 139.5h.1M491.1 118.3h.1M491.2 119.9h.1M491 118.6h.1M493.3 117.2h.1M494.8 119.2h.1M493.8 118.5h.1M499.9 106.1h.1M500.6 105h.1M499.6 105.9h.1M450 157.5h.1M448.7 155.6h.1M449.2 156.7h.1M500 120h.1M498.9 120.2h.1M499 121.5h.1M421.7 106.8h.1M421.4 109.8h.1M422.1 107.5h.1M491.9 123.9h.1M489.4 123.6h.1M490.6 124.2h.1M450.5 96.3h.1M449.4 94.3h.1M450 96.3h.1M501.6 129.6h.1M499.2 128.9h.1M501.1 126.6h.1M488.6 85.3h.1M489.1 84.2h.1M489.8 87.1h.1M489.7 104.1h.1M488.7 102.8h.1M488.5 104.3h.1M497.7 114.9h.1M496.4 113.7h.1M496.4 111.6h.1M439.1 128.8h.1M437.9 131.2h.1M437.9 130h.1M480.3 134.3h.1M478.4 134.9h.1M479.8 132h.1M468.1 88.2h.1M466.7 87.5h.1M467.7 88.4h.1M471 108.8h.1M468.7 108.5h.1M469.5 109.3h.1M464.5 89.4h.1M466.3 89.8h.1M463.5 89.4h.1M487.8 107.8h.1M484.8 107.4h.1M488.2 106.3h.1M502.8 109.2h.1M502.6 108.2h.1M500.9 108.4h.1M440.4 132.5h.1M443 129.5h.1M443.2 130.8h.1M499.7 100.7h.1M500.6 102.6h.1M499.5 101.6h.1M487.6 127h.1M486.9 124.8h.1M485.6 127.4h.1M449.6 90.3h.1M448.6 89h.1M451.3 90.7h.1M481.7 112.7h.1M481.9 113.5h.1M482.6 115.9h.1M478.6 125.1h.1M478.1 122.5h.1M479.8 122.1h.1M447 127.3h.1M446.4 127.1h.1M446 127.8h.1M466 104.4h.1M469.1 107.1h.1M466.8 105.4h.1M474.6 82.7h.1M472.8 81.8h.1M473.9 82.4h.1M497.7 110.9h.1M497.4 111.6h.1M498 110.4h.1M470.7 114.2h.1M471.2 115.9h.1M469.1 113.2h.1M461.6 94.3h.1M462.9 93.1h.1M463.1 92h.1M430.5 127.6h.1M431 125.8h.1M430.7 126h.1M453.1 107.6h.1M452.8 107.6h.1M449.6 106h.1M461.9 128.7h.1M463 129.7h.1M462.4 129.8h.1M489.2 131.9h.1M486.7 128.8h.1M488.3 132.3h.1M477.2 82h.1M474.4 81.9h.1M472.3 82.6h.1M472.5 117.9h.1M471.2 118.3h.1M473.5 117.8h.1M431.9 135.8h.1M432 136h.1M431.3 133.8h.1M468.9 128.7h.1M467.8 129.1h.1M466.1 130.3h.1M504.5 118.6h.1M503 119.3h.1M502.8 119.2h.1M496.8 108.9h.1M495.9 108.1h.1M499.1 108.1h.1M457.1 124.1h.1M460.1 126.4h.1M458.5 126.1h.1M466.3 135.6h.1M464.9 138.3h.1M466.4 139.4h.1M458.8 114.1h.1M459.8 114.3h.1M459.8 112.8h.1M453.9 112.2h.1M454.8 113.1h.1M454.8 114.6h.1M503.5 130.6h.1M505.2 131.7h.1M505 128.6h.1M430.7 109.3h.1M432.7 111.6h.1M431.1 109.9h.1M418.3 136.6h.1M418.8 135.1h.1M417.8 135.4h.1M452.9 111.5h.1M450.9 111.4h.1M451.1 109.9h.1M445.1 146.5h.1M444.7 147h.1M443.2 148.8h.1M434.1 92.4h.1M436.3 91.1h.1M435.4 91h.1M427.5 116.9h.1M427 115.6h.1M430.3 117.2h.1M466.9 119.6h.1M467.1 120.8h.1M468.3 118.3h.1M429.4 111.8h.1M432.9 111.3h.1M431.5 113.6h.1M429.9 117.6h.1M427.8 114.8h.1M427.7 116h.1M488.3 94.1h.1M488.7 91h.1M489.6 91.1h.1M444.9 128.4h.1M443.1 129.7h.1M445.6 128.8h.1M457.1 124.5h.1M454 126.3h.1M457.1 125.6h.1M448 117.6h.1M445.4 117.7h.1M446.8 117.8h.1M439.2 132.1h.1M438.8 131.1h.1M440.3 131.9h.1M461.1 98.5h.1M459.1 98.3h.1M461.3 98h.1M468.3 134.1h.1M469.1 132.8h.1M469.5 135.2h.1M493 113.3h.1M494.8 115.2h.1M491.5 114.4h.1M466.1 138.8h.1M467.1 137.9h.1M464.6 138.5h.1M444.5 136.8h.1M443 137.8h.1M445.8 138.7h.1M480.6 98.9h.1M480.6 99.3h.1M479.9 98.9h.1M499.2 115.9h.1M499.9 114.6h.1M498.8 116.9h.1M456.6 97h.1M454.8 96.9h.1M455.6 99.3h.1M436.6 138.8h.1M437.5 138.4h.1M439.5 139.9h.1M503.8 120.9h.1M501.7 120.9h.1M502 121.9h.1M442.2 135h.1M440.2 135.8h.1M441.4 137.7h.1M451.9 126.1h.1M449.1 126h.1M448.5 124.8h.1M442.5 98.1h.1M442.8 97.6h.1M441.4 97.5h.1M446.4 156.5h.1M446.4 158.1h.1M445.4 157.9h.1M479.4 139.8h.1M479 140.4h.1M479.7 139.7h.1M461.3 135.3h.1M460.8 134.5h.1M461.3 134.6h.1M483.5 110.9h.1M481 109.9h.1M484.2 109.9h.1M437.9 112.4h.1M440.9 112.5h.1M438.7 111.8h.1M450.7 153.3h.1M450.3 151.2h.1M450.5 151.3h.1M484.1 144.6h.1M480.8 146.5h.1M480.8 147.3h.1M428.2 120.5h.1M428.3 120.3h.1M429.1 119.6h.1M455.6 134.2h.1M456.4 137.2h.1M455.6 136.5h.1M438.7 130.1h.1M436.8 132.4h.1M438 131.7h.1M427.9 135.7h.1M428.5 136.3h.1M429.3 136.2h.1M503.6 142.3h.1M504.3 145.1h.1M505.2 144.5h.1M503.4 96h.1M502.1 94.1h.1M502.8 96.1h.1M459.4 134.5h.1M460.3 132h.1M457.4 134.3h.1M447.3 121.6h.1M446.6 120.6h.1M445.7 121.5h.1M469.7 100.2h.1M470.5 102.9h.1M470.1 101.2h.1M445.4 132h.1M447.6 131.2h.1M448.7 132.1h.1M433.9 102.4h.1M434.7 98.2h.1M434.9 101.1h.1M454.6 110.4h.1M459 107.4h.1M459 108.1h.1M470.7 138.9h.1M471.9 136.4h.1M469.3 136.6h.1M482.8 142.1h.1M482.2 143.8h.1M480.9 142.5h.1M424.1 121.8h.1M424.7 121.2h.1M425.1 121h.1M491.2 95h.1M490.9 94.5h.1M493.1 93.6h.1M457.8 139.9h.1M459.7 139.8h.1M460.3 139.3h.1M458.1 131.8h.1M458.2 132.4h.1M457.5 132.5h.1M500.5 107.8h.1M502.7 108.2h.1M501.8 109.7h.1M483.9 107.6h.1M485 108.3h.1M484.8 105.3h.1M470.3 101.3h.1M470.3 101.9h.1M470.3 102.2h.1M495.1 127.7h.1M496.8 130.3h.1M495.5 129.7h.1M495.2 145h.1M495.8 147.1h.1M495.6 146.6h.1M489.3 131h.1M488.1 128h.1M488 129.7h.1M499.8 95.9h.1M499.5 96.2h.1M502 96h.1M426.8 132.1h.1M428.7 132.7h.1M425.1 134.2h.1M422.2 151.5h.1M420.5 151.9h.1M421.2 152.4h.1M470.7 119.7h.1M471.1 120.2h.1M471 120.4h.1M476.4 102.1h.1M478 101.6h.1M476.8 99.8h.1M416.9 121.5h.1M418.6 122.9h.1M417.6 124.6h.1M482.5 148.8h.1M482.7 148.6h.1M481.9 149h.1M484.4 125.5h.1M483.8 124h.1M483.5 125h.1M486 136.3h.1M485.8 135.1h.1M487.4 134.9h.1M514.2 136h.1M513.7 135.3h.1M514.4 134.7h.1M477.5 111h.1M479.1 112.1h.1M478.3 110.3h.1M496.1 100.2h.1M498.6 100.1h.1M496.9 100.8h.1M445.2 111.3h.1M446.2 113.4h.1M444.1 113.3h.1M476.7 85h.1M479 85h.1M478.6 83.7h.1M452.6 123.7h.1M451.4 123.5h.1M450.8 121.8h.1M469.7 99.2h.1M468.1 100.4h.1M471.7 99.4h.1M430.2 150.4h.1M432.1 149.7h.1M430.8 151.9h.1M478.2 89.5h.1M477.5 89.1h.1M477.5 90.5h.1M451.7 131.9h.1M450.7 132.6h.1M451.1 134.2h.1M480.5 105.6h.1M483.1 106h.1M478.4 105.3h.1M498.9 111.6h.1M499.8 111.8h.1M497.4 111.9h.1M445.4 96.6h.1M447.1 96.1h.1M444.1 96.9h.1M490.3 115.5h.1M488.1 115.4h.1M488.8 117.2h.1M438.2 124.1h.1M436.5 127.4h.1M439.3 125.2h.1M465 101h.1M463.1 102.1h.1M462.4 104.3h.1M490.5 120.2h.1M493.1 120.3h.1M493.8 120.8h.1M490.6 93.2h.1M492.1 93.3h.1M491.8 93.2h.1M465.8 144.7h.1M465.4 146.4h.1M467.8 143.7h.1M467.3 137.1h.1M467.9 138.3h.1M467.7 136.7h.1M514.2 125.9h.1M514.9 124.1h.1M515.1 124.5h.1M495.7 129.5h.1M496.3 128.4h.1M495.9 127.8h.1M489.1 101.8h.1M489.1 102.3h.1M490.1 102.1h.1M470.4 94.7h.1M471.1 95.1h.1M471.6 95.1h.1M441.2 145.8h.1M442.1 144.8h.1M442.3 142.9h.1M479 131.9h.1M479 130.2h.1M477.1 132.5h.1M438 115.3h.1M437.5 115.3h.1M439.4 115.1h.1M426.7 101.8h.1M427 102.1h.1M426.6 103.5h.1M470.7 89.9h.1M471.4 90.6h.1M470.4 91.2h.1M424.7 148.7h.1M426.7 148.3h.1M424.2 149.7h.1M455.1 118.8h.1M453.9 119.4h.1M456.3 120.4h.1M461.4 80.3h.1M460 81h.1M462.3 80.6h.1M441.5 120.1h.1M441.2 119.8h.1M441.3 120.6h.1M484.5 132h.1M487.1 131.5h.1M485 132.6h.1M500.5 120.5h.1M499 119.5h.1M500.5 119.8h.1M492.4 127.1h.1M492.3 129.9h.1M492.7 128.9h.1M461.8 110.4h.1M462.3 109.7h.1M461 109.2h.1M467.3 108.1h.1M467.7 107.5h.1M468.5 106.6h.1M446 92.6h.1M448.2 93h.1M446.9 92.6h.1M488.2 95.7h.1M488.7 97.7h.1M488.5 95.7h.1M470.9 115.4h.1M471.8 117.2h.1M473.5 116.6h.1M510.4 112.3h.1M510.9 112.6h.1M513.2 111.3h.1M465.9 115.1h.1M466.1 113.2h.1M465.1 113.7h.1M436.9 127.5h.1M433.8 128h.1M434.9 127.1h.1M476.1 131.5h.1M477.4 131.1h.1M476.7 133h.1M430.6 115.5h.1M431.2 115h.1M433.2 115h.1M490.2 118.5h.1M491.8 119.8h.1M489.4 120.4h.1M436.4 113.4h.1M434.3 114h.1M435.6 115.3h.1M509.2 144.9h.1M512.4 146.1h.1M512.2 145.5h.1M444.3 154h.1M442.9 153.8h.1M444.4 156.8h.1M432 108.6h.1M432.6 108.5h.1M434.9 106.3h.1M440.7 137.8h.1M442.4 138.8h.1M440.5 138.6h.1M436.4 108.3h.1M436.4 107.9h.1M437.5 108.1h.1M455.5 117.1h.1M455.1 115.2h.1M454.1 114.7h.1M493.7 148h.1M496.3 144.4h.1M494.7 145.1h.1M451.4 117.7h.1M451 120.1h.1M453.4 118.5h.1M497 114.7h.1M497.2 114.3h.1M496 114.3h.1M484.1 111.7h.1M485.1 111.8h.1M485.2 110.6h.1M500.1 125.4h.1M500.2 125.9h.1M501.6 125.6h.1M433.5 135.6h.1M433 137.8h.1M434.2 136.6h.1M497.9 97.1h.1M495.7 94.5h.1M497.3 93.6h.1M475.4 120h.1M476.1 119.3h.1M477 120.1h.1M475.8 93h.1M475.9 93.1h.1M474.8 90.5h.1M441.5 129.8h.1M440.7 128.2h.1M441.2 129.1h.1M461.2 121.9h.1M460.8 120.3h.1M461.4 117.9h.1M461.6 108.5h.1M461.2 105.4h.1M462 106.3h.1M492.9 92h.1M493.9 89.9h.1M493.9 91h.1M486.6 120.5h.1M489.8 123.1h.1M488.3 121.9h.1M465.1 93.5h.1M463.9 92.4h.1M461.9 93.5h.1M496.2 111.4h.1M498 111.3h.1M495.4 110h.1M470.7 131.8h.1M470 131.9h.1M470 132.2h.1M499.4 94.9h.1M496.5 93.2h.1M496.4 92.1h.1M486.2 136.2h.1M487 134h.1M486.9 135.3h.1M474 101.6h.1M474.2 100.4h.1M471.6 99.4h.1M446.2 108.1h.1M446.1 106.9h.1M446.3 107.1h.1M475.8 123.5h.1M476.9 121.4h.1M477.6 120.5h.1M427.8 102.3h.1M427 104.8h.1M426.5 102.7h.1M454.4 132.4h.1M456 130.7h.1M455.1 130.8h.1M450.3 125.9h.1M451 129h.1M448.7 128.7h.1M477.5 119.6h.1M476.3 121.1h.1M475.5 119.8h.1M484.4 103h.1M483.5 101.1h.1M484 101.4h.1M447 148.1h.1M446.5 145h.1M445.5 147.2h.1M471.5 109.5h.1M472.9 110.4h.1M470.3 110.3h.1M485 136.7h.1M484.8 135.1h.1M484.9 134.6h.1M452.9 95h.1M452.5 95.6h.1M452.7 96.9h.1M466.6 84h.1M465.5 82.7h.1M466.7 84h.1M451.8 79h.1M449.1 82.4h.1M449.7 79.1h.1M456 124.8h.1M455.5 123.9h.1M456.5 122.4h.1M451.4 129.2h.1M451.5 128.9h.1M450.6 129.3h.1M438.8 154h.1M441.6 152.8h.1M439.7 152.8h.1M493.5 129.1h.1M494.7 127.9h.1M494.6 128.8h.1M498.9 110.5h.1M497.9 112.8h.1M497.3 110.6h.1M473.3 136.5h.1M473.8 134.9h.1M471.2 135.6h.1M455.8 112.1h.1M456.9 111.8h.1M454.2 110.7h.1M465.8 123.9h.1M464.6 121.9h.1M466.3 122.2h.1M503.9 142.1h.1M505.7 142.5h.1M501.4 140.3h.1M486.6 115.3h.1M482.6 117.4h.1M483.7 114.8h.1M427.2 136.2h.1M425.6 134.4h.1M429.1 133.3h.1M438.7 103.7h.1M437.5 102.7h.1M440.5 105h.1M471.2 131h.1M470.8 131.5h.1M469.8 131.4h.1M498.7 108.6h.1M497.8 108.2h.1M499.2 109.7h.1M432.8 117.5h.1M431.9 117.6h.1M431 118.6h.1M493.3 125.4h.1M492.1 125.3h.1M494 124.1h.1M469.9 106.6h.1M470.4 104.5h.1M470.8 102.6h.1M506.1 121.7h.1M506 123.2h.1M507.7 120.5h.1M482.3 133.3h.1M484.5 134.1h.1M484.7 133h.1M431.8 99.3h.1M428.7 102h.1M431.5 101.5h.1M434.3 145.2h.1M436.3 143.3h.1M433.6 144.4h.1M431.2 143.9h.1M431.6 145.8h.1M430 144.6h.1M490.5 135.4h.1M491.8 134.3h.1M490.8 134.4h.1M479.2 105.4h.1M481.3 107.8h.1M480.8 106.9h.1M464 103.4h.1M466.9 101.2h.1M464 101.8h.1M486.2 128.4h.1M486.4 126.1h.1M485.7 127.2h.1M453.9 143.4h.1M452.2 141.7h.1M454.8 143.4h.1M441.4 154.2h.1M442 151.8h.1M438 151.6h.1M436.4 108.1h.1M437.7 109.9h.1M436.8 107.7h.1M446.2 115.7h.1M448.8 118.6h.1M447 116.6h.1M509.2 140.5h.1M507.4 142.9h.1M506.8 143.6h.1M461.6 123.7h.1M459.3 121.7h.1M459.4 122.4h.1M491.6 128.1h.1M493.9 128.8h.1M493.1 128.4h.1M469.9 101.4h.1M468.8 100.6h.1M470.3 101.2h.1M452 83.6h.1M451.4 85.1h.1M450.8 83.7h.1M498.5 95.3h.1M499.6 98.1h.1M500.5 97.4h.1M476.6 133.6h.1M475 130.7h.1M475.3 132.6h.1M503.9 144.6h.1M504.1 145.5h.1M503.2 145.4h.1M495.8 119.9h.1M497.8 117.8h.1M497.5 120.8h.1M443.4 115.2h.1M443.9 115.1h.1M444.2 114.6h.1M465 89.1h.1M465.9 87.6h.1M465.8 89.5h.1M440 96.6h.1M441 94.3h.1M440.8 95.3h.1M469.7 110.3h.1M468.8 111.4h.1M468.8 112.5h.1M485.4 120.7h.1M484.3 120.1h.1M483.9 119.8h.1M451.6 104.6h.1M452.4 103.5h.1M453 103h.1M485.5 120.6h.1M485 121.4h.1M486.8 121.3h.1M445.8 133.7h.1M444.5 132.5h.1M444.9 132.6h.1M447.5 84.3h.1M447.9 84.8h.1M446.8 82.9h.1M490.5 125.4h.1M491.9 126.9h.1M490.8 123.9h.1M463.5 97.8h.1M464.1 95.9h.1M464.7 97.8h.1M480.4 109.5h.1M477.4 108.9h.1M478.2 106h.1M479.2 110.8h.1M479.4 110.6h.1M479.7 111.3h.1M492.7 101.3h.1M491.9 99.5h.1M493.6 103h.1M424.6 101.1h.1M425.2 100.7h.1M426 100.4h.1M493.7 119.6h.1M494.8 121.5h.1M496.9 119.7h.1M509.8 117.4h.1M508.5 116.9h.1M507.1 116.3h.1M463.3 80.5h.1M467 83h.1M465.8 81.1h.1M438.5 150.9h.1M440.9 152.3h.1M440.7 150.9h.1M422 151h.1M422.5 151.4h.1M423.7 150.6h.1M425.3 128.3h.1M426.1 128.1h.1M428 129h.1M458.6 129.9h.1M457.2 130.1h.1M459.9 129.7h.1M486.6 106.6h.1M486.1 105h.1M486.9 105.9h.1M469.8 94.8h.1M470.9 94.2h.1M470.7 94.3h.1M504.1 125.6h.1M502.8 127.5h.1M501.3 125.1h.1M490.6 140.4h.1M491.5 139.6h.1M491.3 140.5h.1M484.9 125.1h.1M484.7 126.8h.1M486.3 126.7h.1M428 124.7h.1M429 124.1h.1M428.1 125.4h.1M456.4 118.5h.1M457.9 118.4h.1M457.9 120.7h.1M459.1 80.1h.1M462.6 79.8h.1M458.2 80.7h.1M496.1 146.2h.1M495.6 145.3h.1M495 145.9h.1M444 120.7h.1M442.2 122h.1M442.3 121.3h.1M513.9 128.4h.1M514.3 128h.1M514.6 130.3h.1M472.2 131.9h.1M471.1 130.3h.1M471 131.7h.1M496.1 94.3h.1M498.3 93.6h.1M495.2 95.6h.1M498.2 124.4h.1M499.9 120.7h.1M500.8 121.8h.1M460.1 118.4h.1M460.8 117.6h.1M462.5 119.2h.1M455.5 118.6h.1M456.9 119.2h.1M454.7 119.7h.1M456.7 142.6h.1M456.4 141.9h.1M455.8 142.2h.1M473.2 94.1h.1M472 92.8h.1M476.7 93.2h.1M485 101.6h.1M484.5 100.6h.1M482.1 101.6h.1M460.5 93.3h.1M460.4 93.7h.1M460.6 94.7h.1M474.7 135.4h.1M473.2 135.6h.1M471.5 137.3h.1M461.5 86.8h.1M462 85.7h.1M461.6 84.5h.1M467.8 93.7h.1M468.4 91.7h.1M468.9 91.6h.1M515.2 123.2h.1M516.1 122.7h.1M516.5 122.2h.1M438 145.8h.1M436.7 144.9h.1M437.8 145.7h.1M489.7 112.8h.1M490.5 111.3h.1M490.3 111.6h.1M467.5 122.1h.1M467.4 123.2h.1M467.9 121.6h.1M452 134.2h.1M453.3 135.8h.1M451.8 133.5h.1M476.5 127.8h.1M476.8 128.6h.1M478.1 131h.1M448 117.6h.1M448.9 117.7h.1M450.9 116.8h.1M504.8 95.3h.1M504.4 94.5h.1M506.1 96.2h.1M520 138.3h.1M521 140.4h.1M519.1 137.6h.1M488.9 122.8h.1M486.5 120.5h.1M488.4 121.1h.1M495.2 120.8h.1M496.8 119.4h.1M495.2 121.2h.1M479.8 115.6h.1M480.1 115.8h.1M480.8 116.6h.1M455.1 146.7h.1M456.1 145.7h.1M457.9 144.8h.1M452.2 124h.1M452 126h.1M453.2 123.8h.1M444.1 127.9h.1M443.6 127.4h.1M444.7 126.3h.1M438.5 103.7h.1M442 103.2h.1M439.9 102.4h.1M477.2 111.5h.1M475.3 112.9h.1M475.1 114.8h.1M466.6 124.9h.1M468.7 124.9h.1M466.6 124h.1M476.8 106.9h.1M480.4 107.5h.1M480.9 106.5h.1M453.9 134.9h.1M450.9 131.6h.1M451.6 132.5h.1M495.8 134.8h.1M495.1 134.3h.1M494.4 135.3h.1M438.6 110.8h.1M438.5 112.2h.1M438.7 111.8h.1M475.5 114.4h.1M477.8 113.7h.1M475.7 113.3h.1M480.5 123.6h.1M479.4 120.7h.1M479.9 120.8h.1M448.9 85.5h.1M450.5 84.5h.1M450.1 81.9h.1M496.6 137.4h.1M494.6 138.9h.1M494.4 137.6h.1M486.7 109.8h.1M489.4 109.9h.1M487.1 106.9h.1M436.1 130.1h.1M438.4 131.3h.1M440 132h.1M440.3 117.1h.1M438.6 119.2h.1M440.8 119.9h.1M497.3 109.2h.1M498.6 108h.1M501.9 108.8h.1M432.5 133.7h.1M430.9 131.5h.1M432.3 131.2h.1M513.5 128.4h.1M514.2 130.9h.1M513.3 130.2h.1M462.5 89.2h.1M462.1 88.1h.1M461.7 87.8h.1M466.4 101.2h.1M467.4 101.7h.1M467.3 101h.1M416.4 130.5h.1M414.7 132.7h.1M417.6 131.8h.1M448.6 107.6h.1M448.7 106.1h.1M448.9 108.8h.1M442.9 134.4h.1M442.2 135.8h.1M443.4 137.2h.1M476.2 128.8h.1M476.5 131.2h.1M477.6 130h.1M511.1 143.6h.1M507.8 142.9h.1M506.8 143.7h.1M474.1 111.7h.1M474.5 111.5h.1M474.8 111.9h.1M493.2 118h.1M494.1 117.3h.1M492.7 117h.1M428.6 138.8h.1M430 136.7h.1M430.8 140h.1M478.8 101.9h.1M478 101.1h.1M477.6 100.4h.1M495.2 116.3h.1M497.8 114.8h.1M495.6 115.2h.1M495.2 113.2h.1M490.9 113.5h.1M494.9 113.7h.1M457.3 130.3h.1M457.3 133.8h.1M454.8 130.8h.1M477.8 78.1h.1M479.5 79.1h.1M479.5 81.3h.1M455.2 127.6h.1M456 126h.1M456.1 128.9h.1M428.8 138.5h.1M430.1 137.5h.1M429.2 138.4h.1M489.9 149.9h.1M488.9 150.3h.1M489 150h.1M471.4 122.5h.1M471.6 121.7h.1M469.3 122.2h.1M507.7 144.1h.1M507.7 144.2h.1M509.4 142h.1M441.2 135.6h.1M445.5 135.8h.1M442.5 136.4h.1M463.1 130.4h.1M463.9 132.5h.1M463.9 131.2h.1M504.1 151.4h.1M504.6 149.3h.1M502.7 149.6h.1M510.7 139.3h.1M511 137.9h.1M510.1 137.9h.1M451.7 103.2h.1M452.9 103.8h.1M452.2 103h.1M477.7 130.4h.1M479 133.2h.1M476.8 132.5h.1M490.3 93h.1M490.5 96h.1M491.5 92.6h.1M498 134.2h.1M500.4 134.2h.1M499.3 135h.1M480 124h.1M478.8 123.5h.1M479.1 123.3h.1M506.3 115.2h.1M504.8 116.2h.1M507.6 115.2h.1M423.4 139.3h.1M424.9 139.4h.1M422.6 137.3h.1M486.4 94.1h.1M485.1 95h.1M485.5 95.4h.1M433.7 129.7h.1M433.2 129.4h.1M433.8 129.6h.1M505.8 144.6h.1M505 144.2h.1M504.3 146.6h.1M472 88.7h.1M472.4 88.3h.1M471.4 88.9h.1M481.8 91.6h.1M481.6 93.3h.1M479.2 94.1h.1M513 101.6h.1M513 100.2h.1M513 96.7h.1M451.8 88.4h.1M452.9 91h.1M451.7 88.3h.1M462.9 82.6h.1M463.6 85h.1M461.4 86.8h.1M474.8 96.1h.1M476.4 96.5h.1M473.4 96.5h.1M452.5 114.9h.1M450.9 117.9h.1M449.7 116.7h.1M493.4 115.7h.1M495 117.8h.1M494 115.5h.1M459.5 121.8h.1M463 123.5h.1M460.1 122.3h.1M493.5 104.9h.1M495.4 104.5h.1M495.9 103.4h.1M499.8 125.1h.1M502.2 125.1h.1M501.2 125h.1M503.5 113.5h.1M504.8 113.7h.1M505.3 114.3h.1M459.5 142.3h.1M460.2 141.8h.1M459.9 143.7h.1M460.1 145.3h.1M461.8 144.9h.1M461.8 145.2h.1M417.8 141.5h.1M419.7 141.4h.1M418.2 140.5h.1M462.6 141.2h.1M462.2 142.6h.1M462.7 142.5h.1M491.7 121.1h.1M492.1 121.7h.1M489.4 120.5h.1M463.4 114.1h.1M461.3 115.5h.1M462.6 114.4h.1M449.5 90.3h.1M449.6 89.5h.1M453.3 91.8h.1M437.3 116.8h.1M438.3 120.1h.1M435.4 118.6h.1M431.6 114.7h.1M431.8 117h.1M433 114.3h.1M455 125.7h.1M457.7 126.3h.1M457.8 127.8h.1M461.5 109.3h.1M463.4 111h.1M463.7 110.2h.1M518.8 137.3h.1M517.8 138.1h.1M518.4 137.9h.1M446.9 120.5h.1M445.8 118.2h.1M445.7 118.9h.1M427.5 105.2h.1M429 107.4h.1M430.1 104.5h.1M485.3 106.5h.1M483.2 104.9h.1M482.4 105.7h.1M486.5 118.1h.1M485.7 118.7h.1M486.5 120.3h.1M451.5 122.1h.1M453.7 122h.1M453.4 123.3h.1M471.6 128.6h.1M469.3 131.1h.1M470 131.8h.1M479.1 104.7h.1M481.4 101.5h.1M479.4 106.1h.1M433.1 107.3h.1M436.1 106.3h.1M436.5 107.7h.1M441.2 152.8h.1M440.6 152.4h.1M440.2 153.9h.1M450.5 87.3h.1M451.9 89.5h.1M450.6 89.8h.1M482.9 142.7h.1M482.2 139.9h.1M485.5 142.7h.1M440 110.8h.1M438.6 112.5h.1M441 113.3h.1M448.8 130.6h.1M448.6 129.7h.1M448.9 130.8h.1M521.1 122.3h.1M518.7 123h.1M521.2 121.4h.1M448.7 140.1h.1M446.8 142h.1M446.8 142.3h.1M471.6 113.4h.1M468.9 116.1h.1M468.4 111.8h.1M452.5 82.2h.1M452.1 82.2h.1M451.7 80.9h.1M472.3 113.8h.1M472.6 114.4h.1M472.8 113.7h.1M435.1 134.3h.1M437.7 133.3h.1M438.1 133.9h.1M494.3 103h.1M494.9 102.3h.1M495.5 103.1h.1M444.6 128.1h.1M446.5 129.4h.1M446 128h.1M477.2 127.6h.1M478.3 127h.1M477.5 128.5h.1M510.3 140.7h.1M509.3 143.6h.1M510.7 143.4h.1M453.7 113.4h.1M454.1 111.4h.1M452.8 112.5h.1M457.6 132.2h.1M456.8 130.7h.1M458.1 130.6h.1M484.9 129.1h.1M485.7 128.4h.1M486.4 129.6h.1M453.1 98.6h.1M454.6 100.2h.1M453.6 97.9h.1M485.2 108.7h.1M484.2 111.1h.1M485.8 109.9h.1M506 124.3h.1M505.9 123.9h.1M506.4 124.9h.1M433.4 138.3h.1M434.3 139.4h.1M432.9 140.3h.1M441.9 138h.1M444.6 136.9h.1M443.4 136h.1M499.4 142.8h.1M498 143.2h.1M498.3 142.6h.1M432.1 107.8h.1M429.5 109.8h.1M432.1 108.7h.1M423.7 133.1h.1M424 133.2h.1M424.3 133.7h.1M490.7 91.4h.1M490.4 89.8h.1M493.3 91.5h.1M427.8 107h.1M425.4 107.2h.1M427.2 103.8h.1M511.8 134.9h.1M513.3 134.6h.1M513.6 135.6h.1M495.1 116.9h.1M491.8 114.3h.1M493.3 115.8h.1M492.9 111.2h.1M493.1 113.6h.1M493.2 110.8h.1M495.6 125h.1M498 124.5h.1M495.9 123.4h.1M441.8 115.9h.1M439.9 117h.1M440.2 116.8h.1M482.2 135.5h.1M481.6 134.7h.1M482 133.8h.1M521.4 129h.1M520.4 127.6h.1M522.3 127.2h.1M460.2 125.3h.1M460.7 125.2h.1M459.6 126.7h.1M489 129.9h.1M490.7 130.3h.1M488.4 130.3h.1M450 146.9h.1M451.5 148.8h.1M449.9 145.2h.1M454.2 144.1h.1M454.3 146.9h.1M456.1 144h.1M492.3 102.2h.1M493.3 101.5h.1M492.3 100.1h.1M430.6 108.4h.1M432.1 108.8h.1M433.1 107.8h.1M460.4 113.8h.1M458.8 112.7h.1M460.3 113.4h.1M448.9 124.3h.1M448.7 122.2h.1M447.2 124.6h.1M457.9 120h.1M459.1 118.6h.1M459.9 119.8h.1M491.6 110.3h.1M490.9 112.8h.1M492.8 112.1h.1M492.4 97.3h.1M490.2 98.1h.1M491.4 98.5h.1M522.2 132.9h.1M522.7 134.5h.1M521.1 136.2h.1M442.7 144.5h.1M442.8 142.7h.1M442.2 144.6h.1M431 119.9h.1M433.6 118h.1M432 120.1h.1M466.9 120.9h.1M467.3 118.8h.1M465.5 119.7h.1M448.5 142.2h.1M452.4 142.1h.1M449.3 142.7h.1M508.8 142.1h.1M508 142.5h.1M508.5 143h.1M489.9 109h.1M487.4 110.6h.1M489.5 111.8h.1M487.4 82.6h.1M487.8 83h.1M488 83.9h.1M488.1 99.2h.1M491.6 101.2h.1M487 99.6h.1M479 97h.1M479.4 94.2h.1M479.8 94.7h.1M505.1 126.2h.1M504.8 126.7h.1M505.6 126.8h.1M450.6 134.1h.1M450.1 134.6h.1M450.5 135.5h.1M470 96.8h.1M470.3 95.5h.1M469.7 97.5h.1M440 138.8h.1M440.6 138.4h.1M439.2 140.5h.1M465.5 140.2h.1M466.4 140.6h.1M469.1 140h.1M476.1 114.3h.1M476.8 114.8h.1M477.2 115h.1M483.1 92.7h.1M479.9 91.3h.1M480.1 93h.1M490 136.8h.1M489.2 138.1h.1M487.1 137.7h.1M506.1 144.4h.1M504 143.1h.1M504.2 145h.1M456 105.1h.1M456.2 106.8h.1M457.6 104.5h.1M479.6 144.4h.1M481.6 147.1h.1M479.4 145.5h.1M434.3 133.3h.1M436.1 135.6h.1M438.7 133.2h.1M485.2 117.9h.1M484.6 118.6h.1M486.2 115.5h.1M437.7 110.9h.1M438.4 107.1h.1M434.4 106.1h.1M463 85.2h.1M462.8 87.4h.1M461.5 86h.1M504.1 119.5h.1M505.4 118.7h.1M505 118.8h.1M487 147.3h.1M485.5 147.1h.1M485 148.1h.1M508.2 109.2h.1M505.1 109h.1M505.1 110.3h.1M500.6 123.9h.1M501.4 124.8h.1M502.2 124.5h.1M452.2 87.1h.1M454 85.1h.1M453.6 85h.1M483.3 96.8h.1M483 97.7h.1M484.8 96.3h.1M459.9 127.3h.1M458.9 128.9h.1M457.2 129.2h.1M489 122.1h.1M487.6 122.7h.1M488.4 125.6h.1M472.8 138.3h.1M472 139.3h.1M474.1 140.2h.1M454.2 109h.1M454.3 107h.1M454.1 107.3h.1M464.7 123.4h.1M462.2 121.6h.1M463.6 120.1h.1M483.4 117.5h.1M482.2 115.5h.1M484 115.4h.1M473.4 88.8h.1M472.4 87.8h.1M471.5 89.6h.1M469.3 85.6h.1M470.2 86.9h.1M470 85.8h.1M461.1 135.6h.1M460.9 137.6h.1M461.6 137.4h.1M506.5 99.1h.1M506.3 99.6h.1M505.6 97.9h.1M460.8 147.6h.1M462.1 147.7h.1M460.9 148.3h.1M439.6 128.2h.1M440.1 127.7h.1M439.7 128.1h.1M500.3 106.1h.1M500.9 106.5h.1M500 106.3h.1M484.8 98.4h.1M482 99h.1M483 97.3h.1M466.8 124.4h.1M466 125h.1M467.9 124.4h.1M481 127.7h.1M480.3 129.7h.1M479.4 128.9h.1M472.1 121.7h.1M472.2 120.2h.1M470.2 122.6h.1M460.8 138h.1M458.8 139.9h.1M460.3 138.1h.1M500 155.1h.1M501 156h.1M500.1 155.1h.1M505.2 133.6h.1M502.5 135.1h.1M506.7 134.6h.1M450 118h.1M451.3 117.9h.1M449.6 117.5h.1M485.9 98.6h.1M486.5 101h.1M485.8 100.4h.1M460.4 86.5h.1M462.2 85.7h.1M459.8 87.7h.1M456.1 115.5h.1M457.3 113.2h.1M457.8 113.4h.1M492.2 136.8h.1M494.1 137.5h.1M493.2 137h.1M485.2 144.5h.1M484.6 145h.1M484.6 145.6h.1M459.9 127h.1M456.9 126.9h.1M457.3 127.1h.1M434.1 98.4h.1M435.3 100.3h.1M437.6 101h.1M456.2 134.2h.1M454.4 134.3h.1M455.8 133.7h.1M495.7 118.1h.1M495.9 117.8h.1M494.3 119.1h.1M503 109.7h.1M503.8 110.3h.1M504.3 109.1h.1M456.4 101.8h.1M454 100.2h.1M455.4 100.3h.1M431.6 108.2h.1M430.6 105.8h.1M431.2 106.2h.1M430.2 102.9h.1M429.5 103.5h.1M430.2 103.8h.1M433 135.7h.1M432.3 137.4h.1M431.4 135.2h.1M494.7 141.6h.1M498.7 139.5h.1M496.3 140.7h.1M456.6 134.2h.1M455.7 135.4h.1M454.2 135.8h.1M475.8 84.9h.1M475.2 85.2h.1M473.4 85.2h.1M472.7 129.7h.1M472.1 129.2h.1M472.8 129h.1M488.9 126.4h.1M489 125.6h.1M492.3 125.4h.1M494.5 144.9h.1M492.9 146.4h.1M491.5 144.3h.1M452.7 145.1h.1M457.3 144.9h.1M456.3 145.7h.1M443.1 154.8h.1M443.4 155.7h.1M442.9 157h.1M455.3 96.6h.1M454.9 97.8h.1M456.9 97.1h.1M443.6 115.5h.1M443.8 114.5h.1M441.9 113.2h.1M470.8 128.4h.1M472 128.4h.1M472 127.5h.1M421.8 133.2h.1M422.6 134.2h.1M419.2 132.1h.1M437.2 99.9h.1M438.6 99.5h.1M437.4 96.3h.1M516.8 140.7h.1M515.8 140.1h.1M517.8 138.2h.1M482.9 123.2h.1M483 124.1h.1M482.9 124.1h.1M455.4 119.7h.1M454.8 117.8h.1M453.9 118.8h.1M473 104.9h.1M473.2 103.3h.1M475.3 102.7h.1M486.8 126.3h.1M489.1 124.7h.1M484.7 125.7h.1M498.4 115h.1M498.2 112.3h.1M498.8 113.8h.1M478.9 88.4h.1M479.3 90.4h.1M479 88.6h.1M469.9 119.7h.1M473.3 117.3h.1M470.4 119.9h.1M451.2 122.7h.1M452.3 123.1h.1M452.6 121.4h.1M501.3 109.4h.1M499 111.9h.1M499 109.6h.1M474.2 85.4h.1M473.5 82.2h.1M475.2 83.7h.1M454.1 144.5h.1M453.2 144.4h.1M453.2 141.9h.1M450.3 150.8h.1M447.1 148.7h.1M448.4 149.6h.1M474.7 79h.1M475.2 78h.1M475.7 81.8h.1M480.2 109.7h.1M483.2 112.3h.1M483.8 109.3h.1M428.7 106.9h.1M428.2 108.4h.1M429.9 108.1h.1M465.8 131.9h.1M466.7 132.7h.1M464.4 130.6h.1M494.9 136.1h.1M494.9 139.3h.1M495 139.5h.1M467 131.1h.1M466.5 129.8h.1M464.1 131.3h.1M486.5 104.7h.1M484.7 103.7h.1M485.4 104.5h.1M491.9 143.9h.1M492.9 144.8h.1M491.2 145.8h.1" stroke="#000" stroke-opacity="0.15" stroke-width="1.4"/></g>
<g filter="url(#sb)"><path d="M403 192.1h.1M403.1 189.5h.1M403.5 191.5h.1M373.1 198.3h.1M374.8 199.4h.1M373 199.6h.1M388.9 191.9h.1M388.8 193.6h.1M390.3 191.2h.1M388.5 183.5h.1M389.8 181.9h.1M390 180h.1M380 198.1h.1M379.9 197.3h.1M378.7 197.9h.1M389.8 191.6h.1M390.4 191.8h.1M389.9 190.1h.1M374.1 186.1h.1M375.1 186.9h.1M375.6 185.6h.1M415.9 173.3h.1M415.8 173.1h.1M415.4 171.1h.1M396.9 170.5h.1M397.1 171.2h.1M397.4 171.1h.1M398.9 186.2h.1M400.4 186.8h.1M398.1 188.5h.1M405.6 178h.1M407.3 178.9h.1M406.3 179.9h.1M429 177.5h.1M431.1 176.4h.1M429.4 177.3h.1M418 190.1h.1M416.2 187.3h.1M417.8 189.6h.1M394 172.5h.1M396.6 169.7h.1M394.1 172.2h.1M392.3 185.6h.1M386.9 183.7h.1M389.8 185.9h.1M408.3 197.6h.1M408.2 197.1h.1M405.9 197.4h.1M392.1 165.8h.1M395.2 167.9h.1M394.6 164.5h.1M384.5 192.4h.1M383.6 193.8h.1M384.6 192.7h.1M397.9 188h.1M396 190h.1M397 188.5h.1M370.2 193.1h.1M369.3 193h.1M368.8 191.4h.1M387 181.3h.1M385.7 182.4h.1M387.3 180.1h.1M403 193.1h.1M402.4 194.8h.1M403.2 194.3h.1M369 193.1h.1M368.1 192.4h.1M368.1 191h.1M385.7 209.1h.1M385.7 209.5h.1M381.6 207.3h.1M380.8 185.7h.1M379.9 185.9h.1M379.5 188.6h.1M422.3 178h.1M424.3 178.8h.1M422.1 178.6h.1M362.6 200.6h.1M361.8 202.7h.1M364.3 201.5h.1M390.1 195.6h.1M393 196.5h.1M391.6 198.4h.1M370.9 195.4h.1M370.9 196.9h.1M371.8 194.7h.1M422.3 168.5h.1M421.7 167.3h.1M422.5 169h.1M402.4 186.7h.1M405.5 187.5h.1M403.7 185.7h.1M402.4 197.4h.1M401.6 195.3h.1M399.8 195.6h.1M409.7 169.7h.1M407.4 170.1h.1M407.5 171.4h.1M375.1 199.5h.1M373.7 200.1h.1M375.5 200.1h.1M416.6 189.1h.1M415.7 188.9h.1M415.9 190.7h.1M397.5 182.7h.1M395.5 181.3h.1M397.3 181.9h.1M370.5 193.6h.1M369.8 195.2h.1M368.8 193.1h.1M412.7 163.4h.1M414.3 162.5h.1M413.9 161.9h.1M377 187.3h.1M377.4 186h.1M377.8 187.7h.1M403.5 178.6h.1M404.2 181.4h.1M404.5 181.8h.1M403.8 194.3h.1M405.6 193.7h.1M406.3 194.3h.1M394.3 177.4h.1M394.5 178.1h.1M394.7 176.3h.1M376.5 184.7h.1M378.6 184h.1M378.1 184.9h.1M376.4 176.8h.1M374.9 172.6h.1M377 175.8h.1M382.3 195.3h.1M382.4 195.5h.1M382.1 195.3h.1M398.4 194.2h.1M398.9 194.9h.1M399 196.1h.1M382.6 187.4h.1M383.9 188.6h.1M383.7 187.7h.1M390.4 196.6h.1M392.5 198.2h.1M390.3 197.5h.1M385.6 172.9h.1M386.8 170.1h.1M384.4 170.1h.1M396.9 191.5h.1M396.4 193h.1M396.2 190.4h.1M396.4 187.8h.1M396.7 187.9h.1M397.7 189.8h.1M375.6 189.7h.1M373.5 190.9h.1M375.1 191.1h.1M404.6 174.6h.1M404.3 172.4h.1M403.3 174.4h.1M377.9 190.6h.1M378.9 190.9h.1M376.5 190.2h.1M405.6 198.7h.1M409 198.3h.1M407.7 200.8h.1M384 197.6h.1M384 198.3h.1M381.3 199.2h.1M419.9 173.2h.1M420.7 172.4h.1M419.7 175.1h.1M413.2 195.7h.1M414.7 194.3h.1M414.5 196.3h.1M384.6 193.9h.1M381.8 194.1h.1M382.8 195.2h.1M381.3 195.6h.1M381.6 193.9h.1M379.3 194.1h.1M391.7 181.7h.1M393.6 182.2h.1M393.5 183.3h.1M387 171.4h.1M388.5 169.7h.1M386.5 171.4h.1M408.2 162.4h.1M407 163.9h.1M407.9 160.3h.1M420.3 193.7h.1M418.5 192.7h.1M417.3 192h.1M402.2 199.1h.1M402.3 195h.1M402.5 197.3h.1M387.5 202.5h.1M389.1 200.7h.1M386.7 199.4h.1M393.1 180.3h.1M392.8 183h.1M391.9 182h.1M411.2 193.3h.1M412.4 192.8h.1M410.5 192h.1M371.7 196.2h.1M372.3 195.3h.1M371.5 193.4h.1M385.9 202.9h.1M384.6 204.2h.1M382.4 203h.1M384.4 192h.1M384.1 192h.1M383.7 193.9h.1M408.4 187.3h.1M410.7 185.7h.1M409.4 186.9h.1M397.2 171.6h.1M396.9 171.1h.1M398 171.7h.1M375.3 190.9h.1M374.8 190.4h.1M373.3 190.1h.1M374.5 189.1h.1M373.4 188.5h.1M373.9 189.4h.1M368.8 199h.1M370.2 197.2h.1M370.5 199h.1M408 181.7h.1M408.1 180h.1M408.3 178.8h.1M393.6 188.7h.1M394.3 188h.1M395.7 187h.1M406.9 182.4h.1M408.3 184.1h.1M408.9 184.4h.1M372.6 192.9h.1M371.7 193.8h.1M372.2 194h.1M416.3 179.1h.1M416.2 179.8h.1M414.7 179h.1M387.3 183.4h.1M388.9 183.1h.1M387 184.1h.1M377.9 204.2h.1M379.6 203.4h.1M378.9 201.9h.1M384.6 199.8h.1M383.7 199.6h.1M384.4 196.9h.1M377.3 197.3h.1M375.5 197.2h.1M377.5 195.7h.1M379.9 186.6h.1M379.9 185.4h.1M377.6 186.2h.1M384.9 194.9h.1M386.9 194.6h.1M384.5 195.7h.1M409.7 176.1h.1M411.9 174.8h.1M408.4 176.3h.1M394.4 188.7h.1M394.6 190.9h.1M396.2 189.4h.1M378.9 189.4h.1M377.3 191.2h.1M377.6 191.2h.1M370.7 186.4h.1M371.3 186.3h.1M370.3 188h.1M425.9 183.6h.1M426.9 183.3h.1M426.4 182.3h.1M387.8 177h.1M389.6 175.2h.1M386.9 176.9h.1M412.1 188.9h.1M412.9 188.8h.1M415.7 188.4h.1M407.4 190.9h.1M404.5 191h.1M406.5 193h.1M393.2 186.4h.1M391.7 185.4h.1M392.3 186.2h.1M381.3 190.5h.1M383.2 190.6h.1M383.9 191.8h.1M384.1 189.1h.1M387.3 188.6h.1M385 188.9h.1M407.1 178.5h.1M409.1 176.1h.1M406.8 178.1h.1M386.8 181.6h.1M387.5 181.3h.1M384.2 181.2h.1M387.1 195.2h.1M387.8 195.6h.1M387.6 196.9h.1M377.7 196.4h.1M375.5 197.1h.1M374.6 196.9h.1M372.8 202.1h.1M375.4 199.7h.1M372.9 199.6h.1M419 189.1h.1M415.9 191.1h.1M418.1 192.3h.1M415.2 177.7h.1M416.1 177.9h.1M415.7 177.9h.1M415.4 176.6h.1M415.8 177.3h.1M415.5 180.8h.1M374.7 196.5h.1M375.3 195.4h.1M372.7 195.1h.1M423.9 175.4h.1M425.7 175.4h.1M428.1 175.4h.1M386.6 171.9h.1M386.2 173.9h.1M384 174h.1M413.3 176.7h.1M410.7 180.1h.1M413.3 175.1h.1M371.9 195.3h.1M373.4 194.4h.1M373.3 196.6h.1M425.5 179.4h.1M424.5 178.4h.1M424 180.7h.1M412.2 181.5h.1M410.6 180h.1M412.8 181.6h.1M383.7 183.3h.1M385.1 182.9h.1M383.2 182.6h.1M423.8 180.1h.1M425.6 177.1h.1M424.7 179.4h.1M365.7 197.7h.1M366.1 198.2h.1M365.9 197.8h.1M408.9 163.7h.1M409.4 162.7h.1M411 162.3h.1M387.8 204.5h.1M387.2 202.6h.1M387 204.6h.1M417.8 178.6h.1M419.4 176.5h.1M418.2 176.1h.1M382.1 202.7h.1M383.3 204h.1M382.4 203.4h.1M394 190.4h.1M390.5 189.9h.1M392.2 189.9h.1M409.1 192.8h.1M409.1 192.1h.1M409.1 189.9h.1M388.4 200.9h.1M387.9 200.5h.1M390.6 200.6h.1M375.2 184.2h.1M374 184h.1M377 183.8h.1M395.2 183.9h.1M395.7 185.7h.1M394.9 186.3h.1M384.1 202.5h.1M383.7 199.6h.1M384.8 200.6h.1M383.7 188.4h.1M383 186.5h.1M383 187.4h.1M410.5 176.8h.1M412.6 179.3h.1M414.5 178.5h.1M393.1 173h.1M390.2 170.6h.1M389.9 172.8h.1M379.1 208.9h.1M380.2 207.1h.1M378.9 207.9h.1M399.6 173.5h.1M397.9 174.2h.1M397.9 175.3h.1M375.5 198.6h.1M375.8 198.5h.1M376.2 199h.1M416.7 174.3h.1M415.1 174.3h.1M414.5 174.3h.1M417.9 196.6h.1M420 195.5h.1M418.5 194.2h.1M405.4 183.1h.1M403.3 183.8h.1M405.8 183.7h.1M373.8 183.1h.1M370.2 184.8h.1M373 185.7h.1M379.2 199.3h.1M378.9 201.1h.1M380.6 200.3h.1M412.5 181.3h.1M410.9 184.5h.1M411.1 182.3h.1M378 185.6h.1M377 184.6h.1M377.6 182.8h.1M387.8 192.5h.1M389.3 191.5h.1M388 192.7h.1M386.2 179.1h.1M382.7 178.5h.1M384.6 176.8h.1M376.9 194.1h.1M377.3 196.3h.1M377.3 193.7h.1M374.5 176h.1M375.7 175.6h.1M373.8 174.8h.1M377.2 172.5h.1M377.4 172.2h.1M378.3 171.7h.1M376.1 192.5h.1M376.5 191.8h.1M375.9 190.4h.1M399.5 164.4h.1M401.1 164.1h.1M399.2 164.8h.1M397 183h.1M396 185.3h.1M395 183.4h.1M378.5 202.7h.1M379.6 201.3h.1M379.9 200.9h.1M387 196.9h.1M387.1 197.8h.1M386.6 196.8h.1M388 201.3h.1M390.2 201.5h.1M389 202h.1M409.2 180.1h.1M408.5 181h.1M411.6 181.5h.1M401.1 179.8h.1M400.8 181.2h.1M399.7 181.2h.1M373 200.4h.1M374.4 198.7h.1M374 200.6h.1M427 174.6h.1M426.5 173.5h.1M428.2 173.6h.1M386.7 202h.1M387.8 204.8h.1M387.8 203h.1M416.2 171.7h.1M415.1 172.5h.1M413.1 171.5h.1M378.9 201.5h.1M377.3 203.1h.1M379.9 203h.1M408.1 190.2h.1M408.3 189.4h.1M406.8 191h.1M391.3 189.7h.1M391.1 189.3h.1M390.6 188.5h.1M404.8 172.8h.1M404.1 174.2h.1M402.9 173.4h.1M410.5 194.4h.1M411.9 193.9h.1M411.4 193.7h.1M399.6 186.1h.1M399.5 184.5h.1M399.4 187.6h.1M371.9 189.5h.1M369.8 191.1h.1M372.2 189.9h.1M391.9 196.8h.1M394.4 195.2h.1M393.8 193.1h.1M375.2 184.7h.1M378.4 181.9h.1M377.6 184.4h.1M382.3 194.1h.1M379.6 193.2h.1M382.1 193.9h.1M392 175.6h.1M394.1 175.8h.1M393.7 174.9h.1M432.2 185.2h.1M432.4 187.4h.1M430.6 185.7h.1M414 167.7h.1M414.1 168.4h.1M412.6 169.3h.1M389.3 193.3h.1M389.3 195h.1M390.6 193.7h.1M383.2 205.3h.1M384.8 205.7h.1M384 206.6h.1M433.1 181.5h.1M431.8 180.7h.1M434 179.9h.1M388.8 198.3h.1M391.3 198.9h.1M392.2 199.5h.1M389 189.6h.1M391.7 189.7h.1M391.1 189.7h.1M383.9 195.9h.1M384.2 197.8h.1M385 198.1h.1M398.3 201.1h.1M400 201.2h.1M397.9 201.6h.1M373 188.5h.1M374.3 187.1h.1M370.5 188.4h.1M413.5 180h.1M412.3 180.7h.1M413.2 179.1h.1M419.3 182h.1M422.8 179.3h.1M421.3 180.1h.1M382.6 189.5h.1M383.6 189.4h.1M383.4 190.9h.1M384.9 176.7h.1M385.6 176.5h.1M385.3 174.6h.1M369.2 199.1h.1M368.8 201.3h.1M370.8 198.1h.1M417.3 181.8h.1M419.1 183h.1M416.4 182.3h.1M395.9 166.3h.1M396.2 165.6h.1M395.7 164.5h.1M387.9 177.2h.1M390.1 175.4h.1M387 176.1h.1M396.8 171.7h.1M396.5 171h.1M397.7 170.1h.1M418.7 168.8h.1M417.5 166.4h.1M418.1 167.9h.1M397.1 170.9h.1M398.6 168.3h.1M396.7 168.9h.1M395.2 174.5h.1M395.5 172.5h.1M396.9 173.8h.1M384.4 203.9h.1M383.2 203.3h.1M385.1 203.2h.1M378.1 196.7h.1M378.7 198h.1M377.6 196.5h.1M380.9 205.3h.1M379.2 203h.1M378.9 201.4h.1M394.1 179.5h.1M394.7 179.4h.1M395.1 179.9h.1M394.6 199.6h.1M393.5 203h.1M394.8 202.7h.1M382.7 187.7h.1M380.7 188.4h.1M383.1 186.2h.1M406.9 169.9h.1M406.3 171h.1M406.9 170.7h.1M416.6 176h.1M413.9 176.8h.1M417.5 176.1h.1M384.1 191.8h.1M384 193.1h.1M384 197.1h.1M405.3 190.1h.1M404.7 190.4h.1M404.1 188.9h.1M416 186.2h.1M417 185.3h.1M418.4 186.2h.1M419.7 174.2h.1M417.6 174h.1M420.1 173.8h.1M414.6 179.7h.1M415.7 181.1h.1M415.9 178h.1M403.6 187.4h.1M404.6 187.4h.1M405.5 187.6h.1M372.9 181.9h.1M374 182.7h.1M372.5 182.1h.1M381.4 186.9h.1M379.9 187.6h.1M380.7 186.5h.1M424.2 175.6h.1M423.7 176.1h.1M421.1 175.2h.1M371.4 202h.1M370.6 201.2h.1M372.9 200.6h.1M429.6 176.1h.1M431.5 173.9h.1M431.6 175.4h.1M396.1 191.5h.1M397.1 192.5h.1M398.1 193.3h.1M394.3 182.8h.1M395.7 182.8h.1M397.7 182.1h.1M391.5 188.8h.1M392.2 187.7h.1M389.8 189.6h.1M396.9 176h.1M397.3 177.7h.1M396.9 176.7h.1M399.7 194.5h.1M399 192.9h.1M399.8 191.8h.1M393.7 193.8h.1M392.3 194h.1M392.1 194.4h.1M398 189.3h.1M397.7 189.5h.1M398.8 189.2h.1M394.6 172.1h.1M396.3 170.3h.1M396.3 173.6h.1M372.5 205.8h.1M370.4 202.6h.1M371.7 202.8h.1M370.4 188.5h.1M369.2 188.2h.1M369.2 187.1h.1M365.8 199.8h.1M367.3 198.9h.1M369.2 199.3h.1M419.1 165.7h.1M419.9 166.1h.1M420.6 167.2h.1M418.9 189h.1M419.6 187.6h.1M419.3 187.8h.1M421.6 175.6h.1M421.6 175.9h.1M421.6 175.9h.1M416.6 166.6h.1M419.5 166.7h.1M416.4 167.7h.1M402.5 187.1h.1M402.3 188.9h.1M404.1 188.1h.1M399.5 200.3h.1M400.1 200.1h.1M400.8 201h.1M428.2 188h.1M428.5 190.8h.1M427.6 189h.1M387.2 204.1h.1M387.8 206.2h.1M388.2 204.2h.1M380.3 204.7h.1M381.8 204.8h.1M379.3 208.2h.1M414.1 178h.1M414.5 176.8h.1M414.1 177.8h.1M388.8 191h.1M390.1 194.4h.1M388.6 192.2h.1M417 185.7h.1M418.6 186.8h.1M418.8 189.5h.1M387 188.8h.1M386.1 188.2h.1M385.7 189.2h.1M389.6 205.3h.1M389.4 206.8h.1M390.9 206.1h.1M424.5 180.8h.1M424.5 180.3h.1M423.3 182.1h.1M367 191.1h.1M368.3 190.5h.1M367.3 191.4h.1M395.5 178.2h.1M394.8 179.6h.1M396.5 179.6h.1M386 191.6h.1M384.6 190.2h.1M385.5 188.7h.1M390.7 195.8h.1M390.1 195.3h.1M393 196.9h.1M423 174.9h.1M421.9 173.9h.1M422.1 175.8h.1M394.3 189.1h.1M394.7 189.8h.1M393.1 190.9h.1M392.6 189.6h.1M391.8 191h.1M392.5 193.3h.1M413.6 167.5h.1M413.3 170.1h.1M414.6 168h.1M378.6 201.6h.1M379.4 201.4h.1M379.3 202.7h.1M394.9 172.4h.1M396.6 174.8h.1M397 171.3h.1M425.1 179.2h.1M427.5 179.8h.1M426.6 175.6h.1M381.1 207.5h.1M380.5 208.7h.1M380.3 208.4h.1M374.8 189h.1M373 189.3h.1M373.2 186.4h.1M376.4 198.8h.1M374.8 199.8h.1M375.7 200.9h.1M393.9 197.9h.1M393 195.2h.1M392.7 198h.1M429.3 177.6h.1M428.5 178.3h.1M427.6 176.3h.1M402.1 178.5h.1M402 181.1h.1M401.6 179.8h.1M413.4 163.6h.1M411.8 166.2h.1M411.3 166.3h.1M377.8 193.6h.1M375.3 195.9h.1M378.3 197.8h.1M417.2 183.1h.1M417.7 183.7h.1M418.3 185.2h.1M377.5 190.5h.1M379.5 192.3h.1M380.4 191h.1M424.9 180.7h.1M425.6 178.8h.1M425.7 179.6h.1M396.3 184.6h.1M395.4 182.4h.1M397.2 183.6h.1M383.2 177.2h.1M384.2 175.7h.1M383.8 177h.1M424.2 166.9h.1M424.9 170.4h.1M425.2 169.1h.1M404.3 193.5h.1M407.7 191.4h.1M404 191.6h.1M363.4 199.2h.1M362.2 200.7h.1M362 197h.1M403.6 183.4h.1M405.9 184.7h.1M404.5 183.9h.1M425.6 167.5h.1M425.3 168.4h.1M428.1 169.7h.1M404.1 193.3h.1M404.3 194.3h.1M403.2 190.6h.1M406.3 197.9h.1M407.2 198.4h.1M406.5 198.2h.1M417.3 171.4h.1M414 170.9h.1M416.3 171h.1M410.4 168.2h.1M409.1 167.6h.1M409.7 168.7h.1M373.8 192h.1M375.1 189h.1M375.5 190.3h.1M398.7 185.6h.1M397.2 183.1h.1M396.7 185h.1M408.2 187h.1M406.1 186.8h.1M408.1 185.5h.1M386.9 191.5h.1M384.8 191.8h.1M385.2 190.9h.1M405.9 183h.1M406.9 184.5h.1M404.7 184.6h.1M376.6 203.1h.1M376.8 204.7h.1M378.6 203.9h.1M416.6 180.2h.1M417.5 181.3h.1M416.1 180.1h.1M387.2 193.6h.1M388.7 193.5h.1M385.5 194.8h.1M408.7 197.1h.1M409.1 195.8h.1M408.8 195.4h.1M368 193.1h.1M370.4 191.4h.1M369.2 195h.1M389.4 177.8h.1M386.8 180.2h.1M388.5 180.4h.1M417.5 178.8h.1M418.5 177.7h.1M417.1 176.6h.1M420.7 189.5h.1M421.1 189.1h.1M420.4 189.6h.1M372.9 185.2h.1M372.4 186.1h.1M372.4 186.6h.1M403.1 169.3h.1M403.7 170.2h.1M403.6 169.7h.1M382.3 189.9h.1M380.1 190.2h.1M379.7 187.5h.1M405.5 194.1h.1M404.8 197.2h.1M403.9 194.2h.1M412.1 166h.1M413.3 163.2h.1M410.4 164.6h.1M376.2 194.1h.1M377.3 193.2h.1M376.3 193.9h.1M381.1 187.9h.1M380.3 186.2h.1M381.7 186.6h.1M431.2 167.6h.1M430.7 168.6h.1M430.7 167.8h.1M368.3 190.6h.1M367.3 188.2h.1M368.6 184.5h.1M421.3 186.2h.1M421 187.6h.1M420 186.4h.1M379.2 198.3h.1M378.2 194.8h.1M377.2 195.3h.1M385.4 178.2h.1M387.4 179.6h.1M386.9 177.7h.1M403.8 194h.1M408 194.7h.1M404.4 194.3h.1M419.2 188.4h.1M420.9 191.5h.1M420.1 191.7h.1M379.8 202.8h.1M379 200.7h.1M379 201h.1M389.6 192.3h.1M389.4 192.3h.1M390 192.1h.1M368.9 201.9h.1M368.3 202.4h.1M368.9 204.2h.1M406.6 196.8h.1M406.8 196h.1M405.8 198.3h.1M366.5 189.2h.1M367.8 189.3h.1M369.5 189.2h.1M413 187.9h.1M411.9 188.1h.1M411.7 189.2h.1M380.3 190.9h.1M380.1 192.5h.1M380.9 191.2h.1M388.4 186.5h.1M388.3 189.8h.1M387.7 184.9h.1M401.6 167.9h.1M401.2 166.8h.1M402.6 167.5h.1M412.3 182.5h.1M408.6 182.3h.1M408.9 181.5h.1M398.1 168.5h.1M400.1 168.3h.1M397.5 169.4h.1M395.7 199.1h.1M396.2 200.1h.1M395.7 198.6h.1M399.5 178.6h.1M399.3 180.2h.1M400.6 179.2h.1M400.3 169.1h.1M402.8 170.1h.1M402.6 169.8h.1M401.4 169.5h.1M401.4 170.9h.1M400.8 168.2h.1M421.6 180.2h.1M421.1 182.7h.1M421.9 181.3h.1M403 182.5h.1M403.6 178.9h.1M404.9 179.9h.1M386.1 185.3h.1M386.2 185.1h.1M386.9 187.1h.1M375.3 184.1h.1M374.4 183.9h.1M373.2 183.3h.1M404.9 188.8h.1M404.3 189.3h.1M404.3 189.7h.1M378.6 200.7h.1M379.9 200.4h.1M378.4 199.4h.1M367 192.6h.1M370.8 192.8h.1M368.6 192.2h.1M417 195.2h.1M417.2 196.3h.1M416.7 196.4h.1M386.2 191.1h.1M386 192.4h.1M386.6 193.5h.1M388 194.5h.1M386.5 192.8h.1M388.6 192.2h.1M410.3 184.5h.1M411.6 187h.1M411.3 185.8h.1M390.1 197.7h.1M393.5 195.6h.1M392.6 195.6h.1M389.7 191.8h.1M389.6 187.9h.1M390.4 190.3h.1M412.7 166.8h.1M412.1 167.9h.1M411.2 166.2h.1M402.2 184.7h.1M402.1 182.4h.1M400.1 182.8h.1M365.4 199.6h.1M365.9 198.8h.1M369.1 198h.1M419.5 177.1h.1M421.9 176.8h.1M420.7 175h.1M377.8 204.8h.1M377.9 203h.1M374.3 204.5h.1M377.7 185h.1M377.9 185.4h.1M379.5 185.9h.1M403.4 174h.1M405 174.1h.1M404.9 172.8h.1M406.5 181.2h.1M409 180.4h.1M408.7 184.8h.1M370.9 188h.1M374.2 186.5h.1M370.7 186.2h.1M377.9 179.2h.1M379.6 181h.1M379.3 183.9h.1M403.1 170.1h.1M402.7 172h.1M401.4 169.4h.1M379.6 199.5h.1M379.3 200.6h.1M381.8 198.3h.1M389.9 176.9h.1M387.5 176.3h.1M388.5 177.3h.1M398.5 197.8h.1M399.3 198.3h.1M399.2 196.8h.1M380.5 181.4h.1M381.9 179.7h.1M380.3 181h.1M410.7 172.7h.1M410.9 171.9h.1M411.3 172.6h.1M396.9 181.9h.1M394.4 182.5h.1M394.9 182.2h.1M418.8 176h.1M418.4 176.9h.1M418.5 175.7h.1M381.6 178.3h.1M382.7 179.7h.1M382.8 179.4h.1M409.9 172.3h.1M409.1 174.5h.1M410.4 172.1h.1M395.7 183h.1M395.5 181.5h.1M393.7 183.6h.1M391.8 168.7h.1M390.9 167.2h.1M391.2 169.2h.1M383.1 188.1h.1M384.1 188.1h.1M383.3 188.4h.1M418.8 182.9h.1M417.3 179h.1M417.2 181.5h.1M385 187.2h.1M382.7 185.6h.1M383.6 187.5h.1M386 183.7h.1M386.5 183.7h.1M385.4 182.3h.1M411.9 177.2h.1M411.2 176.4h.1M412.7 178.8h.1M390.3 193.1h.1M389.5 196.4h.1M389.6 196.6h.1M377.5 205.9h.1M376.2 204.3h.1M376.3 205.1h.1M403.2 182.1h.1M398 180.9h.1M402 181h.1M400.6 186.8h.1M399.4 186.5h.1M400.4 188.8h.1M383.4 208.7h.1M381.9 206.7h.1M382.7 208h.1M389.6 163.9h.1M390 163.5h.1M390.3 165.7h.1M408.1 175.4h.1M409.1 172.6h.1M408.5 173.2h.1M399.7 177.1h.1M400.8 174.4h.1M398.1 174.7h.1M380 195.8h.1M380.8 198.2h.1M378.4 197.4h.1M409.8 164.3h.1M409.9 163.7h.1M409.7 163.3h.1M424.8 173.2h.1M424.4 173.7h.1M424.8 172.7h.1M398 163.3h.1M396.3 162.6h.1M395.3 163.5h.1M378.7 171.7h.1M381.4 172h.1M380.7 172.5h.1M413.7 190h.1M416.9 188.4h.1M415 188.2h.1M382.7 181.1h.1M381.7 179.8h.1M382.5 181.4h.1M393 196h.1M393.7 197.5h.1M393.3 197.1h.1M395.7 189.3h.1M393.2 187.7h.1M393.6 188.5h.1M388.1 195.6h.1M385.9 196.3h.1M387.3 194.9h.1M378.7 187.1h.1M384.5 184.6h.1M382.6 185.8h.1M411.8 177.6h.1M415.1 176.7h.1M410.8 175.9h.1M403.8 201.3h.1M401.4 201.5h.1M401.2 200.8h.1M374.7 175.5h.1M376.2 173.7h.1M375.7 172.7h.1M399.9 160.6h.1M400.1 160.8h.1M400.8 160h.1M433.3 184.9h.1M430.7 186.7h.1M431.7 186.2h.1M405.8 185.2h.1M405 187.6h.1M407.9 187.8h.1M368.3 205.9h.1M368.9 205.5h.1M367.2 203.5h.1M396.5 183.3h.1M397 184h.1M396.8 182.2h.1M414.6 170h.1M414.9 170.8h.1M413.7 172.9h.1M400.9 188.2h.1M398.9 189.2h.1M401.6 193.4h.1M378 194.9h.1M378.9 195.8h.1M378.1 196.3h.1M412.1 170.7h.1M411.3 170.1h.1M410.3 172h.1M396.3 175.7h.1M392.8 175.9h.1M393 176.5h.1M377.2 188.5h.1M374.8 188.6h.1M377.8 186.2h.1M382.5 204.2h.1M380.3 203.3h.1M380.6 204.3h.1M380.5 205.4h.1M380.5 202.2h.1M382.9 205.7h.1M409.8 198.2h.1M407.5 202.3h.1M406.3 200.1h.1M403.2 166.1h.1M404.8 166.8h.1M403.1 167.6h.1M397 197.5h.1M393.2 197.8h.1M394.4 195.4h.1M365.8 191.7h.1M367.5 192.7h.1M368.2 192.6h.1M420.7 192.2h.1M421.3 189.9h.1M422.9 192.2h.1M416.5 191.9h.1M417.2 190.2h.1M416.8 189.9h.1M399.7 168.7h.1M399.6 167.1h.1M399.5 170h.1M410.3 177.4h.1M408.3 178.2h.1M408 176.6h.1M400.2 172.1h.1M397 171.2h.1M397.8 171.9h.1M385.8 201.6h.1M386.3 200.7h.1M386.8 200.2h.1M371.3 194.7h.1M370.1 191.3h.1M369.8 194.3h.1M379.7 186.3h.1M377.8 184.3h.1M379 186h.1M409.8 176.9h.1M410.6 174.5h.1M409.3 175.7h.1M400.2 169.5h.1M400.1 167.3h.1M400.8 168.7h.1M400.6 193h.1M404.1 194h.1M402.7 192.4h.1M382.5 188.3h.1M381.9 188.2h.1M383.3 188.4h.1M403.1 184.6h.1M402.4 184.1h.1M402.4 182.1h.1M404.4 193.2h.1M405.5 192.1h.1M404.4 191.2h.1M398.2 190h.1M398 188.3h.1M396.3 189.7h.1M429.5 174.5h.1M431.2 173.3h.1M428.1 174.4h.1M377.4 193.4h.1M377.7 193.7h.1M376.8 193.3h.1M421.4 175.5h.1M423.1 174.8h.1M424.5 173.9h.1M384.2 191.1h.1M383.8 190.3h.1M384.5 188.8h.1M401.9 190.9h.1M400.5 190h.1M405.2 190.8h.1M396.1 181.1h.1M398.9 182.7h.1M399.5 179.7h.1M401.8 181.8h.1M401.6 181.7h.1M401.7 180.4h.1M434.8 173.4h.1M434.2 173.6h.1M434.2 174.2h.1M380.2 189.2h.1M381.7 189.4h.1M382 188h.1M377.6 186.4h.1M377.1 189.2h.1M377.7 189.3h.1M386.8 194.1h.1M387.5 195.7h.1M386.7 195.6h.1M430.6 190.7h.1M430.4 188.9h.1M430.7 189h.1M399.5 195.3h.1M401.7 193.9h.1M402.3 193.4h.1M391.8 175.7h.1M391.2 173.8h.1M393 174.3h.1M385.3 182.5h.1M384.1 181.4h.1M383.1 178.7h.1M386.1 188.4h.1M387.3 189.2h.1M386.2 190.5h.1M412 165.9h.1M411.7 165.4h.1M409.7 164h.1M371 192.2h.1M373.5 191.3h.1M371.6 193.2h.1M398.5 163.4h.1M397.6 163.6h.1M395.5 163.6h.1M408.6 188.4h.1M408.3 189.2h.1M407.6 190.6h.1M383.3 189.9h.1M381.8 191h.1M380.5 188.7h.1M383.6 181.5h.1M383.2 180.9h.1M383.3 181.3h.1M381.1 197.3h.1M381.4 197.6h.1M383.1 195.9h.1M380.9 188.7h.1M382.9 185.3h.1M383 186.6h.1M393.1 180.4h.1M392.6 182h.1M392.9 181.6h.1M389.5 198.2h.1M391.5 199.8h.1M389.9 199.3h.1M384 174.1h.1M383.5 175.9h.1M385.2 175.5h.1M426 188.7h.1M426.4 187.2h.1M426.6 188.3h.1M429.5 175.9h.1M430.9 175.3h.1M431 174.6h.1M409.9 177.2h.1M408 176.6h.1M411.7 176.3h.1M396.7 192.7h.1M398.9 192.6h.1M401 192.1h.1M431.2 185.1h.1M432.9 185.8h.1M431.3 183.7h.1M391.6 196.3h.1M391.2 195.4h.1M391.1 197.4h.1M391.3 185.4h.1M389.8 185.4h.1M391.8 185.8h.1M420.4 190.3h.1M417.7 191.7h.1M421.9 190.9h.1M410.9 159.2h.1M411.8 160.9h.1M408.8 161.3h.1M412.6 194.4h.1M413.7 196h.1M413.2 195.3h.1M375.6 205.2h.1M372.9 205.2h.1M375.6 205.7h.1M388.3 195.6h.1M389.9 193.3h.1M388 193.5h.1M387.1 185.3h.1M388.9 186h.1M387.3 185.5h.1M401.8 194.6h.1M401.8 195.5h.1M401.8 194.3h.1M423.8 186.5h.1M421.5 185.2h.1M425.3 185.1h.1M411.9 160.9h.1M411.5 159.1h.1M409.5 160.6h.1M390.6 187.5h.1M388.5 189.5h.1M388 189.3h.1M410.3 185.8h.1M410.5 185.3h.1M411.4 185.2h.1M416 169.4h.1M417.3 167.1h.1M414.6 167.6h.1M414.3 194.5h.1M414 193.8h.1M413 195.2h.1M382.8 187.6h.1M383.4 186.3h.1M383.4 187.7h.1M372.6 186.9h.1M374 188.8h.1M373.6 189.3h.1M422.3 185.2h.1M421.1 183.7h.1M424.4 185.2h.1M408.6 163.9h.1M409.2 163.9h.1M410.1 164.9h.1M401.4 188.1h.1M401.7 186.3h.1M400.9 186.6h.1M390.3 178.5h.1M391.2 181.5h.1M394.1 180.3h.1M369.3 196.1h.1M372.2 195.8h.1M371.5 195.9h.1M423.4 186.7h.1M425 187.8h.1M422.4 188.8h.1M399.2 185.8h.1M395.9 188.6h.1M396.7 186.4h.1M435.9 172h.1M437.7 169.4h.1M435.9 169.6h.1M390.4 188.1h.1M391.5 190h.1M390.6 188.9h.1M425.3 182.5h.1M426.3 183.2h.1M425.6 182.1h.1M378.3 185h.1M379.4 182.7h.1M377.8 182h.1M406.3 191.4h.1M406.6 188.2h.1M405.8 190.1h.1M397.1 187.2h.1M396.8 188.1h.1M395.3 189h.1M381 172.1h.1M378.7 173.7h.1M381.8 172.8h.1M389.1 205.2h.1M389.3 205.1h.1M388.6 203.6h.1M390.8 195.6h.1M392 197.1h.1M391.3 197h.1M383.2 182h.1M383.1 183.7h.1M383.3 182.3h.1M367.4 195.8h.1M367.2 197h.1M366.6 196.6h.1M394.9 175.3h.1M391.4 175.7h.1M394.1 176.2h.1M371.1 197.9h.1M372.1 199.6h.1M372.5 200.4h.1M410.6 186.8h.1M408.4 185.5h.1M409.4 184.4h.1M404.9 184.2h.1M402.5 183.9h.1M404.5 184.7h.1M376 191h.1M375.8 192.5h.1M377 190.8h.1M373.6 199.3h.1M371.4 202.2h.1M373.1 200.1h.1M383.5 182.9h.1M383.3 180.7h.1M382.6 182.6h.1M397.9 196.4h.1M397.1 195.8h.1M398.3 194.7h.1M418.4 165.7h.1M419 165.7h.1M418.1 166.2h.1M414.7 186h.1M413.9 187h.1M415.5 187.4h.1M395.4 198.4h.1M394.7 197.1h.1M394 198.1h.1M403.9 180.1h.1M403 179.1h.1M402.8 180.1h.1M416.2 198.2h.1M416.2 201.6h.1M417.3 200.3h.1M392.6 186.8h.1M393.8 189.6h.1M392.1 189.4h.1M376 206.3h.1M379.1 204.2h.1M379.2 206.6h.1M381.5 209h.1M381 206.9h.1M381.4 208.7h.1M415.9 168.8h.1M412.8 167.3h.1M412.2 168.2h.1M417.4 201.9h.1M416.3 200.4h.1M414.6 202.1h.1M394 186.4h.1M390.8 184.5h.1M391.9 185.3h.1M388.3 190.5h.1M385 191.8h.1M386.5 191.8h.1M410.5 175.5h.1M410.2 175.3h.1M411.3 178.7h.1M417.7 171.3h.1M416 170.5h.1M417.5 171.6h.1M386.9 175.9h.1M386.3 179.4h.1M384.7 176.9h.1M434.1 173h.1M433.6 174.5h.1M434.5 176.7h.1M383.7 192.5h.1M382.7 192.7h.1M383.8 193.7h.1M410 167.4h.1M407.9 169h.1M408.3 169.9h.1M414.1 176h.1M415.5 176.5h.1M414.9 176.5h.1M396.7 179h.1M396.7 178.1h.1M400 176.1h.1M384.8 195h.1M386.3 193.9h.1M388.8 194.7h.1M388.6 188.3h.1M388.3 185.4h.1M387 188h.1M378.5 187.7h.1M378.5 188.4h.1M378.9 185.1h.1M418.8 190.8h.1M419 190.8h.1M419.8 191.5h.1M403.6 195.7h.1M402.5 194.9h.1M401.6 195.9h.1M414.3 180.6h.1M413.7 178.2h.1M416.4 178h.1M392.4 196.3h.1M390.9 196.5h.1M392.5 196.2h.1M397.5 196.7h.1M397.3 197h.1M395.2 196.4h.1M428.6 184.6h.1M430.2 184.4h.1M429.4 183.2h.1M384.9 184.8h.1M386 185.3h.1M386 184.3h.1M386.8 192.5h.1M386 192.3h.1M385.6 190.8h.1M408.7 175.5h.1M408.1 176.1h.1M409.9 176.7h.1M393.3 175.6h.1M393.7 173.1h.1M393.1 171.7h.1M390.3 196.6h.1M388.5 197.8h.1M388.8 197.2h.1M382.6 199.6h.1M382.3 199.4h.1M384.5 199.2h.1M397.8 176.4h.1M396.1 176.6h.1M394.4 177h.1M372.3 204.3h.1M370.4 203.4h.1M371.3 203h.1M384.2 177.9h.1M383.9 178.6h.1M382.4 177.8h.1M370.8 195.7h.1M370 198.7h.1M369.8 198.8h.1M405.3 190.9h.1M405.9 190.6h.1M405.5 186.6h.1M401.2 183.9h.1M403 181.6h.1M402 182.9h.1M377.9 171.8h.1M380.3 171.8h.1M378 171.1h.1M391.3 203.1h.1M388.9 204.2h.1M389.7 203.2h.1M421.9 180.3h.1M422.9 180.5h.1M421.1 179.3h.1M383.4 197.3h.1M382.9 195.8h.1M382.1 193.6h.1M395.1 179.3h.1M394.7 177.6h.1M395.1 179.6h.1M402.9 185.8h.1M406.9 185.9h.1M405 185.5h.1M371.6 195.7h.1M373.5 196h.1M373.7 193.9h.1M390.7 192.9h.1M389.9 191.5h.1M389.7 192.6h.1M429.6 174.6h.1M428.5 175.6h.1M429.4 176.2h.1M407.7 180.1h.1M407.8 181h.1M406.4 179.7h.1M395.5 197.9h.1M394.6 199.5h.1M395.5 197.2h.1M373.7 191.3h.1M374.2 191.5h.1M373.8 190.2h.1M402.3 168h.1M404.8 166.8h.1M404.9 166.8h.1M393.3 195.7h.1M392.8 196.4h.1M393.2 194.4h.1M388.9 190h.1M391.9 191.1h.1M390.3 189.2h.1M387.3 176.5h.1M386 176h.1M386.8 179.2h.1M416.1 172.2h.1M413.6 170.9h.1M414 170.5h.1M365.7 197.2h.1M366.2 195.3h.1M366.7 196.5h.1M425.5 181.2h.1M426.3 178.9h.1M424.9 180.6h.1M375.7 188.8h.1M376.8 189.2h.1M377.8 187.5h.1M404.4 183.2h.1M406.1 184.6h.1M404.2 186.1h.1M400.6 190.9h.1M400.3 190.4h.1M400.9 188.9h.1M378.8 196.3h.1M377.2 194.6h.1M376.9 196.1h.1M372 205.7h.1M371.3 204.8h.1M373.4 206.3h.1M387.6 169h.1M386.5 168.2h.1M385.2 170.2h.1M380.3 196.7h.1M378.1 194.6h.1M377.6 195.6h.1M402.3 192.2h.1M402.5 195.5h.1M401.2 193.8h.1M403.4 184.1h.1M401.8 185.7h.1M402.5 185h.1M379.9 175.4h.1M380.6 176.5h.1M378.8 176.2h.1M378.2 204.4h.1M379 203.4h.1M378.7 206.3h.1M387.6 182.7h.1M386.4 180.5h.1M386.8 182.1h.1M379.3 182.4h.1M382.7 180.8h.1M380.2 180.8h.1M373.1 200.5h.1M374.6 199.3h.1M374.7 201.3h.1M407.4 200.1h.1M406.5 199.3h.1M406.9 199h.1M401.7 169.6h.1M403.3 171.4h.1M398.6 170.4h.1M385.3 173.7h.1M384.2 173.2h.1M385.3 171.3h.1M400.1 158.5h.1M400.7 161.5h.1M403.2 159.4h.1M387.6 189.9h.1M388 191.7h.1M387.6 192.1h.1M398.5 197.4h.1M398.1 197.7h.1M397.4 196.7h.1M400.8 193.7h.1M401.3 196.4h.1M400 194.7h.1M378.8 200.9h.1M377.4 201.8h.1M378.6 201h.1M414.7 161.5h.1M414.3 161.5h.1M415 162.3h.1M396.7 190.7h.1M396.9 192h.1M394 191.5h.1M412.5 174.7h.1M410.5 173.2h.1M413.6 175.6h.1M416.9 176.4h.1M417.8 176h.1M419.8 173.3h.1M394.6 169.8h.1M391 168.6h.1M395.6 168.9h.1M396.3 172.1h.1M396.3 170.9h.1M394.8 172.2h.1M386.9 196h.1M385.4 197.5h.1M388.9 197.7h.1M393.8 203.4h.1M395 201.1h.1M394.8 201.9h.1M371 203.8h.1M371.9 202.9h.1M373.3 203.4h.1M369.1 204h.1M369.4 205.3h.1M366.1 206.8h.1M380.7 176.8h.1M379.8 175.8h.1M381.9 175.2h.1M371.2 193h.1M373.2 191.8h.1M373.8 189.9h.1M420.8 193h.1M422.5 192.5h.1M422.2 194h.1M367.1 189.1h.1M368.3 190h.1M368 189.9h.1M383.5 207.5h.1M385.3 204.2h.1M386.7 207.9h.1M398.7 191.5h.1M401 191.6h.1M400.5 190.8h.1M415.2 188.8h.1M413.6 190h.1M415 189.1h.1M393.5 197.3h.1M395.5 198.3h.1M395.8 197h.1M408.8 160.6h.1M408.1 161.5h.1M408.6 161.9h.1M429.8 180.7h.1M432.2 181.6h.1M431.4 181.3h.1M368.7 185.7h.1M371.5 183.9h.1M369.3 185.8h.1M408.2 179.9h.1M409.8 179.7h.1M409.5 181.6h.1M395.2 169.6h.1M396 172.4h.1M395.6 168.8h.1M391.3 164h.1M391.6 164.1h.1M390.9 162.4h.1M432.6 169.6h.1M433.1 170.7h.1M429.8 172.4h.1M392.3 171.3h.1M392.3 170.5h.1M392.9 172.4h.1M394.9 195.7h.1M391 194.6h.1M393.1 197.2h.1M371.5 190.3h.1M371.4 191.5h.1M372.3 192.2h.1M403.3 163.8h.1M407 165.6h.1M406.2 166.5h.1M371.7 201.2h.1M367.9 202.4h.1M369 201.1h.1M378 195.8h.1M377.5 198.5h.1M377.1 196.9h.1M379.4 203.9h.1M381.1 205.5h.1M380.9 206.8h.1M383.5 170.3h.1M383.7 170.8h.1M381.7 170.3h.1M415.8 170.5h.1M416 170.6h.1M415.2 171.2h.1M407.8 190.2h.1M407.5 188.9h.1M407.4 190.6h.1M369.6 193.1h.1M373.7 193.3h.1M371.9 193.2h.1M427.6 185.5h.1M428.1 186.9h.1M428.4 182.6h.1M426.7 177h.1M427.9 175.4h.1M427.5 177.2h.1M417.8 192.4h.1M416.7 191.5h.1M417.3 193.4h.1M370.7 192.9h.1M369.3 194h.1M369 191.2h.1" stroke="#000" stroke-opacity="0.09" stroke-width="1.7"/>
<path d="M420.5 168.5h.1M423.4 168.3h.1M420.7 167h.1M376 207.7h.1M376.1 208.1h.1M371.8 208.1h.1M406.1 187.4h.1M406.6 187.2h.1M407.4 189.2h.1M382.4 180.5h.1M382.4 179.6h.1M381.3 178.6h.1M418.2 175.2h.1M417.2 174.5h.1M416.1 174.5h.1M421.9 176.6h.1M420.9 173.8h.1M420.2 176h.1M367.8 192.6h.1M368.9 190.3h.1M371 191.5h.1M402.7 195.4h.1M405.3 193.3h.1M400.9 195.3h.1M372.5 199.3h.1M371.6 199h.1M370.5 198.3h.1M418 187.6h.1M417.4 187.5h.1M418 186.9h.1M400.1 192.8h.1M400.8 192.5h.1M400.2 191.4h.1M386.8 187.7h.1M389.4 188.2h.1M386.6 191.1h.1M391.9 193.8h.1M393.3 193.4h.1M394.4 193.9h.1M371.2 187.5h.1M370.6 188.6h.1M370.1 188.7h.1M376.3 177.3h.1M378.4 178.7h.1M376.7 176.8h.1M375.1 184.5h.1M375 183.7h.1M375.9 183.2h.1M415.2 164.2h.1M415.2 164.2h.1M415.6 163.2h.1M425.2 182.4h.1M425.1 181.4h.1M424.8 183.6h.1M414.7 166.9h.1M413.1 165.8h.1M413.7 167.5h.1M423.5 180.8h.1M423.9 180.7h.1M423 181.5h.1M424.4 170.1h.1M425.1 172.9h.1M422.6 172.1h.1M395.7 186.4h.1M396.1 187.7h.1M393.2 187.3h.1M385.1 190.4h.1M385.4 192.6h.1M384.1 189.6h.1M407.1 173.7h.1M406.5 173.7h.1M408.1 174.1h.1M403.6 172.3h.1M402.8 172.1h.1M401.5 172.3h.1M389 189.5h.1M387.2 187.3h.1M388.7 188.3h.1M396.9 191.3h.1M396.4 191.7h.1M397.2 192.8h.1M414 164.9h.1M415.2 163.9h.1M414 164.3h.1M396.8 189.4h.1M398.2 190h.1M397.5 191.9h.1M387.9 202.3h.1M387.3 203.1h.1M389.2 201.9h.1M421.4 186.8h.1M422.1 184.8h.1M424.4 186.2h.1M418.6 172.5h.1M416.1 171h.1M416.9 169.8h.1M412.7 185h.1M411.3 184.3h.1M411.8 184.8h.1M418.7 174.7h.1M417.9 174.3h.1M417.9 175.2h.1M380.5 196.5h.1M381.1 195.9h.1M381.1 195.4h.1M403.1 169.6h.1M404 168.1h.1M404.2 167.6h.1M389.7 197.9h.1M391.6 199.8h.1M392 196.7h.1M425.2 188.5h.1M425.9 189.5h.1M423.8 189.8h.1M421.5 196h.1M425 194.5h.1M423.9 195.5h.1M391.6 178.6h.1M390.6 176.2h.1M392.6 175.6h.1M379.5 183h.1M380 182.9h.1M378.1 183.2h.1M382.3 208.6h.1M384.2 207.5h.1M382 207.5h.1M392.7 205.1h.1M388.6 203.8h.1M391.4 206.1h.1M382.2 177.2h.1M384.8 177.1h.1M384.8 177.4h.1M412.3 191h.1M411.5 192.3h.1M411.6 191.1h.1M397.3 196.3h.1M400.4 194.3h.1M399.3 193.4h.1M376 193.2h.1M377.6 193.9h.1M375.3 192.9h.1M378.4 201.2h.1M381.2 200h.1M379.1 199.4h.1M400.9 192.7h.1M401.3 194.5h.1M400.5 194.1h.1M406.7 180.4h.1M409.9 181.1h.1M408.5 179.5h.1M398.7 199.3h.1M401.7 196.9h.1M397 198h.1M414 184.2h.1M412 184.7h.1M414.9 187.3h.1M424 184.5h.1M424.5 184.9h.1M423.2 184.2h.1M420.6 188.4h.1M422.9 190.1h.1M420.8 189.2h.1M410.2 189.9h.1M410.2 188.3h.1M409.6 191.4h.1M395.8 186.3h.1M395.5 186.1h.1M396.9 187.3h.1M380.7 188.9h.1M379.7 191h.1M382.2 189.7h.1M383.4 174h.1M383.6 178.2h.1M384.5 176.4h.1M412 181.7h.1M412.5 180.8h.1M410.4 181.7h.1M377.3 174.3h.1M376.7 174.2h.1M378.7 175.2h.1M429.9 170.9h.1M431.8 169.6h.1M431.1 171.7h.1M376.7 190.6h.1M375.7 190.9h.1M377.9 190.7h.1M377.3 190.3h.1M375.6 190.6h.1M376.5 192h.1M392.6 201.7h.1M390.3 200.3h.1M391.2 200.9h.1M386 182.1h.1M383.3 182.4h.1M384.7 183.2h.1M397.7 197.2h.1M397.6 198.2h.1M397.5 197.9h.1M392.8 188.7h.1M390.6 190.7h.1M391.8 191h.1M422.1 179.1h.1M421.8 178.9h.1M421.8 180.5h.1M391.6 180.6h.1M391.7 181.2h.1M394.1 182h.1M400.5 176.7h.1M402.3 174.8h.1M400.3 174h.1M416.4 177.7h.1M416.2 177.1h.1M416.2 178.4h.1M425.1 181.7h.1M425 183.2h.1M425.5 181.7h.1M403.7 204.4h.1M405.4 202.7h.1M404.1 203.5h.1M386.8 195.5h.1M386.5 194.3h.1M386.3 192.9h.1M388.1 203.3h.1M388.2 202.6h.1M387.4 202.4h.1M380.4 187.6h.1M379 187.4h.1M380.1 184.8h.1M402.8 178.7h.1M401.7 174.9h.1M402.3 177.4h.1M418.6 182.3h.1M419.8 182.2h.1M417.2 182.4h.1M413.8 182.7h.1M413.9 179.6h.1M413.2 180.3h.1M403 171.9h.1M404.6 170.4h.1M402.7 170.8h.1M388.5 201.9h.1M387.7 198.8h.1M385.5 199.5h.1M387 188.5h.1M384.2 186.7h.1M385.3 189.7h.1M384.5 190.4h.1M383.5 193.9h.1M385 191.9h.1M394.9 165.5h.1M397 163.9h.1M394.4 164.8h.1M389.6 188.6h.1M391.3 188.6h.1M389.9 186.4h.1M390 177.5h.1M390.5 178.9h.1M389.8 178.9h.1M412.8 180h.1M412.1 182.8h.1M411.5 181.2h.1M378.7 179.6h.1M379.1 181.2h.1M380.9 181.4h.1M380.4 202.1h.1M380.7 199.1h.1M380 200.4h.1M394.6 194.7h.1M395.1 194.3h.1M396.4 195.9h.1M407 170.8h.1M406.8 170.6h.1M409.8 170.9h.1M398.4 189.4h.1M401.1 189.9h.1M401 188.1h.1M375.2 182.1h.1M378.2 183.4h.1M375.8 182.5h.1M373.6 192.5h.1M371.4 190.2h.1M374.2 190.7h.1M377.7 198h.1M375.4 197.8h.1M376.2 198.3h.1M387.9 188.2h.1M388.9 187.7h.1M389.4 186.2h.1M368.4 192h.1M368.8 193.4h.1M368.8 195.2h.1M399.9 170.1h.1M400.7 171.8h.1M401.6 172.2h.1M374.3 200.1h.1M375 199.9h.1M373.3 200.3h.1M367.6 192.2h.1M367.1 192.8h.1M367.1 191.1h.1M423.9 175.4h.1M426.8 176.3h.1M424.3 174.2h.1M388.7 190.4h.1M388.8 192.4h.1M385.7 192.7h.1M396.8 193.2h.1M398.4 192.1h.1M397.6 192.9h.1M382.5 188.4h.1M380.8 189.7h.1M379.7 189h.1M387.8 197.8h.1M387.8 198.1h.1M386.1 196.7h.1M371.5 177.6h.1M373 176.8h.1M372.2 176.9h.1M435.2 179.4h.1M434.4 182.9h.1M434.6 182.2h.1M426.5 175h.1M426.5 176.3h.1M426.4 177.6h.1M408.2 176.2h.1M407.8 177h.1M408.1 176.4h.1M426.9 166.4h.1M424 167.2h.1M425.9 167.1h.1M414.7 186.4h.1M415.6 185.6h.1M417 187h.1M401.7 184h.1M402.8 186.2h.1M401.2 186.6h.1M413.3 172.9h.1M411.6 169.8h.1M412.6 172.9h.1M400.8 196.7h.1M402 196.7h.1M403.7 197h.1M385.4 200.2h.1M387.4 198.8h.1M385.7 197.4h.1M395.1 178.2h.1M396.6 179.7h.1M395.5 178.6h.1M406 196.7h.1M406.1 197.9h.1M406.2 196.9h.1M385.1 175.1h.1M384.5 174h.1M383.9 174.4h.1M398.2 179.3h.1M397.2 179.2h.1M397.6 179.8h.1M396.8 191.1h.1M394.8 189.5h.1M395.2 190.4h.1M372.8 199h.1M373.1 199.2h.1M375.1 200.9h.1M377.8 196.7h.1M379.4 196.1h.1M378.6 198.3h.1M394.8 195.2h.1M395.2 193.1h.1M394.6 194.9h.1M421 173.1h.1M422 172.6h.1M421.1 173h.1M381.6 202.9h.1M381.8 202.8h.1M381.1 203.1h.1M386.6 173.9h.1M384.7 174.7h.1M387.9 172.4h.1M389.8 194.7h.1M387.6 197.1h.1M389.7 194.9h.1M419.2 185.2h.1M418.5 185.6h.1M420.2 185.7h.1M417.8 181.5h.1M416.9 181h.1M419.1 180.8h.1M386 193.9h.1M386.5 195.9h.1M386.6 196h.1M392 174.9h.1M391.4 177.3h.1M392.1 173.9h.1M422.3 171.6h.1M421.1 173.3h.1M421.4 172.9h.1M409.2 180h.1M409.5 179.5h.1M411.2 180.2h.1M408.8 188.5h.1M409 189h.1M409 188.3h.1M406.6 180.7h.1M407.8 182.2h.1M407.6 179.9h.1M386.3 179.1h.1M385.8 180.3h.1M386.6 181.1h.1M388.9 188.7h.1M387.4 188h.1M388.8 187.9h.1M376.5 199.1h.1M377.2 197h.1M376.4 198.5h.1M419.4 193.3h.1M418.4 195.3h.1M420.2 193.1h.1M388 169.1h.1M387.9 168.4h.1M390.4 167.4h.1M411.9 193h.1M409.1 193.7h.1M410.2 196.5h.1M419.6 185h.1M421.8 184.4h.1M421.6 183.9h.1M416.5 188.7h.1M416.4 192.3h.1M417.9 192h.1M394.4 177.4h.1M394.1 176.3h.1M395.6 175.6h.1M384.8 194.6h.1M384.5 192.9h.1M383.2 196.4h.1M411 184.5h.1M408.8 184.6h.1M410.4 185.3h.1M402.7 176h.1M402.1 174h.1M404.9 176.4h.1M384.8 187.4h.1M382.9 187.6h.1M382.7 187.9h.1M383.8 198.1h.1M387.4 197.5h.1M387 198.1h.1M425.1 179.6h.1M426.7 179.6h.1M426.1 181.9h.1M388 172.7h.1M388.5 172.1h.1M386.8 173.7h.1M392.1 204.2h.1M393.4 202.7h.1M393.5 202.4h.1M387 178.2h.1M386.6 178.5h.1M386.7 177.4h.1M411.7 179.8h.1M411.1 180.2h.1M413.7 179.9h.1M380.3 185.7h.1M382.1 184.2h.1M380.1 186.7h.1M401.3 187.4h.1M399.9 187h.1M399.5 189.7h.1M412.1 173.4h.1M411.9 172.7h.1M413.1 173.5h.1M398.4 170.1h.1M400.2 170.7h.1M399.6 168.8h.1M379.2 177.7h.1M378.3 177.6h.1M378.1 178.4h.1M388 170h.1M389 172.9h.1M386.8 173.3h.1M412.3 174.4h.1M411.8 175.3h.1M412.3 177.2h.1M379.8 184.2h.1M378.6 183.6h.1M381.6 185.5h.1M395.1 190.4h.1M396.7 190.9h.1M396.3 191.2h.1M412.9 196.1h.1M412.4 199.6h.1M412.6 198.7h.1M382 179.7h.1M380.1 179.4h.1M382.8 181h.1M376.7 198.8h.1M378.9 198.7h.1M377.3 197.6h.1M383.5 200.4h.1M383.7 201.5h.1M384.5 200.4h.1M413.5 189.9h.1M414.7 191.2h.1M414.3 190h.1M393 176.7h.1M390.6 175.2h.1M392 175.2h.1M418.6 177.1h.1M420.1 179h.1M422.1 178h.1M428 182h.1M429.9 181.7h.1M427.6 184h.1M430 165.6h.1M429.1 166.9h.1M429.9 167.3h.1M434.7 178.9h.1M432.1 178.2h.1M433.5 178.6h.1M408.7 187.7h.1M410.4 186.1h.1M408.3 186.4h.1M428.6 180.1h.1M428.7 183.2h.1M427 178.6h.1M405.1 165h.1M407.3 167.6h.1M405.8 167h.1M397.3 178.4h.1M394.5 180.8h.1M397.8 181.1h.1M401 189.3h.1M403 191.9h.1M403 188.9h.1M372 202.9h.1M371.5 200.3h.1M370.8 200.8h.1M421.7 178.7h.1M418.9 179.7h.1M421.4 176.9h.1M383.1 186.2h.1M381.9 184.1h.1M382.6 183.9h.1M422.3 160.5h.1M421.7 159.6h.1M419.8 161.2h.1M365 187.1h.1M367.4 189.1h.1M367 187.5h.1M397 193.9h.1M397.9 192.2h.1M397.5 195.1h.1M373.9 185h.1M373.2 181.5h.1M373.9 183.4h.1M426.2 168.4h.1M426.4 169.4h.1M426.4 168.3h.1M370.6 189.3h.1M369.4 187.3h.1M369.6 187.9h.1M403.6 192.3h.1M402.9 190h.1M405 191.3h.1M388.8 193.3h.1M388.7 191h.1M388.9 194h.1M411.3 188.4h.1M412.4 189.4h.1M413.5 189.9h.1M411.8 174.1h.1M411.4 174.4h.1M411.3 175.2h.1M418.1 174.1h.1M415.7 174.6h.1M417.9 172.2h.1M386.7 181.7h.1M387.3 181.7h.1M386.6 181.4h.1M380.9 188.9h.1M381 191h.1M380.6 189.3h.1M402.2 192.7h.1M403.2 192.3h.1M403.6 194.7h.1M398.1 184.7h.1M398.5 185.6h.1M399.1 184.3h.1M373.7 190.1h.1M373.4 192.1h.1M373.3 193.5h.1M379.7 192.3h.1M377.1 191.9h.1M379.1 191.9h.1M392.4 168h.1M392.1 169.5h.1M392.1 167.7h.1M396 186.9h.1M397.4 185.6h.1M397.7 186.6h.1M391.3 182.9h.1M392.8 180.4h.1M394.2 182.9h.1M400.3 195.2h.1M402.3 198.2h.1M399.2 195.4h.1M372.7 186.2h.1M371.2 186.6h.1M370.6 187h.1M372.6 203.1h.1M370.3 203.6h.1M370.2 201.9h.1M387.3 187.4h.1M389.6 185.9h.1M386.7 187.2h.1M430.4 182.8h.1M428.7 183.7h.1M427.4 183.5h.1M398.9 176.7h.1M397.2 175.8h.1M397.4 176.3h.1M400.7 189.8h.1M402.1 186.3h.1M401.3 187.8h.1M396 167.3h.1M396.4 167.4h.1M398.5 165.9h.1M377.2 189.5h.1M377.6 188.2h.1M379.2 187.9h.1M394.7 189.5h.1M395.7 192.6h.1M395.1 193.9h.1M426.4 181.6h.1M427.2 181.8h.1M426.2 183.3h.1M384.3 182.3h.1M383.9 178.3h.1M381.3 179.7h.1M391.8 177.3h.1M390.2 176h.1M391.8 177.6h.1M399.6 173.9h.1M398.3 174h.1M397.8 173.7h.1M385.5 187.6h.1M384.5 188.5h.1M383.1 187.7h.1M384 171.5h.1M386.3 173.7h.1M387 171.4h.1M403.7 171.3h.1M405.6 172.9h.1M404 171.8h.1M376.1 207.7h.1M371.9 208.1h.1M373.5 207.2h.1M376.6 195.2h.1M377.5 195.7h.1M378.3 196.2h.1M411.3 198h.1M410.5 198.5h.1M408.7 197.5h.1M416 173.6h.1M416.9 175.4h.1M417.7 174.9h.1M371.9 190.6h.1M372.8 192.7h.1M371.8 193.7h.1M377.6 198.4h.1M375.8 197.1h.1M376.6 198.2h.1M380.9 186.9h.1M379.5 187.3h.1M379.9 186.2h.1M404.5 191.1h.1M402.7 193h.1M404.9 190.6h.1M394.5 184.4h.1M391.6 183h.1M393.6 183.5h.1M410 193.8h.1M410.8 193.9h.1M411.6 193.4h.1M421.1 188h.1M420.8 189h.1M421.6 189.6h.1M410.5 187.7h.1M409.7 187.2h.1M408.6 186.7h.1M395.4 166.1h.1M395.3 165.3h.1M397.3 168.6h.1M398.8 170.7h.1M398 169.9h.1M396.7 168.2h.1M396.3 181.2h.1M398 182.1h.1M399.6 179.4h.1M395.1 198.3h.1M396.1 198.6h.1M395.7 198.8h.1M406.4 203.8h.1M407.3 201.3h.1M405.4 201.4h.1M384.2 174.2h.1M382.1 174.5h.1M381.4 174h.1M395.6 185.1h.1M396 188h.1M398.3 184.5h.1M413.1 174.6h.1M415.2 171.2h.1M415 171.8h.1M409.5 193.4h.1M408.4 193.7h.1M408.2 194.5h.1M399.7 168.2h.1M403.3 169.9h.1M399.2 168h.1M397.3 180.3h.1M397.4 182h.1M397.2 182.3h.1M383.3 174.6h.1M387.1 176h.1M386 178.2h.1M370.8 188.9h.1M371.9 187.5h.1M373.2 191.2h.1M411.4 182.9h.1M411.8 181.1h.1M410.1 184.1h.1M409.6 168.4h.1M409.4 168.7h.1M410.5 170.1h.1M375 188.1h.1M373.1 188.8h.1M372.2 188.8h.1M398.4 169.9h.1M396.5 169.1h.1M397.5 171.3h.1M434.8 172.9h.1M433.1 171.4h.1M435.1 170.3h.1M389.1 198.5h.1M391.4 198.9h.1M390.3 197.7h.1M413.4 189.8h.1M417 189.8h.1M415.7 189.7h.1M372.8 197h.1M374.3 195.7h.1M370.6 195.3h.1M380.7 190.3h.1M381 189.2h.1M381.9 187.3h.1M386.6 195.8h.1M386.1 196.3h.1M385.8 195.7h.1M422.3 198.9h.1M421.6 199h.1M420.9 199.5h.1M389.7 198.7h.1M388 196.5h.1M389.5 199.8h.1M420.8 170.6h.1M419.7 169.8h.1M424.1 170.4h.1M393.8 201.6h.1M395.3 201.7h.1M394.1 200.5h.1M381.3 185.4h.1M383.8 184.7h.1M379.9 184.3h.1M429.1 183.9h.1M428.9 181.4h.1M427.4 180.4h.1M402.3 182.1h.1M400.2 182h.1M403.1 184.5h.1M394 163.9h.1M396.6 163.7h.1M394.3 164.1h.1M369.5 189.8h.1M367.1 189h.1M366.1 189.8h.1M412.5 195.7h.1M412.8 194.9h.1M410.5 194.5h.1M432.5 182h.1M432.7 181.8h.1M431.4 181.7h.1M386 205.8h.1M385.3 205.8h.1M383.5 205h.1M372.7 199.7h.1M371.2 199h.1M373 200.1h.1M405.6 191.6h.1M407.6 191.5h.1M408.9 192.3h.1M368.9 205.6h.1M371.3 206h.1M370.3 204.8h.1M395.5 191h.1M398.8 191h.1M398.8 192.2h.1M380.7 203.3h.1M383.8 203.4h.1M381.4 203.6h.1M382 207.7h.1M381.6 210.1h.1M381.3 209.3h.1M416.2 164.2h.1M416.8 164.2h.1M416.7 166.9h.1M404.2 196.9h.1M404.1 197.3h.1M404 197.1h.1M377.5 190.1h.1M378.5 190.3h.1M378.7 187.3h.1M397.9 188.8h.1M398.9 189.5h.1M401.2 189.4h.1M397.7 202.2h.1M398 201.3h.1M397 202.4h.1M376.3 202.5h.1M379.4 203.9h.1M378.2 205h.1M387.9 185.4h.1M390.9 185.6h.1M388.9 184.5h.1M398.2 193.2h.1M397.3 191.8h.1M398.9 191.1h.1M413.8 167.7h.1M414.4 164.7h.1M414.1 166.3h.1M400.3 169.2h.1M400.7 169.2h.1M402.6 170.2h.1M383.7 195.8h.1M383.9 200.7h.1M385.1 198.6h.1M396.1 188.2h.1M393.2 189.2h.1M395.4 189.3h.1M399.4 189.1h.1M399.3 188.5h.1M399.3 187.2h.1M388.9 205.1h.1M390.8 203.5h.1M388.5 202.4h.1M394.3 169.9h.1M394.6 169h.1M396.9 167.7h.1M366.4 184.8h.1M366.9 188.8h.1M367.9 188.1h.1M374.5 199.2h.1M376.1 199.7h.1M375.9 199.4h.1M419.3 171.8h.1M418.8 172.3h.1M419.1 172.9h.1M384.4 205.4h.1M383.7 204.9h.1M384.7 207.9h.1M393.1 191.1h.1M392.3 190.9h.1M393.6 192h.1M391.7 200.5h.1M392.3 199.8h.1M390.9 202.4h.1M422 187.3h.1M421.6 186.2h.1M418.7 184.1h.1M412.6 200.5h.1M412.7 197.9h.1M413.5 198.8h.1M424.5 178.5h.1M423.9 178.5h.1M422.6 178h.1M398.6 196.9h.1M396.7 192.1h.1M398.2 192.1h.1M397.9 186.8h.1M395.3 188.7h.1M398 188.3h.1M401.2 170.2h.1M400.6 171.5h.1M401 171.4h.1M416.9 190h.1M416.9 189.9h.1M415.4 188.7h.1M391.5 189.2h.1M392.2 186.5h.1M392.9 190.1h.1" stroke="#000" stroke-opacity="0.15" stroke-width="1.4"/></g>
</g>
<path d="M176 179.6L269 107.5M185.5 190L421 129" fill="none" stroke="#000" stroke-width="4" stroke-dasharray="3.8 3.9"/>
<rect x="-4.6" y="-4.6" width="9.2" height="9.2" transform="translate(272 104.3) rotate(-8)" fill="#000"/>
<rect x="-4.8" y="-4.8" width="9.6" height="9.6" transform="translate(426.2 128) rotate(30)" fill="#000"/>
<path d="M284.1 76.5C287.1 76.6 295.3 76.7 301.9 77.2C308.5 77.7 316.5 78.5 323.8 79.5C331.1 80.5 339.6 82.1 345.7 83.5C351.8 84.9 356.3 86.3 360.2 87.8C364.1 89.2 366.9 90.6 369 92.2C371.1 93.8 370.9 95.5 372.6 97.3C374.3 99.1 375.7 101.2 379.2 103.2C382.7 105.2 388.4 107.4 393.8 109C399.2 110.6 404.7 111.7 411.3 112.6C417.9 113.5 426.8 114.1 433.2 114.5C439.6 114.9 447.2 115 450 115.1" fill="none" stroke="#828282" stroke-width="3"/>
<path d="M460 115.4L449.2 109.9L449.2 120.9Z" fill="#828282"/>
<path d="M498.9 116.3C499.3 115.2 500.9 112 501.4 110C501.9 108 502.1 107.4 501.8 104.6C501.5 101.8 501.1 96.9 499.6 93C498.1 89.1 496.1 85.2 493 81.3C489.9 77.4 485.7 73.1 481.3 69.6C476.9 66.1 472.4 63.1 466.8 60.1C461.2 57.1 454.6 53.8 447.8 51.4C441 49 433.2 47 425.9 45.5C418.6 44 411.3 43.1 404 42.6C396.7 42.1 389.4 41.9 382.1 42.2C374.8 42.5 367.5 43.2 360.2 44.5C352.9 45.8 344.9 47.9 338.4 49.9C331.8 51.9 326.2 54.3 320.9 56.5C315.5 58.7 309.8 61.4 306.3 63C302.8 64.6 301.1 65.5 300 66" fill="none" stroke="#000" stroke-width="4.1"/>
<path d="M291 70.2L298 58.8L301.5 64L304.6 68.8Z" fill="#000"/>
<path d="M387.7 190.7C389.8 191.7 396.1 195.1 400.5 196.7C404.9 198.3 409.1 199.7 414.2 200.5C419.3 201.3 425.6 201.8 431.3 201.8C437 201.8 442.7 201.4 448.4 200.5C454.1 199.6 460.4 198.2 465.5 196.4C470.6 194.6 474.9 192.4 479.2 189.9C483.5 187.4 487.8 184.6 491.2 181.3C494.6 178 497.7 173.9 499.7 170.2C501.7 166.5 502.6 162.9 503.2 159C503.8 155.1 503.6 150.2 503.2 147C502.8 143.8 501 140.8 500.6 139.5" fill="none" stroke="#3c3c3c" stroke-width="3.8" stroke-dasharray="11 4.5"/>
<path d="M493.5 130L505.5 136L496.5 143.5Z" fill="#3c3c3c"/>
<g font-family="'Liberation Sans', Arial, sans-serif" font-weight="bold" font-size="23" fill="#000" stroke="#fff" stroke-width="5" stroke-opacity="0.8" paint-order="stroke" stroke-linejoin="round">
<text x="240.4" y="23.6" text-anchor="middle">Premotor</text>
<text x="240.3" y="50.2" text-anchor="middle">cortex</text>
<text x="138.5" y="196.2" text-anchor="end">Prefrontal</text>
<text x="138.5" y="223.2" text-anchor="end">cortex</text>
<text x="521" y="87.2">Posterior superior</text>
<text x="521" y="113.8" word-spacing="1.85">temporal / inferior</text>
<text x="521" y="141.6">parietal cortex</text>
<text x="415.5" y="230.5" text-anchor="middle">Primary</text>
<text x="415.5" y="257.3" text-anchor="middle">auditory</text>
<text x="415.5" y="285.6" text-anchor="middle">cortex</text>
</g>
</g>
<g id="panelB">
<g fill="none" stroke="#c4c4c4" stroke-width="3.6" stroke-linejoin="miter">
<path d="M236.2 423.5L419.8 467.1L464 604.6L279.7 562.4Z"/>
<path d="M244.4 431.9L416 471.9L456.8 596.8L284.5 556.9Z"/>
<path d="M252.6 440.3L412.2 476.6L449.6 589L289.3 551.4Z"/>
</g>
<ellipse cx="408" cy="536.1" rx="10.8" ry="17.8" transform="rotate(-14 408 536.1)" fill="none" stroke="#111" stroke-width="2.2"/>
<path d="M421.5 467.5L513.5 504.3M466.5 599.5L515.6 530" fill="none" stroke="#000" stroke-width="3.2" stroke-dasharray="9.5 4"/>
<rect x="531.5" y="478.5" width="148.3" height="75.6" fill="#fff" stroke="#000" stroke-width="3.4" stroke-linejoin="round"/>
<rect x="513.9" y="503.8" width="18.3" height="24.3" fill="#fff" stroke="#000" stroke-width="3.4" stroke-linejoin="round"/>
<text transform="translate(605.8 512.7) scale(1 1.03)" text-anchor="middle" font-family="'Liberation Sans', Arial, sans-serif" font-size="28.5" fill="#111" stroke="#111" stroke-width="0.3">LCD</text>
<text transform="translate(606.2 542.6) scale(1 1.03)" text-anchor="middle" font-family="'Liberation Sans', Arial, sans-serif" font-size="24" fill="#111" stroke="#111" stroke-width="0.3">projector</text>
<rect x="3.7" y="603.4" width="138.5" height="228.8" fill="none" stroke="#000" stroke-width="4.6" stroke-linejoin="round"/>
<path d="M142.2 623.1H244.9V812.7H142.2" fill="none" stroke="#000" stroke-width="4.6" stroke-linejoin="round"/>
<path d="M244.9 636.8H243.6C203.9 636.8 171.8 673.3 171.8 718.4C171.8 763.5 203.9 800.0 243.6 800.0H244.9" fill="none" stroke="#000" stroke-width="4.6"/>
<g font-family="'Liberation Sans', Arial, sans-serif" font-size="25.6" fill="#111" stroke="#111" stroke-width="0.3" text-anchor="end">
<text transform="translate(129.5 699.6) scale(1 1.03)">MEG</text><text transform="translate(129.6 730.5) scale(1 1.03)" font-size="26.6">detector</text><text transform="translate(129.6 761.6) scale(1 1.03)" font-size="26.6">array</text>
</g>
<path d="M206.8 719.7C207.1 716.9 207.4 707.7 208.6 702.6C209.8 697.5 211.4 693.1 213.7 689C216 684.9 218.8 680.8 222.2 677.8C225.6 674.8 229.6 672.6 234.2 671C238.8 669.4 245 668.8 249.6 668.4C254.2 668 258.5 669.2 261.6 668.4C264.7 667.5 266.1 664.9 268.4 663.3C270.7 661.7 273 659.3 275.3 659C277.6 658.7 279.7 661.5 282 661.6C284.3 661.8 286.7 659.3 289 659.9C291.3 660.5 293.8 663.6 295.8 665C297.8 666.4 298.7 669.1 301 668.4C303.3 667.7 306.4 661.4 309.5 660.7C312.6 660 316.8 662.7 319.7 664C322.6 665.3 324.9 666.5 326.6 668.4C328.3 670.3 328.6 673 330 675.3C331.4 677.6 333 680.4 335 682C337 683.6 338.8 684.1 342 684.7C345.2 685.3 349.2 685.4 354 685.5C358.8 685.6 365.3 685.5 371 685.5C376.7 685.5 382.3 685.4 388 685.5C393.7 685.6 399.6 685.8 405.3 686.4C411 687 416.7 688.1 422.4 689C428.1 689.9 433.2 690.6 439.5 691.5C445.8 692.4 453.8 693.2 460 694.5C466.2 695.8 471.3 696.7 477 699C482.7 701.3 488.3 705.7 494 708.4C499.7 711.1 503.3 714 511.3 715.2C519.3 716.4 530.6 715.7 542 715.8C553.4 715.9 570 715.5 579.7 715.8C589.4 716.1 590.6 717.4 600 717.8C609.4 718.2 630.2 718 636.2 718L636.2 758.9L605.4 757C601.1 757 586.8 756.7 579.7 757C572.6 757.3 567.7 758.7 562.6 758.9C557.5 759.1 554.7 759.3 549 758C543.3 756.7 534.7 753.3 528.4 751C522.1 748.7 517 746 511.3 744.3C505.6 742.6 499.7 741.8 494 741C488.3 740.2 482.7 740 477 739.5C471.3 739 466.2 738.8 460 738.3C453.8 737.8 446.8 737 440 736.5C433.2 736 422.5 735.2 419 735L419 736.2C422.5 737.1 433.2 740.1 440 741.5C446.8 742.9 453.8 743.4 460 744.3C466.2 745.2 471.3 745.9 477 746.9C482.7 747.9 488.3 749 494 750.3C499.7 751.6 505.6 752.9 511.3 754.6C517 756.3 522.7 758.9 528.4 760.6C534.1 762.3 539.8 763.9 545.5 764.8C551.2 765.6 556.9 765.8 562.6 765.7C568.3 765.6 574 764.3 579.7 764C585.4 763.7 591.1 763.7 596.8 764C602.5 764.3 608.3 765 614 765.7C619.7 766.4 625.3 767.3 631 768.3C636.7 769.3 643.9 771.1 648.2 771.7C652.5 772.3 653.9 772.4 656.7 771.7C659.6 771 662.2 769.1 665.3 767.4C668.4 765.7 672.1 762.6 675.5 761.4C678.9 760.2 681.8 760 685.8 760C689.8 760 695.8 760.6 699.5 761.4C703.2 762.2 706.3 763.5 708 764.8C709.7 766.1 710.5 767.7 709.7 769C708.9 770.3 703.6 771.3 703 772.5C702.4 773.7 703.5 775 706.3 776C709.1 777 716.1 778.4 720 778.5C723.9 778.6 727.7 775.9 729.4 776.8C731.1 777.7 731.6 782.1 730.3 783.7C729 785.3 724 784.5 721.7 786.2C719.4 787.9 719.2 791.1 716.6 794C714 796.9 709.7 802 706.3 803.3C702.9 804.6 700 802.3 696 801.6C692 800.9 687.5 800 682.4 799C677.3 798 671 796.3 665.3 795.6C659.6 794.9 653.9 794.6 648.2 794.8C642.5 794.9 636.7 796 631 796.5C625.3 797 619.7 797.5 614 797.7C608.3 797.9 602.5 797.7 596.8 797.7C591.1 797.7 586.5 797.7 579.7 797.7C572.9 797.7 562.9 797.9 555.8 797.7C548.7 797.5 543 797.3 537 796.5C531 795.7 525.7 794.1 520 793C514.3 791.9 508.5 790.7 502.8 789.6C497.1 788.5 492.8 787.3 485.7 786.2C478.6 785.1 464.3 783.4 460 782.8L456.6 782.8C453.8 782.9 445.2 783.6 439.5 783.7C433.8 783.9 428.1 783.9 422.4 783.7C416.7 783.6 410.4 783.4 405.3 782.8C400.2 782.2 395.6 781.2 391.6 780.2C387.6 779.2 384.7 778.5 381.3 776.8C377.9 775.1 374.1 772.3 371 770C367.9 767.7 365.1 765.6 362.5 763C359.9 760.4 357.7 757.4 355.7 754.6C353.7 751.8 351.9 748.8 350.5 746C349.1 743.2 349.3 739.3 347 737.8C344.7 736.3 340.2 736.9 336.8 737C333.4 737.1 330 737.2 326.6 738.3C323.2 739.4 319.4 741.4 316.3 743.5C313.2 745.6 310.7 748.5 307.8 751.2C304.9 753.9 302.3 757.3 299.2 759.7C296.1 762.1 293 764 289 765.7C285 767.4 280.5 769 275.3 770C270.1 771 263.7 771.7 258 771.7C252.3 771.7 246.1 771.1 241 770C235.9 768.9 231.4 767.1 227.4 764.8C223.4 762.5 219.8 759.7 217 756.3C214.2 752.9 212 748.3 210.3 744.3C208.6 740.3 207.4 734.3 206.8 732.3Z" fill="#bcbcbc"/>
<path d="M304.9 721.2C308.7 720.5 319.2 718.3 327.8 717C336.4 715.7 348 714.2 356.6 713.2C365.2 712.2 371.5 711.1 379.5 710.9C387.5 710.7 397.1 711.4 404.4 712.2C411.7 713.1 417.8 714.7 423.5 716C429.2 717.3 436.3 719.2 438.9 719.9" fill="none" stroke="#cdcdcd" stroke-width="2.4" stroke-linecap="round"/>
<path d="M244.9 669V771" stroke="#6e6e6e" stroke-width="2" fill="none"/>
<circle cx="271.8" cy="725.2" r="10.5" fill="#c9c9c9"/>
<circle cx="271.8" cy="725.2" r="7.6" fill="#0d0d0d"/>
<path d="M283.8 727.4C289.8 727.1 305.5 726.2 320 725.6C334.5 725 352.7 724.4 371 724C389.3 723.6 415.2 723.5 430 723.4C444.8 723.3 449.3 723.2 460 723.6C470.7 724 484 725 494 725.9C504 726.8 508.6 728.1 520 728.8C531.4 729.5 548.9 729.9 562.6 730.2C576.3 730.5 595.4 730.5 602 730.5" fill="none" stroke="#000" stroke-width="3.1" stroke-dasharray="11 4"/>
<path d="M327.4 786.2L279.5 728.5M298.6 735.6L278.2 727L284 747.8" fill="none" stroke="#000" stroke-width="4.8" stroke-linejoin="round" stroke-linecap="butt"/>
<text transform="translate(324.6 810.2) scale(1 1.03)" font-family="'Liberation Sans', Arial, sans-serif" font-size="23.45" fill="#111" stroke="#111" stroke-width="0.3">Earphones</text>
<defs><linearGradient id="mg" x1="0" y1="0" x2="0" y2="1"><stop offset="0" stop-color="#6f6f6f"/><stop offset="0.3" stop-color="#b9b9b9"/><stop offset="0.55" stop-color="#a3a3a3"/><stop offset="1" stop-color="#6b6b6b"/></linearGradient><radialGradient id="glow" cx="0.5" cy="0.5" r="0.5"><stop offset="0" stop-color="#555" stop-opacity="0.85"/><stop offset="0.45" stop-color="#777" stop-opacity="0.45"/><stop offset="1" stop-color="#999" stop-opacity="0"/></radialGradient></defs>
<ellipse cx="336" cy="640" rx="8" ry="38" fill="url(#glow)"/>
<rect x="315.8" y="628.6" width="24" height="15.4" rx="7" ry="7.7" fill="#fbfbfb" stroke="#cfcfcf" stroke-width="1.2"/>
<rect x="329.5" y="627.6" width="73.3" height="17.2" fill="url(#mg)"/>
<rect x="329.5" y="629.5" width="8" height="13.5" fill="#8f8f8f" opacity="0.75"/>
<path d="M402.5 632.3H600" stroke="#000" stroke-width="3.6" fill="none"/>
<text transform="translate(351.3 667.2) scale(1 1.03)" font-family="'Liberation Sans', Arial, sans-serif" font-size="23.05" fill="#111" stroke="#111" stroke-width="0.3">Optical mic</text>
<rect x="597.3" y="628.8" width="143.2" height="102.5" rx="15" ry="15" fill="#fff" stroke="#000" stroke-width="3.6"/>
<g font-family="'Liberation Sans', Arial, sans-serif" font-size="22.9" fill="#111" stroke="#111" stroke-width="0.3" text-anchor="middle">
<text transform="translate(666.9 659.9) scale(1 1.03)">Digital</text><text transform="translate(666.9 688) scale(1 1.03)">Signal</text><text transform="translate(668 715.5) scale(1 1.03)" font-size="23.95">Processor</text>
</g>
</g>
<g id="chart">
<rect x="1084.5" y="23" width="210.3" height="659" fill="#e5e5e5"/>
<g stroke="#2d2d2d" stroke-width="4.5" fill="none" stroke-linecap="butt">
<path d="M979.6 21.2V684.2"/>
<path d="M977.4 682H1618"/>
<path d="M972.3 682H979.6M972.3 587.8H979.6M972.3 493.7H979.6M972.3 399.6H979.6M972.3 305.6H979.6M972.3 211.5H979.6M972.3 117.4H979.6M972.3 23.3H979.6M1084.5 682V688.8M1189.7 682V688.8M1294.9 682V688.8M1400.2 682V688.8M1505.4 682V688.8M1610.6 682V688.8"/>
</g>
<path d="M980 580.1L980.4 579L980.9 577.4L981.5 575.5L982.2 573.4L982.8 571.4L983.4 569.5L983.9 567.7L984.5 565.9L985 564.1L985.6 562.3L986.1 560.5L986.7 558.8L987.4 557.1L988.1 555.3L988.8 553.6L989.5 552L990.2 550.5L990.9 549.2L991.6 548.2L992.4 547.4L993.1 546.8L993.8 546.3L994.5 545.9L995.1 545.5L995.7 545.3L996.3 545.2L996.8 545.2L997.3 545.3L997.9 545.5L998.5 545.7L999.1 545.9L999.8 546.2L1000.5 546.7L1001.2 547.2L1002 547.8L1002.7 548.6L1003.3 549.4L1004 550.4L1004.7 551.4L1005.4 552.5L1006.1 553.7L1006.8 554.8L1007.6 556L1008.5 557.3L1009.4 558.6L1010.2 559.8L1011.1 561L1011.9 562L1012.6 562.8L1013.4 563.5L1014.1 564.1L1014.8 564.6L1015.4 565L1016.1 565.3L1016.7 565.6L1017.2 565.8L1017.7 566L1018.3 566L1018.8 566L1019.4 566L1020.1 565.9L1020.7 565.8L1021.4 565.6L1022.2 565.4L1022.9 565.2L1023.6 565L1024.3 564.7L1025 564.3L1025.7 563.9L1026.4 563.6L1027.1 563.3L1027.8 563.1L1028.5 563L1029.2 563L1029.9 563.1L1030.6 563.3L1031.3 563.5L1032 563.9L1032.7 564.3L1033.4 564.8L1034.1 565.5L1034.8 566.2L1035.5 567.1L1036.2 568.1L1036.9 569.2L1037.5 570.5L1038.2 571.8L1038.9 573.2L1039.6 574.6L1040.3 575.9L1041 577.1L1041.7 578.4L1042.4 579.6L1043.1 580.8L1043.8 581.9L1044.5 582.8L1045.2 583.7L1045.9 584.6L1046.6 585.3L1047.3 585.9L1048 586.4L1048.7 586.8L1049.4 587L1050.1 587L1050.8 586.9L1051.5 586.8L1052.2 586.5L1052.9 586.1L1053.6 585.7L1054.3 585.1L1055 584.5L1055.7 583.8L1056.4 583.1L1057.1 582.5L1057.8 581.9L1058.5 581.3L1059.2 580.6L1059.9 580.1L1060.6 579.6L1061.3 579.4L1062 579.2L1062.7 579.2L1063.4 579.3L1064.1 579.5L1064.8 579.8L1065.5 580.2L1066.2 580.7L1066.9 581.2L1067.6 581.8L1068.3 582.4L1069 583.2L1069.6 584.1L1070.3 585L1071 586.2L1071.7 587.4L1072.4 588.7L1073.1 589.9L1073.8 591.1L1074.5 592.2L1075.2 593.4L1075.9 594.5L1076.6 595.5L1077.3 596.5L1078 597.3L1078.7 598L1079.4 598.6L1080.2 599.1L1080.9 599.5L1081.6 599.7L1082.2 599.8L1082.8 599.7L1083.4 599.5L1083.9 599.1L1084.5 598.5L1085 597.9L1085.6 597L1086.1 596L1086.7 594.8L1087.2 593.4L1087.8 592L1088.3 590.4L1088.9 588.8L1089.5 587.2L1090 585.5L1090.5 583.3L1091.1 581.1L1091.7 578.9L1092.3 576.7L1092.9 574.4L1093.6 572.1L1094.3 569.8L1095 567.5L1095.7 565.4L1096.4 563.4L1097.1 561.7L1097.8 559.9L1098.5 558.3L1099.2 556.8L1099.9 555.4L1100.6 554.1L1101.4 552.9L1102.2 551.7L1103.1 550.7L1104 549.7L1104.8 548.9L1105.7 548.5L1106.5 548.4L1107.3 548.5L1108.1 548.8L1108.9 549.1L1109.7 549.4L1110.5 549.6L1111.4 549.7L1112.2 549.9L1113 550L1113.8 550.1L1114.6 550.1L1115.4 550L1116.2 549.7L1117 549.4L1117.8 548.9L1118.6 548.4L1119.4 547.8L1120.2 547.2L1121.1 546.6L1121.9 545.9L1122.7 545.2L1123.5 544.4L1124.3 543.7L1125.1 543L1125.9 542.4L1126.7 541.8L1127.5 541.3L1128.3 540.8L1129.1 540.3L1129.9 539.9L1130.7 539.6L1131.6 539.3L1132.4 539.1L1133.2 538.9L1134 538.8L1134.8 538.8L1135.6 539L1136.4 539.3L1137.2 539.6L1138 540L1138.8 540.3L1139.6 540.6L1140.4 540.7L1141.3 540.9L1142.1 541L1142.9 541L1143.7 540.9L1144.5 540.7L1145.2 540.4L1145.9 540.1L1146.6 539.6L1147.3 539L1147.9 538.3L1148.5 537.6L1149.1 536.7L1149.7 535.8L1150.2 534.8L1150.7 533.7L1151.2 532.4L1151.7 531L1152.3 529.4L1152.9 527.6L1153.4 525.6L1154 523.6L1154.5 521.6L1155 519.8L1155.4 518.5L1155.6 517.8L1155.8 517.1L1156.2 516L1156.6 513.8L1157.4 510.1L1158.5 504.4L1160 496.9L1161.6 488.4L1163.2 479.7L1164.8 471.3L1166 464.2L1167 458.4L1167.8 453.2L1168.4 448.5L1169 443.9L1169.7 439.4L1170.4 434.6L1171.2 429.6L1172 424.5L1172.9 419.3L1173.8 414.2L1174.6 409.1L1175.5 404L1176.4 398.8L1177.2 393.6L1178.1 388.3L1178.9 383.2L1179.8 378.1L1180.6 373.3L1181.5 368.7L1182.3 364.2L1183.2 359.8L1184 355.6L1184.9 351.6L1185.7 347.8L1186.6 344.3L1187.4 341.1L1188.3 338.1L1189.2 335.3L1190 332.6L1190.9 330L1191.7 327.5L1192.5 325.2L1193.3 323.1L1194.2 321L1195.1 319.1L1196 317.3L1197 315.6L1198 314.1L1199.1 312.7L1200.2 311.4L1201.3 310L1202.4 308.4L1203.4 306.7L1204.5 305L1205.6 303.2L1206.6 301.4L1207.7 299.3L1208.8 297L1209.8 294.3L1210.9 291.4L1212 288.3L1213 285.1L1214.1 282.1L1215.2 279.1L1216.2 276.4L1217.3 273.7L1218.4 271.1L1219.5 268.6L1220.5 266L1221.6 263.4L1222.6 260.7L1223.6 258.1L1224.6 255.5L1225.6 252.8L1226.7 250.1L1227.8 247.2L1229 244.3L1230.2 241.3L1231.5 238.2L1232.8 235L1234.1 231.9L1235.5 228.8L1236.9 225.7L1238.3 222.5L1239.8 219.4L1241.3 216.3L1242.9 213.2L1244.5 210.3L1246.1 207.5L1247.8 204.8L1249.5 202.2L1251.2 199.6L1253 197L1254.7 194.2L1256.4 191.3L1258.2 188.3L1260 185.2L1261.7 182L1263.4 179L1264.9 176.4L1266.4 174.3L1267.7 172.4L1268.9 170.8L1270.2 169.3L1271.4 167.8L1272.6 166.2L1273.9 164.5L1275.2 162.9L1276.5 161.3L1277.8 159.6L1279.1 157.9L1280.3 156L1281.4 153.9L1282.5 151.7L1283.6 149.3L1284.6 146.9L1285.6 144.5L1286.7 142.1L1287.7 139.5L1288.8 136.8L1289.8 134.1L1290.9 131.5L1292 129.1L1293.1 127.2L1294.3 125.5L1295.6 124.1L1296.9 122.9L1298.2 121.9L1299.5 121.2L1300.8 120.8L1302 120.8L1303.2 121.1L1304.5 121.6L1305.7 122.3L1307 123.1L1308.5 123.9L1310 124.9L1311.8 126.2L1313.6 127.6L1315.4 128.9L1317.1 129.9L1318.7 130.3L1320.1 130.2L1321.4 129.8L1322.7 129L1323.9 128L1325.1 126.7L1326.4 125.2L1327.6 123.4L1328.9 121.2L1330.2 118.7L1331.5 116.1L1332.8 113.6L1334 111.1L1335.3 108.6L1336.7 106L1338 103.4L1339.3 101L1340.5 98.8L1341.7 97L1342.9 95.7L1344 94.7L1345 94L1346 93.5L1347.1 93.3L1348.1 93.2L1349.2 93.2L1350.3 93.5L1351.3 93.9L1352.4 94.6L1353.5 95.6L1354.5 96.8L1355.6 98.3L1356.7 100L1357.7 101.9L1358.8 104.2L1359.9 106.6L1360.9 109.3L1362 112.3L1363.1 115.5L1364.1 119L1365.2 122.7L1366.3 126.7L1367.3 130.9L1368.4 135.4L1369.5 140.2L1370.5 145.2L1371.6 150.5L1372.7 155.9L1373.7 161.3L1374.8 167L1375.9 172.8L1376.9 178.9L1378 185L1379.1 191.3L1380.1 197.5L1381.2 204L1382.2 210.8L1383.3 217.6L1384.4 224.3L1385.4 230.6L1386.5 236.4L1387.6 241.6L1388.7 246.2L1389.9 250.5L1391 254.6L1392.1 258.7L1393.1 262.9L1394 267.3L1394.8 271.7L1395.6 276.1L1396.4 280.5L1397.3 284.7L1398.2 288.9L1399.2 293L1400.2 297L1401.3 300.9L1402.4 304.8L1403.5 308.5L1404.6 312.2L1405.6 315.8L1406.7 319.3L1407.7 322.7L1408.8 326.1L1409.8 329.4L1411 332.9L1412.2 336.3L1413.4 339.7L1414.7 343.2L1416.1 346.6L1417.4 350.1L1418.7 353.5L1419.9 357L1421.2 360.4L1422.4 363.9L1423.7 367.3L1425 370.7L1426.3 374.2L1427.8 377.7L1429.2 381.1L1430.8 384.6L1432.3 388.1L1433.8 391.5L1435.3 394.9L1436.8 398.2L1438.2 401.5L1439.7 404.8L1441.1 408L1442.5 411.1L1443.8 414.2L1445.1 417.1L1446.3 419.9L1447.5 422.6L1448.6 425.3L1449.8 428L1451.1 430.7L1452.4 433.6L1453.8 436.5L1455.2 439.5L1456.6 442.4L1457.9 445L1459.2 447.3L1460.3 449.2L1461.4 450.8L1462.5 452.1L1463.5 453.3L1464.6 454.4L1465.6 455.3L1466.7 456.1L1467.7 456.8L1468.8 457.3L1469.8 457.6L1470.9 457.9L1472.1 458.1L1473.4 458.2L1474.7 458L1476.1 457.8L1477.5 457.5L1478.9 457.4L1480.2 457.6L1481.3 457.9L1482.4 458.5L1483.5 459.1L1484.5 459.8L1485.6 460.7L1486.6 461.5L1487.7 462.5L1488.7 463.6L1489.8 464.7L1490.8 465.9L1491.9 466.9L1493.1 467.9L1494.4 468.7L1495.7 469.4L1497.1 470L1498.5 470.6L1499.9 471.2L1501.2 471.8L1502.3 472.6L1503.4 473.3L1504.5 474L1505.5 474.8L1506.6 475.7L1507.6 476.6L1508.7 477.7L1509.8 478.9L1510.9 480.2L1511.9 481.5L1513 482.7L1514.1 483.9L1515.2 484.9L1516.2 485.9L1517.3 486.8L1518.4 487.7L1519.5 488.4L1520.5 489L1521.6 489.3L1522.7 489.5L1523.8 489.5L1524.9 489.5L1525.9 489.5L1527 489.4L1528.1 489.3L1529.2 489.1L1530.2 488.8L1531.3 488.6L1532.4 488.6L1533.5 488.9L1534.6 489.4L1535.6 490.2L1536.7 491.1L1537.8 492.2L1538.9 493.5L1539.9 495L1541 496.7L1542.1 498.8L1543.2 501.1L1544.2 503.5L1545.3 505.8L1546.4 507.8L1547.5 509.8L1548.6 511.7L1549.6 513.5L1550.7 515.2L1551.8 516.8L1552.9 518.3L1553.9 519.6L1555 520.8L1556.1 521.8L1557.2 522.8L1558.2 523.6L1559.3 524.2L1560.4 524.8L1561.4 525.2L1562.5 525.5L1563.5 525.6L1564.6 525.6L1565.8 525.5L1567 525.2L1568.4 524.7L1569.7 524L1571.1 523.3L1572.5 522.4L1573.9 521.5L1575.2 520.5L1576.6 519.3L1577.9 518L1579.2 516.7L1580.6 515.5L1581.9 514.4L1583.3 513.4L1584.6 512.5L1586 511.7L1587.3 511L1588.7 510.3L1590 509.6L1591.4 509L1592.7 508.4L1594.1 507.9L1595.5 507.4L1596.8 506.9L1598.1 506.5L1599.4 506L1600.8 505.6L1602.2 505.1L1603.5 504.7L1604.6 504.4L1605.4 504.2L1605.4 555.2L1604.6 555.4L1603.5 555.8L1602.2 556.2L1600.8 556.7L1599.4 557.2L1598.1 557.7L1596.8 558.2L1595.5 558.7L1594.1 559.2L1592.7 559.8L1591.4 560.4L1590 561L1588.7 561.7L1587.3 562.4L1586 563.2L1584.6 564.1L1583.3 565L1581.9 566L1580.6 567.1L1579.2 568.4L1577.9 569.7L1576.6 571L1575.2 572.3L1573.9 573.3L1572.5 574.3L1571.1 575.1L1569.7 575.9L1568.4 576.6L1567 577.1L1565.8 577.5L1564.6 577.6L1563.5 577.6L1562.5 577.4L1561.4 577.1L1560.4 576.7L1559.3 576.1L1558.2 575.5L1557.2 574.6L1556.1 573.7L1555 572.6L1553.9 571.4L1552.9 570.1L1551.8 568.6L1550.7 567L1549.6 565.3L1548.6 563.4L1547.5 561.5L1546.4 559.6L1545.3 557.5L1544.2 555.2L1543.2 552.8L1542.1 550.5L1541 548.4L1539.9 546.6L1538.9 545.1L1537.8 543.8L1536.7 542.7L1535.6 541.7L1534.6 541L1533.5 540.4L1532.4 540.1L1531.3 540.1L1530.2 540.3L1529.2 540.5L1528.1 540.7L1527 540.8L1525.9 540.9L1524.9 540.9L1523.8 540.9L1522.7 540.9L1521.6 540.7L1520.5 540.3L1519.5 539.7L1518.4 539L1517.3 538.1L1516.2 537.1L1515.2 536.1L1514.1 535.1L1513 533.9L1511.9 532.7L1510.9 531.4L1509.8 530.1L1508.7 528.9L1507.6 527.8L1506.6 526.8L1505.5 525.9L1504.5 525.1L1503.4 524.3L1502.3 523.6L1501.2 522.9L1499.9 522.2L1498.5 521.5L1497.1 520.9L1495.7 520.3L1494.4 519.5L1493.1 518.7L1491.9 517.7L1490.8 516.6L1489.8 515.5L1488.7 514.3L1487.7 513.2L1486.6 512.2L1485.6 511.3L1484.5 510.5L1483.5 509.7L1482.4 509L1481.3 508.5L1480.2 508.1L1478.9 507.9L1477.5 508L1476.1 508.2L1474.7 508.4L1473.4 508.5L1472.1 508.4L1470.9 508.2L1469.8 507.9L1468.8 507.5L1467.7 507L1466.7 506.3L1465.6 505.5L1464.6 504.5L1463.5 503.4L1462.5 502.2L1461.4 500.8L1460.3 499.2L1459.2 497.4L1457.9 495.2L1456.6 492.7L1455.2 490L1453.8 487.2L1452.4 484.3L1451.1 481.6L1449.8 479L1448.6 476.4L1447.5 473.9L1446.3 471.3L1445.1 468.6L1443.8 465.8L1442.5 462.9L1441.1 459.9L1439.7 456.8L1438.2 453.6L1436.8 450.4L1435.3 447.1L1433.8 443.8L1432.3 440.5L1430.8 437.1L1429.2 433.7L1427.8 430.3L1426.3 426.9L1425 423.5L1423.7 420.1L1422.4 416.7L1421.2 413.4L1419.9 410L1418.7 406.6L1417.4 403.2L1416.1 399.8L1414.7 396.5L1413.4 393.1L1412.2 389.7L1411 386.3L1409.8 383L1408.8 379.6L1407.7 376.3L1406.7 373L1405.6 369.5L1404.6 366L1403.5 362.4L1402.4 358.7L1401.3 354.9L1400.2 351L1399.2 347.2L1398.2 343.2L1397.3 339.2L1396.4 335L1395.6 330.8L1394.8 326.5L1394 322.3L1393.1 318L1392.1 314L1391 310L1389.9 306.1L1388.7 302L1387.6 297.6L1386.5 292.6L1385.4 287L1384.4 280.8L1383.3 274.3L1382.2 267.6L1381.2 261L1380.1 254.7L1379.1 248.6L1378 242.6L1376.9 236.6L1375.9 230.7L1374.8 224.9L1373.7 219.2L1372.7 213.7L1371.6 208.2L1370.5 202.9L1369.5 197.8L1368.4 192.9L1367.3 188.3L1366.3 184L1365.2 180L1364.1 176.2L1363.1 172.6L1362 169.3L1360.9 166.3L1359.9 163.5L1358.8 161L1357.7 158.7L1356.7 156.6L1355.6 154.8L1354.5 153.3L1353.5 152L1352.4 151L1351.3 150.2L1350.3 149.7L1349.2 149.3L1348.1 149.2L1347.1 149.3L1346 149.5L1345 150L1344 150.7L1342.9 151.7L1341.7 153L1340.5 154.8L1339.3 157L1338 159.4L1336.7 162L1335.3 164.6L1334 167.1L1332.8 169.6L1331.5 172.1L1330.2 174.7L1328.9 177.2L1327.6 179.4L1326.4 181.2L1325.1 182.7L1323.9 184L1322.7 185L1321.4 185.8L1320.1 186.2L1318.7 186.3L1317.1 185.9L1315.4 184.9L1313.6 183.6L1311.8 182.2L1310 180.9L1308.5 179.9L1307 179.1L1305.7 178.3L1304.5 177.6L1303.2 177.1L1302 176.8L1300.8 176.8L1299.5 177.1L1298.2 177.6L1296.9 178.3L1295.6 179.2L1294.3 180.4L1293.1 181.8L1292 183.5L1290.9 185.7L1289.8 188L1288.8 190.4L1287.7 192.8L1286.7 195L1285.6 197.1L1284.6 199.1L1283.6 201.2L1282.5 203.2L1281.4 205L1280.3 206.7L1279.1 208.2L1277.8 209.6L1276.5 210.8L1275.2 212L1273.9 213.2L1272.6 214.4L1271.4 215.6L1270.2 216.7L1268.9 217.8L1267.7 219L1266.4 220.4L1264.9 222.1L1263.4 224.2L1261.7 226.6L1260 229.2L1258.2 232L1256.4 234.9L1254.7 237.5L1253 240L1251.2 242.4L1249.5 244.8L1247.8 247.2L1246.1 249.6L1244.5 252.2L1242.9 254.9L1241.3 257.8L1239.8 260.7L1238.3 263.7L1236.9 266.6L1235.5 269.5L1234.1 272.5L1232.8 275.4L1231.5 278.4L1230.2 281.3L1229 284.2L1227.8 286.9L1226.7 289.6L1225.6 292.2L1224.6 294.7L1223.6 297.2L1222.6 299.7L1221.6 302.2L1220.5 304.7L1219.5 307.1L1218.4 309.6L1217.3 312L1216.2 314.5L1215.2 317.2L1214.1 320.1L1213 323.2L1212 326.4L1210.9 329.5L1209.8 332.5L1208.8 335.2L1207.7 337.5L1206.6 339.6L1205.6 341.5L1204.5 343.3L1203.4 345.1L1202.4 346.8L1201.3 348.4L1200.2 349.9L1199.1 351.2L1198 352.6L1197 354.1L1196 355.8L1195.1 357.7L1194.2 359.7L1193.3 361.7L1192.5 363.9L1191.7 366.2L1190.9 368.7L1190 371.3L1189.2 374.1L1188.3 376.9L1187.4 380L1186.6 383.2L1185.7 386.7L1184.9 390.5L1184 394.5L1183.2 398.7L1182.3 403.2L1181.5 407.7L1180.6 412.4L1179.8 417.2L1178.9 422.3L1178.1 427.5L1177.2 432.7L1176.4 438L1175.5 443.2L1174.6 448.3L1173.8 453.5L1172.9 458.6L1172 463.8L1171.2 468.9L1170.4 474L1169.7 478.8L1169 483.4L1168.4 487.9L1167.8 492.6L1167 497.8L1166 503.7L1164.8 510.9L1163.2 519.2L1161.6 528.1L1160 536.6L1158.5 544.1L1157.4 549.9L1156.6 553.6L1156.2 555.8L1155.8 556.9L1155.6 557.6L1155.4 558.3L1155 559.6L1154.5 561.5L1154 563.5L1153.4 565.5L1152.9 567.5L1152.3 569.3L1151.7 571L1151.2 572.4L1150.7 573.6L1150.2 574.8L1149.7 575.7L1149.1 576.6L1148.5 577.4L1147.9 578.1L1147.3 578.6L1146.6 579.1L1145.9 579.5L1145.2 579.8L1144.5 580L1143.7 580.1L1142.9 580L1142.1 579.9L1141.3 579.7L1140.4 579.5L1139.6 579.2L1138.8 578.9L1138 578.4L1137.2 577.9L1136.4 577.4L1135.6 577L1134.8 576.8L1134 576.6L1133.2 576.4L1132.4 576.4L1131.6 576.4L1130.7 576.5L1129.9 576.6L1129.1 576.8L1128.3 577L1127.5 577.3L1126.7 577.6L1125.9 578L1125.1 578.4L1124.3 578.8L1123.5 579.3L1122.7 579.9L1121.9 580.4L1121.1 580.9L1120.2 581.3L1119.4 581.5L1118.6 581.5L1117.8 581.6L1117 581.5L1116.2 581.3L1115.4 581.1L1114.6 580.7L1113.8 580.2L1113 579.6L1112.2 579L1111.4 578.3L1110.5 577.6L1109.7 576.9L1108.9 576.1L1108.1 575.3L1107.3 574.6L1106.5 573.9L1105.7 573.5L1104.8 573.3L1104 572.9L1103.1 572.7L1102.2 572.7L1101.4 572.8L1100.6 572.9L1099.9 573.3L1099.2 573.7L1098.5 574.3L1097.8 575L1097.1 575.9L1096.4 577L1095.7 578.5L1095 580.1L1094.3 581.8L1093.6 583.7L1092.9 585.5L1092.3 587.3L1091.7 589L1091.1 590.9L1090.5 592.7L1090 594.5L1089.5 596.6L1088.9 598.5L1088.3 600.4L1087.8 602.3L1087.2 604.2L1086.7 605.9L1086.1 607.4L1085.6 608.8L1085 610L1084.5 611L1083.9 611.9L1083.4 612.6L1082.8 613.2L1082.2 613.7L1081.6 614L1080.9 614.1L1080.2 614.2L1079.4 614L1078.7 613.8L1078 613.5L1077.3 613.1L1076.6 612.6L1075.9 611.9L1075.2 611.2L1074.5 610.4L1073.8 609.7L1073.1 608.9L1072.4 608.1L1071.7 607.2L1071 606.3L1070.3 605.6L1069.6 605L1069 604.5L1068.3 604.2L1067.6 603.9L1066.9 603.7L1066.2 603.6L1065.5 603.8L1064.8 604.1L1064.1 604.6L1063.4 605.1L1062.7 605.7L1062 606.5L1061.3 607.4L1060.6 608.4L1059.9 609.6L1059.2 610.9L1058.5 612.2L1057.8 613.6L1057.1 614.9L1056.4 616.3L1055.7 617.7L1055 619.1L1054.3 620.5L1053.6 621.8L1052.9 623L1052.2 624.1L1051.5 625.1L1050.8 626L1050.1 626.9L1049.4 627.5L1048.7 628.1L1048 628.4L1047.3 628.5L1046.6 628.5L1045.9 628.4L1045.2 628.2L1044.5 628L1043.8 627.7L1043.1 627.2L1042.4 626.7L1041.7 626.1L1041 625.5L1040.3 624.9L1039.6 624.3L1038.9 623.6L1038.2 622.8L1037.5 622.1L1036.9 621.5L1036.2 621L1035.5 620.6L1034.8 620.3L1034.1 620L1033.4 619.7L1032.7 619.6L1032 619.5L1031.3 619.5L1030.6 619.6L1029.9 619.8L1029.2 620.1L1028.5 620.5L1027.8 620.9L1027.1 621.5L1026.4 622.2L1025.7 622.9L1025 623.7L1024.3 624.4L1023.6 625.1L1022.9 625.7L1022.2 626.3L1021.4 626.9L1020.7 627.4L1020.1 627.8L1019.4 628.1L1018.8 628.3L1018.3 628.4L1017.7 628.4L1017.2 628.4L1016.7 628.2L1016.1 628.1L1015.4 627.8L1014.8 627.5L1014.1 627.1L1013.4 626.7L1012.6 626.1L1011.9 625.4L1011.1 624.6L1010.2 623.6L1009.4 622.5L1008.5 621.3L1007.6 620.2L1006.8 619.2L1006.1 618.2L1005.4 617.2L1004.7 616.2L1004 615.3L1003.3 614.4L1002.7 613.7L1002 613.1L1001.2 612.6L1000.5 612.2L999.8 611.9L999.1 611.7L998.5 611.6L997.9 611.6L997.3 611.7L996.8 611.9L996.3 612.3L995.7 612.8L995.1 613.4L994.5 614.1L993.8 614.9L993.1 615.9L992.4 617L991.6 618.3L990.9 619.7L990.2 621.4L989.5 623.3L988.8 625.4L988.1 627.6L987.4 629.8L986.7 631.9L986.1 634L985.6 636.1L985 638.3L984.5 640.4L983.9 642.6L983.4 644.7L982.8 647L982.2 649.4L981.5 651.9L980.9 654.2L980.4 656.1L980 657.5Z" fill="#000" fill-opacity="0.24" stroke="#000" stroke-opacity="0.18" stroke-width="0.8"/>
<path d="M980 547.2L980.6 546.5L981.4 545.5L982.2 544.3L983.2 543L984.2 541.8L985.1 540.7L985.9 539.8L986.7 538.8L987.5 537.8L988.4 537L989.2 536.4L990.1 536L991 536L992 536.1L992.9 536.6L993.9 537.2L994.9 538L996 538.9L997 540L998.2 541.4L999.3 542.8L1000.5 544.4L1001.6 545.8L1002.7 547.2L1003.7 548.4L1004.6 549.6L1005.6 550.7L1006.5 551.8L1007.5 552.8L1008.5 553.7L1009.6 554.5L1010.6 555.3L1011.7 556L1012.8 556.7L1014 557.3L1015.2 557.8L1016.5 558.1L1017.9 558.3L1019.2 558.4L1020.7 558.5L1022.1 558.6L1023.6 558.9L1025.1 559.4L1026.7 559.9L1028.3 560.5L1029.8 561.2L1031.4 561.9L1032.8 562.5L1034.2 563.3L1035.5 564L1036.7 564.8L1038 565.6L1039.2 566.3L1040.3 567L1041.5 567.5L1042.6 568L1043.6 568.5L1044.7 568.8L1045.8 569.1L1047 569.3L1048.3 569.4L1049.6 569.4L1051 569.3L1052.4 569.2L1053.9 569.2L1055.4 569.2L1057 569.2L1058.8 569.2L1060.5 569.3L1062.3 569.3L1064 569.5L1065.5 569.8L1066.8 570.2L1067.9 570.7L1069 571.3L1070.1 571.9L1071.1 572.7L1072.2 573.4L1073.3 574.2L1074.3 575.1L1075.4 575.9L1076.5 576.7L1077.6 577.6L1078.9 578.7L1080.2 580L1081.6 581.6L1083.1 583.2L1084.6 584.9L1086 586.4L1087.2 587.6L1088.3 588.7L1089.3 589.5L1090.3 590.2L1091.2 590.8L1092.1 591.3L1093.1 591.8L1094.2 592.3L1095.3 592.8L1096.4 593.3L1097.5 593.6L1098.7 593.8L1099.8 593.9L1100.9 593.8L1102 593.6L1103.1 593.3L1104.2 592.9L1105.3 592L1106.5 590.9L1107.7 589.6L1108.9 587.9L1110.2 586.1L1111.4 584.3L1112.6 582.5L1113.8 581L1114.9 579.6L1116 578.4L1117 577.2L1118.1 576.2L1119.1 575.3L1120.2 574.6L1121.4 574.1L1122.6 573.8L1123.8 573.7L1125 573.7L1126.2 573.7L1127.5 573.7L1128.8 573.7L1130.1 573.7L1131.5 574L1132.9 574.3L1134.2 574.6L1135.6 574.9L1136.9 575.3L1138.3 575.8L1139.6 576.3L1141 576.8L1142.3 577.1L1143.7 577.3L1145 577.3L1146.4 577.2L1147.9 577L1149.2 576.7L1150.5 576.3L1151.7 575.8L1152.8 575.2L1153.9 574.4L1154.8 573.5L1155.7 572.5L1156.6 571.5L1157.4 570.4L1158.2 569.4L1158.8 568.5L1159.5 567.5L1160.1 566.3L1160.7 564.9L1161.4 563.1L1162.2 561L1163 558.4L1163.8 555.6L1164.6 552.6L1165.4 549.7L1166.3 547L1167.2 544.3L1168.1 541.7L1169.1 539.1L1170.1 536.5L1171 534L1171.9 531.6L1172.7 529.5L1173.3 528.1L1173.9 526.6L1174.6 524.7L1175.5 521.9L1176.8 517.8L1178.5 511.7L1180.7 504L1183.1 495.4L1185.5 486.7L1187.7 478.5L1189.6 471.7L1191 466.3L1192.2 461.8L1193.3 457.9L1194.2 454.3L1195.1 450.8L1196 447L1196.9 443.1L1197.7 439.2L1198.5 435.4L1199.3 431.6L1200.2 427.8L1201.1 424L1202.1 420.1L1203.1 416.2L1204.2 412.3L1205.3 408.4L1206.4 404.6L1207.5 400.9L1208.6 397.2L1209.6 393.6L1210.7 390.1L1211.8 386.6L1212.8 383.4L1213.9 380.4L1214.9 377.6L1215.9 375.1L1216.9 372.8L1217.9 370.6L1219 368.5L1220.3 366.3L1221.8 364L1223.4 361.8L1225.2 359.6L1227 357.4L1228.8 355.4L1230.5 353.5L1232.2 351.8L1233.9 350.2L1235.5 348.7L1237.2 347.3L1238.9 345.9L1240.8 344.5L1242.8 343.2L1244.9 341.8L1247.2 340.5L1249.4 339.3L1251.6 338L1253.6 336.8L1255.5 335.6L1257.3 334.5L1259.1 333.5L1260.8 332.4L1262.4 331.2L1263.8 330L1265.1 328.7L1266.2 327.3L1267.2 325.9L1268.2 324.4L1269.2 322.7L1270.2 320.8L1271.3 318.5L1272.4 316L1273.5 313.3L1274.6 310.6L1275.6 307.8L1276.6 305.1L1277.5 302.5L1278.4 299.9L1279.2 297.3L1280 294.7L1280.8 292.1L1281.7 289.6L1282.7 287L1283.7 284.4L1284.8 281.8L1285.9 279.2L1287 276.6L1288.1 273.9L1289.3 271.2L1290.4 268.4L1291.6 265.6L1292.9 262.8L1294.2 260.3L1295.7 257.9L1297.2 255.8L1298.8 253.9L1300.4 252.2L1302.2 250.6L1304 249L1305.9 247.3L1307.9 245.6L1310 243.8L1312.1 241.9L1314.3 240.2L1316.5 238.4L1318.7 236.8L1320.8 235.3L1323 233.9L1325.1 232.6L1327.2 231.3L1329.4 230.1L1331.5 228.9L1333.6 227.8L1335.8 226.8L1338 225.8L1340.2 224.9L1342.3 224.2L1344.3 223.5L1346.1 223L1347.9 222.6L1349.6 222.2L1351.2 222L1352.8 221.9L1354.5 222.1L1356.3 222.3L1358 222.8L1359.8 223.3L1361.5 224L1363.2 224.9L1364.8 226L1366.2 227.3L1367.6 228.7L1368.8 230.3L1370.1 232.1L1371.3 234.1L1372.4 236.4L1373.6 239L1374.8 241.9L1375.9 245.1L1376.9 248.3L1377.9 251.5L1378.8 254.4L1379.7 257.1L1380.4 259.9L1381.1 262.6L1381.7 265.1L1382.2 267.1L1382.7 268.7L1383 269.5L1383.2 269.4L1383.3 268.9L1383.4 268.6L1383.7 268.8L1384.1 270.1L1384.7 272.7L1385.5 276.2L1386.4 280.3L1387.3 284.7L1388.3 289.1L1389.2 293.3L1390.2 297.2L1391.2 301.1L1392.3 305.1L1393.3 309L1394.5 312.8L1395.6 316.4L1396.8 319.7L1398.1 322.8L1399.4 325.9L1400.7 328.8L1402 331.6L1403.3 334.4L1404.6 337.1L1406 339.9L1407.3 342.5L1408.7 345.1L1409.9 347.5L1411 349.8L1411.9 351.9L1412.7 354L1413.5 355.9L1414.1 357.7L1414.8 359.3L1415.5 360.7L1416.2 361.7L1416.9 362.3L1417.5 362.8L1418.2 363.3L1419 364L1419.9 365.2L1421 367L1422.2 369.1L1423.5 371.6L1424.9 374L1426.6 376.4L1428.5 378.5L1430.7 380.4L1433.3 382.2L1436.1 383.8L1439 385.4L1441.8 386.9L1444.6 388.4L1447.4 389.8L1450.1 391L1452.9 392.2L1455.6 393.4L1458.3 394.6L1460.8 395.8L1463.1 396.9L1465.3 398L1467.4 399L1469.5 400.1L1471.6 401.5L1473.7 403.1L1475.8 405.2L1477.9 407.8L1480.1 410.6L1482.2 413.3L1484.4 415.8L1486.6 417.7L1488.9 419.1L1491.3 420L1493.7 420.6L1496.1 421.1L1498.6 421.8L1501.2 422.6L1503.8 424L1506.5 425.6L1509.2 427.3L1512 428.9L1514.7 430.1L1517.3 430.8L1519.8 430.8L1522.2 430.2L1524.6 429.2L1527 428.2L1529.4 427.3L1531.9 426.8L1534.5 426.7L1537.2 426.7L1539.9 426.9L1542.7 427.3L1545.4 427.8L1548 428.5L1550.5 429.3L1553 430.3L1555.5 431.4L1557.9 432.8L1560.2 434.2L1562.6 435.8L1564.8 437.6L1566.9 439.8L1569 442.1L1571.1 444.3L1573.2 446.3L1575.5 447.9L1577.8 449L1580.2 449.6L1582.6 450L1585 450.3L1587.5 450.7L1590 451.2L1592.7 451.8L1595.6 452.6L1598.6 453.4L1601.4 454.2L1603.7 454.8L1605.4 455.2L1605.4 483.2L1603.7 482.8L1601.4 482.2L1598.6 481.4L1595.6 480.7L1592.7 479.9L1590 479.2L1587.5 478.8L1585 478.4L1582.6 478.1L1580.2 477.7L1577.8 477.1L1575.5 476L1573.2 474.5L1571.1 472.5L1569 470.2L1566.9 468L1564.8 465.8L1562.6 464L1560.2 462.4L1557.9 461L1555.5 459.7L1553 458.5L1550.5 457.5L1548 456.7L1545.4 456.1L1542.7 455.6L1539.9 455.2L1537.2 455L1534.5 455L1531.9 455.1L1529.4 455.6L1527 456.5L1524.6 457.6L1522.2 458.5L1519.8 459.2L1517.3 459.2L1514.7 458.5L1512 457.3L1509.2 455.8L1506.5 454.1L1503.8 452.5L1501.2 451.2L1498.6 450.3L1496.1 449.7L1493.7 449.2L1491.3 448.6L1488.9 447.8L1486.6 446.4L1484.4 444.5L1482.2 442.1L1480.1 439.4L1477.9 436.6L1475.8 434.1L1473.7 432L1471.6 430.4L1469.5 429L1467.4 427.9L1465.3 426.9L1463.1 425.9L1460.8 424.8L1458.3 423.6L1455.6 422.5L1452.9 421.4L1450.1 420.2L1447.4 419L1444.6 417.6L1441.8 416.2L1439 414.8L1436.1 413.2L1433.3 411.6L1430.7 409.9L1428.5 408.1L1426.6 406L1424.9 403.6L1423.5 401.2L1422.2 398.8L1421 396.6L1419.9 394.9L1419 393.7L1418.2 393L1417.5 392.5L1416.9 392.1L1416.2 391.4L1415.5 390.4L1414.8 389L1414.1 387.4L1413.5 385.7L1412.7 383.8L1411.9 381.7L1411 379.6L1409.9 377.4L1408.7 374.9L1407.3 372.4L1406 369.8L1404.6 367.1L1403.3 364.3L1402 361.5L1400.7 358.7L1399.4 355.9L1398.1 352.9L1396.8 349.8L1395.6 346.5L1394.5 343L1393.3 339.2L1392.3 335.3L1391.2 331.4L1390.2 327.4L1389.2 323.5L1388.3 319.5L1387.3 315.1L1386.4 310.7L1385.5 306.6L1384.7 303.1L1384.1 300.6L1383.7 299.2L1383.4 299L1383.3 299.3L1383.2 299.8L1383 299.9L1382.7 299.2L1382.2 297.6L1381.7 295.5L1381.1 293.1L1380.4 290.4L1379.7 287.7L1378.8 284.9L1377.9 282.1L1376.9 279L1375.9 275.7L1374.8 272.6L1373.6 269.7L1372.4 267.1L1371.3 264.9L1370.1 262.9L1368.8 261.1L1367.6 259.6L1366.2 258.2L1364.8 256.9L1363.2 255.9L1361.5 255L1359.8 254.4L1358 253.9L1356.3 253.5L1354.5 253.2L1352.8 253.1L1351.2 253.1L1349.6 253.2L1347.9 253.5L1346.1 253.9L1344.3 254.3L1342.3 254.9L1340.2 255.6L1338 256.4L1335.8 257.2L1333.6 258.2L1331.5 259.2L1329.4 260.2L1327.2 261.4L1325.1 262.6L1323 263.8L1320.8 265.2L1318.7 266.6L1316.5 268.1L1314.3 269.7L1312.1 271.4L1310 273.2L1307.9 274.9L1305.9 276.6L1304 278.2L1302.2 279.7L1300.4 281.2L1298.8 282.8L1297.2 284.6L1295.7 286.5L1294.2 288.8L1292.9 291.2L1291.6 293.9L1290.4 296.6L1289.3 299.3L1288.1 301.9L1287 304.4L1285.9 307L1284.8 309.5L1283.7 312L1282.7 314.5L1281.7 317L1280.8 319.5L1280 322L1279.2 324.6L1278.4 327.1L1277.5 329.6L1276.6 332.1L1275.6 334.7L1274.6 337.4L1273.5 340.1L1272.4 342.7L1271.3 345.1L1270.2 347.2L1269.2 349.1L1268.2 350.7L1267.2 352.1L1266.2 353.4L1265.1 354.7L1263.8 355.9L1262.4 357L1260.8 358.1L1259.1 359L1257.3 359.9L1255.5 360.8L1253.6 361.9L1251.6 363L1249.4 364.3L1247.2 365.5L1244.9 366.8L1242.8 368.2L1240.8 369.5L1238.9 370.9L1237.2 372.3L1235.5 373.7L1233.9 375.2L1232.2 376.8L1230.5 378.5L1228.8 380.4L1227 382.4L1225.2 384.6L1223.4 386.8L1221.8 389L1220.3 391.3L1219 393.5L1217.9 395.6L1216.9 397.8L1215.9 400.1L1214.9 402.6L1213.9 405.3L1212.8 408.4L1211.8 411.6L1210.7 415L1209.6 418.5L1208.6 422.1L1207.5 425.8L1206.4 429.5L1205.3 433.2L1204.2 437.1L1203.1 441L1202.1 444.9L1201.1 448.8L1200.2 452.6L1199.3 456.4L1198.5 460.2L1197.7 464L1196.9 467.8L1196 471.8L1195.1 475.5L1194.2 479L1193.3 482.6L1192.2 486.5L1191 490.9L1189.6 496.3L1187.7 503.1L1185.5 511.2L1183.1 519.9L1180.7 528.5L1178.5 536.2L1176.8 542.2L1175.5 546.3L1174.6 549.1L1173.9 551L1173.3 552.4L1172.7 553.9L1171.9 555.9L1171 558.3L1170.1 560.9L1169.1 563.4L1168.1 566L1167.2 568.6L1166.3 571.2L1165.4 573.9L1164.6 576.8L1163.8 579.8L1163 582.6L1162.2 585.1L1161.4 587.3L1160.7 589.1L1160.1 590.5L1159.5 591.6L1158.8 592.6L1158.2 593.6L1157.4 594.6L1156.6 595.6L1155.7 596.6L1154.8 597.6L1153.9 598.5L1152.8 599.2L1151.7 599.8L1150.5 600.3L1149.2 600.6L1147.9 600.8L1146.4 600.9L1145 600.8L1143.7 600.6L1142.3 600.3L1141 599.9L1139.6 599.3L1138.3 598.6L1136.9 598L1135.6 597.5L1134.2 597L1132.9 596.6L1131.5 596.1L1130.1 595.7L1128.8 595.1L1127.5 594.5L1126.2 594L1125 593.4L1123.8 592.8L1122.6 592.4L1121.4 592.1L1120.2 592L1119.1 592.2L1118.1 592.6L1117 593.2L1116 593.8L1114.9 594.6L1113.8 595.3L1112.6 596.3L1111.4 597.4L1110.2 598.6L1108.9 599.7L1107.7 600.7L1106.5 601.5L1105.3 601.9L1104.2 602.2L1103.1 602.5L1102 602.8L1100.9 602.9L1099.8 602.9L1098.7 602.8L1097.5 602.5L1096.4 602.1L1095.3 601.7L1094.2 601.1L1093.1 600.6L1092.1 600L1091.2 599.4L1090.3 598.8L1089.3 598.1L1088.3 597.3L1087.2 596.4L1086 595.2L1084.6 593.7L1083.1 592.2L1081.6 590.6L1080.2 589.1L1078.9 587.9L1077.6 586.9L1076.5 586L1075.4 585.3L1074.3 584.7L1073.3 584.2L1072.2 583.8L1071.1 583.4L1070.1 583L1069 582.7L1067.9 582.5L1066.8 582.4L1065.5 582.4L1064 582.7L1062.3 583.1L1060.5 583.6L1058.8 584.2L1057 584.8L1055.4 585.3L1053.9 585.9L1052.4 586.4L1051 586.9L1049.6 587.4L1048.3 587.7L1047 587.9L1045.8 588L1044.7 587.9L1043.6 587.7L1042.6 587.5L1041.5 587.2L1040.3 586.9L1039.2 586.5L1038 586L1036.7 585.5L1035.5 584.9L1034.2 584.4L1032.8 584L1031.4 583.6L1029.8 583.2L1028.3 582.9L1026.7 582.6L1025.1 582.4L1023.6 582.2L1022.1 582.2L1020.7 582.3L1019.2 582.5L1017.9 582.7L1016.5 582.8L1015.2 582.7L1014 582.5L1012.8 582.2L1011.7 581.8L1010.6 581.3L1009.6 580.7L1008.5 580.1L1007.5 579.4L1006.5 578.6L1005.6 577.8L1004.6 576.8L1003.7 575.9L1002.7 574.9L1001.6 573.8L1000.5 572.5L999.3 571.3L998.2 570L997 568.9L996 568.1L994.9 567.4L993.9 566.8L992.9 566.4L992 566.1L991 565.9L990.1 565.9L989.2 566.2L988.4 566.8L987.5 567.6L986.7 568.4L985.9 569.4L985.1 570.3L984.2 571.3L983.2 572.5L982.2 573.7L981.4 574.8L980.6 575.8L980 576.5Z" fill="#000" fill-opacity="0.24" stroke="#000" stroke-opacity="0.18" stroke-width="0.8"/>
<path d="M980 618.8C980.6 616.9 982.3 611 983.4 607.1C984.5 603.2 985.5 599.1 986.7 595.4C988 591.6 989.5 587.1 990.9 584.5C992.3 581.8 993.9 580.4 995.1 579.5C996.4 578.5 997.2 578.3 998.5 578.6C999.7 578.9 1001.3 579.7 1002.7 581.1C1004.1 582.5 1005.3 584.9 1006.8 587C1008.4 589.1 1010.3 592.1 1011.9 593.7C1013.4 595.3 1014.8 596.1 1016.1 596.7C1017.3 597.3 1018.1 597.3 1019.4 597C1020.7 596.8 1022.2 595.9 1023.6 595C1025 594.2 1026.4 592.6 1027.8 592C1029.2 591.5 1030.6 591.3 1032 591.7C1033.4 592.1 1034.8 593.1 1036.2 594.5C1037.5 596 1038.9 598.6 1040.3 600.4C1041.7 602.2 1043.1 604.2 1044.5 605.4C1045.9 606.6 1047.3 607.6 1048.7 607.4C1050.1 607.3 1051.5 606 1052.9 604.6C1054.3 603.1 1055.7 600.6 1057.1 598.7C1058.5 596.8 1059.9 594.5 1061.3 593.4C1062.7 592.2 1064.1 591.8 1065.5 592C1066.9 592.2 1068.3 593.1 1069.6 594.5C1071 595.9 1072.4 598.6 1073.8 600.4C1075.2 602.2 1076.6 604.4 1078 605.4C1079.4 606.5 1081 607.2 1082.2 606.8C1083.5 606.3 1084.4 605.1 1085.6 602.9C1086.7 600.7 1087.8 597.2 1088.9 593.7C1090 590.2 1091 585.9 1092.3 582C1093.5 578.1 1095 573.3 1096.4 570.2C1097.8 567.2 1099.1 565.1 1100.6 563.5C1102.2 562 1104 561 1105.7 561C1107.3 561 1108.9 562.9 1110.5 563.6C1112.2 564.4 1113.8 565.4 1115.4 565.5C1117 565.6 1118.6 565.1 1120.2 564.2C1121.9 563.4 1123.5 561.7 1125.1 560.7C1126.7 559.7 1128.3 558.8 1129.9 558.3C1131.6 557.8 1133.2 557.5 1134.8 557.8C1136.4 558.1 1138 559.5 1139.6 559.9C1141.2 560.3 1143 560.8 1144.5 560.4C1146 560 1147.3 559 1148.5 557.5C1149.7 555.9 1150.7 554 1151.7 551C1152.8 548 1154 543.2 1155 539.7C1155.9 536.2 1155.6 539.3 1157.4 530C1159.2 520.7 1163.9 496.6 1166 484C1168.2 471.4 1168.8 464.4 1170.4 454.3C1172 444.2 1173.8 433.8 1175.5 423.6C1177.2 413.3 1178.9 402.2 1180.6 392.9C1182.3 383.5 1184 374.5 1185.7 367.3C1187.4 360 1189.2 354.5 1190.9 349.3C1192.6 344.2 1194.1 340.2 1196 336.5C1197.9 332.9 1200.2 331 1202.4 327.6C1204.5 324.2 1206.6 321 1208.8 316.1C1210.9 311.2 1213 303.7 1215.2 298.2C1217.3 292.6 1219.5 288 1221.6 282.8C1223.7 277.6 1225.5 272.7 1227.8 267.1C1230.1 261.5 1232.7 255.1 1235.5 249.2C1238.3 243.2 1241.3 236.8 1244.5 231.2C1247.7 225.7 1251.3 221.2 1254.7 215.9C1258.1 210.6 1262 203.5 1264.9 199.3C1267.9 195 1270.1 193.3 1272.6 190.3C1275.2 187.3 1278 185 1280.3 181.3C1282.6 177.7 1284.6 173 1286.7 168.5C1288.8 164.1 1290.7 157.7 1293.1 154.5C1295.4 151.2 1298.2 149.3 1300.8 148.8C1303.3 148.4 1305.5 150.3 1308.5 151.9C1311.4 153.5 1315.7 158.1 1318.7 158.3C1321.7 158.5 1323.8 156.4 1326.4 153.2C1328.9 150 1331.5 143.8 1334 139.1C1336.6 134.4 1339.4 128 1341.7 125C1344.1 122 1346 121.2 1348.1 121.2C1350.3 121.2 1352.4 122.3 1354.5 125C1356.7 127.8 1358.8 132.1 1360.9 137.8C1363.1 143.6 1365.2 150.8 1367.3 159.6C1369.5 168.3 1371.6 179.2 1373.7 190.3C1375.9 201.4 1378 213.8 1380.1 226.1C1382.3 238.5 1384.4 253.8 1386.5 264.5C1388.7 275.2 1391.1 281.9 1393.1 290.5C1395 299.1 1396.3 308 1398.2 316.1C1400.1 324.2 1402.4 331.9 1404.6 339.1C1406.7 346.4 1408.6 352.8 1411 359.6C1413.3 366.4 1416.1 373.2 1418.7 380.1C1421.2 386.9 1423.6 393.7 1426.3 400.5C1429.1 407.4 1432.4 414.4 1435.3 421C1438.2 427.6 1441.2 434.1 1443.8 440C1446.4 445.9 1448.5 450.8 1451.1 456.2C1453.6 461.5 1456.7 468.3 1459.2 472.3C1461.6 476.3 1463.5 478.6 1465.6 480.4C1467.8 482.2 1469.7 482.9 1472.1 483.3C1474.5 483.7 1477.7 482.2 1480.2 482.8C1482.6 483.4 1484.5 485.1 1486.6 486.8C1488.8 488.6 1490.7 491.6 1493.1 493.3C1495.5 495.1 1498.7 495.9 1501.2 497.4C1503.6 498.8 1505.5 500.2 1507.6 502.2C1509.8 504.2 1511.9 507.4 1514.1 509.5C1516.2 511.5 1518.4 513.7 1520.5 514.6C1522.7 515.6 1524.9 515.1 1527 515.1C1529.2 515.1 1531.3 513.7 1533.5 514.6C1535.6 515.6 1537.8 517.6 1539.9 520.8C1542.1 524 1544.2 529.8 1546.4 533.7C1548.6 537.6 1550.7 541.5 1552.9 544.2C1555 546.9 1557.2 549 1559.3 550.2C1561.5 551.4 1563.4 551.9 1565.8 551.5C1568.2 551 1571.2 549.3 1573.9 547.4C1576.6 545.5 1579.2 542.2 1581.9 540.2C1584.6 538.1 1587.3 536.7 1590 535.3C1592.7 534 1595.5 533 1598.1 532.1C1600.7 531.1 1604.2 530.1 1605.4 529.7" fill="none" stroke="#333" stroke-width="4.6" stroke-linejoin="round"/>
<path d="M980 561.9L980.3 561.5L980.7 561L981.2 560.4L981.7 559.7L982.2 559L982.8 558.2L983.4 557.5L984 556.8L984.5 556.1L985.1 555.5L985.6 554.9L986.1 554.4L986.6 553.8L987 553.2L987.5 552.7L988 552.2L988.5 551.8L989 551.4L989.6 551.1L990.1 551L990.6 550.9L991.2 551L991.8 551.1L992.3 551.2L992.9 551.5L993.5 551.8L994.1 552.2L994.7 552.6L995.3 553L996 553.5L996.6 554.1L997.3 554.7L997.9 555.4L998.6 556.2L999.3 557.1L1000 557.9L1000.7 558.7L1001.4 559.6L1002 560.3L1002.7 561L1003.3 561.7L1003.9 562.4L1004.5 563L1005 563.6L1005.6 564.2L1006.2 564.8L1006.7 565.4L1007.3 565.9L1007.9 566.4L1008.5 566.9L1009.1 567.3L1009.8 567.8L1010.4 568.2L1011.1 568.6L1011.7 568.9L1012.4 569.2L1013.1 569.5L1013.8 569.8L1014.5 570L1015.2 570.2L1016 570.4L1016.8 570.5L1017.6 570.5L1018.4 570.5L1019.2 570.5L1020.1 570.4L1021 570.4L1021.8 570.4L1022.7 570.5L1023.6 570.6L1024.5 570.7L1025.4 570.9L1026.3 571.2L1027.3 571.4L1028.3 571.7L1029.2 572L1030.1 572.3L1031.1 572.6L1031.9 572.9L1032.8 573.3L1033.6 573.6L1034.4 574L1035.2 574.4L1036 574.8L1036.7 575.2L1037.5 575.6L1038.2 576L1038.9 576.3L1039.6 576.7L1040.3 576.9L1041 577.2L1041.7 577.5L1042.4 577.7L1043 577.9L1043.6 578.1L1044.3 578.3L1044.9 578.4L1045.6 578.5L1046.3 578.6L1047 578.6L1047.8 578.6L1048.6 578.5L1049.4 578.4L1050.2 578.3L1051 578.1L1051.9 577.9L1052.7 577.8L1053.6 577.6L1054.5 577.4L1055.4 577.3L1056.4 577.1L1057.4 577L1058.4 576.8L1059.5 576.6L1060.5 576.4L1061.6 576.3L1062.6 576.2L1063.6 576.1L1064.6 576.1L1065.5 576.1L1066.3 576.2L1067 576.3L1067.7 576.5L1068.4 576.7L1069 577L1069.6 577.3L1070.3 577.6L1070.9 577.9L1071.5 578.3L1072.2 578.6L1072.8 579L1073.5 579.4L1074.1 579.7L1074.8 580.1L1075.4 580.6L1076.1 581L1076.7 581.5L1077.4 582.1L1078.1 582.7L1078.9 583.3L1079.6 584L1080.5 584.9L1081.3 585.8L1082.2 586.7L1083.1 587.7L1084 588.7L1084.9 589.6L1085.7 590.5L1086.5 591.3L1087.2 592L1087.9 592.6L1088.6 593.2L1089.2 593.7L1089.7 594.1L1090.3 594.5L1090.8 594.9L1091.4 595.2L1091.9 595.6L1092.5 595.9L1093.1 596.2L1093.7 596.5L1094.4 596.8L1095 597.1L1095.7 597.4L1096.4 597.7L1097.1 597.9L1097.8 598.1L1098.4 598.3L1099.1 598.3L1099.8 598.4L1100.5 598.4L1101.1 598.3L1101.8 598.2L1102.4 598.1L1103.1 597.9L1103.8 597.7L1104.4 597.4L1105.1 597.1L1105.8 596.7L1106.5 596.2L1107.2 595.6L1107.9 594.9L1108.7 594.1L1109.4 593.3L1110.2 592.3L1110.9 591.4L1111.6 590.5L1112.4 589.7L1113.1 588.9L1113.8 588.2L1114.5 587.5L1115.1 586.9L1115.8 586.3L1116.4 585.7L1117 585.2L1117.6 584.7L1118.3 584.2L1118.9 583.9L1119.6 583.6L1120.2 583.3L1120.9 583.2L1121.6 583.1L1122.3 583.1L1123.1 583.2L1123.8 583.3L1124.5 583.4L1125.2 583.6L1126 583.8L1126.7 584L1127.5 584.1L1128.3 584.3L1129.1 584.4L1129.9 584.6L1130.7 584.8L1131.5 585L1132.3 585.3L1133.1 585.5L1134 585.7L1134.8 586L1135.6 586.2L1136.4 586.5L1137.2 586.8L1138 587.1L1138.8 587.5L1139.6 587.8L1140.4 588.1L1141.2 588.4L1142.1 588.7L1142.9 588.8L1143.7 589L1144.5 589L1145.3 589.1L1146.2 589L1147 589L1147.9 588.9L1148.7 588.8L1149.5 588.6L1150.3 588.4L1151 588.1L1151.7 587.8L1152.4 587.5L1153.1 587.1L1153.7 586.6L1154.3 586.1L1154.8 585.6L1155.4 585L1155.9 584.4L1156.4 583.8L1156.9 583.1L1157.4 582.5L1157.9 581.9L1158.3 581.3L1158.7 580.7L1159.1 580.2L1159.5 579.5L1159.8 578.9L1160.2 578.1L1160.6 577.3L1161 576.3L1161.4 575.2L1161.9 574L1162.3 572.6L1162.8 571L1163.3 569.4L1163.8 567.7L1164.2 565.9L1164.7 564.1L1165.3 562.4L1165.8 560.7L1166.3 559.1L1166.8 557.5L1167.4 555.9L1167.9 554.4L1168.5 552.8L1169.1 551.3L1169.7 549.7L1170.3 548.2L1170.8 546.7L1171.4 545.2L1171.9 543.7L1172.4 542.4L1172.8 541.4L1173.2 540.5L1173.6 539.7L1173.9 538.8L1174.3 537.7L1174.8 536.4L1175.3 534.8L1176 532.7L1176.8 530L1177.8 526.6L1178.9 522.5L1180.2 517.9L1181.6 512.9L1183.1 507.7L1184.5 502.4L1186 497.2L1187.3 492.3L1188.5 487.9L1189.6 484L1190.5 480.6L1191.3 477.7L1192 475L1192.7 472.5L1193.3 470.3L1193.8 468.1L1194.4 466L1194.9 463.9L1195.4 461.7L1196 459.4L1196.5 457L1197.1 454.7L1197.6 452.4L1198.1 450.1L1198.5 447.8L1199 445.5L1199.5 443.2L1200 441L1200.5 438.7L1201.1 436.4L1201.7 434.1L1202.3 431.7L1202.9 429.4L1203.6 427L1204.2 424.7L1204.9 422.4L1205.5 420.1L1206.2 417.8L1206.9 415.5L1207.5 413.3L1208.1 411.2L1208.8 409L1209.4 406.8L1210.1 404.7L1210.7 402.5L1211.3 400.5L1212 398.4L1212.6 396.5L1213.3 394.6L1213.9 392.9L1214.5 391.2L1215.1 389.6L1215.7 388.1L1216.3 386.7L1216.9 385.3L1217.5 384L1218.1 382.7L1218.8 381.4L1219.5 380.1L1220.3 378.8L1221.2 377.4L1222.1 376.1L1223.1 374.7L1224.1 373.4L1225.2 372.1L1226.3 370.8L1227.3 369.5L1228.4 368.3L1229.5 367.1L1230.5 366L1231.5 364.9L1232.5 363.9L1233.5 363L1234.5 362.1L1235.5 361.2L1236.5 360.3L1237.5 359.5L1238.6 358.7L1239.6 357.9L1240.8 357L1242 356.2L1243.2 355.4L1244.5 354.6L1245.8 353.8L1247.2 353L1248.5 352.3L1249.8 351.5L1251.1 350.8L1252.4 350.1L1253.6 349.3L1254.7 348.7L1255.8 348L1257 347.4L1258 346.8L1259.1 346.2L1260.1 345.6L1261.1 345L1262 344.4L1263 343.7L1263.8 342.9L1264.6 342.2L1265.3 341.4L1266 340.6L1266.6 339.9L1267.2 339L1267.8 338.2L1268.4 337.2L1269 336.2L1269.6 335.2L1270.2 334L1270.9 332.7L1271.5 331.3L1272.2 329.9L1272.8 328.3L1273.5 326.7L1274.1 325.1L1274.8 323.4L1275.4 321.8L1276 320.2L1276.6 318.6L1277.2 317.1L1277.7 315.6L1278.2 314L1278.7 312.5L1279.2 311L1279.6 309.4L1280.1 307.9L1280.6 306.3L1281.2 304.8L1281.7 303.3L1282.3 301.7L1282.9 300.2L1283.5 298.7L1284.1 297.1L1284.8 295.6L1285.4 294.1L1286.1 292.6L1286.8 291L1287.4 289.5L1288.1 287.9L1288.8 286.3L1289.5 284.7L1290.2 283.1L1290.9 281.4L1291.6 279.7L1292.4 278.1L1293.2 276.5L1294 275L1294.8 273.6L1295.7 272.2L1296.6 271L1297.5 269.8L1298.4 268.7L1299.4 267.7L1300.4 266.7L1301.5 265.8L1302.5 264.9L1303.6 263.9L1304.8 263L1305.9 262L1307.1 260.9L1308.3 259.9L1309.5 258.8L1310.8 257.7L1312.1 256.7L1313.4 255.6L1314.8 254.6L1316.1 253.6L1317.4 252.6L1318.7 251.7L1320 250.8L1321.2 250L1322.5 249.2L1323.8 248.3L1325.1 247.6L1326.4 246.8L1327.6 246.1L1328.9 245.4L1330.2 244.7L1331.5 244L1332.8 243.4L1334.1 242.8L1335.4 242.2L1336.7 241.6L1338 241.1L1339.3 240.6L1340.6 240.1L1341.9 239.7L1343.1 239.3L1344.3 238.9L1345.4 238.6L1346.5 238.3L1347.5 238.1L1348.6 237.9L1349.6 237.7L1350.6 237.6L1351.5 237.5L1352.5 237.5L1353.5 237.6L1354.5 237.6L1355.6 237.8L1356.6 238L1357.7 238.2L1358.7 238.5L1359.8 238.8L1360.8 239.2L1361.9 239.7L1362.9 240.2L1363.8 240.8L1364.8 241.5L1365.6 242.2L1366.5 243L1367.3 243.8L1368.1 244.8L1368.8 245.7L1369.6 246.8L1370.3 247.9L1371 249.1L1371.7 250.4L1372.4 251.7L1373.1 253.2L1373.8 254.9L1374.5 256.6L1375.2 258.5L1375.9 260.4L1376.5 262.4L1377.1 264.3L1377.7 266.2L1378.3 268L1378.8 269.6L1379.3 271.3L1379.8 272.9L1380.3 274.6L1380.7 276.3L1381.1 277.8L1381.4 279.3L1381.8 280.7L1382.1 282L1382.4 283.1L1382.7 284L1382.9 284.5L1383.1 284.7L1383.2 284.7L1383.2 284.4L1383.3 284.1L1383.4 283.9L1383.5 283.8L1383.6 283.9L1383.8 284.4L1384.1 285.4L1384.5 286.8L1384.9 288.6L1385.3 290.7L1385.8 293L1386.4 295.5L1386.9 298.1L1387.5 300.8L1388.1 303.4L1388.6 306L1389.2 308.4L1389.8 310.7L1390.4 313.1L1391 315.5L1391.6 317.9L1392.3 320.2L1392.9 322.6L1393.6 324.9L1394.2 327.1L1394.9 329.3L1395.6 331.4L1396.3 333.4L1397.1 335.4L1397.8 337.3L1398.6 339.1L1399.4 340.9L1400.2 342.6L1401 344.3L1401.7 346L1402.5 347.7L1403.3 349.3L1404.1 351" fill="none" stroke="#333" stroke-width="4.6" stroke-dasharray="15.8 16.1" stroke-dashoffset="0.5"/>
<path d="M1404.1 351L1404.9 352.7L1405.7 354.3L1406.5 355.9L1407.3 357.5L1408.1 359L1408.9 360.5L1409.6 362L1410.3 363.4L1411 364.7L1411.6 366L1412.1 367.3L1412.6 368.5L1413 369.7L1413.5 370.8L1413.9 371.9L1414.3 372.9L1414.7 373.9L1415.1 374.7L1415.5 375.5L1416 376.2L1416.4 376.7L1416.7 377.1L1417.1 377.4L1417.5 377.6L1417.9 377.9L1418.3 378.3L1418.8 378.7L1419.3 379.3L1419.9 380.1L1420.6 381L1421.3 382.2L1422 383.5L1422.7 384.9L1423.5 386.4L1424.3 387.8L1425.2 389.3L1426.2 390.7L1427.3 392.1L1428.5 393.3L1429.8 394.4L1431.2 395.5L1432.8 396.6L1434.4 397.6L1436.1 398.5L1437.8 399.5L1439.5 400.4L1441.3 401.3L1443 402.1L1444.6 403L1446.3 403.8L1447.9 404.6L1449.6 405.4L1451.2 406.1L1452.9 406.8L1454.5 407.5L1456.2 408.2L1457.8 408.9L1459.3 409.6L1460.8 410.3L1462.2 411L1463.6 411.6L1464.9 412.2L1466.2 412.8L1467.4 413.5L1468.7 414.1L1469.9 414.8L1471.2 415.6L1472.4 416.5L1473.7 417.5L1475 418.7L1476.3 420.1L1477.5 421.7L1478.8 423.3L1480.1 425L1481.3 426.6L1482.6 428.2L1483.9 429.7L1485.3 431L1486.6 432.1L1488 432.9L1489.4 433.6L1490.8 434.1L1492.2 434.6L1493.7 434.9L1495.2 435.2L1496.6 435.5L1498.1 435.9L1499.6 436.4L1501.2 436.9L1502.7 437.7L1504.3 438.5L1505.9 439.5L1507.6 440.5L1509.2 441.5L1510.9 442.5L1512.5 443.4L1514.2 444.1L1515.8 444.7L1517.3 445L1518.8 445.1L1520.3 444.9L1521.7 444.5L1523.2 444L1524.6 443.4L1526 442.8L1527.4 442.1L1528.9 441.6L1530.3 441.2L1531.9 441L1533.4 440.9L1535 440.8L1536.6 440.9L1538.3 440.9L1539.9 441.1L1541.6 441.3L1543.2 441.5L1544.9 441.8L1546.5 442.2L1548 442.6L1549.5 443.1L1551.1 443.6L1552.5 444.2L1554 444.9L1555.5 445.6L1556.9 446.3L1558.4 447.1L1559.8 448L1561.2 448.9L1562.6 449.9L1563.9 450.9L1565.2 452.1L1566.5 453.4L1567.8 454.8L1569 456.2L1570.3 457.5L1571.5 458.8L1572.8 460L1574.1 461.1L1575.5 462L1576.9 462.7L1578.3 463.2L1579.7 463.6L1581.1 463.9L1582.6 464.1L1584.1 464.3L1585.5 464.5L1587 464.6L1588.5 464.9L1590 465.2L1591.6 465.6L1593.3 466L1595 466.5L1596.8 467L1598.6 467.4L1600.3 467.9L1601.9 468.3L1603.3 468.7L1604.4 469L1605.4 469.2" fill="none" stroke="#333" stroke-width="4.6" stroke-dasharray="16.9 16.5" stroke-dashoffset="15.4"/>
<g font-family="'Liberation Sans', Arial, sans-serif" font-size="32" fill="#2d2d2d">
<text transform="translate(960.8 693.9) scale(1 1.05)" text-anchor="end">-5</text>
<text transform="translate(960.8 599.8) scale(1 1.05)" text-anchor="end">0</text>
<text transform="translate(960.8 505.7) scale(1 1.05)" text-anchor="end">5</text>
<text transform="translate(960.8 411.6) scale(1 1.05)" text-anchor="end">10</text>
<text transform="translate(960.8 317.6) scale(1 1.05)" text-anchor="end">15</text>
<text transform="translate(960.8 223.5) scale(1 1.05)" text-anchor="end">20</text>
<text transform="translate(960.8 129.4) scale(1 1.05)" text-anchor="end">25</text>
<text transform="translate(960.8 35.3) scale(1 1.05)" text-anchor="end">30</text>
<text transform="translate(1084.5 733.3) scale(1 1.05)" text-anchor="middle">0</text>
<text transform="translate(1189.7 733.3) scale(1 1.05)" text-anchor="middle">200</text>
<text transform="translate(1294.9 733.3) scale(1 1.05)" text-anchor="middle">400</text>
<text transform="translate(1400.2 733.3) scale(1 1.05)" text-anchor="middle">600</text>
<text transform="translate(1505.4 733.3) scale(1 1.05)" text-anchor="middle">800</text>
<text transform="translate(1610.6 733.3) scale(1 1.05)" text-anchor="middle">1000</text>
</g>
<text transform="translate(1297.8 804.5) scale(1 1.03)" text-anchor="middle" font-family="'Liberation Sans', Arial, sans-serif" font-weight="bold" font-size="35" fill="#2d2d2d">Time (ms)</text>
<g font-family="'Liberation Sans', Arial, sans-serif" font-weight="bold" font-size="35.5" fill="#000" text-anchor="middle">
<text transform="translate(865.2 355.4) rotate(-90) scale(1 1.03)">Response magnitude to perturbation</text>
<text transform="translate(908 355.4) rotate(-90) scale(1 1.03)">(cents)</text>
</g>
<text transform="translate(1097 65) scale(1 1.03)" font-family="'Liberation Sans', Arial, sans-serif" font-style="italic" font-size="29.4" fill="#111">Perturbation</text>
<path d="M1392 51.6H1476.5" stroke="#000" stroke-width="4.4" stroke-dasharray="16.8 16.6" fill="none"/>
<path d="M1392 89.3H1479.3" stroke="#000" stroke-width="4.4" fill="none"/>
<g font-family="'Liberation Sans', Arial, sans-serif" font-size="29.5" fill="#000">
<text transform="translate(1485.5 62.8) scale(1 1.03)">Controls</text>
<text transform="translate(1486.5 100.4) scale(1 1.03)">AD patients</text>
</g>
</g>
<g font-family="'Liberation Sans', Arial, sans-serif" font-weight="bold" font-size="47" fill="#000"><text transform="translate(10 453) scale(1 1.05)">B</text><text transform="translate(807.5 35.8) scale(1 1.05)">C</text></g>
<text transform="translate(8.5 34.8) scale(1 0.985)" font-family="'Liberation Sans', Arial, sans-serif" font-weight="bold" font-size="50" fill="#000">A</text>
</svg></body></html>
